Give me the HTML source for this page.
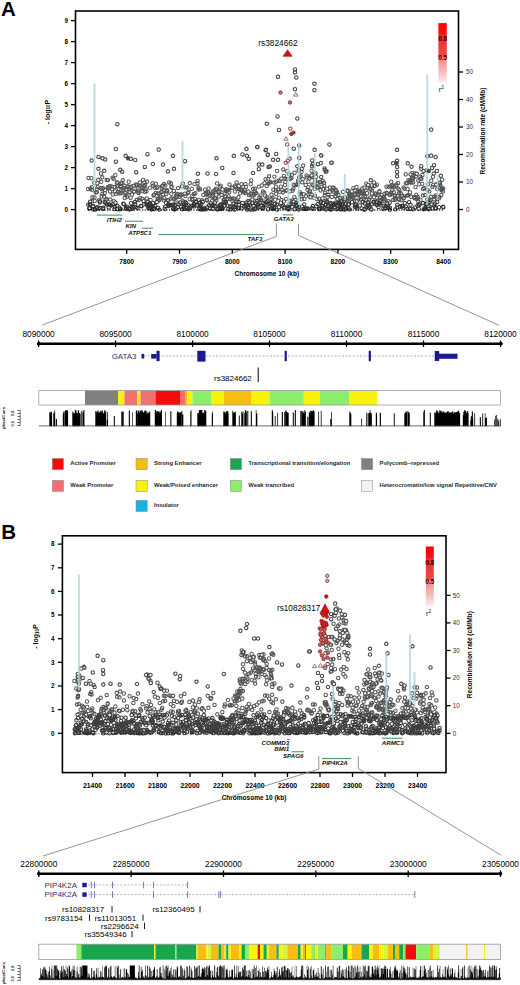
<!DOCTYPE html>
<html><head><meta charset="utf-8"><style>
html,body{margin:0;padding:0;background:#fff;width:520px;height:985px;overflow:hidden}
svg{display:block;font-family:"Liberation Sans", sans-serif}
</style></head><body>
<svg width="520" height="985" viewBox="0 0 520 985">
<text x="1" y="15.9" font-size="20.5" font-weight="bold" text-anchor="start" fill="#000">A</text>
<path d="M86.8 177.9a1.7 1.7 0 1 0 3.4 0a1.7 1.7 0 1 0 -3.4 0M86.5 189.0a1.7 1.7 0 1 0 3.4 0a1.7 1.7 0 1 0 -3.4 0M88.7 188.7a1.7 1.7 0 1 0 3.4 0a1.7 1.7 0 1 0 -3.4 0M90.0 187.2a1.7 1.7 0 1 0 3.4 0a1.7 1.7 0 1 0 -3.4 0M89.7 178.2a1.7 1.7 0 1 0 3.4 0a1.7 1.7 0 1 0 -3.4 0M90.3 189.8a1.7 1.7 0 1 0 3.4 0a1.7 1.7 0 1 0 -3.4 0M90.8 197.3a1.7 1.7 0 1 0 3.4 0a1.7 1.7 0 1 0 -3.4 0M90.3 201.2a1.7 1.7 0 1 0 3.4 0a1.7 1.7 0 1 0 -3.4 0M93.0 201.0a1.7 1.7 0 1 0 3.4 0a1.7 1.7 0 1 0 -3.4 0M92.8 197.5a1.7 1.7 0 1 0 3.4 0a1.7 1.7 0 1 0 -3.4 0M92.6 182.7a1.7 1.7 0 1 0 3.4 0a1.7 1.7 0 1 0 -3.4 0M94.0 192.6a1.7 1.7 0 1 0 3.4 0a1.7 1.7 0 1 0 -3.4 0M95.1 189.0a1.7 1.7 0 1 0 3.4 0a1.7 1.7 0 1 0 -3.4 0M95.1 192.1a1.7 1.7 0 1 0 3.4 0a1.7 1.7 0 1 0 -3.4 0M96.0 187.0a1.7 1.7 0 1 0 3.4 0a1.7 1.7 0 1 0 -3.4 0M95.7 183.2a1.7 1.7 0 1 0 3.4 0a1.7 1.7 0 1 0 -3.4 0M96.6 179.8a1.7 1.7 0 1 0 3.4 0a1.7 1.7 0 1 0 -3.4 0M97.4 200.1a1.7 1.7 0 1 0 3.4 0a1.7 1.7 0 1 0 -3.4 0M99.2 173.5a1.7 1.7 0 1 0 3.4 0a1.7 1.7 0 1 0 -3.4 0M99.2 188.3a1.7 1.7 0 1 0 3.4 0a1.7 1.7 0 1 0 -3.4 0M100.2 189.2a1.7 1.7 0 1 0 3.4 0a1.7 1.7 0 1 0 -3.4 0M99.9 196.2a1.7 1.7 0 1 0 3.4 0a1.7 1.7 0 1 0 -3.4 0M99.5 181.8a1.7 1.7 0 1 0 3.4 0a1.7 1.7 0 1 0 -3.4 0M100.6 194.0a1.7 1.7 0 1 0 3.4 0a1.7 1.7 0 1 0 -3.4 0M100.6 177.3a1.7 1.7 0 1 0 3.4 0a1.7 1.7 0 1 0 -3.4 0M101.2 188.3a1.7 1.7 0 1 0 3.4 0a1.7 1.7 0 1 0 -3.4 0M103.0 193.1a1.7 1.7 0 1 0 3.4 0a1.7 1.7 0 1 0 -3.4 0M102.4 197.0a1.7 1.7 0 1 0 3.4 0a1.7 1.7 0 1 0 -3.4 0M103.5 190.1a1.7 1.7 0 1 0 3.4 0a1.7 1.7 0 1 0 -3.4 0M103.8 199.8a1.7 1.7 0 1 0 3.4 0a1.7 1.7 0 1 0 -3.4 0M105.0 179.9a1.7 1.7 0 1 0 3.4 0a1.7 1.7 0 1 0 -3.4 0M105.0 199.3a1.7 1.7 0 1 0 3.4 0a1.7 1.7 0 1 0 -3.4 0M105.8 188.0a1.7 1.7 0 1 0 3.4 0a1.7 1.7 0 1 0 -3.4 0M106.2 180.1a1.7 1.7 0 1 0 3.4 0a1.7 1.7 0 1 0 -3.4 0M106.4 187.1a1.7 1.7 0 1 0 3.4 0a1.7 1.7 0 1 0 -3.4 0M108.3 191.4a1.7 1.7 0 1 0 3.4 0a1.7 1.7 0 1 0 -3.4 0M107.6 187.7a1.7 1.7 0 1 0 3.4 0a1.7 1.7 0 1 0 -3.4 0M108.6 199.4a1.7 1.7 0 1 0 3.4 0a1.7 1.7 0 1 0 -3.4 0M108.4 185.9a1.7 1.7 0 1 0 3.4 0a1.7 1.7 0 1 0 -3.4 0M109.9 186.4a1.7 1.7 0 1 0 3.4 0a1.7 1.7 0 1 0 -3.4 0M110.2 189.1a1.7 1.7 0 1 0 3.4 0a1.7 1.7 0 1 0 -3.4 0M111.0 194.5a1.7 1.7 0 1 0 3.4 0a1.7 1.7 0 1 0 -3.4 0M110.8 177.6a1.7 1.7 0 1 0 3.4 0a1.7 1.7 0 1 0 -3.4 0M112.2 201.2a1.7 1.7 0 1 0 3.4 0a1.7 1.7 0 1 0 -3.4 0M111.9 178.8a1.7 1.7 0 1 0 3.4 0a1.7 1.7 0 1 0 -3.4 0M113.3 187.0a1.7 1.7 0 1 0 3.4 0a1.7 1.7 0 1 0 -3.4 0M113.3 191.4a1.7 1.7 0 1 0 3.4 0a1.7 1.7 0 1 0 -3.4 0M113.6 175.1a1.7 1.7 0 1 0 3.4 0a1.7 1.7 0 1 0 -3.4 0M114.5 193.8a1.7 1.7 0 1 0 3.4 0a1.7 1.7 0 1 0 -3.4 0M115.2 182.2a1.7 1.7 0 1 0 3.4 0a1.7 1.7 0 1 0 -3.4 0M115.2 186.2a1.7 1.7 0 1 0 3.4 0a1.7 1.7 0 1 0 -3.4 0M115.8 183.2a1.7 1.7 0 1 0 3.4 0a1.7 1.7 0 1 0 -3.4 0M117.1 188.6a1.7 1.7 0 1 0 3.4 0a1.7 1.7 0 1 0 -3.4 0M116.5 192.5a1.7 1.7 0 1 0 3.4 0a1.7 1.7 0 1 0 -3.4 0M116.5 191.9a1.7 1.7 0 1 0 3.4 0a1.7 1.7 0 1 0 -3.4 0M117.9 193.5a1.7 1.7 0 1 0 3.4 0a1.7 1.7 0 1 0 -3.4 0M118.9 187.1a1.7 1.7 0 1 0 3.4 0a1.7 1.7 0 1 0 -3.4 0M119.1 185.8a1.7 1.7 0 1 0 3.4 0a1.7 1.7 0 1 0 -3.4 0M119.7 193.0a1.7 1.7 0 1 0 3.4 0a1.7 1.7 0 1 0 -3.4 0M119.3 186.4a1.7 1.7 0 1 0 3.4 0a1.7 1.7 0 1 0 -3.4 0M119.3 183.1a1.7 1.7 0 1 0 3.4 0a1.7 1.7 0 1 0 -3.4 0M121.1 180.3a1.7 1.7 0 1 0 3.4 0a1.7 1.7 0 1 0 -3.4 0M120.5 182.9a1.7 1.7 0 1 0 3.4 0a1.7 1.7 0 1 0 -3.4 0M121.1 191.3a1.7 1.7 0 1 0 3.4 0a1.7 1.7 0 1 0 -3.4 0M122.0 190.0a1.7 1.7 0 1 0 3.4 0a1.7 1.7 0 1 0 -3.4 0M122.7 185.8a1.7 1.7 0 1 0 3.4 0a1.7 1.7 0 1 0 -3.4 0M122.3 187.9a1.7 1.7 0 1 0 3.4 0a1.7 1.7 0 1 0 -3.4 0M123.0 198.0a1.7 1.7 0 1 0 3.4 0a1.7 1.7 0 1 0 -3.4 0M123.6 193.1a1.7 1.7 0 1 0 3.4 0a1.7 1.7 0 1 0 -3.4 0M123.9 195.2a1.7 1.7 0 1 0 3.4 0a1.7 1.7 0 1 0 -3.4 0M124.4 189.6a1.7 1.7 0 1 0 3.4 0a1.7 1.7 0 1 0 -3.4 0M125.2 196.7a1.7 1.7 0 1 0 3.4 0a1.7 1.7 0 1 0 -3.4 0M126.1 186.2a1.7 1.7 0 1 0 3.4 0a1.7 1.7 0 1 0 -3.4 0M126.2 187.3a1.7 1.7 0 1 0 3.4 0a1.7 1.7 0 1 0 -3.4 0M127.0 181.7a1.7 1.7 0 1 0 3.4 0a1.7 1.7 0 1 0 -3.4 0M127.2 188.8a1.7 1.7 0 1 0 3.4 0a1.7 1.7 0 1 0 -3.4 0M127.9 191.8a1.7 1.7 0 1 0 3.4 0a1.7 1.7 0 1 0 -3.4 0M127.8 192.5a1.7 1.7 0 1 0 3.4 0a1.7 1.7 0 1 0 -3.4 0M129.3 187.8a1.7 1.7 0 1 0 3.4 0a1.7 1.7 0 1 0 -3.4 0M129.0 197.7a1.7 1.7 0 1 0 3.4 0a1.7 1.7 0 1 0 -3.4 0M129.4 186.7a1.7 1.7 0 1 0 3.4 0a1.7 1.7 0 1 0 -3.4 0M130.3 194.7a1.7 1.7 0 1 0 3.4 0a1.7 1.7 0 1 0 -3.4 0M131.5 185.9a1.7 1.7 0 1 0 3.4 0a1.7 1.7 0 1 0 -3.4 0M132.2 191.5a1.7 1.7 0 1 0 3.4 0a1.7 1.7 0 1 0 -3.4 0M132.9 188.7a1.7 1.7 0 1 0 3.4 0a1.7 1.7 0 1 0 -3.4 0M132.6 191.4a1.7 1.7 0 1 0 3.4 0a1.7 1.7 0 1 0 -3.4 0M134.3 184.4a1.7 1.7 0 1 0 3.4 0a1.7 1.7 0 1 0 -3.4 0M135.2 199.9a1.7 1.7 0 1 0 3.4 0a1.7 1.7 0 1 0 -3.4 0M134.6 185.5a1.7 1.7 0 1 0 3.4 0a1.7 1.7 0 1 0 -3.4 0M135.2 199.6a1.7 1.7 0 1 0 3.4 0a1.7 1.7 0 1 0 -3.4 0M136.2 192.2a1.7 1.7 0 1 0 3.4 0a1.7 1.7 0 1 0 -3.4 0M135.3 185.4a1.7 1.7 0 1 0 3.4 0a1.7 1.7 0 1 0 -3.4 0M137.2 200.0a1.7 1.7 0 1 0 3.4 0a1.7 1.7 0 1 0 -3.4 0M136.9 193.1a1.7 1.7 0 1 0 3.4 0a1.7 1.7 0 1 0 -3.4 0M136.5 190.6a1.7 1.7 0 1 0 3.4 0a1.7 1.7 0 1 0 -3.4 0M138.1 182.5a1.7 1.7 0 1 0 3.4 0a1.7 1.7 0 1 0 -3.4 0M137.5 185.6a1.7 1.7 0 1 0 3.4 0a1.7 1.7 0 1 0 -3.4 0M139.0 185.4a1.7 1.7 0 1 0 3.4 0a1.7 1.7 0 1 0 -3.4 0M138.5 198.1a1.7 1.7 0 1 0 3.4 0a1.7 1.7 0 1 0 -3.4 0M139.9 187.0a1.7 1.7 0 1 0 3.4 0a1.7 1.7 0 1 0 -3.4 0M140.7 198.8a1.7 1.7 0 1 0 3.4 0a1.7 1.7 0 1 0 -3.4 0M140.3 188.6a1.7 1.7 0 1 0 3.4 0a1.7 1.7 0 1 0 -3.4 0M140.8 191.0a1.7 1.7 0 1 0 3.4 0a1.7 1.7 0 1 0 -3.4 0M141.4 179.9a1.7 1.7 0 1 0 3.4 0a1.7 1.7 0 1 0 -3.4 0M142.5 186.8a1.7 1.7 0 1 0 3.4 0a1.7 1.7 0 1 0 -3.4 0M142.8 182.6a1.7 1.7 0 1 0 3.4 0a1.7 1.7 0 1 0 -3.4 0M143.9 188.7a1.7 1.7 0 1 0 3.4 0a1.7 1.7 0 1 0 -3.4 0M143.4 185.1a1.7 1.7 0 1 0 3.4 0a1.7 1.7 0 1 0 -3.4 0M143.3 191.8a1.7 1.7 0 1 0 3.4 0a1.7 1.7 0 1 0 -3.4 0M144.7 191.3a1.7 1.7 0 1 0 3.4 0a1.7 1.7 0 1 0 -3.4 0M145.1 198.5a1.7 1.7 0 1 0 3.4 0a1.7 1.7 0 1 0 -3.4 0M145.3 181.6a1.7 1.7 0 1 0 3.4 0a1.7 1.7 0 1 0 -3.4 0M148.9 199.9a1.7 1.7 0 1 0 3.4 0a1.7 1.7 0 1 0 -3.4 0M148.4 187.8a1.7 1.7 0 1 0 3.4 0a1.7 1.7 0 1 0 -3.4 0M150.8 183.3a1.7 1.7 0 1 0 3.4 0a1.7 1.7 0 1 0 -3.4 0M151.2 185.7a1.7 1.7 0 1 0 3.4 0a1.7 1.7 0 1 0 -3.4 0M151.9 195.4a1.7 1.7 0 1 0 3.4 0a1.7 1.7 0 1 0 -3.4 0M152.5 194.5a1.7 1.7 0 1 0 3.4 0a1.7 1.7 0 1 0 -3.4 0M153.0 187.6a1.7 1.7 0 1 0 3.4 0a1.7 1.7 0 1 0 -3.4 0M154.0 193.0a1.7 1.7 0 1 0 3.4 0a1.7 1.7 0 1 0 -3.4 0M154.2 183.7a1.7 1.7 0 1 0 3.4 0a1.7 1.7 0 1 0 -3.4 0M155.1 195.7a1.7 1.7 0 1 0 3.4 0a1.7 1.7 0 1 0 -3.4 0M155.1 187.9a1.7 1.7 0 1 0 3.4 0a1.7 1.7 0 1 0 -3.4 0M155.8 200.8a1.7 1.7 0 1 0 3.4 0a1.7 1.7 0 1 0 -3.4 0M156.0 199.3a1.7 1.7 0 1 0 3.4 0a1.7 1.7 0 1 0 -3.4 0M156.0 186.7a1.7 1.7 0 1 0 3.4 0a1.7 1.7 0 1 0 -3.4 0M157.2 200.5a1.7 1.7 0 1 0 3.4 0a1.7 1.7 0 1 0 -3.4 0M156.4 193.4a1.7 1.7 0 1 0 3.4 0a1.7 1.7 0 1 0 -3.4 0M157.9 193.3a1.7 1.7 0 1 0 3.4 0a1.7 1.7 0 1 0 -3.4 0M158.9 196.5a1.7 1.7 0 1 0 3.4 0a1.7 1.7 0 1 0 -3.4 0M158.8 196.2a1.7 1.7 0 1 0 3.4 0a1.7 1.7 0 1 0 -3.4 0M158.4 198.4a1.7 1.7 0 1 0 3.4 0a1.7 1.7 0 1 0 -3.4 0M160.2 189.1a1.7 1.7 0 1 0 3.4 0a1.7 1.7 0 1 0 -3.4 0M159.5 192.2a1.7 1.7 0 1 0 3.4 0a1.7 1.7 0 1 0 -3.4 0M161.2 185.6a1.7 1.7 0 1 0 3.4 0a1.7 1.7 0 1 0 -3.4 0M161.1 194.5a1.7 1.7 0 1 0 3.4 0a1.7 1.7 0 1 0 -3.4 0M160.4 186.1a1.7 1.7 0 1 0 3.4 0a1.7 1.7 0 1 0 -3.4 0M162.3 184.0a1.7 1.7 0 1 0 3.4 0a1.7 1.7 0 1 0 -3.4 0M161.9 189.9a1.7 1.7 0 1 0 3.4 0a1.7 1.7 0 1 0 -3.4 0M162.2 200.5a1.7 1.7 0 1 0 3.4 0a1.7 1.7 0 1 0 -3.4 0M162.4 190.4a1.7 1.7 0 1 0 3.4 0a1.7 1.7 0 1 0 -3.4 0M162.6 198.2a1.7 1.7 0 1 0 3.4 0a1.7 1.7 0 1 0 -3.4 0M163.6 185.4a1.7 1.7 0 1 0 3.4 0a1.7 1.7 0 1 0 -3.4 0M164.7 193.9a1.7 1.7 0 1 0 3.4 0a1.7 1.7 0 1 0 -3.4 0M165.0 190.1a1.7 1.7 0 1 0 3.4 0a1.7 1.7 0 1 0 -3.4 0M165.5 190.5a1.7 1.7 0 1 0 3.4 0a1.7 1.7 0 1 0 -3.4 0M165.5 191.5a1.7 1.7 0 1 0 3.4 0a1.7 1.7 0 1 0 -3.4 0M165.9 200.0a1.7 1.7 0 1 0 3.4 0a1.7 1.7 0 1 0 -3.4 0M166.7 200.7a1.7 1.7 0 1 0 3.4 0a1.7 1.7 0 1 0 -3.4 0M167.5 182.4a1.7 1.7 0 1 0 3.4 0a1.7 1.7 0 1 0 -3.4 0M169.3 198.5a1.7 1.7 0 1 0 3.4 0a1.7 1.7 0 1 0 -3.4 0M169.1 183.3a1.7 1.7 0 1 0 3.4 0a1.7 1.7 0 1 0 -3.4 0M170.0 186.7a1.7 1.7 0 1 0 3.4 0a1.7 1.7 0 1 0 -3.4 0M169.7 187.4a1.7 1.7 0 1 0 3.4 0a1.7 1.7 0 1 0 -3.4 0M169.6 193.8a1.7 1.7 0 1 0 3.4 0a1.7 1.7 0 1 0 -3.4 0M171.1 198.4a1.7 1.7 0 1 0 3.4 0a1.7 1.7 0 1 0 -3.4 0M172.2 190.9a1.7 1.7 0 1 0 3.4 0a1.7 1.7 0 1 0 -3.4 0M172.5 199.3a1.7 1.7 0 1 0 3.4 0a1.7 1.7 0 1 0 -3.4 0M173.9 200.6a1.7 1.7 0 1 0 3.4 0a1.7 1.7 0 1 0 -3.4 0M174.7 196.5a1.7 1.7 0 1 0 3.4 0a1.7 1.7 0 1 0 -3.4 0M175.2 197.0a1.7 1.7 0 1 0 3.4 0a1.7 1.7 0 1 0 -3.4 0M174.6 195.3a1.7 1.7 0 1 0 3.4 0a1.7 1.7 0 1 0 -3.4 0M175.5 193.9a1.7 1.7 0 1 0 3.4 0a1.7 1.7 0 1 0 -3.4 0M176.4 188.1a1.7 1.7 0 1 0 3.4 0a1.7 1.7 0 1 0 -3.4 0M178.0 196.8a1.7 1.7 0 1 0 3.4 0a1.7 1.7 0 1 0 -3.4 0M178.4 194.4a1.7 1.7 0 1 0 3.4 0a1.7 1.7 0 1 0 -3.4 0M179.2 195.5a1.7 1.7 0 1 0 3.4 0a1.7 1.7 0 1 0 -3.4 0M179.7 194.4a1.7 1.7 0 1 0 3.4 0a1.7 1.7 0 1 0 -3.4 0M180.3 186.3a1.7 1.7 0 1 0 3.4 0a1.7 1.7 0 1 0 -3.4 0M180.9 200.8a1.7 1.7 0 1 0 3.4 0a1.7 1.7 0 1 0 -3.4 0M181.1 183.6a1.7 1.7 0 1 0 3.4 0a1.7 1.7 0 1 0 -3.4 0M183.0 193.8a1.7 1.7 0 1 0 3.4 0a1.7 1.7 0 1 0 -3.4 0M183.7 196.1a1.7 1.7 0 1 0 3.4 0a1.7 1.7 0 1 0 -3.4 0M183.9 187.4a1.7 1.7 0 1 0 3.4 0a1.7 1.7 0 1 0 -3.4 0M185.4 187.5a1.7 1.7 0 1 0 3.4 0a1.7 1.7 0 1 0 -3.4 0M186.3 193.0a1.7 1.7 0 1 0 3.4 0a1.7 1.7 0 1 0 -3.4 0M186.8 191.9a1.7 1.7 0 1 0 3.4 0a1.7 1.7 0 1 0 -3.4 0M188.1 183.1a1.7 1.7 0 1 0 3.4 0a1.7 1.7 0 1 0 -3.4 0M188.0 199.2a1.7 1.7 0 1 0 3.4 0a1.7 1.7 0 1 0 -3.4 0M190.3 198.9a1.7 1.7 0 1 0 3.4 0a1.7 1.7 0 1 0 -3.4 0M190.1 188.7a1.7 1.7 0 1 0 3.4 0a1.7 1.7 0 1 0 -3.4 0M190.5 195.7a1.7 1.7 0 1 0 3.4 0a1.7 1.7 0 1 0 -3.4 0M190.7 200.0a1.7 1.7 0 1 0 3.4 0a1.7 1.7 0 1 0 -3.4 0M192.2 194.0a1.7 1.7 0 1 0 3.4 0a1.7 1.7 0 1 0 -3.4 0M192.8 184.0a1.7 1.7 0 1 0 3.4 0a1.7 1.7 0 1 0 -3.4 0M193.3 199.0a1.7 1.7 0 1 0 3.4 0a1.7 1.7 0 1 0 -3.4 0M193.6 193.2a1.7 1.7 0 1 0 3.4 0a1.7 1.7 0 1 0 -3.4 0M195.8 183.4a1.7 1.7 0 1 0 3.4 0a1.7 1.7 0 1 0 -3.4 0M195.9 181.0a1.7 1.7 0 1 0 3.4 0a1.7 1.7 0 1 0 -3.4 0M196.8 187.6a1.7 1.7 0 1 0 3.4 0a1.7 1.7 0 1 0 -3.4 0M197.1 200.0a1.7 1.7 0 1 0 3.4 0a1.7 1.7 0 1 0 -3.4 0M197.0 189.5a1.7 1.7 0 1 0 3.4 0a1.7 1.7 0 1 0 -3.4 0M198.4 189.3a1.7 1.7 0 1 0 3.4 0a1.7 1.7 0 1 0 -3.4 0M200.3 200.3a1.7 1.7 0 1 0 3.4 0a1.7 1.7 0 1 0 -3.4 0M201.7 194.9a1.7 1.7 0 1 0 3.4 0a1.7 1.7 0 1 0 -3.4 0M204.2 194.0a1.7 1.7 0 1 0 3.4 0a1.7 1.7 0 1 0 -3.4 0M204.1 192.7a1.7 1.7 0 1 0 3.4 0a1.7 1.7 0 1 0 -3.4 0M203.4 189.7a1.7 1.7 0 1 0 3.4 0a1.7 1.7 0 1 0 -3.4 0M204.7 193.2a1.7 1.7 0 1 0 3.4 0a1.7 1.7 0 1 0 -3.4 0M204.4 194.5a1.7 1.7 0 1 0 3.4 0a1.7 1.7 0 1 0 -3.4 0M205.0 199.6a1.7 1.7 0 1 0 3.4 0a1.7 1.7 0 1 0 -3.4 0M206.1 192.0a1.7 1.7 0 1 0 3.4 0a1.7 1.7 0 1 0 -3.4 0M205.3 200.5a1.7 1.7 0 1 0 3.4 0a1.7 1.7 0 1 0 -3.4 0M206.9 188.5a1.7 1.7 0 1 0 3.4 0a1.7 1.7 0 1 0 -3.4 0M206.5 192.8a1.7 1.7 0 1 0 3.4 0a1.7 1.7 0 1 0 -3.4 0M207.9 196.2a1.7 1.7 0 1 0 3.4 0a1.7 1.7 0 1 0 -3.4 0M208.3 194.6a1.7 1.7 0 1 0 3.4 0a1.7 1.7 0 1 0 -3.4 0M210.1 196.5a1.7 1.7 0 1 0 3.4 0a1.7 1.7 0 1 0 -3.4 0M210.2 201.1a1.7 1.7 0 1 0 3.4 0a1.7 1.7 0 1 0 -3.4 0M210.6 192.7a1.7 1.7 0 1 0 3.4 0a1.7 1.7 0 1 0 -3.4 0M211.1 195.6a1.7 1.7 0 1 0 3.4 0a1.7 1.7 0 1 0 -3.4 0M211.4 191.4a1.7 1.7 0 1 0 3.4 0a1.7 1.7 0 1 0 -3.4 0M212.6 190.6a1.7 1.7 0 1 0 3.4 0a1.7 1.7 0 1 0 -3.4 0M212.9 198.1a1.7 1.7 0 1 0 3.4 0a1.7 1.7 0 1 0 -3.4 0M214.0 198.3a1.7 1.7 0 1 0 3.4 0a1.7 1.7 0 1 0 -3.4 0M214.0 189.1a1.7 1.7 0 1 0 3.4 0a1.7 1.7 0 1 0 -3.4 0M214.4 189.8a1.7 1.7 0 1 0 3.4 0a1.7 1.7 0 1 0 -3.4 0M214.7 200.5a1.7 1.7 0 1 0 3.4 0a1.7 1.7 0 1 0 -3.4 0M214.6 195.0a1.7 1.7 0 1 0 3.4 0a1.7 1.7 0 1 0 -3.4 0M215.4 183.5a1.7 1.7 0 1 0 3.4 0a1.7 1.7 0 1 0 -3.4 0M217.2 196.5a1.7 1.7 0 1 0 3.4 0a1.7 1.7 0 1 0 -3.4 0M216.7 191.4a1.7 1.7 0 1 0 3.4 0a1.7 1.7 0 1 0 -3.4 0M217.6 192.1a1.7 1.7 0 1 0 3.4 0a1.7 1.7 0 1 0 -3.4 0M218.1 187.2a1.7 1.7 0 1 0 3.4 0a1.7 1.7 0 1 0 -3.4 0M219.0 185.8a1.7 1.7 0 1 0 3.4 0a1.7 1.7 0 1 0 -3.4 0M219.8 194.9a1.7 1.7 0 1 0 3.4 0a1.7 1.7 0 1 0 -3.4 0M220.8 189.5a1.7 1.7 0 1 0 3.4 0a1.7 1.7 0 1 0 -3.4 0M222.1 200.7a1.7 1.7 0 1 0 3.4 0a1.7 1.7 0 1 0 -3.4 0M222.0 199.9a1.7 1.7 0 1 0 3.4 0a1.7 1.7 0 1 0 -3.4 0M223.1 193.4a1.7 1.7 0 1 0 3.4 0a1.7 1.7 0 1 0 -3.4 0M223.1 196.3a1.7 1.7 0 1 0 3.4 0a1.7 1.7 0 1 0 -3.4 0M224.0 196.6a1.7 1.7 0 1 0 3.4 0a1.7 1.7 0 1 0 -3.4 0M224.2 191.2a1.7 1.7 0 1 0 3.4 0a1.7 1.7 0 1 0 -3.4 0M224.4 189.3a1.7 1.7 0 1 0 3.4 0a1.7 1.7 0 1 0 -3.4 0M225.0 191.4a1.7 1.7 0 1 0 3.4 0a1.7 1.7 0 1 0 -3.4 0M226.0 198.8a1.7 1.7 0 1 0 3.4 0a1.7 1.7 0 1 0 -3.4 0M225.4 190.1a1.7 1.7 0 1 0 3.4 0a1.7 1.7 0 1 0 -3.4 0M227.0 196.4a1.7 1.7 0 1 0 3.4 0a1.7 1.7 0 1 0 -3.4 0M226.4 189.9a1.7 1.7 0 1 0 3.4 0a1.7 1.7 0 1 0 -3.4 0M227.6 192.0a1.7 1.7 0 1 0 3.4 0a1.7 1.7 0 1 0 -3.4 0M227.8 184.5a1.7 1.7 0 1 0 3.4 0a1.7 1.7 0 1 0 -3.4 0M228.0 198.8a1.7 1.7 0 1 0 3.4 0a1.7 1.7 0 1 0 -3.4 0M230.2 187.9a1.7 1.7 0 1 0 3.4 0a1.7 1.7 0 1 0 -3.4 0M230.6 198.6a1.7 1.7 0 1 0 3.4 0a1.7 1.7 0 1 0 -3.4 0M230.8 200.9a1.7 1.7 0 1 0 3.4 0a1.7 1.7 0 1 0 -3.4 0M230.7 187.6a1.7 1.7 0 1 0 3.4 0a1.7 1.7 0 1 0 -3.4 0M232.1 198.5a1.7 1.7 0 1 0 3.4 0a1.7 1.7 0 1 0 -3.4 0M232.7 198.7a1.7 1.7 0 1 0 3.4 0a1.7 1.7 0 1 0 -3.4 0M233.3 191.6a1.7 1.7 0 1 0 3.4 0a1.7 1.7 0 1 0 -3.4 0M234.1 187.0a1.7 1.7 0 1 0 3.4 0a1.7 1.7 0 1 0 -3.4 0M233.4 185.7a1.7 1.7 0 1 0 3.4 0a1.7 1.7 0 1 0 -3.4 0M235.0 182.4a1.7 1.7 0 1 0 3.4 0a1.7 1.7 0 1 0 -3.4 0M235.7 188.8a1.7 1.7 0 1 0 3.4 0a1.7 1.7 0 1 0 -3.4 0M236.7 197.3a1.7 1.7 0 1 0 3.4 0a1.7 1.7 0 1 0 -3.4 0M237.1 185.9a1.7 1.7 0 1 0 3.4 0a1.7 1.7 0 1 0 -3.4 0M237.5 189.3a1.7 1.7 0 1 0 3.4 0a1.7 1.7 0 1 0 -3.4 0M238.4 193.2a1.7 1.7 0 1 0 3.4 0a1.7 1.7 0 1 0 -3.4 0M239.0 190.4a1.7 1.7 0 1 0 3.4 0a1.7 1.7 0 1 0 -3.4 0M239.5 189.2a1.7 1.7 0 1 0 3.4 0a1.7 1.7 0 1 0 -3.4 0M239.7 184.3a1.7 1.7 0 1 0 3.4 0a1.7 1.7 0 1 0 -3.4 0M241.0 187.0a1.7 1.7 0 1 0 3.4 0a1.7 1.7 0 1 0 -3.4 0M240.6 190.1a1.7 1.7 0 1 0 3.4 0a1.7 1.7 0 1 0 -3.4 0M241.5 191.8a1.7 1.7 0 1 0 3.4 0a1.7 1.7 0 1 0 -3.4 0M242.2 192.1a1.7 1.7 0 1 0 3.4 0a1.7 1.7 0 1 0 -3.4 0M242.8 190.1a1.7 1.7 0 1 0 3.4 0a1.7 1.7 0 1 0 -3.4 0M242.7 190.0a1.7 1.7 0 1 0 3.4 0a1.7 1.7 0 1 0 -3.4 0M243.3 193.1a1.7 1.7 0 1 0 3.4 0a1.7 1.7 0 1 0 -3.4 0M243.7 184.2a1.7 1.7 0 1 0 3.4 0a1.7 1.7 0 1 0 -3.4 0M244.3 186.9a1.7 1.7 0 1 0 3.4 0a1.7 1.7 0 1 0 -3.4 0M246.3 201.0a1.7 1.7 0 1 0 3.4 0a1.7 1.7 0 1 0 -3.4 0M247.3 195.1a1.7 1.7 0 1 0 3.4 0a1.7 1.7 0 1 0 -3.4 0M246.6 191.6a1.7 1.7 0 1 0 3.4 0a1.7 1.7 0 1 0 -3.4 0M247.9 200.9a1.7 1.7 0 1 0 3.4 0a1.7 1.7 0 1 0 -3.4 0M248.9 194.4a1.7 1.7 0 1 0 3.4 0a1.7 1.7 0 1 0 -3.4 0M249.0 184.3a1.7 1.7 0 1 0 3.4 0a1.7 1.7 0 1 0 -3.4 0M249.5 180.4a1.7 1.7 0 1 0 3.4 0a1.7 1.7 0 1 0 -3.4 0M249.5 193.5a1.7 1.7 0 1 0 3.4 0a1.7 1.7 0 1 0 -3.4 0M250.9 196.2a1.7 1.7 0 1 0 3.4 0a1.7 1.7 0 1 0 -3.4 0M250.5 199.4a1.7 1.7 0 1 0 3.4 0a1.7 1.7 0 1 0 -3.4 0M251.4 188.9a1.7 1.7 0 1 0 3.4 0a1.7 1.7 0 1 0 -3.4 0M252.3 194.9a1.7 1.7 0 1 0 3.4 0a1.7 1.7 0 1 0 -3.4 0M253.2 191.5a1.7 1.7 0 1 0 3.4 0a1.7 1.7 0 1 0 -3.4 0M253.1 188.7a1.7 1.7 0 1 0 3.4 0a1.7 1.7 0 1 0 -3.4 0M253.7 193.4a1.7 1.7 0 1 0 3.4 0a1.7 1.7 0 1 0 -3.4 0M253.8 200.8a1.7 1.7 0 1 0 3.4 0a1.7 1.7 0 1 0 -3.4 0M254.6 193.1a1.7 1.7 0 1 0 3.4 0a1.7 1.7 0 1 0 -3.4 0M257.0 200.2a1.7 1.7 0 1 0 3.4 0a1.7 1.7 0 1 0 -3.4 0M257.2 186.6a1.7 1.7 0 1 0 3.4 0a1.7 1.7 0 1 0 -3.4 0M257.7 197.5a1.7 1.7 0 1 0 3.4 0a1.7 1.7 0 1 0 -3.4 0M259.1 200.9a1.7 1.7 0 1 0 3.4 0a1.7 1.7 0 1 0 -3.4 0M258.7 195.4a1.7 1.7 0 1 0 3.4 0a1.7 1.7 0 1 0 -3.4 0M259.3 199.4a1.7 1.7 0 1 0 3.4 0a1.7 1.7 0 1 0 -3.4 0M260.1 185.4a1.7 1.7 0 1 0 3.4 0a1.7 1.7 0 1 0 -3.4 0M259.8 200.0a1.7 1.7 0 1 0 3.4 0a1.7 1.7 0 1 0 -3.4 0M261.3 191.5a1.7 1.7 0 1 0 3.4 0a1.7 1.7 0 1 0 -3.4 0M262.5 192.6a1.7 1.7 0 1 0 3.4 0a1.7 1.7 0 1 0 -3.4 0M262.7 183.1a1.7 1.7 0 1 0 3.4 0a1.7 1.7 0 1 0 -3.4 0M263.9 179.1a1.7 1.7 0 1 0 3.4 0a1.7 1.7 0 1 0 -3.4 0M263.5 195.7a1.7 1.7 0 1 0 3.4 0a1.7 1.7 0 1 0 -3.4 0M264.9 199.2a1.7 1.7 0 1 0 3.4 0a1.7 1.7 0 1 0 -3.4 0M265.0 185.9a1.7 1.7 0 1 0 3.4 0a1.7 1.7 0 1 0 -3.4 0M265.5 197.2a1.7 1.7 0 1 0 3.4 0a1.7 1.7 0 1 0 -3.4 0M266.5 179.3a1.7 1.7 0 1 0 3.4 0a1.7 1.7 0 1 0 -3.4 0M266.7 183.7a1.7 1.7 0 1 0 3.4 0a1.7 1.7 0 1 0 -3.4 0M267.4 176.3a1.7 1.7 0 1 0 3.4 0a1.7 1.7 0 1 0 -3.4 0M267.7 182.8a1.7 1.7 0 1 0 3.4 0a1.7 1.7 0 1 0 -3.4 0M268.7 182.3a1.7 1.7 0 1 0 3.4 0a1.7 1.7 0 1 0 -3.4 0M269.7 198.9a1.7 1.7 0 1 0 3.4 0a1.7 1.7 0 1 0 -3.4 0M269.8 194.6a1.7 1.7 0 1 0 3.4 0a1.7 1.7 0 1 0 -3.4 0M270.9 197.6a1.7 1.7 0 1 0 3.4 0a1.7 1.7 0 1 0 -3.4 0M271.7 189.7a1.7 1.7 0 1 0 3.4 0a1.7 1.7 0 1 0 -3.4 0M272.7 176.6a1.7 1.7 0 1 0 3.4 0a1.7 1.7 0 1 0 -3.4 0M272.5 182.5a1.7 1.7 0 1 0 3.4 0a1.7 1.7 0 1 0 -3.4 0M273.5 199.7a1.7 1.7 0 1 0 3.4 0a1.7 1.7 0 1 0 -3.4 0M274.2 181.8a1.7 1.7 0 1 0 3.4 0a1.7 1.7 0 1 0 -3.4 0M274.1 190.2a1.7 1.7 0 1 0 3.4 0a1.7 1.7 0 1 0 -3.4 0M274.3 186.7a1.7 1.7 0 1 0 3.4 0a1.7 1.7 0 1 0 -3.4 0M274.4 193.8a1.7 1.7 0 1 0 3.4 0a1.7 1.7 0 1 0 -3.4 0M275.4 171.0a1.7 1.7 0 1 0 3.4 0a1.7 1.7 0 1 0 -3.4 0M276.3 189.7a1.7 1.7 0 1 0 3.4 0a1.7 1.7 0 1 0 -3.4 0M276.9 180.7a1.7 1.7 0 1 0 3.4 0a1.7 1.7 0 1 0 -3.4 0M278.0 191.8a1.7 1.7 0 1 0 3.4 0a1.7 1.7 0 1 0 -3.4 0M277.3 197.7a1.7 1.7 0 1 0 3.4 0a1.7 1.7 0 1 0 -3.4 0M278.4 181.1a1.7 1.7 0 1 0 3.4 0a1.7 1.7 0 1 0 -3.4 0M279.2 186.6a1.7 1.7 0 1 0 3.4 0a1.7 1.7 0 1 0 -3.4 0M279.7 200.1a1.7 1.7 0 1 0 3.4 0a1.7 1.7 0 1 0 -3.4 0M279.7 178.6a1.7 1.7 0 1 0 3.4 0a1.7 1.7 0 1 0 -3.4 0M281.0 192.5a1.7 1.7 0 1 0 3.4 0a1.7 1.7 0 1 0 -3.4 0M280.7 190.1a1.7 1.7 0 1 0 3.4 0a1.7 1.7 0 1 0 -3.4 0M281.2 192.2a1.7 1.7 0 1 0 3.4 0a1.7 1.7 0 1 0 -3.4 0M282.3 201.2a1.7 1.7 0 1 0 3.4 0a1.7 1.7 0 1 0 -3.4 0M282.3 176.0a1.7 1.7 0 1 0 3.4 0a1.7 1.7 0 1 0 -3.4 0M283.1 178.5a1.7 1.7 0 1 0 3.4 0a1.7 1.7 0 1 0 -3.4 0M284.2 198.9a1.7 1.7 0 1 0 3.4 0a1.7 1.7 0 1 0 -3.4 0M283.6 181.9a1.7 1.7 0 1 0 3.4 0a1.7 1.7 0 1 0 -3.4 0M283.4 185.0a1.7 1.7 0 1 0 3.4 0a1.7 1.7 0 1 0 -3.4 0M284.8 190.3a1.7 1.7 0 1 0 3.4 0a1.7 1.7 0 1 0 -3.4 0M284.5 190.7a1.7 1.7 0 1 0 3.4 0a1.7 1.7 0 1 0 -3.4 0M285.0 179.1a1.7 1.7 0 1 0 3.4 0a1.7 1.7 0 1 0 -3.4 0M285.5 171.2a1.7 1.7 0 1 0 3.4 0a1.7 1.7 0 1 0 -3.4 0M285.4 190.1a1.7 1.7 0 1 0 3.4 0a1.7 1.7 0 1 0 -3.4 0M288.0 191.3a1.7 1.7 0 1 0 3.4 0a1.7 1.7 0 1 0 -3.4 0M287.4 174.4a1.7 1.7 0 1 0 3.4 0a1.7 1.7 0 1 0 -3.4 0M288.5 200.7a1.7 1.7 0 1 0 3.4 0a1.7 1.7 0 1 0 -3.4 0M288.3 178.9a1.7 1.7 0 1 0 3.4 0a1.7 1.7 0 1 0 -3.4 0M289.4 177.9a1.7 1.7 0 1 0 3.4 0a1.7 1.7 0 1 0 -3.4 0M290.0 174.9a1.7 1.7 0 1 0 3.4 0a1.7 1.7 0 1 0 -3.4 0M289.8 177.9a1.7 1.7 0 1 0 3.4 0a1.7 1.7 0 1 0 -3.4 0M291.0 190.6a1.7 1.7 0 1 0 3.4 0a1.7 1.7 0 1 0 -3.4 0M290.5 200.6a1.7 1.7 0 1 0 3.4 0a1.7 1.7 0 1 0 -3.4 0M291.6 188.8a1.7 1.7 0 1 0 3.4 0a1.7 1.7 0 1 0 -3.4 0M292.1 184.8a1.7 1.7 0 1 0 3.4 0a1.7 1.7 0 1 0 -3.4 0M292.7 197.1a1.7 1.7 0 1 0 3.4 0a1.7 1.7 0 1 0 -3.4 0M292.9 172.7a1.7 1.7 0 1 0 3.4 0a1.7 1.7 0 1 0 -3.4 0M293.7 199.8a1.7 1.7 0 1 0 3.4 0a1.7 1.7 0 1 0 -3.4 0M294.0 185.0a1.7 1.7 0 1 0 3.4 0a1.7 1.7 0 1 0 -3.4 0M296.1 184.7a1.7 1.7 0 1 0 3.4 0a1.7 1.7 0 1 0 -3.4 0M295.4 184.5a1.7 1.7 0 1 0 3.4 0a1.7 1.7 0 1 0 -3.4 0M296.3 180.8a1.7 1.7 0 1 0 3.4 0a1.7 1.7 0 1 0 -3.4 0M296.7 182.3a1.7 1.7 0 1 0 3.4 0a1.7 1.7 0 1 0 -3.4 0M298.2 194.2a1.7 1.7 0 1 0 3.4 0a1.7 1.7 0 1 0 -3.4 0M297.6 177.2a1.7 1.7 0 1 0 3.4 0a1.7 1.7 0 1 0 -3.4 0M298.1 192.1a1.7 1.7 0 1 0 3.4 0a1.7 1.7 0 1 0 -3.4 0M299.2 196.1a1.7 1.7 0 1 0 3.4 0a1.7 1.7 0 1 0 -3.4 0M299.2 193.8a1.7 1.7 0 1 0 3.4 0a1.7 1.7 0 1 0 -3.4 0M299.0 176.3a1.7 1.7 0 1 0 3.4 0a1.7 1.7 0 1 0 -3.4 0M299.8 171.7a1.7 1.7 0 1 0 3.4 0a1.7 1.7 0 1 0 -3.4 0M300.1 199.3a1.7 1.7 0 1 0 3.4 0a1.7 1.7 0 1 0 -3.4 0M300.1 169.0a1.7 1.7 0 1 0 3.4 0a1.7 1.7 0 1 0 -3.4 0M300.6 182.2a1.7 1.7 0 1 0 3.4 0a1.7 1.7 0 1 0 -3.4 0M301.0 179.2a1.7 1.7 0 1 0 3.4 0a1.7 1.7 0 1 0 -3.4 0M301.5 165.5a1.7 1.7 0 1 0 3.4 0a1.7 1.7 0 1 0 -3.4 0M302.0 194.2a1.7 1.7 0 1 0 3.4 0a1.7 1.7 0 1 0 -3.4 0M302.5 198.9a1.7 1.7 0 1 0 3.4 0a1.7 1.7 0 1 0 -3.4 0M304.0 184.9a1.7 1.7 0 1 0 3.4 0a1.7 1.7 0 1 0 -3.4 0M304.2 196.1a1.7 1.7 0 1 0 3.4 0a1.7 1.7 0 1 0 -3.4 0M304.9 175.4a1.7 1.7 0 1 0 3.4 0a1.7 1.7 0 1 0 -3.4 0M305.0 177.4a1.7 1.7 0 1 0 3.4 0a1.7 1.7 0 1 0 -3.4 0M305.8 189.7a1.7 1.7 0 1 0 3.4 0a1.7 1.7 0 1 0 -3.4 0M306.7 181.8a1.7 1.7 0 1 0 3.4 0a1.7 1.7 0 1 0 -3.4 0M306.9 194.0a1.7 1.7 0 1 0 3.4 0a1.7 1.7 0 1 0 -3.4 0M306.5 187.2a1.7 1.7 0 1 0 3.4 0a1.7 1.7 0 1 0 -3.4 0M307.7 178.3a1.7 1.7 0 1 0 3.4 0a1.7 1.7 0 1 0 -3.4 0M308.2 192.5a1.7 1.7 0 1 0 3.4 0a1.7 1.7 0 1 0 -3.4 0M308.2 190.7a1.7 1.7 0 1 0 3.4 0a1.7 1.7 0 1 0 -3.4 0M308.9 197.1a1.7 1.7 0 1 0 3.4 0a1.7 1.7 0 1 0 -3.4 0M309.1 176.5a1.7 1.7 0 1 0 3.4 0a1.7 1.7 0 1 0 -3.4 0M308.6 197.4a1.7 1.7 0 1 0 3.4 0a1.7 1.7 0 1 0 -3.4 0M310.0 194.5a1.7 1.7 0 1 0 3.4 0a1.7 1.7 0 1 0 -3.4 0M309.9 170.7a1.7 1.7 0 1 0 3.4 0a1.7 1.7 0 1 0 -3.4 0M310.7 184.6a1.7 1.7 0 1 0 3.4 0a1.7 1.7 0 1 0 -3.4 0M310.5 177.1a1.7 1.7 0 1 0 3.4 0a1.7 1.7 0 1 0 -3.4 0M311.7 185.5a1.7 1.7 0 1 0 3.4 0a1.7 1.7 0 1 0 -3.4 0M312.2 197.8a1.7 1.7 0 1 0 3.4 0a1.7 1.7 0 1 0 -3.4 0M312.7 174.2a1.7 1.7 0 1 0 3.4 0a1.7 1.7 0 1 0 -3.4 0M313.3 195.6a1.7 1.7 0 1 0 3.4 0a1.7 1.7 0 1 0 -3.4 0M312.9 189.0a1.7 1.7 0 1 0 3.4 0a1.7 1.7 0 1 0 -3.4 0M313.7 186.6a1.7 1.7 0 1 0 3.4 0a1.7 1.7 0 1 0 -3.4 0M313.4 180.5a1.7 1.7 0 1 0 3.4 0a1.7 1.7 0 1 0 -3.4 0M313.9 173.2a1.7 1.7 0 1 0 3.4 0a1.7 1.7 0 1 0 -3.4 0M315.3 199.2a1.7 1.7 0 1 0 3.4 0a1.7 1.7 0 1 0 -3.4 0M314.4 176.9a1.7 1.7 0 1 0 3.4 0a1.7 1.7 0 1 0 -3.4 0M316.2 183.2a1.7 1.7 0 1 0 3.4 0a1.7 1.7 0 1 0 -3.4 0M315.5 187.5a1.7 1.7 0 1 0 3.4 0a1.7 1.7 0 1 0 -3.4 0M316.5 187.5a1.7 1.7 0 1 0 3.4 0a1.7 1.7 0 1 0 -3.4 0M317.7 181.9a1.7 1.7 0 1 0 3.4 0a1.7 1.7 0 1 0 -3.4 0M317.4 198.8a1.7 1.7 0 1 0 3.4 0a1.7 1.7 0 1 0 -3.4 0M318.9 190.3a1.7 1.7 0 1 0 3.4 0a1.7 1.7 0 1 0 -3.4 0M318.8 182.0a1.7 1.7 0 1 0 3.4 0a1.7 1.7 0 1 0 -3.4 0M320.0 186.7a1.7 1.7 0 1 0 3.4 0a1.7 1.7 0 1 0 -3.4 0M321.1 180.9a1.7 1.7 0 1 0 3.4 0a1.7 1.7 0 1 0 -3.4 0M320.9 198.5a1.7 1.7 0 1 0 3.4 0a1.7 1.7 0 1 0 -3.4 0M321.4 188.9a1.7 1.7 0 1 0 3.4 0a1.7 1.7 0 1 0 -3.4 0M323.0 200.8a1.7 1.7 0 1 0 3.4 0a1.7 1.7 0 1 0 -3.4 0M322.4 182.8a1.7 1.7 0 1 0 3.4 0a1.7 1.7 0 1 0 -3.4 0M323.2 195.0a1.7 1.7 0 1 0 3.4 0a1.7 1.7 0 1 0 -3.4 0M322.5 185.7a1.7 1.7 0 1 0 3.4 0a1.7 1.7 0 1 0 -3.4 0M323.3 192.9a1.7 1.7 0 1 0 3.4 0a1.7 1.7 0 1 0 -3.4 0M325.2 200.9a1.7 1.7 0 1 0 3.4 0a1.7 1.7 0 1 0 -3.4 0M325.9 196.9a1.7 1.7 0 1 0 3.4 0a1.7 1.7 0 1 0 -3.4 0M325.4 188.7a1.7 1.7 0 1 0 3.4 0a1.7 1.7 0 1 0 -3.4 0M326.5 194.8a1.7 1.7 0 1 0 3.4 0a1.7 1.7 0 1 0 -3.4 0M328.0 192.1a1.7 1.7 0 1 0 3.4 0a1.7 1.7 0 1 0 -3.4 0M328.2 187.5a1.7 1.7 0 1 0 3.4 0a1.7 1.7 0 1 0 -3.4 0M330.1 196.9a1.7 1.7 0 1 0 3.4 0a1.7 1.7 0 1 0 -3.4 0M330.4 190.0a1.7 1.7 0 1 0 3.4 0a1.7 1.7 0 1 0 -3.4 0M330.9 187.8a1.7 1.7 0 1 0 3.4 0a1.7 1.7 0 1 0 -3.4 0M331.6 191.4a1.7 1.7 0 1 0 3.4 0a1.7 1.7 0 1 0 -3.4 0M331.8 187.7a1.7 1.7 0 1 0 3.4 0a1.7 1.7 0 1 0 -3.4 0M334.0 196.6a1.7 1.7 0 1 0 3.4 0a1.7 1.7 0 1 0 -3.4 0M333.5 196.2a1.7 1.7 0 1 0 3.4 0a1.7 1.7 0 1 0 -3.4 0M334.0 189.8a1.7 1.7 0 1 0 3.4 0a1.7 1.7 0 1 0 -3.4 0M334.6 194.0a1.7 1.7 0 1 0 3.4 0a1.7 1.7 0 1 0 -3.4 0M334.4 190.7a1.7 1.7 0 1 0 3.4 0a1.7 1.7 0 1 0 -3.4 0M335.4 192.2a1.7 1.7 0 1 0 3.4 0a1.7 1.7 0 1 0 -3.4 0M335.5 198.7a1.7 1.7 0 1 0 3.4 0a1.7 1.7 0 1 0 -3.4 0M336.7 194.8a1.7 1.7 0 1 0 3.4 0a1.7 1.7 0 1 0 -3.4 0M339.1 198.2a1.7 1.7 0 1 0 3.4 0a1.7 1.7 0 1 0 -3.4 0M341.0 198.4a1.7 1.7 0 1 0 3.4 0a1.7 1.7 0 1 0 -3.4 0M340.5 200.1a1.7 1.7 0 1 0 3.4 0a1.7 1.7 0 1 0 -3.4 0M341.3 191.8a1.7 1.7 0 1 0 3.4 0a1.7 1.7 0 1 0 -3.4 0M343.2 200.6a1.7 1.7 0 1 0 3.4 0a1.7 1.7 0 1 0 -3.4 0M343.2 197.1a1.7 1.7 0 1 0 3.4 0a1.7 1.7 0 1 0 -3.4 0M344.6 199.8a1.7 1.7 0 1 0 3.4 0a1.7 1.7 0 1 0 -3.4 0M345.0 200.9a1.7 1.7 0 1 0 3.4 0a1.7 1.7 0 1 0 -3.4 0M345.4 191.1a1.7 1.7 0 1 0 3.4 0a1.7 1.7 0 1 0 -3.4 0M346.1 190.5a1.7 1.7 0 1 0 3.4 0a1.7 1.7 0 1 0 -3.4 0M345.3 199.5a1.7 1.7 0 1 0 3.4 0a1.7 1.7 0 1 0 -3.4 0M347.5 194.6a1.7 1.7 0 1 0 3.4 0a1.7 1.7 0 1 0 -3.4 0M347.8 196.4a1.7 1.7 0 1 0 3.4 0a1.7 1.7 0 1 0 -3.4 0M348.9 194.6a1.7 1.7 0 1 0 3.4 0a1.7 1.7 0 1 0 -3.4 0M348.6 194.1a1.7 1.7 0 1 0 3.4 0a1.7 1.7 0 1 0 -3.4 0M348.8 195.8a1.7 1.7 0 1 0 3.4 0a1.7 1.7 0 1 0 -3.4 0M349.5 200.2a1.7 1.7 0 1 0 3.4 0a1.7 1.7 0 1 0 -3.4 0M350.2 191.3a1.7 1.7 0 1 0 3.4 0a1.7 1.7 0 1 0 -3.4 0M349.6 195.7a1.7 1.7 0 1 0 3.4 0a1.7 1.7 0 1 0 -3.4 0M350.6 199.0a1.7 1.7 0 1 0 3.4 0a1.7 1.7 0 1 0 -3.4 0M350.9 197.0a1.7 1.7 0 1 0 3.4 0a1.7 1.7 0 1 0 -3.4 0M351.7 198.1a1.7 1.7 0 1 0 3.4 0a1.7 1.7 0 1 0 -3.4 0M351.7 188.2a1.7 1.7 0 1 0 3.4 0a1.7 1.7 0 1 0 -3.4 0M352.2 201.1a1.7 1.7 0 1 0 3.4 0a1.7 1.7 0 1 0 -3.4 0M353.0 190.3a1.7 1.7 0 1 0 3.4 0a1.7 1.7 0 1 0 -3.4 0M352.9 194.0a1.7 1.7 0 1 0 3.4 0a1.7 1.7 0 1 0 -3.4 0M353.7 195.0a1.7 1.7 0 1 0 3.4 0a1.7 1.7 0 1 0 -3.4 0M354.8 186.9a1.7 1.7 0 1 0 3.4 0a1.7 1.7 0 1 0 -3.4 0M355.9 194.4a1.7 1.7 0 1 0 3.4 0a1.7 1.7 0 1 0 -3.4 0M355.6 200.5a1.7 1.7 0 1 0 3.4 0a1.7 1.7 0 1 0 -3.4 0M356.7 195.3a1.7 1.7 0 1 0 3.4 0a1.7 1.7 0 1 0 -3.4 0M356.6 191.1a1.7 1.7 0 1 0 3.4 0a1.7 1.7 0 1 0 -3.4 0M356.4 192.2a1.7 1.7 0 1 0 3.4 0a1.7 1.7 0 1 0 -3.4 0M357.6 190.6a1.7 1.7 0 1 0 3.4 0a1.7 1.7 0 1 0 -3.4 0M358.7 196.1a1.7 1.7 0 1 0 3.4 0a1.7 1.7 0 1 0 -3.4 0M359.0 192.2a1.7 1.7 0 1 0 3.4 0a1.7 1.7 0 1 0 -3.4 0M358.9 199.6a1.7 1.7 0 1 0 3.4 0a1.7 1.7 0 1 0 -3.4 0M359.6 193.1a1.7 1.7 0 1 0 3.4 0a1.7 1.7 0 1 0 -3.4 0M359.8 200.0a1.7 1.7 0 1 0 3.4 0a1.7 1.7 0 1 0 -3.4 0M360.6 193.5a1.7 1.7 0 1 0 3.4 0a1.7 1.7 0 1 0 -3.4 0M360.6 188.5a1.7 1.7 0 1 0 3.4 0a1.7 1.7 0 1 0 -3.4 0M362.1 193.3a1.7 1.7 0 1 0 3.4 0a1.7 1.7 0 1 0 -3.4 0M362.2 198.7a1.7 1.7 0 1 0 3.4 0a1.7 1.7 0 1 0 -3.4 0M361.6 191.5a1.7 1.7 0 1 0 3.4 0a1.7 1.7 0 1 0 -3.4 0M363.8 190.2a1.7 1.7 0 1 0 3.4 0a1.7 1.7 0 1 0 -3.4 0M363.6 196.0a1.7 1.7 0 1 0 3.4 0a1.7 1.7 0 1 0 -3.4 0M363.5 197.1a1.7 1.7 0 1 0 3.4 0a1.7 1.7 0 1 0 -3.4 0M364.6 200.2a1.7 1.7 0 1 0 3.4 0a1.7 1.7 0 1 0 -3.4 0M364.6 183.6a1.7 1.7 0 1 0 3.4 0a1.7 1.7 0 1 0 -3.4 0M365.4 193.2a1.7 1.7 0 1 0 3.4 0a1.7 1.7 0 1 0 -3.4 0M367.5 199.4a1.7 1.7 0 1 0 3.4 0a1.7 1.7 0 1 0 -3.4 0M368.0 188.6a1.7 1.7 0 1 0 3.4 0a1.7 1.7 0 1 0 -3.4 0M368.8 189.4a1.7 1.7 0 1 0 3.4 0a1.7 1.7 0 1 0 -3.4 0M368.5 197.5a1.7 1.7 0 1 0 3.4 0a1.7 1.7 0 1 0 -3.4 0M370.2 193.4a1.7 1.7 0 1 0 3.4 0a1.7 1.7 0 1 0 -3.4 0M370.1 185.5a1.7 1.7 0 1 0 3.4 0a1.7 1.7 0 1 0 -3.4 0M370.4 190.4a1.7 1.7 0 1 0 3.4 0a1.7 1.7 0 1 0 -3.4 0M372.3 197.2a1.7 1.7 0 1 0 3.4 0a1.7 1.7 0 1 0 -3.4 0M372.2 182.4a1.7 1.7 0 1 0 3.4 0a1.7 1.7 0 1 0 -3.4 0M372.5 186.2a1.7 1.7 0 1 0 3.4 0a1.7 1.7 0 1 0 -3.4 0M373.4 185.7a1.7 1.7 0 1 0 3.4 0a1.7 1.7 0 1 0 -3.4 0M374.0 194.7a1.7 1.7 0 1 0 3.4 0a1.7 1.7 0 1 0 -3.4 0M373.9 193.5a1.7 1.7 0 1 0 3.4 0a1.7 1.7 0 1 0 -3.4 0M375.1 184.7a1.7 1.7 0 1 0 3.4 0a1.7 1.7 0 1 0 -3.4 0M375.5 200.6a1.7 1.7 0 1 0 3.4 0a1.7 1.7 0 1 0 -3.4 0M375.8 195.1a1.7 1.7 0 1 0 3.4 0a1.7 1.7 0 1 0 -3.4 0M376.4 200.5a1.7 1.7 0 1 0 3.4 0a1.7 1.7 0 1 0 -3.4 0M377.7 191.9a1.7 1.7 0 1 0 3.4 0a1.7 1.7 0 1 0 -3.4 0M377.7 191.3a1.7 1.7 0 1 0 3.4 0a1.7 1.7 0 1 0 -3.4 0M378.7 197.8a1.7 1.7 0 1 0 3.4 0a1.7 1.7 0 1 0 -3.4 0M380.1 195.1a1.7 1.7 0 1 0 3.4 0a1.7 1.7 0 1 0 -3.4 0M379.7 199.7a1.7 1.7 0 1 0 3.4 0a1.7 1.7 0 1 0 -3.4 0M380.7 199.7a1.7 1.7 0 1 0 3.4 0a1.7 1.7 0 1 0 -3.4 0M381.2 197.1a1.7 1.7 0 1 0 3.4 0a1.7 1.7 0 1 0 -3.4 0M382.1 198.9a1.7 1.7 0 1 0 3.4 0a1.7 1.7 0 1 0 -3.4 0M382.4 201.1a1.7 1.7 0 1 0 3.4 0a1.7 1.7 0 1 0 -3.4 0M382.3 196.7a1.7 1.7 0 1 0 3.4 0a1.7 1.7 0 1 0 -3.4 0M382.9 193.6a1.7 1.7 0 1 0 3.4 0a1.7 1.7 0 1 0 -3.4 0M383.3 199.4a1.7 1.7 0 1 0 3.4 0a1.7 1.7 0 1 0 -3.4 0M384.8 186.8a1.7 1.7 0 1 0 3.4 0a1.7 1.7 0 1 0 -3.4 0M384.7 192.8a1.7 1.7 0 1 0 3.4 0a1.7 1.7 0 1 0 -3.4 0M385.4 193.4a1.7 1.7 0 1 0 3.4 0a1.7 1.7 0 1 0 -3.4 0M386.9 201.1a1.7 1.7 0 1 0 3.4 0a1.7 1.7 0 1 0 -3.4 0M386.8 186.8a1.7 1.7 0 1 0 3.4 0a1.7 1.7 0 1 0 -3.4 0M388.7 186.2a1.7 1.7 0 1 0 3.4 0a1.7 1.7 0 1 0 -3.4 0M388.3 195.0a1.7 1.7 0 1 0 3.4 0a1.7 1.7 0 1 0 -3.4 0M388.3 194.3a1.7 1.7 0 1 0 3.4 0a1.7 1.7 0 1 0 -3.4 0M389.5 192.6a1.7 1.7 0 1 0 3.4 0a1.7 1.7 0 1 0 -3.4 0M389.6 193.3a1.7 1.7 0 1 0 3.4 0a1.7 1.7 0 1 0 -3.4 0M389.5 181.8a1.7 1.7 0 1 0 3.4 0a1.7 1.7 0 1 0 -3.4 0M390.5 185.2a1.7 1.7 0 1 0 3.4 0a1.7 1.7 0 1 0 -3.4 0M390.5 190.1a1.7 1.7 0 1 0 3.4 0a1.7 1.7 0 1 0 -3.4 0M391.8 185.8a1.7 1.7 0 1 0 3.4 0a1.7 1.7 0 1 0 -3.4 0M391.5 199.9a1.7 1.7 0 1 0 3.4 0a1.7 1.7 0 1 0 -3.4 0M392.0 192.2a1.7 1.7 0 1 0 3.4 0a1.7 1.7 0 1 0 -3.4 0M393.0 196.4a1.7 1.7 0 1 0 3.4 0a1.7 1.7 0 1 0 -3.4 0M393.2 199.7a1.7 1.7 0 1 0 3.4 0a1.7 1.7 0 1 0 -3.4 0M392.4 187.2a1.7 1.7 0 1 0 3.4 0a1.7 1.7 0 1 0 -3.4 0M393.4 195.6a1.7 1.7 0 1 0 3.4 0a1.7 1.7 0 1 0 -3.4 0M393.8 198.2a1.7 1.7 0 1 0 3.4 0a1.7 1.7 0 1 0 -3.4 0M394.6 186.1a1.7 1.7 0 1 0 3.4 0a1.7 1.7 0 1 0 -3.4 0M394.8 184.5a1.7 1.7 0 1 0 3.4 0a1.7 1.7 0 1 0 -3.4 0M396.1 195.5a1.7 1.7 0 1 0 3.4 0a1.7 1.7 0 1 0 -3.4 0M396.7 198.8a1.7 1.7 0 1 0 3.4 0a1.7 1.7 0 1 0 -3.4 0M396.7 188.9a1.7 1.7 0 1 0 3.4 0a1.7 1.7 0 1 0 -3.4 0M396.4 182.9a1.7 1.7 0 1 0 3.4 0a1.7 1.7 0 1 0 -3.4 0M397.6 190.2a1.7 1.7 0 1 0 3.4 0a1.7 1.7 0 1 0 -3.4 0M397.6 199.9a1.7 1.7 0 1 0 3.4 0a1.7 1.7 0 1 0 -3.4 0M397.3 193.3a1.7 1.7 0 1 0 3.4 0a1.7 1.7 0 1 0 -3.4 0M399.1 193.3a1.7 1.7 0 1 0 3.4 0a1.7 1.7 0 1 0 -3.4 0M400.1 196.2a1.7 1.7 0 1 0 3.4 0a1.7 1.7 0 1 0 -3.4 0M399.7 200.2a1.7 1.7 0 1 0 3.4 0a1.7 1.7 0 1 0 -3.4 0M400.4 196.0a1.7 1.7 0 1 0 3.4 0a1.7 1.7 0 1 0 -3.4 0M400.8 195.8a1.7 1.7 0 1 0 3.4 0a1.7 1.7 0 1 0 -3.4 0M401.9 198.4a1.7 1.7 0 1 0 3.4 0a1.7 1.7 0 1 0 -3.4 0M401.9 187.4a1.7 1.7 0 1 0 3.4 0a1.7 1.7 0 1 0 -3.4 0M402.8 188.7a1.7 1.7 0 1 0 3.4 0a1.7 1.7 0 1 0 -3.4 0M402.3 197.6a1.7 1.7 0 1 0 3.4 0a1.7 1.7 0 1 0 -3.4 0M404.2 183.1a1.7 1.7 0 1 0 3.4 0a1.7 1.7 0 1 0 -3.4 0M404.0 174.3a1.7 1.7 0 1 0 3.4 0a1.7 1.7 0 1 0 -3.4 0M405.2 195.6a1.7 1.7 0 1 0 3.4 0a1.7 1.7 0 1 0 -3.4 0M405.3 183.5a1.7 1.7 0 1 0 3.4 0a1.7 1.7 0 1 0 -3.4 0M406.3 195.1a1.7 1.7 0 1 0 3.4 0a1.7 1.7 0 1 0 -3.4 0M405.9 189.0a1.7 1.7 0 1 0 3.4 0a1.7 1.7 0 1 0 -3.4 0M406.7 180.1a1.7 1.7 0 1 0 3.4 0a1.7 1.7 0 1 0 -3.4 0M406.9 195.1a1.7 1.7 0 1 0 3.4 0a1.7 1.7 0 1 0 -3.4 0M408.3 192.5a1.7 1.7 0 1 0 3.4 0a1.7 1.7 0 1 0 -3.4 0M407.9 181.3a1.7 1.7 0 1 0 3.4 0a1.7 1.7 0 1 0 -3.4 0M409.0 181.0a1.7 1.7 0 1 0 3.4 0a1.7 1.7 0 1 0 -3.4 0M408.4 182.2a1.7 1.7 0 1 0 3.4 0a1.7 1.7 0 1 0 -3.4 0M409.3 196.8a1.7 1.7 0 1 0 3.4 0a1.7 1.7 0 1 0 -3.4 0M409.7 182.6a1.7 1.7 0 1 0 3.4 0a1.7 1.7 0 1 0 -3.4 0M410.2 178.0a1.7 1.7 0 1 0 3.4 0a1.7 1.7 0 1 0 -3.4 0M411.0 179.0a1.7 1.7 0 1 0 3.4 0a1.7 1.7 0 1 0 -3.4 0M410.5 173.0a1.7 1.7 0 1 0 3.4 0a1.7 1.7 0 1 0 -3.4 0M411.0 175.1a1.7 1.7 0 1 0 3.4 0a1.7 1.7 0 1 0 -3.4 0M411.4 182.5a1.7 1.7 0 1 0 3.4 0a1.7 1.7 0 1 0 -3.4 0M411.7 177.7a1.7 1.7 0 1 0 3.4 0a1.7 1.7 0 1 0 -3.4 0M412.8 198.1a1.7 1.7 0 1 0 3.4 0a1.7 1.7 0 1 0 -3.4 0M413.0 196.9a1.7 1.7 0 1 0 3.4 0a1.7 1.7 0 1 0 -3.4 0M414.1 176.3a1.7 1.7 0 1 0 3.4 0a1.7 1.7 0 1 0 -3.4 0M413.8 187.1a1.7 1.7 0 1 0 3.4 0a1.7 1.7 0 1 0 -3.4 0M413.3 173.6a1.7 1.7 0 1 0 3.4 0a1.7 1.7 0 1 0 -3.4 0M414.7 198.9a1.7 1.7 0 1 0 3.4 0a1.7 1.7 0 1 0 -3.4 0M414.6 194.6a1.7 1.7 0 1 0 3.4 0a1.7 1.7 0 1 0 -3.4 0M415.8 198.7a1.7 1.7 0 1 0 3.4 0a1.7 1.7 0 1 0 -3.4 0M416.0 196.9a1.7 1.7 0 1 0 3.4 0a1.7 1.7 0 1 0 -3.4 0M416.7 180.4a1.7 1.7 0 1 0 3.4 0a1.7 1.7 0 1 0 -3.4 0M416.4 200.9a1.7 1.7 0 1 0 3.4 0a1.7 1.7 0 1 0 -3.4 0M417.6 184.2a1.7 1.7 0 1 0 3.4 0a1.7 1.7 0 1 0 -3.4 0M418.7 178.9a1.7 1.7 0 1 0 3.4 0a1.7 1.7 0 1 0 -3.4 0M418.7 176.6a1.7 1.7 0 1 0 3.4 0a1.7 1.7 0 1 0 -3.4 0M418.7 199.9a1.7 1.7 0 1 0 3.4 0a1.7 1.7 0 1 0 -3.4 0M419.3 168.7a1.7 1.7 0 1 0 3.4 0a1.7 1.7 0 1 0 -3.4 0M419.7 178.7a1.7 1.7 0 1 0 3.4 0a1.7 1.7 0 1 0 -3.4 0M420.7 175.0a1.7 1.7 0 1 0 3.4 0a1.7 1.7 0 1 0 -3.4 0M421.2 195.5a1.7 1.7 0 1 0 3.4 0a1.7 1.7 0 1 0 -3.4 0M420.5 183.7a1.7 1.7 0 1 0 3.4 0a1.7 1.7 0 1 0 -3.4 0M421.4 188.9a1.7 1.7 0 1 0 3.4 0a1.7 1.7 0 1 0 -3.4 0M422.6 187.9a1.7 1.7 0 1 0 3.4 0a1.7 1.7 0 1 0 -3.4 0M423.2 195.0a1.7 1.7 0 1 0 3.4 0a1.7 1.7 0 1 0 -3.4 0M424.7 170.2a1.7 1.7 0 1 0 3.4 0a1.7 1.7 0 1 0 -3.4 0M425.8 190.1a1.7 1.7 0 1 0 3.4 0a1.7 1.7 0 1 0 -3.4 0M426.2 184.2a1.7 1.7 0 1 0 3.4 0a1.7 1.7 0 1 0 -3.4 0M425.6 199.3a1.7 1.7 0 1 0 3.4 0a1.7 1.7 0 1 0 -3.4 0M427.7 191.4a1.7 1.7 0 1 0 3.4 0a1.7 1.7 0 1 0 -3.4 0M427.8 200.8a1.7 1.7 0 1 0 3.4 0a1.7 1.7 0 1 0 -3.4 0M429.2 200.0a1.7 1.7 0 1 0 3.4 0a1.7 1.7 0 1 0 -3.4 0M429.3 196.8a1.7 1.7 0 1 0 3.4 0a1.7 1.7 0 1 0 -3.4 0M429.0 199.8a1.7 1.7 0 1 0 3.4 0a1.7 1.7 0 1 0 -3.4 0M429.6 180.7a1.7 1.7 0 1 0 3.4 0a1.7 1.7 0 1 0 -3.4 0M431.2 185.3a1.7 1.7 0 1 0 3.4 0a1.7 1.7 0 1 0 -3.4 0M430.7 187.1a1.7 1.7 0 1 0 3.4 0a1.7 1.7 0 1 0 -3.4 0M432.1 199.2a1.7 1.7 0 1 0 3.4 0a1.7 1.7 0 1 0 -3.4 0M431.3 176.8a1.7 1.7 0 1 0 3.4 0a1.7 1.7 0 1 0 -3.4 0M432.7 196.8a1.7 1.7 0 1 0 3.4 0a1.7 1.7 0 1 0 -3.4 0M434.1 195.4a1.7 1.7 0 1 0 3.4 0a1.7 1.7 0 1 0 -3.4 0M434.4 184.9a1.7 1.7 0 1 0 3.4 0a1.7 1.7 0 1 0 -3.4 0M434.5 184.2a1.7 1.7 0 1 0 3.4 0a1.7 1.7 0 1 0 -3.4 0M435.1 197.5a1.7 1.7 0 1 0 3.4 0a1.7 1.7 0 1 0 -3.4 0M435.4 189.0a1.7 1.7 0 1 0 3.4 0a1.7 1.7 0 1 0 -3.4 0M435.3 196.6a1.7 1.7 0 1 0 3.4 0a1.7 1.7 0 1 0 -3.4 0M437.0 187.4a1.7 1.7 0 1 0 3.4 0a1.7 1.7 0 1 0 -3.4 0M437.1 198.4a1.7 1.7 0 1 0 3.4 0a1.7 1.7 0 1 0 -3.4 0M437.8 183.5a1.7 1.7 0 1 0 3.4 0a1.7 1.7 0 1 0 -3.4 0M437.9 197.0a1.7 1.7 0 1 0 3.4 0a1.7 1.7 0 1 0 -3.4 0M438.7 185.1a1.7 1.7 0 1 0 3.4 0a1.7 1.7 0 1 0 -3.4 0M438.5 187.7a1.7 1.7 0 1 0 3.4 0a1.7 1.7 0 1 0 -3.4 0M438.4 182.6a1.7 1.7 0 1 0 3.4 0a1.7 1.7 0 1 0 -3.4 0M439.6 194.9a1.7 1.7 0 1 0 3.4 0a1.7 1.7 0 1 0 -3.4 0M440.3 188.4a1.7 1.7 0 1 0 3.4 0a1.7 1.7 0 1 0 -3.4 0M439.8 190.2a1.7 1.7 0 1 0 3.4 0a1.7 1.7 0 1 0 -3.4 0M441.2 191.5a1.7 1.7 0 1 0 3.4 0a1.7 1.7 0 1 0 -3.4 0M440.5 179.7a1.7 1.7 0 1 0 3.4 0a1.7 1.7 0 1 0 -3.4 0M440.4 189.4a1.7 1.7 0 1 0 3.4 0a1.7 1.7 0 1 0 -3.4 0M441.5 188.4a1.7 1.7 0 1 0 3.4 0a1.7 1.7 0 1 0 -3.4 0" fill="#fff" stroke="#555" stroke-width="1.05"/>
<path d="M86.6 204.6a1.7 1.7 0 1 0 3.4 0a1.7 1.7 0 1 0 -3.4 0M88.3 204.3a1.7 1.7 0 1 0 3.4 0a1.7 1.7 0 1 0 -3.4 0M87.5 208.4a1.7 1.7 0 1 0 3.4 0a1.7 1.7 0 1 0 -3.4 0M88.1 207.9a1.7 1.7 0 1 0 3.4 0a1.7 1.7 0 1 0 -3.4 0M88.7 204.7a1.7 1.7 0 1 0 3.4 0a1.7 1.7 0 1 0 -3.4 0M88.4 201.6a1.7 1.7 0 1 0 3.4 0a1.7 1.7 0 1 0 -3.4 0M91.9 209.5a1.7 1.7 0 1 0 3.4 0a1.7 1.7 0 1 0 -3.4 0M91.3 206.6a1.7 1.7 0 1 0 3.4 0a1.7 1.7 0 1 0 -3.4 0M91.4 205.9a1.7 1.7 0 1 0 3.4 0a1.7 1.7 0 1 0 -3.4 0M93.4 209.6a1.7 1.7 0 1 0 3.4 0a1.7 1.7 0 1 0 -3.4 0M95.0 208.1a1.7 1.7 0 1 0 3.4 0a1.7 1.7 0 1 0 -3.4 0M95.5 207.2a1.7 1.7 0 1 0 3.4 0a1.7 1.7 0 1 0 -3.4 0M96.8 208.5a1.7 1.7 0 1 0 3.4 0a1.7 1.7 0 1 0 -3.4 0M98.1 202.5a1.7 1.7 0 1 0 3.4 0a1.7 1.7 0 1 0 -3.4 0M98.2 208.0a1.7 1.7 0 1 0 3.4 0a1.7 1.7 0 1 0 -3.4 0M98.4 201.2a1.7 1.7 0 1 0 3.4 0a1.7 1.7 0 1 0 -3.4 0M101.5 208.9a1.7 1.7 0 1 0 3.4 0a1.7 1.7 0 1 0 -3.4 0M101.4 208.7a1.7 1.7 0 1 0 3.4 0a1.7 1.7 0 1 0 -3.4 0M101.6 207.6a1.7 1.7 0 1 0 3.4 0a1.7 1.7 0 1 0 -3.4 0M103.0 202.2a1.7 1.7 0 1 0 3.4 0a1.7 1.7 0 1 0 -3.4 0M104.0 203.0a1.7 1.7 0 1 0 3.4 0a1.7 1.7 0 1 0 -3.4 0M105.0 204.2a1.7 1.7 0 1 0 3.4 0a1.7 1.7 0 1 0 -3.4 0M106.9 204.5a1.7 1.7 0 1 0 3.4 0a1.7 1.7 0 1 0 -3.4 0M107.0 207.4a1.7 1.7 0 1 0 3.4 0a1.7 1.7 0 1 0 -3.4 0M107.9 204.4a1.7 1.7 0 1 0 3.4 0a1.7 1.7 0 1 0 -3.4 0M108.5 204.6a1.7 1.7 0 1 0 3.4 0a1.7 1.7 0 1 0 -3.4 0M109.5 205.5a1.7 1.7 0 1 0 3.4 0a1.7 1.7 0 1 0 -3.4 0M110.9 204.4a1.7 1.7 0 1 0 3.4 0a1.7 1.7 0 1 0 -3.4 0M112.9 209.0a1.7 1.7 0 1 0 3.4 0a1.7 1.7 0 1 0 -3.4 0M113.4 207.0a1.7 1.7 0 1 0 3.4 0a1.7 1.7 0 1 0 -3.4 0M113.8 202.6a1.7 1.7 0 1 0 3.4 0a1.7 1.7 0 1 0 -3.4 0M115.6 209.2a1.7 1.7 0 1 0 3.4 0a1.7 1.7 0 1 0 -3.4 0M115.5 205.8a1.7 1.7 0 1 0 3.4 0a1.7 1.7 0 1 0 -3.4 0M118.2 209.3a1.7 1.7 0 1 0 3.4 0a1.7 1.7 0 1 0 -3.4 0M117.9 207.7a1.7 1.7 0 1 0 3.4 0a1.7 1.7 0 1 0 -3.4 0M119.0 209.0a1.7 1.7 0 1 0 3.4 0a1.7 1.7 0 1 0 -3.4 0M122.3 204.2a1.7 1.7 0 1 0 3.4 0a1.7 1.7 0 1 0 -3.4 0M121.7 203.8a1.7 1.7 0 1 0 3.4 0a1.7 1.7 0 1 0 -3.4 0M124.2 207.6a1.7 1.7 0 1 0 3.4 0a1.7 1.7 0 1 0 -3.4 0M124.4 208.8a1.7 1.7 0 1 0 3.4 0a1.7 1.7 0 1 0 -3.4 0M125.4 206.7a1.7 1.7 0 1 0 3.4 0a1.7 1.7 0 1 0 -3.4 0M127.6 209.5a1.7 1.7 0 1 0 3.4 0a1.7 1.7 0 1 0 -3.4 0M128.4 208.5a1.7 1.7 0 1 0 3.4 0a1.7 1.7 0 1 0 -3.4 0M129.8 207.2a1.7 1.7 0 1 0 3.4 0a1.7 1.7 0 1 0 -3.4 0M129.4 203.3a1.7 1.7 0 1 0 3.4 0a1.7 1.7 0 1 0 -3.4 0M131.1 207.1a1.7 1.7 0 1 0 3.4 0a1.7 1.7 0 1 0 -3.4 0M130.6 208.7a1.7 1.7 0 1 0 3.4 0a1.7 1.7 0 1 0 -3.4 0M131.5 207.2a1.7 1.7 0 1 0 3.4 0a1.7 1.7 0 1 0 -3.4 0M133.2 202.1a1.7 1.7 0 1 0 3.4 0a1.7 1.7 0 1 0 -3.4 0M133.6 204.0a1.7 1.7 0 1 0 3.4 0a1.7 1.7 0 1 0 -3.4 0M134.2 207.1a1.7 1.7 0 1 0 3.4 0a1.7 1.7 0 1 0 -3.4 0M135.7 208.1a1.7 1.7 0 1 0 3.4 0a1.7 1.7 0 1 0 -3.4 0M139.2 205.9a1.7 1.7 0 1 0 3.4 0a1.7 1.7 0 1 0 -3.4 0M139.8 206.3a1.7 1.7 0 1 0 3.4 0a1.7 1.7 0 1 0 -3.4 0M141.9 201.2a1.7 1.7 0 1 0 3.4 0a1.7 1.7 0 1 0 -3.4 0M142.5 204.3a1.7 1.7 0 1 0 3.4 0a1.7 1.7 0 1 0 -3.4 0M144.9 204.4a1.7 1.7 0 1 0 3.4 0a1.7 1.7 0 1 0 -3.4 0M146.1 201.9a1.7 1.7 0 1 0 3.4 0a1.7 1.7 0 1 0 -3.4 0M145.6 205.3a1.7 1.7 0 1 0 3.4 0a1.7 1.7 0 1 0 -3.4 0M146.8 208.3a1.7 1.7 0 1 0 3.4 0a1.7 1.7 0 1 0 -3.4 0M146.3 206.7a1.7 1.7 0 1 0 3.4 0a1.7 1.7 0 1 0 -3.4 0M147.0 204.9a1.7 1.7 0 1 0 3.4 0a1.7 1.7 0 1 0 -3.4 0M147.9 203.4a1.7 1.7 0 1 0 3.4 0a1.7 1.7 0 1 0 -3.4 0M147.6 208.4a1.7 1.7 0 1 0 3.4 0a1.7 1.7 0 1 0 -3.4 0M148.1 208.1a1.7 1.7 0 1 0 3.4 0a1.7 1.7 0 1 0 -3.4 0M148.8 204.3a1.7 1.7 0 1 0 3.4 0a1.7 1.7 0 1 0 -3.4 0M149.8 209.4a1.7 1.7 0 1 0 3.4 0a1.7 1.7 0 1 0 -3.4 0M149.8 208.0a1.7 1.7 0 1 0 3.4 0a1.7 1.7 0 1 0 -3.4 0M149.8 207.0a1.7 1.7 0 1 0 3.4 0a1.7 1.7 0 1 0 -3.4 0M151.3 202.9a1.7 1.7 0 1 0 3.4 0a1.7 1.7 0 1 0 -3.4 0M152.1 207.5a1.7 1.7 0 1 0 3.4 0a1.7 1.7 0 1 0 -3.4 0M152.3 209.1a1.7 1.7 0 1 0 3.4 0a1.7 1.7 0 1 0 -3.4 0M153.5 206.0a1.7 1.7 0 1 0 3.4 0a1.7 1.7 0 1 0 -3.4 0M155.1 202.1a1.7 1.7 0 1 0 3.4 0a1.7 1.7 0 1 0 -3.4 0M156.4 207.9a1.7 1.7 0 1 0 3.4 0a1.7 1.7 0 1 0 -3.4 0M157.6 209.6a1.7 1.7 0 1 0 3.4 0a1.7 1.7 0 1 0 -3.4 0M163.0 208.7a1.7 1.7 0 1 0 3.4 0a1.7 1.7 0 1 0 -3.4 0M163.6 206.6a1.7 1.7 0 1 0 3.4 0a1.7 1.7 0 1 0 -3.4 0M164.4 203.0a1.7 1.7 0 1 0 3.4 0a1.7 1.7 0 1 0 -3.4 0M166.6 204.4a1.7 1.7 0 1 0 3.4 0a1.7 1.7 0 1 0 -3.4 0M167.0 206.1a1.7 1.7 0 1 0 3.4 0a1.7 1.7 0 1 0 -3.4 0M167.7 205.2a1.7 1.7 0 1 0 3.4 0a1.7 1.7 0 1 0 -3.4 0M169.1 205.0a1.7 1.7 0 1 0 3.4 0a1.7 1.7 0 1 0 -3.4 0M171.0 204.8a1.7 1.7 0 1 0 3.4 0a1.7 1.7 0 1 0 -3.4 0M171.4 208.8a1.7 1.7 0 1 0 3.4 0a1.7 1.7 0 1 0 -3.4 0M171.4 204.5a1.7 1.7 0 1 0 3.4 0a1.7 1.7 0 1 0 -3.4 0M172.6 209.5a1.7 1.7 0 1 0 3.4 0a1.7 1.7 0 1 0 -3.4 0M173.0 205.0a1.7 1.7 0 1 0 3.4 0a1.7 1.7 0 1 0 -3.4 0M173.8 208.9a1.7 1.7 0 1 0 3.4 0a1.7 1.7 0 1 0 -3.4 0M176.3 206.9a1.7 1.7 0 1 0 3.4 0a1.7 1.7 0 1 0 -3.4 0M176.8 204.3a1.7 1.7 0 1 0 3.4 0a1.7 1.7 0 1 0 -3.4 0M178.3 202.5a1.7 1.7 0 1 0 3.4 0a1.7 1.7 0 1 0 -3.4 0M179.1 207.0a1.7 1.7 0 1 0 3.4 0a1.7 1.7 0 1 0 -3.4 0M180.4 209.1a1.7 1.7 0 1 0 3.4 0a1.7 1.7 0 1 0 -3.4 0M182.2 204.4a1.7 1.7 0 1 0 3.4 0a1.7 1.7 0 1 0 -3.4 0M181.7 202.6a1.7 1.7 0 1 0 3.4 0a1.7 1.7 0 1 0 -3.4 0M182.7 208.8a1.7 1.7 0 1 0 3.4 0a1.7 1.7 0 1 0 -3.4 0M182.6 206.7a1.7 1.7 0 1 0 3.4 0a1.7 1.7 0 1 0 -3.4 0M183.8 202.3a1.7 1.7 0 1 0 3.4 0a1.7 1.7 0 1 0 -3.4 0M184.4 208.0a1.7 1.7 0 1 0 3.4 0a1.7 1.7 0 1 0 -3.4 0M184.8 208.3a1.7 1.7 0 1 0 3.4 0a1.7 1.7 0 1 0 -3.4 0M184.5 203.4a1.7 1.7 0 1 0 3.4 0a1.7 1.7 0 1 0 -3.4 0M185.9 204.6a1.7 1.7 0 1 0 3.4 0a1.7 1.7 0 1 0 -3.4 0M186.9 209.3a1.7 1.7 0 1 0 3.4 0a1.7 1.7 0 1 0 -3.4 0M188.9 206.2a1.7 1.7 0 1 0 3.4 0a1.7 1.7 0 1 0 -3.4 0M188.5 208.0a1.7 1.7 0 1 0 3.4 0a1.7 1.7 0 1 0 -3.4 0M190.8 205.9a1.7 1.7 0 1 0 3.4 0a1.7 1.7 0 1 0 -3.4 0M192.1 203.9a1.7 1.7 0 1 0 3.4 0a1.7 1.7 0 1 0 -3.4 0M192.9 204.8a1.7 1.7 0 1 0 3.4 0a1.7 1.7 0 1 0 -3.4 0M192.4 206.4a1.7 1.7 0 1 0 3.4 0a1.7 1.7 0 1 0 -3.4 0M194.1 201.4a1.7 1.7 0 1 0 3.4 0a1.7 1.7 0 1 0 -3.4 0M194.9 205.2a1.7 1.7 0 1 0 3.4 0a1.7 1.7 0 1 0 -3.4 0M194.5 202.1a1.7 1.7 0 1 0 3.4 0a1.7 1.7 0 1 0 -3.4 0M197.7 207.8a1.7 1.7 0 1 0 3.4 0a1.7 1.7 0 1 0 -3.4 0M197.7 209.1a1.7 1.7 0 1 0 3.4 0a1.7 1.7 0 1 0 -3.4 0M197.4 202.9a1.7 1.7 0 1 0 3.4 0a1.7 1.7 0 1 0 -3.4 0M199.0 206.5a1.7 1.7 0 1 0 3.4 0a1.7 1.7 0 1 0 -3.4 0M198.3 202.6a1.7 1.7 0 1 0 3.4 0a1.7 1.7 0 1 0 -3.4 0M199.6 209.5a1.7 1.7 0 1 0 3.4 0a1.7 1.7 0 1 0 -3.4 0M199.7 204.0a1.7 1.7 0 1 0 3.4 0a1.7 1.7 0 1 0 -3.4 0M201.0 201.8a1.7 1.7 0 1 0 3.4 0a1.7 1.7 0 1 0 -3.4 0M201.0 202.0a1.7 1.7 0 1 0 3.4 0a1.7 1.7 0 1 0 -3.4 0M200.5 208.6a1.7 1.7 0 1 0 3.4 0a1.7 1.7 0 1 0 -3.4 0M201.9 209.3a1.7 1.7 0 1 0 3.4 0a1.7 1.7 0 1 0 -3.4 0M201.7 208.4a1.7 1.7 0 1 0 3.4 0a1.7 1.7 0 1 0 -3.4 0M203.0 208.4a1.7 1.7 0 1 0 3.4 0a1.7 1.7 0 1 0 -3.4 0M203.3 209.4a1.7 1.7 0 1 0 3.4 0a1.7 1.7 0 1 0 -3.4 0M205.5 207.2a1.7 1.7 0 1 0 3.4 0a1.7 1.7 0 1 0 -3.4 0M207.3 205.3a1.7 1.7 0 1 0 3.4 0a1.7 1.7 0 1 0 -3.4 0M207.9 208.4a1.7 1.7 0 1 0 3.4 0a1.7 1.7 0 1 0 -3.4 0M208.4 207.9a1.7 1.7 0 1 0 3.4 0a1.7 1.7 0 1 0 -3.4 0M208.9 203.3a1.7 1.7 0 1 0 3.4 0a1.7 1.7 0 1 0 -3.4 0M209.9 205.7a1.7 1.7 0 1 0 3.4 0a1.7 1.7 0 1 0 -3.4 0M211.1 208.9a1.7 1.7 0 1 0 3.4 0a1.7 1.7 0 1 0 -3.4 0M211.6 205.7a1.7 1.7 0 1 0 3.4 0a1.7 1.7 0 1 0 -3.4 0M211.9 205.2a1.7 1.7 0 1 0 3.4 0a1.7 1.7 0 1 0 -3.4 0M213.1 202.8a1.7 1.7 0 1 0 3.4 0a1.7 1.7 0 1 0 -3.4 0M213.6 206.0a1.7 1.7 0 1 0 3.4 0a1.7 1.7 0 1 0 -3.4 0M215.8 208.3a1.7 1.7 0 1 0 3.4 0a1.7 1.7 0 1 0 -3.4 0M215.7 209.5a1.7 1.7 0 1 0 3.4 0a1.7 1.7 0 1 0 -3.4 0M217.2 206.1a1.7 1.7 0 1 0 3.4 0a1.7 1.7 0 1 0 -3.4 0M218.2 205.1a1.7 1.7 0 1 0 3.4 0a1.7 1.7 0 1 0 -3.4 0M218.4 208.8a1.7 1.7 0 1 0 3.4 0a1.7 1.7 0 1 0 -3.4 0M219.1 204.3a1.7 1.7 0 1 0 3.4 0a1.7 1.7 0 1 0 -3.4 0M219.8 209.1a1.7 1.7 0 1 0 3.4 0a1.7 1.7 0 1 0 -3.4 0M219.7 207.4a1.7 1.7 0 1 0 3.4 0a1.7 1.7 0 1 0 -3.4 0M221.0 208.2a1.7 1.7 0 1 0 3.4 0a1.7 1.7 0 1 0 -3.4 0M220.3 207.8a1.7 1.7 0 1 0 3.4 0a1.7 1.7 0 1 0 -3.4 0M222.2 202.0a1.7 1.7 0 1 0 3.4 0a1.7 1.7 0 1 0 -3.4 0M223.1 205.6a1.7 1.7 0 1 0 3.4 0a1.7 1.7 0 1 0 -3.4 0M223.3 202.9a1.7 1.7 0 1 0 3.4 0a1.7 1.7 0 1 0 -3.4 0M224.3 202.1a1.7 1.7 0 1 0 3.4 0a1.7 1.7 0 1 0 -3.4 0M225.4 205.6a1.7 1.7 0 1 0 3.4 0a1.7 1.7 0 1 0 -3.4 0M226.7 209.2a1.7 1.7 0 1 0 3.4 0a1.7 1.7 0 1 0 -3.4 0M228.4 206.6a1.7 1.7 0 1 0 3.4 0a1.7 1.7 0 1 0 -3.4 0M228.9 209.4a1.7 1.7 0 1 0 3.4 0a1.7 1.7 0 1 0 -3.4 0M229.9 206.9a1.7 1.7 0 1 0 3.4 0a1.7 1.7 0 1 0 -3.4 0M229.9 206.7a1.7 1.7 0 1 0 3.4 0a1.7 1.7 0 1 0 -3.4 0M231.9 203.6a1.7 1.7 0 1 0 3.4 0a1.7 1.7 0 1 0 -3.4 0M231.8 207.2a1.7 1.7 0 1 0 3.4 0a1.7 1.7 0 1 0 -3.4 0M233.0 209.6a1.7 1.7 0 1 0 3.4 0a1.7 1.7 0 1 0 -3.4 0M234.0 204.8a1.7 1.7 0 1 0 3.4 0a1.7 1.7 0 1 0 -3.4 0M234.8 201.7a1.7 1.7 0 1 0 3.4 0a1.7 1.7 0 1 0 -3.4 0M234.6 206.9a1.7 1.7 0 1 0 3.4 0a1.7 1.7 0 1 0 -3.4 0M236.2 208.3a1.7 1.7 0 1 0 3.4 0a1.7 1.7 0 1 0 -3.4 0M236.8 201.8a1.7 1.7 0 1 0 3.4 0a1.7 1.7 0 1 0 -3.4 0M237.6 207.8a1.7 1.7 0 1 0 3.4 0a1.7 1.7 0 1 0 -3.4 0M237.3 205.1a1.7 1.7 0 1 0 3.4 0a1.7 1.7 0 1 0 -3.4 0M240.1 208.3a1.7 1.7 0 1 0 3.4 0a1.7 1.7 0 1 0 -3.4 0M240.8 202.9a1.7 1.7 0 1 0 3.4 0a1.7 1.7 0 1 0 -3.4 0M242.3 206.8a1.7 1.7 0 1 0 3.4 0a1.7 1.7 0 1 0 -3.4 0M244.2 206.7a1.7 1.7 0 1 0 3.4 0a1.7 1.7 0 1 0 -3.4 0M244.5 202.7a1.7 1.7 0 1 0 3.4 0a1.7 1.7 0 1 0 -3.4 0M244.6 204.6a1.7 1.7 0 1 0 3.4 0a1.7 1.7 0 1 0 -3.4 0M245.6 209.6a1.7 1.7 0 1 0 3.4 0a1.7 1.7 0 1 0 -3.4 0M246.1 207.9a1.7 1.7 0 1 0 3.4 0a1.7 1.7 0 1 0 -3.4 0M246.7 206.7a1.7 1.7 0 1 0 3.4 0a1.7 1.7 0 1 0 -3.4 0M248.1 204.9a1.7 1.7 0 1 0 3.4 0a1.7 1.7 0 1 0 -3.4 0M247.8 202.8a1.7 1.7 0 1 0 3.4 0a1.7 1.7 0 1 0 -3.4 0M249.1 209.6a1.7 1.7 0 1 0 3.4 0a1.7 1.7 0 1 0 -3.4 0M250.4 203.2a1.7 1.7 0 1 0 3.4 0a1.7 1.7 0 1 0 -3.4 0M251.7 205.6a1.7 1.7 0 1 0 3.4 0a1.7 1.7 0 1 0 -3.4 0M251.6 209.5a1.7 1.7 0 1 0 3.4 0a1.7 1.7 0 1 0 -3.4 0M253.5 209.0a1.7 1.7 0 1 0 3.4 0a1.7 1.7 0 1 0 -3.4 0M254.5 202.9a1.7 1.7 0 1 0 3.4 0a1.7 1.7 0 1 0 -3.4 0M255.9 207.7a1.7 1.7 0 1 0 3.4 0a1.7 1.7 0 1 0 -3.4 0M255.5 201.3a1.7 1.7 0 1 0 3.4 0a1.7 1.7 0 1 0 -3.4 0M255.9 205.4a1.7 1.7 0 1 0 3.4 0a1.7 1.7 0 1 0 -3.4 0M256.5 204.4a1.7 1.7 0 1 0 3.4 0a1.7 1.7 0 1 0 -3.4 0M257.9 203.1a1.7 1.7 0 1 0 3.4 0a1.7 1.7 0 1 0 -3.4 0M257.5 207.0a1.7 1.7 0 1 0 3.4 0a1.7 1.7 0 1 0 -3.4 0M260.9 208.6a1.7 1.7 0 1 0 3.4 0a1.7 1.7 0 1 0 -3.4 0M261.0 207.9a1.7 1.7 0 1 0 3.4 0a1.7 1.7 0 1 0 -3.4 0M261.0 203.1a1.7 1.7 0 1 0 3.4 0a1.7 1.7 0 1 0 -3.4 0M261.8 207.3a1.7 1.7 0 1 0 3.4 0a1.7 1.7 0 1 0 -3.4 0M261.7 207.4a1.7 1.7 0 1 0 3.4 0a1.7 1.7 0 1 0 -3.4 0M262.8 203.6a1.7 1.7 0 1 0 3.4 0a1.7 1.7 0 1 0 -3.4 0M263.8 204.9a1.7 1.7 0 1 0 3.4 0a1.7 1.7 0 1 0 -3.4 0M264.5 202.2a1.7 1.7 0 1 0 3.4 0a1.7 1.7 0 1 0 -3.4 0M266.2 209.2a1.7 1.7 0 1 0 3.4 0a1.7 1.7 0 1 0 -3.4 0M265.8 201.3a1.7 1.7 0 1 0 3.4 0a1.7 1.7 0 1 0 -3.4 0M266.9 203.6a1.7 1.7 0 1 0 3.4 0a1.7 1.7 0 1 0 -3.4 0M268.1 206.8a1.7 1.7 0 1 0 3.4 0a1.7 1.7 0 1 0 -3.4 0M268.3 202.8a1.7 1.7 0 1 0 3.4 0a1.7 1.7 0 1 0 -3.4 0M269.2 208.2a1.7 1.7 0 1 0 3.4 0a1.7 1.7 0 1 0 -3.4 0M269.7 202.9a1.7 1.7 0 1 0 3.4 0a1.7 1.7 0 1 0 -3.4 0M270.4 206.4a1.7 1.7 0 1 0 3.4 0a1.7 1.7 0 1 0 -3.4 0M271.1 209.0a1.7 1.7 0 1 0 3.4 0a1.7 1.7 0 1 0 -3.4 0M272.1 207.8a1.7 1.7 0 1 0 3.4 0a1.7 1.7 0 1 0 -3.4 0M272.2 207.1a1.7 1.7 0 1 0 3.4 0a1.7 1.7 0 1 0 -3.4 0M273.3 203.9a1.7 1.7 0 1 0 3.4 0a1.7 1.7 0 1 0 -3.4 0M275.0 204.5a1.7 1.7 0 1 0 3.4 0a1.7 1.7 0 1 0 -3.4 0M275.4 209.6a1.7 1.7 0 1 0 3.4 0a1.7 1.7 0 1 0 -3.4 0M277.2 207.2a1.7 1.7 0 1 0 3.4 0a1.7 1.7 0 1 0 -3.4 0M279.1 202.8a1.7 1.7 0 1 0 3.4 0a1.7 1.7 0 1 0 -3.4 0M280.1 206.1a1.7 1.7 0 1 0 3.4 0a1.7 1.7 0 1 0 -3.4 0M282.3 207.8a1.7 1.7 0 1 0 3.4 0a1.7 1.7 0 1 0 -3.4 0M281.5 205.4a1.7 1.7 0 1 0 3.4 0a1.7 1.7 0 1 0 -3.4 0M282.9 207.3a1.7 1.7 0 1 0 3.4 0a1.7 1.7 0 1 0 -3.4 0M286.0 208.0a1.7 1.7 0 1 0 3.4 0a1.7 1.7 0 1 0 -3.4 0M286.5 206.1a1.7 1.7 0 1 0 3.4 0a1.7 1.7 0 1 0 -3.4 0M286.7 209.4a1.7 1.7 0 1 0 3.4 0a1.7 1.7 0 1 0 -3.4 0M286.8 208.3a1.7 1.7 0 1 0 3.4 0a1.7 1.7 0 1 0 -3.4 0M287.7 204.1a1.7 1.7 0 1 0 3.4 0a1.7 1.7 0 1 0 -3.4 0M288.8 204.6a1.7 1.7 0 1 0 3.4 0a1.7 1.7 0 1 0 -3.4 0M290.5 206.8a1.7 1.7 0 1 0 3.4 0a1.7 1.7 0 1 0 -3.4 0M292.1 201.6a1.7 1.7 0 1 0 3.4 0a1.7 1.7 0 1 0 -3.4 0M292.7 209.3a1.7 1.7 0 1 0 3.4 0a1.7 1.7 0 1 0 -3.4 0M293.9 203.4a1.7 1.7 0 1 0 3.4 0a1.7 1.7 0 1 0 -3.4 0M294.5 203.2a1.7 1.7 0 1 0 3.4 0a1.7 1.7 0 1 0 -3.4 0M294.4 205.1a1.7 1.7 0 1 0 3.4 0a1.7 1.7 0 1 0 -3.4 0M295.2 205.7a1.7 1.7 0 1 0 3.4 0a1.7 1.7 0 1 0 -3.4 0M296.9 209.4a1.7 1.7 0 1 0 3.4 0a1.7 1.7 0 1 0 -3.4 0M297.2 207.4a1.7 1.7 0 1 0 3.4 0a1.7 1.7 0 1 0 -3.4 0M300.4 206.5a1.7 1.7 0 1 0 3.4 0a1.7 1.7 0 1 0 -3.4 0M301.8 208.9a1.7 1.7 0 1 0 3.4 0a1.7 1.7 0 1 0 -3.4 0M302.5 204.4a1.7 1.7 0 1 0 3.4 0a1.7 1.7 0 1 0 -3.4 0M302.9 208.4a1.7 1.7 0 1 0 3.4 0a1.7 1.7 0 1 0 -3.4 0M304.2 208.9a1.7 1.7 0 1 0 3.4 0a1.7 1.7 0 1 0 -3.4 0M304.3 208.5a1.7 1.7 0 1 0 3.4 0a1.7 1.7 0 1 0 -3.4 0M306.0 208.5a1.7 1.7 0 1 0 3.4 0a1.7 1.7 0 1 0 -3.4 0M305.5 208.6a1.7 1.7 0 1 0 3.4 0a1.7 1.7 0 1 0 -3.4 0M310.1 208.2a1.7 1.7 0 1 0 3.4 0a1.7 1.7 0 1 0 -3.4 0M311.1 206.1a1.7 1.7 0 1 0 3.4 0a1.7 1.7 0 1 0 -3.4 0M311.6 208.8a1.7 1.7 0 1 0 3.4 0a1.7 1.7 0 1 0 -3.4 0M314.6 206.2a1.7 1.7 0 1 0 3.4 0a1.7 1.7 0 1 0 -3.4 0M316.0 204.1a1.7 1.7 0 1 0 3.4 0a1.7 1.7 0 1 0 -3.4 0M317.3 209.1a1.7 1.7 0 1 0 3.4 0a1.7 1.7 0 1 0 -3.4 0M317.1 208.4a1.7 1.7 0 1 0 3.4 0a1.7 1.7 0 1 0 -3.4 0M318.1 209.1a1.7 1.7 0 1 0 3.4 0a1.7 1.7 0 1 0 -3.4 0M319.1 202.6a1.7 1.7 0 1 0 3.4 0a1.7 1.7 0 1 0 -3.4 0M319.2 201.5a1.7 1.7 0 1 0 3.4 0a1.7 1.7 0 1 0 -3.4 0M320.1 206.3a1.7 1.7 0 1 0 3.4 0a1.7 1.7 0 1 0 -3.4 0M319.9 208.2a1.7 1.7 0 1 0 3.4 0a1.7 1.7 0 1 0 -3.4 0M320.8 206.0a1.7 1.7 0 1 0 3.4 0a1.7 1.7 0 1 0 -3.4 0M322.2 208.2a1.7 1.7 0 1 0 3.4 0a1.7 1.7 0 1 0 -3.4 0M321.4 203.3a1.7 1.7 0 1 0 3.4 0a1.7 1.7 0 1 0 -3.4 0M323.9 205.3a1.7 1.7 0 1 0 3.4 0a1.7 1.7 0 1 0 -3.4 0M324.2 204.3a1.7 1.7 0 1 0 3.4 0a1.7 1.7 0 1 0 -3.4 0M324.7 201.7a1.7 1.7 0 1 0 3.4 0a1.7 1.7 0 1 0 -3.4 0M324.3 209.5a1.7 1.7 0 1 0 3.4 0a1.7 1.7 0 1 0 -3.4 0M325.7 202.6a1.7 1.7 0 1 0 3.4 0a1.7 1.7 0 1 0 -3.4 0M327.3 208.2a1.7 1.7 0 1 0 3.4 0a1.7 1.7 0 1 0 -3.4 0M326.4 205.6a1.7 1.7 0 1 0 3.4 0a1.7 1.7 0 1 0 -3.4 0M327.8 203.4a1.7 1.7 0 1 0 3.4 0a1.7 1.7 0 1 0 -3.4 0M328.5 208.9a1.7 1.7 0 1 0 3.4 0a1.7 1.7 0 1 0 -3.4 0M329.1 202.9a1.7 1.7 0 1 0 3.4 0a1.7 1.7 0 1 0 -3.4 0M328.5 209.5a1.7 1.7 0 1 0 3.4 0a1.7 1.7 0 1 0 -3.4 0M330.0 209.2a1.7 1.7 0 1 0 3.4 0a1.7 1.7 0 1 0 -3.4 0M330.2 207.1a1.7 1.7 0 1 0 3.4 0a1.7 1.7 0 1 0 -3.4 0M331.0 204.9a1.7 1.7 0 1 0 3.4 0a1.7 1.7 0 1 0 -3.4 0M331.6 205.1a1.7 1.7 0 1 0 3.4 0a1.7 1.7 0 1 0 -3.4 0M332.5 203.9a1.7 1.7 0 1 0 3.4 0a1.7 1.7 0 1 0 -3.4 0M333.1 204.7a1.7 1.7 0 1 0 3.4 0a1.7 1.7 0 1 0 -3.4 0M332.7 207.0a1.7 1.7 0 1 0 3.4 0a1.7 1.7 0 1 0 -3.4 0M333.5 202.8a1.7 1.7 0 1 0 3.4 0a1.7 1.7 0 1 0 -3.4 0M335.0 209.2a1.7 1.7 0 1 0 3.4 0a1.7 1.7 0 1 0 -3.4 0M335.8 205.3a1.7 1.7 0 1 0 3.4 0a1.7 1.7 0 1 0 -3.4 0M336.6 206.1a1.7 1.7 0 1 0 3.4 0a1.7 1.7 0 1 0 -3.4 0M336.4 208.6a1.7 1.7 0 1 0 3.4 0a1.7 1.7 0 1 0 -3.4 0M338.0 203.3a1.7 1.7 0 1 0 3.4 0a1.7 1.7 0 1 0 -3.4 0M337.3 202.4a1.7 1.7 0 1 0 3.4 0a1.7 1.7 0 1 0 -3.4 0M338.1 204.3a1.7 1.7 0 1 0 3.4 0a1.7 1.7 0 1 0 -3.4 0M338.5 209.2a1.7 1.7 0 1 0 3.4 0a1.7 1.7 0 1 0 -3.4 0M338.4 206.5a1.7 1.7 0 1 0 3.4 0a1.7 1.7 0 1 0 -3.4 0M339.6 209.4a1.7 1.7 0 1 0 3.4 0a1.7 1.7 0 1 0 -3.4 0M339.5 201.6a1.7 1.7 0 1 0 3.4 0a1.7 1.7 0 1 0 -3.4 0M339.8 203.9a1.7 1.7 0 1 0 3.4 0a1.7 1.7 0 1 0 -3.4 0M340.4 207.7a1.7 1.7 0 1 0 3.4 0a1.7 1.7 0 1 0 -3.4 0M342.0 206.3a1.7 1.7 0 1 0 3.4 0a1.7 1.7 0 1 0 -3.4 0M341.5 204.4a1.7 1.7 0 1 0 3.4 0a1.7 1.7 0 1 0 -3.4 0M343.1 209.6a1.7 1.7 0 1 0 3.4 0a1.7 1.7 0 1 0 -3.4 0M343.4 206.6a1.7 1.7 0 1 0 3.4 0a1.7 1.7 0 1 0 -3.4 0M343.5 204.0a1.7 1.7 0 1 0 3.4 0a1.7 1.7 0 1 0 -3.4 0M344.2 208.7a1.7 1.7 0 1 0 3.4 0a1.7 1.7 0 1 0 -3.4 0M344.3 208.8a1.7 1.7 0 1 0 3.4 0a1.7 1.7 0 1 0 -3.4 0M346.9 208.3a1.7 1.7 0 1 0 3.4 0a1.7 1.7 0 1 0 -3.4 0M346.6 204.8a1.7 1.7 0 1 0 3.4 0a1.7 1.7 0 1 0 -3.4 0M347.2 204.3a1.7 1.7 0 1 0 3.4 0a1.7 1.7 0 1 0 -3.4 0M348.1 209.4a1.7 1.7 0 1 0 3.4 0a1.7 1.7 0 1 0 -3.4 0M350.3 202.3a1.7 1.7 0 1 0 3.4 0a1.7 1.7 0 1 0 -3.4 0M353.2 206.9a1.7 1.7 0 1 0 3.4 0a1.7 1.7 0 1 0 -3.4 0M353.5 204.9a1.7 1.7 0 1 0 3.4 0a1.7 1.7 0 1 0 -3.4 0M354.1 204.7a1.7 1.7 0 1 0 3.4 0a1.7 1.7 0 1 0 -3.4 0M355.0 201.4a1.7 1.7 0 1 0 3.4 0a1.7 1.7 0 1 0 -3.4 0M354.6 206.7a1.7 1.7 0 1 0 3.4 0a1.7 1.7 0 1 0 -3.4 0M355.3 208.5a1.7 1.7 0 1 0 3.4 0a1.7 1.7 0 1 0 -3.4 0M358.1 205.4a1.7 1.7 0 1 0 3.4 0a1.7 1.7 0 1 0 -3.4 0M360.0 208.4a1.7 1.7 0 1 0 3.4 0a1.7 1.7 0 1 0 -3.4 0M361.0 202.1a1.7 1.7 0 1 0 3.4 0a1.7 1.7 0 1 0 -3.4 0M363.0 203.3a1.7 1.7 0 1 0 3.4 0a1.7 1.7 0 1 0 -3.4 0M362.9 209.0a1.7 1.7 0 1 0 3.4 0a1.7 1.7 0 1 0 -3.4 0M362.6 209.6a1.7 1.7 0 1 0 3.4 0a1.7 1.7 0 1 0 -3.4 0M364.8 206.7a1.7 1.7 0 1 0 3.4 0a1.7 1.7 0 1 0 -3.4 0M366.0 205.5a1.7 1.7 0 1 0 3.4 0a1.7 1.7 0 1 0 -3.4 0M366.0 202.3a1.7 1.7 0 1 0 3.4 0a1.7 1.7 0 1 0 -3.4 0M367.0 207.6a1.7 1.7 0 1 0 3.4 0a1.7 1.7 0 1 0 -3.4 0M366.8 202.7a1.7 1.7 0 1 0 3.4 0a1.7 1.7 0 1 0 -3.4 0M367.3 207.4a1.7 1.7 0 1 0 3.4 0a1.7 1.7 0 1 0 -3.4 0M368.6 206.7a1.7 1.7 0 1 0 3.4 0a1.7 1.7 0 1 0 -3.4 0M369.8 209.5a1.7 1.7 0 1 0 3.4 0a1.7 1.7 0 1 0 -3.4 0M370.5 204.1a1.7 1.7 0 1 0 3.4 0a1.7 1.7 0 1 0 -3.4 0M371.9 201.8a1.7 1.7 0 1 0 3.4 0a1.7 1.7 0 1 0 -3.4 0M372.6 201.8a1.7 1.7 0 1 0 3.4 0a1.7 1.7 0 1 0 -3.4 0M372.4 202.5a1.7 1.7 0 1 0 3.4 0a1.7 1.7 0 1 0 -3.4 0M374.6 202.0a1.7 1.7 0 1 0 3.4 0a1.7 1.7 0 1 0 -3.4 0M374.9 205.0a1.7 1.7 0 1 0 3.4 0a1.7 1.7 0 1 0 -3.4 0M375.6 204.8a1.7 1.7 0 1 0 3.4 0a1.7 1.7 0 1 0 -3.4 0M377.0 204.1a1.7 1.7 0 1 0 3.4 0a1.7 1.7 0 1 0 -3.4 0M376.8 207.0a1.7 1.7 0 1 0 3.4 0a1.7 1.7 0 1 0 -3.4 0M378.1 203.1a1.7 1.7 0 1 0 3.4 0a1.7 1.7 0 1 0 -3.4 0M378.7 204.4a1.7 1.7 0 1 0 3.4 0a1.7 1.7 0 1 0 -3.4 0M378.6 201.4a1.7 1.7 0 1 0 3.4 0a1.7 1.7 0 1 0 -3.4 0M382.0 205.8a1.7 1.7 0 1 0 3.4 0a1.7 1.7 0 1 0 -3.4 0M381.6 208.7a1.7 1.7 0 1 0 3.4 0a1.7 1.7 0 1 0 -3.4 0M383.4 208.2a1.7 1.7 0 1 0 3.4 0a1.7 1.7 0 1 0 -3.4 0M383.9 206.1a1.7 1.7 0 1 0 3.4 0a1.7 1.7 0 1 0 -3.4 0M386.0 206.5a1.7 1.7 0 1 0 3.4 0a1.7 1.7 0 1 0 -3.4 0M385.6 203.5a1.7 1.7 0 1 0 3.4 0a1.7 1.7 0 1 0 -3.4 0M386.5 207.9a1.7 1.7 0 1 0 3.4 0a1.7 1.7 0 1 0 -3.4 0M388.1 209.6a1.7 1.7 0 1 0 3.4 0a1.7 1.7 0 1 0 -3.4 0M388.1 207.7a1.7 1.7 0 1 0 3.4 0a1.7 1.7 0 1 0 -3.4 0M388.0 202.7a1.7 1.7 0 1 0 3.4 0a1.7 1.7 0 1 0 -3.4 0M393.7 209.3a1.7 1.7 0 1 0 3.4 0a1.7 1.7 0 1 0 -3.4 0M395.6 204.7a1.7 1.7 0 1 0 3.4 0a1.7 1.7 0 1 0 -3.4 0M395.5 207.6a1.7 1.7 0 1 0 3.4 0a1.7 1.7 0 1 0 -3.4 0M398.3 206.8a1.7 1.7 0 1 0 3.4 0a1.7 1.7 0 1 0 -3.4 0M398.4 206.3a1.7 1.7 0 1 0 3.4 0a1.7 1.7 0 1 0 -3.4 0M400.2 205.9a1.7 1.7 0 1 0 3.4 0a1.7 1.7 0 1 0 -3.4 0M401.1 206.0a1.7 1.7 0 1 0 3.4 0a1.7 1.7 0 1 0 -3.4 0M401.7 207.6a1.7 1.7 0 1 0 3.4 0a1.7 1.7 0 1 0 -3.4 0M403.1 203.1a1.7 1.7 0 1 0 3.4 0a1.7 1.7 0 1 0 -3.4 0M404.2 206.6a1.7 1.7 0 1 0 3.4 0a1.7 1.7 0 1 0 -3.4 0M405.8 208.7a1.7 1.7 0 1 0 3.4 0a1.7 1.7 0 1 0 -3.4 0M407.3 202.2a1.7 1.7 0 1 0 3.4 0a1.7 1.7 0 1 0 -3.4 0M408.3 208.9a1.7 1.7 0 1 0 3.4 0a1.7 1.7 0 1 0 -3.4 0M408.8 204.8a1.7 1.7 0 1 0 3.4 0a1.7 1.7 0 1 0 -3.4 0M411.3 209.2a1.7 1.7 0 1 0 3.4 0a1.7 1.7 0 1 0 -3.4 0M413.1 207.4a1.7 1.7 0 1 0 3.4 0a1.7 1.7 0 1 0 -3.4 0M416.0 205.2a1.7 1.7 0 1 0 3.4 0a1.7 1.7 0 1 0 -3.4 0M417.0 208.8a1.7 1.7 0 1 0 3.4 0a1.7 1.7 0 1 0 -3.4 0M417.8 204.8a1.7 1.7 0 1 0 3.4 0a1.7 1.7 0 1 0 -3.4 0M417.4 204.8a1.7 1.7 0 1 0 3.4 0a1.7 1.7 0 1 0 -3.4 0M421.4 203.1a1.7 1.7 0 1 0 3.4 0a1.7 1.7 0 1 0 -3.4 0M422.0 209.3a1.7 1.7 0 1 0 3.4 0a1.7 1.7 0 1 0 -3.4 0M422.8 208.5a1.7 1.7 0 1 0 3.4 0a1.7 1.7 0 1 0 -3.4 0M423.6 207.6a1.7 1.7 0 1 0 3.4 0a1.7 1.7 0 1 0 -3.4 0M424.1 203.7a1.7 1.7 0 1 0 3.4 0a1.7 1.7 0 1 0 -3.4 0M423.7 207.6a1.7 1.7 0 1 0 3.4 0a1.7 1.7 0 1 0 -3.4 0M425.2 203.8a1.7 1.7 0 1 0 3.4 0a1.7 1.7 0 1 0 -3.4 0M426.8 209.2a1.7 1.7 0 1 0 3.4 0a1.7 1.7 0 1 0 -3.4 0M426.9 203.2a1.7 1.7 0 1 0 3.4 0a1.7 1.7 0 1 0 -3.4 0M426.9 202.1a1.7 1.7 0 1 0 3.4 0a1.7 1.7 0 1 0 -3.4 0M427.6 208.4a1.7 1.7 0 1 0 3.4 0a1.7 1.7 0 1 0 -3.4 0M429.7 204.4a1.7 1.7 0 1 0 3.4 0a1.7 1.7 0 1 0 -3.4 0M431.0 208.3a1.7 1.7 0 1 0 3.4 0a1.7 1.7 0 1 0 -3.4 0M433.2 203.6a1.7 1.7 0 1 0 3.4 0a1.7 1.7 0 1 0 -3.4 0M432.8 205.5a1.7 1.7 0 1 0 3.4 0a1.7 1.7 0 1 0 -3.4 0M433.4 208.0a1.7 1.7 0 1 0 3.4 0a1.7 1.7 0 1 0 -3.4 0M434.1 208.2a1.7 1.7 0 1 0 3.4 0a1.7 1.7 0 1 0 -3.4 0M435.4 202.0a1.7 1.7 0 1 0 3.4 0a1.7 1.7 0 1 0 -3.4 0M437.3 207.2a1.7 1.7 0 1 0 3.4 0a1.7 1.7 0 1 0 -3.4 0M441.6 207.3a1.7 1.7 0 1 0 3.4 0a1.7 1.7 0 1 0 -3.4 0M441.4 206.7a1.7 1.7 0 1 0 3.4 0a1.7 1.7 0 1 0 -3.4 0" fill="#fff" stroke="#353535" stroke-width="1.05"/>
<path d="M265.1 123.7a1.7 1.7 0 1 0 3.4 0a1.7 1.7 0 1 0 -3.4 0M293.3 69.5a1.7 1.7 0 1 0 3.4 0a1.7 1.7 0 1 0 -3.4 0M293.3 72.3a1.7 1.7 0 1 0 3.4 0a1.7 1.7 0 1 0 -3.4 0M276.3 76.8a1.7 1.7 0 1 0 3.4 0a1.7 1.7 0 1 0 -3.4 0M294.6 77.5a1.7 1.7 0 1 0 3.4 0a1.7 1.7 0 1 0 -3.4 0M312.7 83.7a1.7 1.7 0 1 0 3.4 0a1.7 1.7 0 1 0 -3.4 0M312.7 90.2a1.7 1.7 0 1 0 3.4 0a1.7 1.7 0 1 0 -3.4 0M293.3 89.2a1.7 1.7 0 1 0 3.4 0a1.7 1.7 0 1 0 -3.4 0M275.8 116.5a1.7 1.7 0 1 0 3.4 0a1.7 1.7 0 1 0 -3.4 0M295.6 118.5a1.7 1.7 0 1 0 3.4 0a1.7 1.7 0 1 0 -3.4 0M277.3 130.0a1.7 1.7 0 1 0 3.4 0a1.7 1.7 0 1 0 -3.4 0M297.5 145.4a1.7 1.7 0 1 0 3.4 0a1.7 1.7 0 1 0 -3.4 0M327.7 144.4a1.7 1.7 0 1 0 3.4 0a1.7 1.7 0 1 0 -3.4 0M292.1 148.7a1.7 1.7 0 1 0 3.4 0a1.7 1.7 0 1 0 -3.4 0M312.9 149.8a1.7 1.7 0 1 0 3.4 0a1.7 1.7 0 1 0 -3.4 0M264.3 149.8a1.7 1.7 0 1 0 3.4 0a1.7 1.7 0 1 0 -3.4 0M266.2 154.6a1.7 1.7 0 1 0 3.4 0a1.7 1.7 0 1 0 -3.4 0M274.5 154.0a1.7 1.7 0 1 0 3.4 0a1.7 1.7 0 1 0 -3.4 0M319.6 155.6a1.7 1.7 0 1 0 3.4 0a1.7 1.7 0 1 0 -3.4 0M297.5 157.9a1.7 1.7 0 1 0 3.4 0a1.7 1.7 0 1 0 -3.4 0M287.9 158.8a1.7 1.7 0 1 0 3.4 0a1.7 1.7 0 1 0 -3.4 0M271.4 159.8a1.7 1.7 0 1 0 3.4 0a1.7 1.7 0 1 0 -3.4 0M276.3 159.8a1.7 1.7 0 1 0 3.4 0a1.7 1.7 0 1 0 -3.4 0M310.4 160.4a1.7 1.7 0 1 0 3.4 0a1.7 1.7 0 1 0 -3.4 0M329.6 162.7a1.7 1.7 0 1 0 3.4 0a1.7 1.7 0 1 0 -3.4 0M311.0 164.2a1.7 1.7 0 1 0 3.4 0a1.7 1.7 0 1 0 -3.4 0M319.1 163.1a1.7 1.7 0 1 0 3.4 0a1.7 1.7 0 1 0 -3.4 0M316.2 164.2a1.7 1.7 0 1 0 3.4 0a1.7 1.7 0 1 0 -3.4 0M310.4 166.2a1.7 1.7 0 1 0 3.4 0a1.7 1.7 0 1 0 -3.4 0M268.1 166.5a1.7 1.7 0 1 0 3.4 0a1.7 1.7 0 1 0 -3.4 0M295.6 166.2a1.7 1.7 0 1 0 3.4 0a1.7 1.7 0 1 0 -3.4 0M322.9 168.5a1.7 1.7 0 1 0 3.4 0a1.7 1.7 0 1 0 -3.4 0M281.6 169.4a1.7 1.7 0 1 0 3.4 0a1.7 1.7 0 1 0 -3.4 0M297.0 170.4a1.7 1.7 0 1 0 3.4 0a1.7 1.7 0 1 0 -3.4 0M324.8 171.3a1.7 1.7 0 1 0 3.4 0a1.7 1.7 0 1 0 -3.4 0M115.6 124.2a1.7 1.7 0 1 0 3.4 0a1.7 1.7 0 1 0 -3.4 0M114.1 149.0a1.7 1.7 0 1 0 3.4 0a1.7 1.7 0 1 0 -3.4 0M157.0 149.6a1.7 1.7 0 1 0 3.4 0a1.7 1.7 0 1 0 -3.4 0M145.8 154.2a1.7 1.7 0 1 0 3.4 0a1.7 1.7 0 1 0 -3.4 0M171.3 155.8a1.7 1.7 0 1 0 3.4 0a1.7 1.7 0 1 0 -3.4 0M123.9 155.8a1.7 1.7 0 1 0 3.4 0a1.7 1.7 0 1 0 -3.4 0M96.8 157.0a1.7 1.7 0 1 0 3.4 0a1.7 1.7 0 1 0 -3.4 0M100.8 158.3a1.7 1.7 0 1 0 3.4 0a1.7 1.7 0 1 0 -3.4 0M103.5 159.6a1.7 1.7 0 1 0 3.4 0a1.7 1.7 0 1 0 -3.4 0M90.0 160.6a1.7 1.7 0 1 0 3.4 0a1.7 1.7 0 1 0 -3.4 0M129.1 158.8a1.7 1.7 0 1 0 3.4 0a1.7 1.7 0 1 0 -3.4 0M133.5 160.0a1.7 1.7 0 1 0 3.4 0a1.7 1.7 0 1 0 -3.4 0M114.1 161.7a1.7 1.7 0 1 0 3.4 0a1.7 1.7 0 1 0 -3.4 0M151.2 164.0a1.7 1.7 0 1 0 3.4 0a1.7 1.7 0 1 0 -3.4 0M161.3 164.6a1.7 1.7 0 1 0 3.4 0a1.7 1.7 0 1 0 -3.4 0M143.1 166.9a1.7 1.7 0 1 0 3.4 0a1.7 1.7 0 1 0 -3.4 0M96.8 168.8a1.7 1.7 0 1 0 3.4 0a1.7 1.7 0 1 0 -3.4 0M102.5 170.8a1.7 1.7 0 1 0 3.4 0a1.7 1.7 0 1 0 -3.4 0M118.5 169.8a1.7 1.7 0 1 0 3.4 0a1.7 1.7 0 1 0 -3.4 0M120.4 171.7a1.7 1.7 0 1 0 3.4 0a1.7 1.7 0 1 0 -3.4 0M134.5 172.3a1.7 1.7 0 1 0 3.4 0a1.7 1.7 0 1 0 -3.4 0M166.2 171.3a1.7 1.7 0 1 0 3.4 0a1.7 1.7 0 1 0 -3.4 0M172.3 168.8a1.7 1.7 0 1 0 3.4 0a1.7 1.7 0 1 0 -3.4 0M183.3 161.2a1.7 1.7 0 1 0 3.4 0a1.7 1.7 0 1 0 -3.4 0M214.8 158.3a1.7 1.7 0 1 0 3.4 0a1.7 1.7 0 1 0 -3.4 0M232.1 155.8a1.7 1.7 0 1 0 3.4 0a1.7 1.7 0 1 0 -3.4 0M220.6 167.9a1.7 1.7 0 1 0 3.4 0a1.7 1.7 0 1 0 -3.4 0M244.6 149.0a1.7 1.7 0 1 0 3.4 0a1.7 1.7 0 1 0 -3.4 0M255.4 147.1a1.7 1.7 0 1 0 3.4 0a1.7 1.7 0 1 0 -3.4 0M263.9 150.2a1.7 1.7 0 1 0 3.4 0a1.7 1.7 0 1 0 -3.4 0M240.8 154.4a1.7 1.7 0 1 0 3.4 0a1.7 1.7 0 1 0 -3.4 0M245.2 155.8a1.7 1.7 0 1 0 3.4 0a1.7 1.7 0 1 0 -3.4 0M247.1 158.8a1.7 1.7 0 1 0 3.4 0a1.7 1.7 0 1 0 -3.4 0M266.0 155.0a1.7 1.7 0 1 0 3.4 0a1.7 1.7 0 1 0 -3.4 0M257.1 164.6a1.7 1.7 0 1 0 3.4 0a1.7 1.7 0 1 0 -3.4 0M260.6 164.6a1.7 1.7 0 1 0 3.4 0a1.7 1.7 0 1 0 -3.4 0M266.8 167.0a1.7 1.7 0 1 0 3.4 0a1.7 1.7 0 1 0 -3.4 0M257.1 169.2a1.7 1.7 0 1 0 3.4 0a1.7 1.7 0 1 0 -3.4 0M255.8 147.0a1.7 1.7 0 1 0 3.4 0a1.7 1.7 0 1 0 -3.4 0M244.8 149.0a1.7 1.7 0 1 0 3.4 0a1.7 1.7 0 1 0 -3.4 0M429.5 129.6a1.7 1.7 0 1 0 3.4 0a1.7 1.7 0 1 0 -3.4 0M395.4 149.8a1.7 1.7 0 1 0 3.4 0a1.7 1.7 0 1 0 -3.4 0M425.6 156.2a1.7 1.7 0 1 0 3.4 0a1.7 1.7 0 1 0 -3.4 0M429.5 155.6a1.7 1.7 0 1 0 3.4 0a1.7 1.7 0 1 0 -3.4 0M433.9 157.1a1.7 1.7 0 1 0 3.4 0a1.7 1.7 0 1 0 -3.4 0M395.4 160.8a1.7 1.7 0 1 0 3.4 0a1.7 1.7 0 1 0 -3.4 0M391.4 163.3a1.7 1.7 0 1 0 3.4 0a1.7 1.7 0 1 0 -3.4 0M406.0 163.3a1.7 1.7 0 1 0 3.4 0a1.7 1.7 0 1 0 -3.4 0M395.4 167.1a1.7 1.7 0 1 0 3.4 0a1.7 1.7 0 1 0 -3.4 0M409.8 166.7a1.7 1.7 0 1 0 3.4 0a1.7 1.7 0 1 0 -3.4 0M419.5 166.2a1.7 1.7 0 1 0 3.4 0a1.7 1.7 0 1 0 -3.4 0M432.3 165.2a1.7 1.7 0 1 0 3.4 0a1.7 1.7 0 1 0 -3.4 0M430.4 168.1a1.7 1.7 0 1 0 3.4 0a1.7 1.7 0 1 0 -3.4 0M421.8 171.0a1.7 1.7 0 1 0 3.4 0a1.7 1.7 0 1 0 -3.4 0M435.2 171.0a1.7 1.7 0 1 0 3.4 0a1.7 1.7 0 1 0 -3.4 0M395.4 171.9a1.7 1.7 0 1 0 3.4 0a1.7 1.7 0 1 0 -3.4 0M432.0 173.5a1.7 1.7 0 1 0 3.4 0a1.7 1.7 0 1 0 -3.4 0M408.9 174.4a1.7 1.7 0 1 0 3.4 0a1.7 1.7 0 1 0 -3.4 0M415.0 173.8a1.7 1.7 0 1 0 3.4 0a1.7 1.7 0 1 0 -3.4 0M395.4 176.3a1.7 1.7 0 1 0 3.4 0a1.7 1.7 0 1 0 -3.4 0M439.1 175.8a1.7 1.7 0 1 0 3.4 0a1.7 1.7 0 1 0 -3.4 0M319.3 155.3a1.7 1.7 0 1 0 3.4 0a1.7 1.7 0 1 0 -3.4 0M330.0 162.7a1.7 1.7 0 1 0 3.4 0a1.7 1.7 0 1 0 -3.4 0M323.1 170.0a1.7 1.7 0 1 0 3.4 0a1.7 1.7 0 1 0 -3.4 0M324.1 171.8a1.7 1.7 0 1 0 3.4 0a1.7 1.7 0 1 0 -3.4 0M309.9 175.4a1.7 1.7 0 1 0 3.4 0a1.7 1.7 0 1 0 -3.4 0M319.5 177.0a1.7 1.7 0 1 0 3.4 0a1.7 1.7 0 1 0 -3.4 0M369.2 180.3a1.7 1.7 0 1 0 3.4 0a1.7 1.7 0 1 0 -3.4 0M362.8 187.7a1.7 1.7 0 1 0 3.4 0a1.7 1.7 0 1 0 -3.4 0M366.4 185.0a1.7 1.7 0 1 0 3.4 0a1.7 1.7 0 1 0 -3.4 0M196.2 173.7a1.7 1.7 0 1 0 3.4 0a1.7 1.7 0 1 0 -3.4 0M205.8 173.5a1.7 1.7 0 1 0 3.4 0a1.7 1.7 0 1 0 -3.4 0M214.3 174.0a1.7 1.7 0 1 0 3.4 0a1.7 1.7 0 1 0 -3.4 0M231.8 173.0a1.7 1.7 0 1 0 3.4 0a1.7 1.7 0 1 0 -3.4 0M251.3 173.0a1.7 1.7 0 1 0 3.4 0a1.7 1.7 0 1 0 -3.4 0" fill="#fff" stroke="#484848" stroke-width="1.1"/>
<line x1="94.5" y1="83.3" x2="94.5" y2="187" stroke="#b0d4de" stroke-width="1.9" stroke-opacity="0.85"/>
<line x1="182.5" y1="141" x2="182.5" y2="190" stroke="#b0d4de" stroke-width="1.9" stroke-opacity="0.85"/>
<line x1="288.4" y1="147" x2="288.4" y2="205" stroke="#b0d4de" stroke-width="1.9" stroke-opacity="0.85"/>
<line x1="298.8" y1="143" x2="298.8" y2="205" stroke="#b0d4de" stroke-width="1.9" stroke-opacity="0.85"/>
<line x1="314.8" y1="153" x2="314.8" y2="200" stroke="#b0d4de" stroke-width="1.9" stroke-opacity="0.85"/>
<line x1="344.8" y1="174" x2="344.8" y2="200" stroke="#b0d4de" stroke-width="1.9" stroke-opacity="0.85"/>
<line x1="427.2" y1="75" x2="427.2" y2="205" stroke="#b0d4de" stroke-width="1.9" stroke-opacity="0.85"/>
<line x1="437.5" y1="174.6" x2="437.5" y2="200" stroke="#b0d4de" stroke-width="1.9" stroke-opacity="0.85"/>
<path d="M126.2 158.3a1.7 1.7 0 1 0 3.4 0a1.7 1.7 0 1 0 -3.4 0M394.8 163.3a1.7 1.7 0 1 0 3.4 0a1.7 1.7 0 1 0 -3.4 0M427.0 171.0a1.7 1.7 0 1 0 3.4 0a1.7 1.7 0 1 0 -3.4 0" fill="#333" stroke="#555" stroke-width="1.05"/>
<circle cx="280.5" cy="92.5" r="1.7" fill="#c07878" stroke="#5a2a2a" stroke-width="0.8"/>
<circle cx="290" cy="102.5" r="1.7" fill="#c07070" stroke="#5a2a2a" stroke-width="0.8"/>
<circle cx="291.3" cy="134" r="1.7" fill="#c83838" stroke="#5a2a2a" stroke-width="0.8"/>
<circle cx="293.5" cy="132.6" r="1.7" fill="#c83838" stroke="#5a2a2a" stroke-width="0.8"/>
<path d="M288.6 128.6a1.7 1.7 0 1 0 3.4 0a1.7 1.7 0 1 0 -3.4 0M285.4 144.4a1.7 1.7 0 1 0 3.4 0a1.7 1.7 0 1 0 -3.4 0M286.0 160.8a1.7 1.7 0 1 0 3.4 0a1.7 1.7 0 1 0 -3.4 0M284.1 162.7a1.7 1.7 0 1 0 3.4 0a1.7 1.7 0 1 0 -3.4 0" fill="#fff" stroke="#9a4a4a" stroke-width="1.05"/>
<path d="M283 56.3L287.6 49.7L292.2 56.3Z" fill="#d01818" stroke="#901010" stroke-width="0.6"/>
<path d="M293.55 96.1L295.75 92.5L297.95 96.1Z" fill="none" stroke="#8a5a5a" stroke-width="0.9"/>
<path d="M283.8 140.2L286 136.6L288.2 140.2Z" fill="none" stroke="#8a5a5a" stroke-width="0.9"/>
<line x1="88" y1="210.0" x2="444" y2="210.0" stroke="#000" stroke-width="1.4" stroke-dasharray="1.2 1.5" stroke-opacity="0.8"/>
<text x="258.3" y="46.4" font-size="8.3" font-weight="normal" text-anchor="start" fill="#000">rs3824662</text>
<rect x="75.5" y="11" width="383" height="238.4" fill="none" stroke="#000" stroke-width="1.6"/>
<line x1="71" y1="209.6" x2="75.5" y2="209.6" stroke="#000" stroke-width="1.3"/>
<text x="67.9" y="211.8" font-size="6.3" font-weight="bold" text-anchor="end" fill="#000">0</text>
<line x1="71" y1="188.6" x2="75.5" y2="188.6" stroke="#000" stroke-width="1.3"/>
<text x="67.9" y="190.8" font-size="6.3" font-weight="bold" text-anchor="end" fill="#000">1</text>
<line x1="71" y1="167.6" x2="75.5" y2="167.6" stroke="#000" stroke-width="1.3"/>
<text x="67.9" y="169.8" font-size="6.3" font-weight="bold" text-anchor="end" fill="#000">2</text>
<line x1="71" y1="146.6" x2="75.5" y2="146.6" stroke="#000" stroke-width="1.3"/>
<text x="67.9" y="148.8" font-size="6.3" font-weight="bold" text-anchor="end" fill="#000">3</text>
<line x1="71" y1="125.6" x2="75.5" y2="125.6" stroke="#000" stroke-width="1.3"/>
<text x="67.9" y="127.8" font-size="6.3" font-weight="bold" text-anchor="end" fill="#000">4</text>
<line x1="71" y1="104.6" x2="75.5" y2="104.6" stroke="#000" stroke-width="1.3"/>
<text x="67.9" y="106.8" font-size="6.3" font-weight="bold" text-anchor="end" fill="#000">5</text>
<line x1="71" y1="83.6" x2="75.5" y2="83.6" stroke="#000" stroke-width="1.3"/>
<text x="67.9" y="85.8" font-size="6.3" font-weight="bold" text-anchor="end" fill="#000">6</text>
<line x1="71" y1="62.6" x2="75.5" y2="62.6" stroke="#000" stroke-width="1.3"/>
<text x="67.9" y="64.8" font-size="6.3" font-weight="bold" text-anchor="end" fill="#000">7</text>
<line x1="71" y1="41.6" x2="75.5" y2="41.6" stroke="#000" stroke-width="1.3"/>
<text x="67.9" y="43.8" font-size="6.3" font-weight="bold" text-anchor="end" fill="#000">8</text>
<line x1="71" y1="20.6" x2="75.5" y2="20.6" stroke="#000" stroke-width="1.3"/>
<text x="67.9" y="22.8" font-size="6.3" font-weight="bold" text-anchor="end" fill="#000">9</text>
<line x1="458.5" y1="209.5" x2="463" y2="209.5" stroke="#000" stroke-width="1.3"/>
<text x="466" y="211.7" font-size="6.3" font-weight="normal" text-anchor="start" fill="#333">0</text>
<line x1="458.5" y1="182" x2="463" y2="182" stroke="#000" stroke-width="1.3"/>
<text x="466" y="184.2" font-size="6.3" font-weight="normal" text-anchor="start" fill="#333">10</text>
<line x1="458.5" y1="154.5" x2="463" y2="154.5" stroke="#000" stroke-width="1.3"/>
<text x="466" y="156.7" font-size="6.3" font-weight="normal" text-anchor="start" fill="#333">20</text>
<line x1="458.5" y1="127" x2="463" y2="127" stroke="#000" stroke-width="1.3"/>
<text x="466" y="129.2" font-size="6.3" font-weight="normal" text-anchor="start" fill="#333">30</text>
<line x1="458.5" y1="99.5" x2="463" y2="99.5" stroke="#000" stroke-width="1.3"/>
<text x="466" y="101.7" font-size="6.3" font-weight="normal" text-anchor="start" fill="#333">40</text>
<line x1="458.5" y1="72" x2="463" y2="72" stroke="#000" stroke-width="1.3"/>
<text x="466" y="74.2" font-size="6.3" font-weight="normal" text-anchor="start" fill="#333">50</text>
<line x1="126.7" y1="249.4" x2="126.7" y2="253.7" stroke="#000" stroke-width="1.3"/>
<text x="126.7" y="263.8" font-size="6.6" font-weight="bold" text-anchor="middle" fill="#000">7800</text>
<line x1="179.5" y1="249.4" x2="179.5" y2="253.7" stroke="#000" stroke-width="1.3"/>
<text x="179.5" y="263.8" font-size="6.6" font-weight="bold" text-anchor="middle" fill="#000">7900</text>
<line x1="232.3" y1="249.4" x2="232.3" y2="253.7" stroke="#000" stroke-width="1.3"/>
<text x="232.3" y="263.8" font-size="6.6" font-weight="bold" text-anchor="middle" fill="#000">8000</text>
<line x1="285.1" y1="249.4" x2="285.1" y2="253.7" stroke="#000" stroke-width="1.3"/>
<text x="285.1" y="263.8" font-size="6.6" font-weight="bold" text-anchor="middle" fill="#000">8100</text>
<line x1="337.9" y1="249.4" x2="337.9" y2="253.7" stroke="#000" stroke-width="1.3"/>
<text x="337.9" y="263.8" font-size="6.6" font-weight="bold" text-anchor="middle" fill="#000">8200</text>
<line x1="390.7" y1="249.4" x2="390.7" y2="253.7" stroke="#000" stroke-width="1.3"/>
<text x="390.7" y="263.8" font-size="6.6" font-weight="bold" text-anchor="middle" fill="#000">8300</text>
<line x1="443.5" y1="249.4" x2="443.5" y2="253.7" stroke="#000" stroke-width="1.3"/>
<text x="443.5" y="263.8" font-size="6.6" font-weight="bold" text-anchor="middle" fill="#000">8400</text>
<text x="47.2" y="112" font-size="7" font-weight="bold" text-anchor="middle" transform="rotate(-90 47.2 112)" dominant-baseline="central">- log<tspan font-size="4.5" dy="1.2">10</tspan><tspan dy="-1.2">P</tspan></text>
<text x="482" y="131" font-size="6.5" font-weight="bold" text-anchor="middle" transform="rotate(-90 482 131)" dominant-baseline="central">Recombination rate (cM/Mb)</text>
<text x="266.8" y="276.4" font-size="6.5" font-weight="bold" text-anchor="middle" fill="#000">Chromosome 10 (kb)</text>
<defs><linearGradient id="cb438" x1="0" y1="0" x2="0" y2="1"><stop offset="0" stop-color="#ff0000"/><stop offset="0.18" stop-color="#f41010"/><stop offset="0.2" stop-color="#ee2a2a"/><stop offset="0.55" stop-color="#f04848"/><stop offset="0.6" stop-color="#f58a8a"/><stop offset="0.85" stop-color="#f8c4c4"/><stop offset="1" stop-color="#fdecec"/></linearGradient></defs>
<rect x="438.4" y="23.1" width="8.4" height="59.4" fill="url(#cb438)"/>
<text x="442.6" y="41.2" font-size="6.3" font-weight="bold" text-anchor="middle" fill="#3a0000">0.8</text>
<text x="442.6" y="60.2" font-size="6.3" font-weight="bold" text-anchor="middle" fill="#3a0000">0.5</text>
<text x="441.4" y="92.2" font-size="7.5" text-anchor="middle" fill="#222">r<tspan font-size="4.8" dy="-3.2">2</tspan></text>
<line x1="96.9" y1="215.1" x2="122.3" y2="215.1" stroke="#3a8a5e" stroke-width="1.0"/>
<text x="122" y="221.5" font-size="6.2" font-weight="bold" text-anchor="end" fill="#111" font-style="italic">ITIH2</text>
<line x1="125" y1="221.2" x2="143" y2="221.2" stroke="#3a8a5e" stroke-width="1.0"/>
<text x="125.4" y="227.7" font-size="6.2" font-weight="bold" text-anchor="start" fill="#111" font-style="italic">KIN</text>
<line x1="142.3" y1="228.2" x2="153" y2="228.2" stroke="#3a8a5e" stroke-width="1.0"/>
<text x="151.5" y="234.6" font-size="6.2" font-weight="bold" text-anchor="end" fill="#111" font-style="italic">ATP5C1</text>
<line x1="158.5" y1="234.6" x2="264" y2="234.6" stroke="#3a8a5e" stroke-width="1.0"/>
<text x="262.5" y="240.5" font-size="6.2" font-weight="bold" text-anchor="end" fill="#111" font-style="italic">TAF3</text>
<line x1="283" y1="214.9" x2="293.5" y2="214.9" stroke="#3a8a5e" stroke-width="1.0"/>
<text x="293.6" y="221.2" font-size="6.2" font-weight="bold" text-anchor="end" fill="#111" font-style="italic">GATA3</text>
<path d="M276.4 223.5V236.4L42.3 325" fill="none" stroke="#888" stroke-width="0.9"/>
<path d="M298.5 223.5V235.4L498.8 325.2" fill="none" stroke="#888" stroke-width="0.9"/>
<line x1="38.6" y1="343.7" x2="501" y2="343.7" stroke="#000" stroke-width="2.6" stroke-linecap="round"/>
<line x1="38.6" y1="340.5" x2="38.6" y2="346.9" stroke="#000" stroke-width="1.3"/>
<text x="38.6" y="337.1" font-size="8.3" font-weight="normal" text-anchor="middle" fill="#000">8090000</text>
<line x1="115.6" y1="340.5" x2="115.6" y2="346.9" stroke="#000" stroke-width="1.3"/>
<text x="115.6" y="337.1" font-size="8.3" font-weight="normal" text-anchor="middle" fill="#000">8095000</text>
<line x1="192.6" y1="340.5" x2="192.6" y2="346.9" stroke="#000" stroke-width="1.3"/>
<text x="192.6" y="337.1" font-size="8.3" font-weight="normal" text-anchor="middle" fill="#000">8100000</text>
<line x1="269.5" y1="340.5" x2="269.5" y2="346.9" stroke="#000" stroke-width="1.3"/>
<text x="269.5" y="337.1" font-size="8.3" font-weight="normal" text-anchor="middle" fill="#000">8105000</text>
<line x1="346.5" y1="340.5" x2="346.5" y2="346.9" stroke="#000" stroke-width="1.3"/>
<text x="346.5" y="337.1" font-size="8.3" font-weight="normal" text-anchor="middle" fill="#000">8110000</text>
<line x1="423.5" y1="340.5" x2="423.5" y2="346.9" stroke="#000" stroke-width="1.3"/>
<text x="423.5" y="337.1" font-size="8.3" font-weight="normal" text-anchor="middle" fill="#000">8115000</text>
<line x1="500.5" y1="340.5" x2="500.5" y2="346.9" stroke="#000" stroke-width="1.3"/>
<text x="500.5" y="337.1" font-size="8.3" font-weight="normal" text-anchor="middle" fill="#000">8120000</text>
<circle cx="38.6" cy="343.7" r="1.8" fill="#000"/>
<circle cx="501" cy="343.7" r="1.8" fill="#000"/>
<text x="111.7" y="359.2" font-size="7.9" font-weight="normal" text-anchor="start" fill="#33336e">GATA3</text>
<line x1="144" y1="356" x2="435" y2="356" stroke="#8a8ab8" stroke-width="0.7" stroke-dasharray="2 1.6"/>
<rect x="141.5" y="353.9" width="2.7" height="4.6" fill="#1a1a8a"/>
<rect x="151.2" y="354" width="5.4" height="4.6" fill="#1a1a8a"/>
<rect x="156.5" y="350.8" width="3.1" height="10.4" fill="#1a1a8a"/>
<rect x="197.3" y="350.8" width="8.2" height="10.8" fill="#1a1a8a"/>
<rect x="284.6" y="350.8" width="2.2" height="10.4" fill="#1a1a8a"/>
<rect x="368.7" y="350.8" width="2.2" height="10.4" fill="#1a1a8a"/>
<rect x="434.7" y="351" width="4.5" height="10" fill="#1a1a8a"/>
<rect x="439" y="353.7" width="18.5" height="5.1" fill="#1a1a8a"/>
<text x="214" y="380.5" font-size="8" font-weight="normal" text-anchor="start" fill="#000">rs3824662</text>
<line x1="258.2" y1="367.5" x2="258.2" y2="382" stroke="#000" stroke-width="1"/>
<rect x="38.8" y="390.6" width="46.2" height="14.4" fill="#ffffff"/>
<rect x="85" y="390.6" width="33" height="14.4" fill="#808080"/>
<rect x="118" y="390.6" width="6.5" height="14.4" fill="#f8f20c"/>
<rect x="124.5" y="390.6" width="12.5" height="14.4" fill="#f27070"/>
<rect x="137" y="390.6" width="3.5" height="14.4" fill="#f8f20c"/>
<rect x="140.5" y="390.6" width="15" height="14.4" fill="#f27070"/>
<rect x="155.5" y="390.6" width="24.5" height="14.4" fill="#f20d0d"/>
<rect x="180" y="390.6" width="5" height="14.4" fill="#f27070"/>
<rect x="185" y="390.6" width="2.2" height="14.4" fill="#f9bc10"/>
<rect x="187.2" y="390.6" width="5.3" height="14.4" fill="#f8f20c"/>
<rect x="192.5" y="390.6" width="18.5" height="14.4" fill="#8cee6a"/>
<rect x="211" y="390.6" width="12.8" height="14.4" fill="#f8f20c"/>
<rect x="223.8" y="390.6" width="27.2" height="14.4" fill="#f9bc10"/>
<rect x="251" y="390.6" width="18.5" height="14.4" fill="#f8f20c"/>
<rect x="269.5" y="390.6" width="34.3" height="14.4" fill="#8cee6a"/>
<rect x="303.8" y="390.6" width="16.2" height="14.4" fill="#f8f20c"/>
<rect x="320" y="390.6" width="29.5" height="14.4" fill="#8cee6a"/>
<rect x="349.5" y="390.6" width="28" height="14.4" fill="#f8f20c"/>
<rect x="377.5" y="390.6" width="122.9" height="14.4" fill="#ffffff"/>
<rect x="38.8" y="390.6" width="461.6" height="14.4" fill="none" stroke="#999" stroke-width="0.8"/>
<path d="M49.3 426.2v-14.3h0.64v14.3zM49.8 426.2v-13.1h0.62v13.1zM50.3 426.2v-13.9h1.11v13.9zM50.8 426.2v-14.7h0.90v14.7zM51.3 426.2v-14.0h0.77v14.0zM53.3 426.2v-13.4h0.74v13.4zM53.8 426.2v-12.4h1.06v12.4zM54.3 426.2v-15.6h0.83v15.6zM55.8 426.2v-7.2h1.15v7.2zM62.8 426.2v-12.4h1.08v12.4zM63.3 426.2v-14.4h0.87v14.4zM63.8 426.2v-15.1h0.68v15.1zM64.8 426.2v-13.9h0.73v13.9zM65.3 426.2v-16.1h1.08v16.1zM65.8 426.2v-15.7h0.73v15.7zM66.3 426.2v-15.6h0.99v15.6zM66.8 426.2v-16.2h0.73v16.2zM67.3 426.2v-15.3h0.80v15.3zM72.3 426.2v-14.5h1.12v14.5zM72.8 426.2v-12.8h1.15v12.8zM73.8 426.2v-12.9h1.04v12.9zM74.8 426.2v-16.0h1.13v16.0zM75.3 426.2v-13.9h0.66v13.9zM75.8 426.2v-16.0h0.74v16.0zM76.3 426.2v-13.2h1.09v13.2zM76.8 426.2v-13.3h0.71v13.3zM77.3 426.2v-12.4h0.74v12.4zM77.8 426.2v-15.6h0.97v15.6zM78.3 426.2v-15.9h0.72v15.9zM78.8 426.2v-13.2h0.87v13.2zM79.3 426.2v-12.9h0.82v12.9zM79.8 426.2v-12.7h0.82v12.7zM81.3 426.2v-14.9h0.95v14.9zM81.8 426.2v-12.3h0.61v12.3zM82.8 426.2v-16.0h0.61v16.0zM83.3 426.2v-14.1h1.04v14.1zM83.8 426.2v-16.2h0.65v16.2zM95.3 426.2v-15.1h0.83v15.1zM95.8 426.2v-14.5h0.86v14.5zM96.3 426.2v-12.5h1.05v12.5zM96.8 426.2v-14.6h0.89v14.6zM97.3 426.2v-15.0h0.90v15.0zM97.8 426.2v-15.9h0.75v15.9zM98.3 426.2v-13.4h1.01v13.4zM98.8 426.2v-12.8h1.14v12.8zM99.3 426.2v-13.9h1.14v13.9zM99.8 426.2v-14.8h0.72v14.8zM100.3 426.2v-15.4h1.15v15.4zM100.8 426.2v-13.7h0.95v13.7zM101.3 426.2v-12.7h0.90v12.7zM101.8 426.2v-15.6h1.03v15.6zM102.8 426.2v-12.8h0.87v12.8zM103.3 426.2v-13.0h0.85v13.0zM103.8 426.2v-14.2h0.79v14.2zM104.3 426.2v-16.1h0.87v16.1zM104.8 426.2v-12.3h1.12v12.3zM105.3 426.2v-15.0h0.94v15.0zM106.8 426.2v-6.4h0.87v6.4zM107.3 426.2v-14.3h0.74v14.3zM113.8 426.2v-10.2h1.03v10.2zM121.3 426.2v-14.7h1.15v14.7zM121.8 426.2v-14.5h1.13v14.5zM123.3 426.2v-14.8h0.72v14.8zM128.8 426.2v-15.8h1.11v15.8zM132.3 426.2v-14.0h0.64v14.0zM135.8 426.2v-15.1h1.10v15.1zM136.3 426.2v-16.0h0.90v16.0zM137.3 426.2v-13.0h0.92v13.0zM137.8 426.2v-15.1h0.98v15.1zM138.3 426.2v-15.6h0.94v15.6zM138.8 426.2v-13.7h1.11v13.7zM139.8 426.2v-15.6h1.18v15.6zM140.3 426.2v-14.5h0.72v14.5zM140.8 426.2v-14.2h0.96v14.2zM141.3 426.2v-16.1h0.91v16.1zM141.8 426.2v-15.4h0.94v15.4zM142.3 426.2v-14.9h0.64v14.9zM142.8 426.2v-13.8h1.17v13.8zM143.8 426.2v-14.1h0.68v14.1zM144.3 426.2v-15.5h1.14v15.5zM144.8 426.2v-13.4h0.71v13.4zM145.3 426.2v-15.9h0.68v15.9zM145.8 426.2v-12.2h0.72v12.2zM146.3 426.2v-14.9h0.79v14.9zM146.8 426.2v-14.7h0.66v14.7zM147.3 426.2v-12.6h0.91v12.6zM147.8 426.2v-13.0h0.92v13.0zM148.3 426.2v-13.7h0.85v13.7zM148.8 426.2v-12.8h0.72v12.8zM149.3 426.2v-14.7h0.92v14.7zM154.8 426.2v-16.2h1.13v16.2zM155.3 426.2v-13.1h1.04v13.1zM155.8 426.2v-12.5h1.10v12.5zM156.3 426.2v-15.3h0.68v15.3zM156.8 426.2v-14.9h0.61v14.9zM157.3 426.2v-14.9h1.15v14.9zM158.3 426.2v-14.2h1.05v14.2zM158.8 426.2v-14.9h0.71v14.9zM159.3 426.2v-12.6h0.62v12.6zM159.8 426.2v-14.2h0.94v14.2zM160.3 426.2v-12.9h0.72v12.9zM160.8 426.2v-16.2h1.16v16.2zM165.3 426.2v-14.6h0.61v14.6zM170.3 426.2v-15.0h1.08v15.0zM176.8 426.2v-13.8h1.14v13.8zM177.3 426.2v-15.0h1.06v15.0zM177.8 426.2v-13.8h1.03v13.8zM178.3 426.2v-13.5h0.88v13.5zM178.8 426.2v-13.6h0.98v13.6zM179.3 426.2v-13.1h1.17v13.1zM179.8 426.2v-13.5h1.00v13.5zM180.3 426.2v-14.3h0.83v14.3zM181.3 426.2v-15.0h1.06v15.0zM182.3 426.2v-11.8h1.04v11.8zM190.3 426.2v-14.6h1.06v14.6zM190.8 426.2v-15.9h0.70v15.9zM197.3 426.2v-13.3h1.03v13.3zM197.8 426.2v-12.2h0.75v12.2zM198.3 426.2v-12.8h1.05v12.8zM198.8 426.2v-15.8h1.05v15.8zM199.3 426.2v-16.2h1.17v16.2zM199.8 426.2v-15.8h0.86v15.8zM200.3 426.2v-16.1h0.75v16.1zM200.8 426.2v-15.9h1.03v15.9zM201.3 426.2v-16.1h1.09v16.1zM201.8 426.2v-12.6h0.97v12.6zM202.3 426.2v-13.0h0.63v13.0zM202.8 426.2v-12.7h0.87v12.7zM203.3 426.2v-14.0h0.76v14.0zM203.8 426.2v-13.8h1.07v13.8zM204.3 426.2v-16.2h1.17v16.2zM204.8 426.2v-13.1h0.67v13.1zM205.3 426.2v-15.3h0.97v15.3zM211.8 426.2v-12.4h0.76v12.4zM212.3 426.2v-14.7h0.66v14.7zM223.3 426.2v-14.8h1.19v14.8zM223.8 426.2v-14.4h1.05v14.4zM224.8 426.2v-13.6h0.66v13.6zM225.3 426.2v-12.5h0.65v12.5zM225.8 426.2v-14.1h1.01v14.1zM226.3 426.2v-15.3h0.65v15.3zM226.8 426.2v-14.8h0.65v14.8zM227.3 426.2v-15.1h1.02v15.1zM227.8 426.2v-12.7h0.81v12.7zM232.3 426.2v-15.4h0.78v15.4zM232.8 426.2v-13.8h1.16v13.8zM233.8 426.2v-13.6h0.82v13.6zM234.3 426.2v-13.8h0.83v13.8zM234.8 426.2v-14.4h1.08v14.4zM238.8 426.2v-10.7h0.93v10.7zM241.3 426.2v-14.4h1.07v14.4zM241.8 426.2v-12.5h1.04v12.5zM242.8 426.2v-14.7h0.69v14.7zM244.3 426.2v-13.0h1.06v13.0zM244.8 426.2v-15.2h0.84v15.2zM245.3 426.2v-16.1h1.00v16.1zM245.8 426.2v-14.3h1.03v14.3zM247.3 426.2v-15.5h1.00v15.5zM250.8 426.2v-15.0h1.08v15.0zM255.8 426.2v-16.1h0.64v16.1zM256.3 426.2v-12.6h0.99v12.6zM271.8 426.2v-16.0h1.08v16.0zM272.3 426.2v-14.3h0.91v14.3zM274.8 426.2v-10.2h0.82v10.2zM277.3 426.2v-13.5h0.76v13.5zM281.8 426.2v-14.2h1.11v14.2zM284.3 426.2v-14.1h0.88v14.1zM285.3 426.2v-15.6h0.78v15.6zM285.8 426.2v-13.8h1.15v13.8zM286.3 426.2v-15.5h0.73v15.5zM286.8 426.2v-14.3h0.69v14.3zM287.3 426.2v-13.4h0.79v13.4zM287.8 426.2v-13.4h0.88v13.4zM292.8 426.2v-13.7h1.03v13.7zM294.8 426.2v-16.1h1.08v16.1zM300.3 426.2v-15.1h0.80v15.1zM301.3 426.2v-15.1h0.80v15.1zM301.8 426.2v-12.5h0.68v12.5zM302.3 426.2v-14.9h1.02v14.9zM302.8 426.2v-13.8h1.10v13.8zM303.3 426.2v-12.5h0.74v12.5zM303.8 426.2v-12.7h0.84v12.7zM304.3 426.2v-15.9h0.86v15.9zM304.8 426.2v-14.8h1.06v14.8zM307.3 426.2v-9.4h1.02v9.4zM308.8 426.2v-14.6h0.61v14.6zM309.3 426.2v-13.5h0.99v13.5zM309.8 426.2v-13.7h0.91v13.7zM310.3 426.2v-15.5h0.97v15.5zM310.8 426.2v-15.3h1.14v15.3zM311.3 426.2v-13.6h0.90v13.6zM311.8 426.2v-15.0h1.19v15.0zM312.3 426.2v-15.0h1.10v15.0zM312.8 426.2v-16.0h0.98v16.0zM313.3 426.2v-12.5h0.75v12.5zM313.8 426.2v-15.0h0.80v15.0zM318.3 426.2v-14.4h0.76v14.4zM320.8 426.2v-15.5h0.77v15.5zM330.3 426.2v-7.1h0.88v7.1zM331.3 426.2v-14.5h0.70v14.5zM349.3 426.2v-14.6h0.64v14.6zM349.8 426.2v-14.0h0.90v14.0zM350.3 426.2v-12.4h1.02v12.4zM361.3 426.2v-7.6h0.78v7.6zM366.3 426.2v-13.4h0.90v13.4zM367.8 426.2v-13.0h0.78v13.0zM368.8 426.2v-12.9h1.10v12.9zM369.3 426.2v-14.1h0.70v14.1zM369.8 426.2v-16.2h0.72v16.2zM370.3 426.2v-12.9h1.13v12.9zM370.8 426.2v-12.6h1.04v12.6zM375.8 426.2v-13.4h1.03v13.4zM376.3 426.2v-12.9h0.74v12.9zM379.8 426.2v-13.4h1.16v13.4zM393.8 426.2v-12.9h0.93v12.9zM404.3 426.2v-13.0h0.95v13.0zM404.8 426.2v-12.3h0.96v12.3zM405.3 426.2v-14.5h1.12v14.5zM405.8 426.2v-12.8h0.61v12.8zM406.3 426.2v-13.9h0.87v13.9zM406.8 426.2v-15.4h0.64v15.4zM407.8 426.2v-14.4h1.07v14.4zM408.3 426.2v-12.7h0.79v12.7zM408.8 426.2v-13.4h0.97v13.4zM423.3 426.2v-13.9h0.65v13.9zM423.8 426.2v-16.2h1.06v16.2zM429.8 426.2v-13.8h0.99v13.8zM434.3 426.2v-13.7h1.07v13.7zM434.8 426.2v-13.6h0.71v13.6zM435.3 426.2v-12.8h0.72v12.8zM435.8 426.2v-14.0h0.79v14.0zM436.3 426.2v-16.2h1.01v16.2zM436.8 426.2v-13.0h0.83v13.0zM437.3 426.2v-14.9h0.82v14.9zM437.8 426.2v-12.2h0.71v12.2zM438.3 426.2v-13.7h1.15v13.7zM438.8 426.2v-13.2h0.82v13.2zM439.3 426.2v-15.9h0.82v15.9zM439.8 426.2v-15.1h1.14v15.1zM440.3 426.2v-13.5h0.83v13.5zM440.8 426.2v-15.7h0.80v15.7zM441.3 426.2v-14.3h0.63v14.3zM441.8 426.2v-13.1h0.62v13.1zM442.3 426.2v-14.6h0.62v14.6zM442.8 426.2v-13.9h0.93v13.9zM443.3 426.2v-15.0h0.76v15.0zM443.8 426.2v-14.8h0.69v14.8zM444.3 426.2v-13.3h1.03v13.3zM444.8 426.2v-13.7h1.12v13.7zM445.3 426.2v-13.3h0.81v13.3zM445.8 426.2v-12.3h0.61v12.3zM446.3 426.2v-14.4h1.09v14.4zM447.3 426.2v-14.9h1.15v14.9zM447.8 426.2v-14.9h1.00v14.9zM448.8 426.2v-13.1h0.98v13.1zM449.3 426.2v-13.9h0.84v13.9zM449.8 426.2v-13.7h0.80v13.7zM450.3 426.2v-13.3h0.70v13.3zM450.8 426.2v-14.1h0.70v14.1zM451.3 426.2v-13.1h0.66v13.1zM451.8 426.2v-13.9h0.69v13.9zM452.3 426.2v-15.0h0.93v15.0zM452.8 426.2v-12.2h0.83v12.2zM453.3 426.2v-12.4h0.84v12.4zM453.8 426.2v-14.2h0.95v14.2zM454.3 426.2v-13.5h0.75v13.5zM454.8 426.2v-13.6h1.14v13.6zM455.3 426.2v-13.2h1.00v13.2zM455.8 426.2v-14.1h0.97v14.1zM456.8 426.2v-14.5h1.17v14.5zM457.3 426.2v-14.7h0.97v14.7zM457.8 426.2v-13.8h0.77v13.8zM458.3 426.2v-15.7h0.83v15.7zM458.8 426.2v-12.3h0.68v12.3zM459.3 426.2v-13.4h0.82v13.4zM462.8 426.2v-11.0h0.84v11.0zM463.3 426.2v-14.1h0.99v14.1zM463.8 426.2v-14.7h0.94v14.7zM464.3 426.2v-16.1h0.80v16.1zM464.8 426.2v-15.7h0.79v15.7zM465.3 426.2v-15.0h1.01v15.0zM466.3 426.2v-12.8h0.97v12.8zM466.8 426.2v-14.4h0.82v14.4zM467.3 426.2v-15.2h0.92v15.2zM467.8 426.2v-13.2h0.79v13.2zM470.3 426.2v-6.0h1.02v6.0zM470.8 426.2v-10.0h1.06v10.0zM471.8 426.2v-14.7h1.12v14.7zM472.3 426.2v-7.7h0.90v7.7zM474.3 426.2v-13.0h0.80v13.0zM479.8 426.2v-9.1h1.00v9.1zM480.3 426.2v-7.0h0.61v7.0zM482.3 426.2v-12.7h0.85v12.7zM484.8 426.2v-12.9h0.67v12.9zM485.3 426.2v-8.1h1.04v8.1zM486.3 426.2v-8.6h0.62v8.6zM494.3 426.2v-6.8h0.66v6.8zM495.3 426.2v-10.4h0.67v10.4zM496.3 426.2v-11.3h0.69v11.3zM497.3 426.2v-7.4h0.89v7.4zM498.3 426.2v-5.4h0.64v5.4zM499.8 426.2v-6.9h0.89v6.9z" fill="#000"/>
<line x1="38.8" y1="425.9" x2="500.4" y2="425.9" stroke="#444" stroke-width="0.8"/>
<text x="3" y="418" font-size="4.3" font-weight="bold" text-anchor="middle" dominant-baseline="central" fill="#222" transform="rotate(-90 3 418)">phastCons</text>
<text x="13" y="413.2" font-size="4" font-weight="bold" text-anchor="middle" dominant-baseline="central" fill="#333" transform="rotate(-90 13 413.2)">0.8</text>
<text x="13" y="423.7" font-size="4" font-weight="bold" text-anchor="middle" dominant-baseline="central" fill="#333" transform="rotate(-90 13 423.7)">0.0</text>
<line x1="17.3" y1="410.5" x2="20.2" y2="410.5" stroke="#333" stroke-width="0.7"/>
<line x1="17.3" y1="413.5" x2="20.2" y2="413.5" stroke="#333" stroke-width="0.7"/>
<line x1="17.3" y1="416.5" x2="20.2" y2="416.5" stroke="#333" stroke-width="0.7"/>
<line x1="17.3" y1="419.5" x2="20.2" y2="419.5" stroke="#333" stroke-width="0.7"/>
<line x1="17.3" y1="422.5" x2="20.2" y2="422.5" stroke="#333" stroke-width="0.7"/>
<line x1="17.3" y1="425.5" x2="20.2" y2="425.5" stroke="#333" stroke-width="0.7"/>
<line x1="20.2" y1="410.5" x2="20.2" y2="425.5" stroke="#333" stroke-width="0.7"/>
<rect x="52.3" y="458.5" width="11.2" height="11.2" fill="#f20d0d" stroke="#888" stroke-width="0.5"/>
<text x="70.3" y="465.1" font-size="5.9" font-weight="bold" text-anchor="start" fill="#2a2a2a">Active Promoter</text>
<rect x="52.3" y="480.3" width="11.2" height="11.2" fill="#f27070" stroke="#888" stroke-width="0.5"/>
<text x="70.3" y="486.9" font-size="5.9" font-weight="bold" text-anchor="start" fill="#2a2a2a">Weak Promoter</text>
<rect x="136" y="458.5" width="11.2" height="11.2" fill="#f9bc10" stroke="#888" stroke-width="0.5"/>
<text x="154" y="465.1" font-size="5.9" font-weight="bold" text-anchor="start" fill="#2a2a2a">Strong Enhancer</text>
<rect x="136" y="480.3" width="11.2" height="11.2" fill="#f8f20c" stroke="#888" stroke-width="0.5"/>
<text x="154" y="486.9" font-size="5.9" font-weight="bold" text-anchor="start" fill="#2a2a2a">Weak/Poised enhancer</text>
<rect x="136" y="500.3" width="11.2" height="11.2" fill="#1ab2e6" stroke="#888" stroke-width="0.5"/>
<text x="154" y="506.9" font-size="5.9" font-weight="bold" text-anchor="start" fill="#2a2a2a">Insulator</text>
<rect x="230.3" y="458.5" width="11.2" height="11.2" fill="#1aa64e" stroke="#888" stroke-width="0.5"/>
<text x="248.3" y="465.1" font-size="5.9" font-weight="bold" text-anchor="start" fill="#2a2a2a">Transcriptional transition/elongation</text>
<rect x="230.3" y="480.3" width="11.2" height="11.2" fill="#8cee6a" stroke="#888" stroke-width="0.5"/>
<text x="248.3" y="486.9" font-size="5.9" font-weight="bold" text-anchor="start" fill="#2a2a2a">Weak trancribed</text>
<rect x="361.5" y="458.5" width="11.2" height="11.2" fill="#808080" stroke="#888" stroke-width="0.5"/>
<text x="379.5" y="465.1" font-size="5.9" font-weight="bold" text-anchor="start" fill="#2a2a2a">Polycomb–repressed</text>
<rect x="361.5" y="480.3" width="11.2" height="11.2" fill="#f2f2f2" stroke="#888" stroke-width="0.5"/>
<text x="379.5" y="486.9" font-size="5.9" font-weight="bold" text-anchor="start" fill="#2a2a2a">Heterocromatin/low signal Repetitive/CNV</text>
<text x="1.2" y="539.1" font-size="20.5" font-weight="bold" text-anchor="start" fill="#000">B</text>
<path d="M72.7 681.0a1.7 1.7 0 1 0 3.4 0a1.7 1.7 0 1 0 -3.4 0M74.6 688.5a1.7 1.7 0 1 0 3.4 0a1.7 1.7 0 1 0 -3.4 0M75.3 704.5a1.7 1.7 0 1 0 3.4 0a1.7 1.7 0 1 0 -3.4 0M77.1 689.9a1.7 1.7 0 1 0 3.4 0a1.7 1.7 0 1 0 -3.4 0M77.4 689.2a1.7 1.7 0 1 0 3.4 0a1.7 1.7 0 1 0 -3.4 0M79.5 668.6a1.7 1.7 0 1 0 3.4 0a1.7 1.7 0 1 0 -3.4 0M80.6 705.7a1.7 1.7 0 1 0 3.4 0a1.7 1.7 0 1 0 -3.4 0M81.6 707.1a1.7 1.7 0 1 0 3.4 0a1.7 1.7 0 1 0 -3.4 0M82.7 667.8a1.7 1.7 0 1 0 3.4 0a1.7 1.7 0 1 0 -3.4 0M82.4 666.8a1.7 1.7 0 1 0 3.4 0a1.7 1.7 0 1 0 -3.4 0M85.2 701.5a1.7 1.7 0 1 0 3.4 0a1.7 1.7 0 1 0 -3.4 0M86.5 710.9a1.7 1.7 0 1 0 3.4 0a1.7 1.7 0 1 0 -3.4 0M87.8 680.9a1.7 1.7 0 1 0 3.4 0a1.7 1.7 0 1 0 -3.4 0M88.5 693.9a1.7 1.7 0 1 0 3.4 0a1.7 1.7 0 1 0 -3.4 0M89.8 694.5a1.7 1.7 0 1 0 3.4 0a1.7 1.7 0 1 0 -3.4 0M89.5 692.1a1.7 1.7 0 1 0 3.4 0a1.7 1.7 0 1 0 -3.4 0M90.5 708.5a1.7 1.7 0 1 0 3.4 0a1.7 1.7 0 1 0 -3.4 0M91.9 684.9a1.7 1.7 0 1 0 3.4 0a1.7 1.7 0 1 0 -3.4 0M92.7 713.8a1.7 1.7 0 1 0 3.4 0a1.7 1.7 0 1 0 -3.4 0M92.9 686.9a1.7 1.7 0 1 0 3.4 0a1.7 1.7 0 1 0 -3.4 0M96.3 700.3a1.7 1.7 0 1 0 3.4 0a1.7 1.7 0 1 0 -3.4 0M99.0 697.7a1.7 1.7 0 1 0 3.4 0a1.7 1.7 0 1 0 -3.4 0M98.5 714.2a1.7 1.7 0 1 0 3.4 0a1.7 1.7 0 1 0 -3.4 0M101.7 707.1a1.7 1.7 0 1 0 3.4 0a1.7 1.7 0 1 0 -3.4 0M102.4 710.1a1.7 1.7 0 1 0 3.4 0a1.7 1.7 0 1 0 -3.4 0M103.6 707.9a1.7 1.7 0 1 0 3.4 0a1.7 1.7 0 1 0 -3.4 0M104.6 708.3a1.7 1.7 0 1 0 3.4 0a1.7 1.7 0 1 0 -3.4 0M105.0 694.9a1.7 1.7 0 1 0 3.4 0a1.7 1.7 0 1 0 -3.4 0M105.9 704.1a1.7 1.7 0 1 0 3.4 0a1.7 1.7 0 1 0 -3.4 0M106.0 703.4a1.7 1.7 0 1 0 3.4 0a1.7 1.7 0 1 0 -3.4 0M107.2 713.3a1.7 1.7 0 1 0 3.4 0a1.7 1.7 0 1 0 -3.4 0M108.7 711.3a1.7 1.7 0 1 0 3.4 0a1.7 1.7 0 1 0 -3.4 0M109.7 709.5a1.7 1.7 0 1 0 3.4 0a1.7 1.7 0 1 0 -3.4 0M110.5 709.6a1.7 1.7 0 1 0 3.4 0a1.7 1.7 0 1 0 -3.4 0M113.7 706.4a1.7 1.7 0 1 0 3.4 0a1.7 1.7 0 1 0 -3.4 0M115.0 692.8a1.7 1.7 0 1 0 3.4 0a1.7 1.7 0 1 0 -3.4 0M115.5 696.8a1.7 1.7 0 1 0 3.4 0a1.7 1.7 0 1 0 -3.4 0M117.2 710.6a1.7 1.7 0 1 0 3.4 0a1.7 1.7 0 1 0 -3.4 0M117.8 697.3a1.7 1.7 0 1 0 3.4 0a1.7 1.7 0 1 0 -3.4 0M118.0 711.1a1.7 1.7 0 1 0 3.4 0a1.7 1.7 0 1 0 -3.4 0M118.5 691.6a1.7 1.7 0 1 0 3.4 0a1.7 1.7 0 1 0 -3.4 0M121.2 709.7a1.7 1.7 0 1 0 3.4 0a1.7 1.7 0 1 0 -3.4 0M122.1 693.5a1.7 1.7 0 1 0 3.4 0a1.7 1.7 0 1 0 -3.4 0M122.2 700.4a1.7 1.7 0 1 0 3.4 0a1.7 1.7 0 1 0 -3.4 0M125.7 710.2a1.7 1.7 0 1 0 3.4 0a1.7 1.7 0 1 0 -3.4 0M125.3 706.4a1.7 1.7 0 1 0 3.4 0a1.7 1.7 0 1 0 -3.4 0M127.9 696.2a1.7 1.7 0 1 0 3.4 0a1.7 1.7 0 1 0 -3.4 0M131.7 703.0a1.7 1.7 0 1 0 3.4 0a1.7 1.7 0 1 0 -3.4 0M132.0 698.0a1.7 1.7 0 1 0 3.4 0a1.7 1.7 0 1 0 -3.4 0M133.4 711.3a1.7 1.7 0 1 0 3.4 0a1.7 1.7 0 1 0 -3.4 0M134.6 699.1a1.7 1.7 0 1 0 3.4 0a1.7 1.7 0 1 0 -3.4 0M136.2 693.6a1.7 1.7 0 1 0 3.4 0a1.7 1.7 0 1 0 -3.4 0M138.6 709.1a1.7 1.7 0 1 0 3.4 0a1.7 1.7 0 1 0 -3.4 0M139.4 710.5a1.7 1.7 0 1 0 3.4 0a1.7 1.7 0 1 0 -3.4 0M140.8 704.3a1.7 1.7 0 1 0 3.4 0a1.7 1.7 0 1 0 -3.4 0M145.0 706.2a1.7 1.7 0 1 0 3.4 0a1.7 1.7 0 1 0 -3.4 0M144.5 708.4a1.7 1.7 0 1 0 3.4 0a1.7 1.7 0 1 0 -3.4 0M145.9 712.4a1.7 1.7 0 1 0 3.4 0a1.7 1.7 0 1 0 -3.4 0M145.7 674.4a1.7 1.7 0 1 0 3.4 0a1.7 1.7 0 1 0 -3.4 0M146.7 678.4a1.7 1.7 0 1 0 3.4 0a1.7 1.7 0 1 0 -3.4 0M147.2 679.1a1.7 1.7 0 1 0 3.4 0a1.7 1.7 0 1 0 -3.4 0M148.0 709.1a1.7 1.7 0 1 0 3.4 0a1.7 1.7 0 1 0 -3.4 0M147.6 701.4a1.7 1.7 0 1 0 3.4 0a1.7 1.7 0 1 0 -3.4 0M148.7 680.7a1.7 1.7 0 1 0 3.4 0a1.7 1.7 0 1 0 -3.4 0M149.3 704.9a1.7 1.7 0 1 0 3.4 0a1.7 1.7 0 1 0 -3.4 0M152.1 691.9a1.7 1.7 0 1 0 3.4 0a1.7 1.7 0 1 0 -3.4 0M152.6 709.2a1.7 1.7 0 1 0 3.4 0a1.7 1.7 0 1 0 -3.4 0M153.2 696.6a1.7 1.7 0 1 0 3.4 0a1.7 1.7 0 1 0 -3.4 0M154.0 712.3a1.7 1.7 0 1 0 3.4 0a1.7 1.7 0 1 0 -3.4 0M155.8 682.7a1.7 1.7 0 1 0 3.4 0a1.7 1.7 0 1 0 -3.4 0M156.2 697.8a1.7 1.7 0 1 0 3.4 0a1.7 1.7 0 1 0 -3.4 0M156.5 712.3a1.7 1.7 0 1 0 3.4 0a1.7 1.7 0 1 0 -3.4 0M158.1 702.9a1.7 1.7 0 1 0 3.4 0a1.7 1.7 0 1 0 -3.4 0M158.0 686.6a1.7 1.7 0 1 0 3.4 0a1.7 1.7 0 1 0 -3.4 0M159.9 709.7a1.7 1.7 0 1 0 3.4 0a1.7 1.7 0 1 0 -3.4 0M160.5 707.9a1.7 1.7 0 1 0 3.4 0a1.7 1.7 0 1 0 -3.4 0M161.5 701.3a1.7 1.7 0 1 0 3.4 0a1.7 1.7 0 1 0 -3.4 0M162.1 695.8a1.7 1.7 0 1 0 3.4 0a1.7 1.7 0 1 0 -3.4 0M162.5 690.6a1.7 1.7 0 1 0 3.4 0a1.7 1.7 0 1 0 -3.4 0M162.4 690.7a1.7 1.7 0 1 0 3.4 0a1.7 1.7 0 1 0 -3.4 0M163.7 696.0a1.7 1.7 0 1 0 3.4 0a1.7 1.7 0 1 0 -3.4 0M163.5 700.8a1.7 1.7 0 1 0 3.4 0a1.7 1.7 0 1 0 -3.4 0M165.3 690.7a1.7 1.7 0 1 0 3.4 0a1.7 1.7 0 1 0 -3.4 0M165.8 713.5a1.7 1.7 0 1 0 3.4 0a1.7 1.7 0 1 0 -3.4 0M167.8 695.4a1.7 1.7 0 1 0 3.4 0a1.7 1.7 0 1 0 -3.4 0M169.1 704.2a1.7 1.7 0 1 0 3.4 0a1.7 1.7 0 1 0 -3.4 0M169.1 696.2a1.7 1.7 0 1 0 3.4 0a1.7 1.7 0 1 0 -3.4 0M171.6 706.2a1.7 1.7 0 1 0 3.4 0a1.7 1.7 0 1 0 -3.4 0M172.4 700.8a1.7 1.7 0 1 0 3.4 0a1.7 1.7 0 1 0 -3.4 0M175.3 701.8a1.7 1.7 0 1 0 3.4 0a1.7 1.7 0 1 0 -3.4 0M176.4 711.2a1.7 1.7 0 1 0 3.4 0a1.7 1.7 0 1 0 -3.4 0M179.2 696.2a1.7 1.7 0 1 0 3.4 0a1.7 1.7 0 1 0 -3.4 0M179.6 702.8a1.7 1.7 0 1 0 3.4 0a1.7 1.7 0 1 0 -3.4 0M180.3 701.7a1.7 1.7 0 1 0 3.4 0a1.7 1.7 0 1 0 -3.4 0M182.7 693.8a1.7 1.7 0 1 0 3.4 0a1.7 1.7 0 1 0 -3.4 0M183.7 710.8a1.7 1.7 0 1 0 3.4 0a1.7 1.7 0 1 0 -3.4 0M185.0 714.2a1.7 1.7 0 1 0 3.4 0a1.7 1.7 0 1 0 -3.4 0M186.5 713.5a1.7 1.7 0 1 0 3.4 0a1.7 1.7 0 1 0 -3.4 0M187.7 701.8a1.7 1.7 0 1 0 3.4 0a1.7 1.7 0 1 0 -3.4 0M191.4 700.6a1.7 1.7 0 1 0 3.4 0a1.7 1.7 0 1 0 -3.4 0M193.1 712.7a1.7 1.7 0 1 0 3.4 0a1.7 1.7 0 1 0 -3.4 0M193.2 704.5a1.7 1.7 0 1 0 3.4 0a1.7 1.7 0 1 0 -3.4 0M193.6 714.3a1.7 1.7 0 1 0 3.4 0a1.7 1.7 0 1 0 -3.4 0M195.0 708.4a1.7 1.7 0 1 0 3.4 0a1.7 1.7 0 1 0 -3.4 0M196.2 713.6a1.7 1.7 0 1 0 3.4 0a1.7 1.7 0 1 0 -3.4 0M197.2 702.0a1.7 1.7 0 1 0 3.4 0a1.7 1.7 0 1 0 -3.4 0M197.9 699.3a1.7 1.7 0 1 0 3.4 0a1.7 1.7 0 1 0 -3.4 0M199.9 708.9a1.7 1.7 0 1 0 3.4 0a1.7 1.7 0 1 0 -3.4 0M200.7 708.2a1.7 1.7 0 1 0 3.4 0a1.7 1.7 0 1 0 -3.4 0M202.3 710.8a1.7 1.7 0 1 0 3.4 0a1.7 1.7 0 1 0 -3.4 0M206.0 695.8a1.7 1.7 0 1 0 3.4 0a1.7 1.7 0 1 0 -3.4 0M206.7 707.8a1.7 1.7 0 1 0 3.4 0a1.7 1.7 0 1 0 -3.4 0M208.9 698.7a1.7 1.7 0 1 0 3.4 0a1.7 1.7 0 1 0 -3.4 0M209.5 698.0a1.7 1.7 0 1 0 3.4 0a1.7 1.7 0 1 0 -3.4 0M211.6 693.1a1.7 1.7 0 1 0 3.4 0a1.7 1.7 0 1 0 -3.4 0M212.8 704.9a1.7 1.7 0 1 0 3.4 0a1.7 1.7 0 1 0 -3.4 0M220.6 712.0a1.7 1.7 0 1 0 3.4 0a1.7 1.7 0 1 0 -3.4 0M222.8 706.6a1.7 1.7 0 1 0 3.4 0a1.7 1.7 0 1 0 -3.4 0M223.3 704.5a1.7 1.7 0 1 0 3.4 0a1.7 1.7 0 1 0 -3.4 0M226.2 700.0a1.7 1.7 0 1 0 3.4 0a1.7 1.7 0 1 0 -3.4 0M227.9 705.4a1.7 1.7 0 1 0 3.4 0a1.7 1.7 0 1 0 -3.4 0M228.8 704.9a1.7 1.7 0 1 0 3.4 0a1.7 1.7 0 1 0 -3.4 0M230.1 705.3a1.7 1.7 0 1 0 3.4 0a1.7 1.7 0 1 0 -3.4 0M231.8 698.4a1.7 1.7 0 1 0 3.4 0a1.7 1.7 0 1 0 -3.4 0M233.5 695.6a1.7 1.7 0 1 0 3.4 0a1.7 1.7 0 1 0 -3.4 0M234.7 712.3a1.7 1.7 0 1 0 3.4 0a1.7 1.7 0 1 0 -3.4 0M235.7 691.5a1.7 1.7 0 1 0 3.4 0a1.7 1.7 0 1 0 -3.4 0M236.5 713.2a1.7 1.7 0 1 0 3.4 0a1.7 1.7 0 1 0 -3.4 0M240.6 707.9a1.7 1.7 0 1 0 3.4 0a1.7 1.7 0 1 0 -3.4 0M245.0 706.9a1.7 1.7 0 1 0 3.4 0a1.7 1.7 0 1 0 -3.4 0M247.1 703.9a1.7 1.7 0 1 0 3.4 0a1.7 1.7 0 1 0 -3.4 0M250.5 710.1a1.7 1.7 0 1 0 3.4 0a1.7 1.7 0 1 0 -3.4 0M252.5 705.9a1.7 1.7 0 1 0 3.4 0a1.7 1.7 0 1 0 -3.4 0M255.0 704.7a1.7 1.7 0 1 0 3.4 0a1.7 1.7 0 1 0 -3.4 0M256.2 713.2a1.7 1.7 0 1 0 3.4 0a1.7 1.7 0 1 0 -3.4 0M257.4 702.3a1.7 1.7 0 1 0 3.4 0a1.7 1.7 0 1 0 -3.4 0M259.7 709.5a1.7 1.7 0 1 0 3.4 0a1.7 1.7 0 1 0 -3.4 0M260.6 701.2a1.7 1.7 0 1 0 3.4 0a1.7 1.7 0 1 0 -3.4 0M262.0 700.7a1.7 1.7 0 1 0 3.4 0a1.7 1.7 0 1 0 -3.4 0M263.4 695.6a1.7 1.7 0 1 0 3.4 0a1.7 1.7 0 1 0 -3.4 0M265.6 695.7a1.7 1.7 0 1 0 3.4 0a1.7 1.7 0 1 0 -3.4 0M267.5 698.7a1.7 1.7 0 1 0 3.4 0a1.7 1.7 0 1 0 -3.4 0M267.7 712.1a1.7 1.7 0 1 0 3.4 0a1.7 1.7 0 1 0 -3.4 0M269.8 701.8a1.7 1.7 0 1 0 3.4 0a1.7 1.7 0 1 0 -3.4 0M270.4 694.7a1.7 1.7 0 1 0 3.4 0a1.7 1.7 0 1 0 -3.4 0M271.3 703.2a1.7 1.7 0 1 0 3.4 0a1.7 1.7 0 1 0 -3.4 0M274.1 699.3a1.7 1.7 0 1 0 3.4 0a1.7 1.7 0 1 0 -3.4 0M274.7 713.5a1.7 1.7 0 1 0 3.4 0a1.7 1.7 0 1 0 -3.4 0M274.5 713.3a1.7 1.7 0 1 0 3.4 0a1.7 1.7 0 1 0 -3.4 0M280.6 701.6a1.7 1.7 0 1 0 3.4 0a1.7 1.7 0 1 0 -3.4 0M282.4 711.8a1.7 1.7 0 1 0 3.4 0a1.7 1.7 0 1 0 -3.4 0M286.2 713.4a1.7 1.7 0 1 0 3.4 0a1.7 1.7 0 1 0 -3.4 0M286.8 713.9a1.7 1.7 0 1 0 3.4 0a1.7 1.7 0 1 0 -3.4 0M287.3 712.4a1.7 1.7 0 1 0 3.4 0a1.7 1.7 0 1 0 -3.4 0M290.7 707.8a1.7 1.7 0 1 0 3.4 0a1.7 1.7 0 1 0 -3.4 0M293.4 711.7a1.7 1.7 0 1 0 3.4 0a1.7 1.7 0 1 0 -3.4 0M298.4 710.4a1.7 1.7 0 1 0 3.4 0a1.7 1.7 0 1 0 -3.4 0M298.6 702.6a1.7 1.7 0 1 0 3.4 0a1.7 1.7 0 1 0 -3.4 0M305.2 697.3a1.7 1.7 0 1 0 3.4 0a1.7 1.7 0 1 0 -3.4 0M305.5 710.2a1.7 1.7 0 1 0 3.4 0a1.7 1.7 0 1 0 -3.4 0M305.7 689.1a1.7 1.7 0 1 0 3.4 0a1.7 1.7 0 1 0 -3.4 0M307.0 710.3a1.7 1.7 0 1 0 3.4 0a1.7 1.7 0 1 0 -3.4 0M310.1 712.8a1.7 1.7 0 1 0 3.4 0a1.7 1.7 0 1 0 -3.4 0M309.8 713.5a1.7 1.7 0 1 0 3.4 0a1.7 1.7 0 1 0 -3.4 0M311.3 704.5a1.7 1.7 0 1 0 3.4 0a1.7 1.7 0 1 0 -3.4 0M312.2 710.2a1.7 1.7 0 1 0 3.4 0a1.7 1.7 0 1 0 -3.4 0M313.1 704.5a1.7 1.7 0 1 0 3.4 0a1.7 1.7 0 1 0 -3.4 0M317.9 712.6a1.7 1.7 0 1 0 3.4 0a1.7 1.7 0 1 0 -3.4 0M318.8 708.5a1.7 1.7 0 1 0 3.4 0a1.7 1.7 0 1 0 -3.4 0M323.1 702.2a1.7 1.7 0 1 0 3.4 0a1.7 1.7 0 1 0 -3.4 0M323.1 704.0a1.7 1.7 0 1 0 3.4 0a1.7 1.7 0 1 0 -3.4 0M324.0 694.9a1.7 1.7 0 1 0 3.4 0a1.7 1.7 0 1 0 -3.4 0M324.2 702.2a1.7 1.7 0 1 0 3.4 0a1.7 1.7 0 1 0 -3.4 0M324.9 704.6a1.7 1.7 0 1 0 3.4 0a1.7 1.7 0 1 0 -3.4 0M324.3 705.3a1.7 1.7 0 1 0 3.4 0a1.7 1.7 0 1 0 -3.4 0M327.5 709.7a1.7 1.7 0 1 0 3.4 0a1.7 1.7 0 1 0 -3.4 0M330.8 698.6a1.7 1.7 0 1 0 3.4 0a1.7 1.7 0 1 0 -3.4 0M333.2 704.2a1.7 1.7 0 1 0 3.4 0a1.7 1.7 0 1 0 -3.4 0M333.9 702.0a1.7 1.7 0 1 0 3.4 0a1.7 1.7 0 1 0 -3.4 0M334.9 710.8a1.7 1.7 0 1 0 3.4 0a1.7 1.7 0 1 0 -3.4 0M336.2 706.2a1.7 1.7 0 1 0 3.4 0a1.7 1.7 0 1 0 -3.4 0M336.4 708.9a1.7 1.7 0 1 0 3.4 0a1.7 1.7 0 1 0 -3.4 0M338.3 693.7a1.7 1.7 0 1 0 3.4 0a1.7 1.7 0 1 0 -3.4 0M339.0 714.0a1.7 1.7 0 1 0 3.4 0a1.7 1.7 0 1 0 -3.4 0M339.5 691.4a1.7 1.7 0 1 0 3.4 0a1.7 1.7 0 1 0 -3.4 0M340.0 688.7a1.7 1.7 0 1 0 3.4 0a1.7 1.7 0 1 0 -3.4 0M340.7 693.7a1.7 1.7 0 1 0 3.4 0a1.7 1.7 0 1 0 -3.4 0M341.8 690.4a1.7 1.7 0 1 0 3.4 0a1.7 1.7 0 1 0 -3.4 0M343.6 713.9a1.7 1.7 0 1 0 3.4 0a1.7 1.7 0 1 0 -3.4 0M345.0 698.9a1.7 1.7 0 1 0 3.4 0a1.7 1.7 0 1 0 -3.4 0M345.9 702.1a1.7 1.7 0 1 0 3.4 0a1.7 1.7 0 1 0 -3.4 0M345.8 705.5a1.7 1.7 0 1 0 3.4 0a1.7 1.7 0 1 0 -3.4 0M346.7 703.0a1.7 1.7 0 1 0 3.4 0a1.7 1.7 0 1 0 -3.4 0M346.7 695.8a1.7 1.7 0 1 0 3.4 0a1.7 1.7 0 1 0 -3.4 0M347.6 702.5a1.7 1.7 0 1 0 3.4 0a1.7 1.7 0 1 0 -3.4 0M349.0 696.2a1.7 1.7 0 1 0 3.4 0a1.7 1.7 0 1 0 -3.4 0M349.5 704.7a1.7 1.7 0 1 0 3.4 0a1.7 1.7 0 1 0 -3.4 0M351.3 701.7a1.7 1.7 0 1 0 3.4 0a1.7 1.7 0 1 0 -3.4 0M352.9 697.6a1.7 1.7 0 1 0 3.4 0a1.7 1.7 0 1 0 -3.4 0M355.6 687.9a1.7 1.7 0 1 0 3.4 0a1.7 1.7 0 1 0 -3.4 0M357.1 692.5a1.7 1.7 0 1 0 3.4 0a1.7 1.7 0 1 0 -3.4 0M356.5 701.7a1.7 1.7 0 1 0 3.4 0a1.7 1.7 0 1 0 -3.4 0M357.4 697.5a1.7 1.7 0 1 0 3.4 0a1.7 1.7 0 1 0 -3.4 0M359.7 708.3a1.7 1.7 0 1 0 3.4 0a1.7 1.7 0 1 0 -3.4 0M360.9 713.6a1.7 1.7 0 1 0 3.4 0a1.7 1.7 0 1 0 -3.4 0M360.5 706.0a1.7 1.7 0 1 0 3.4 0a1.7 1.7 0 1 0 -3.4 0M363.2 706.7a1.7 1.7 0 1 0 3.4 0a1.7 1.7 0 1 0 -3.4 0M363.7 698.4a1.7 1.7 0 1 0 3.4 0a1.7 1.7 0 1 0 -3.4 0M365.6 682.9a1.7 1.7 0 1 0 3.4 0a1.7 1.7 0 1 0 -3.4 0M366.2 697.2a1.7 1.7 0 1 0 3.4 0a1.7 1.7 0 1 0 -3.4 0M367.1 692.8a1.7 1.7 0 1 0 3.4 0a1.7 1.7 0 1 0 -3.4 0M367.6 688.6a1.7 1.7 0 1 0 3.4 0a1.7 1.7 0 1 0 -3.4 0M368.7 681.8a1.7 1.7 0 1 0 3.4 0a1.7 1.7 0 1 0 -3.4 0M369.1 704.9a1.7 1.7 0 1 0 3.4 0a1.7 1.7 0 1 0 -3.4 0M369.6 703.4a1.7 1.7 0 1 0 3.4 0a1.7 1.7 0 1 0 -3.4 0M370.5 696.2a1.7 1.7 0 1 0 3.4 0a1.7 1.7 0 1 0 -3.4 0M371.8 687.1a1.7 1.7 0 1 0 3.4 0a1.7 1.7 0 1 0 -3.4 0M373.3 697.9a1.7 1.7 0 1 0 3.4 0a1.7 1.7 0 1 0 -3.4 0M372.5 697.7a1.7 1.7 0 1 0 3.4 0a1.7 1.7 0 1 0 -3.4 0M374.5 707.4a1.7 1.7 0 1 0 3.4 0a1.7 1.7 0 1 0 -3.4 0M375.7 706.7a1.7 1.7 0 1 0 3.4 0a1.7 1.7 0 1 0 -3.4 0M377.0 709.8a1.7 1.7 0 1 0 3.4 0a1.7 1.7 0 1 0 -3.4 0M376.7 691.5a1.7 1.7 0 1 0 3.4 0a1.7 1.7 0 1 0 -3.4 0M377.3 708.3a1.7 1.7 0 1 0 3.4 0a1.7 1.7 0 1 0 -3.4 0M378.4 708.9a1.7 1.7 0 1 0 3.4 0a1.7 1.7 0 1 0 -3.4 0M378.6 693.3a1.7 1.7 0 1 0 3.4 0a1.7 1.7 0 1 0 -3.4 0M380.2 708.9a1.7 1.7 0 1 0 3.4 0a1.7 1.7 0 1 0 -3.4 0M379.6 702.5a1.7 1.7 0 1 0 3.4 0a1.7 1.7 0 1 0 -3.4 0M380.9 709.4a1.7 1.7 0 1 0 3.4 0a1.7 1.7 0 1 0 -3.4 0M381.4 701.3a1.7 1.7 0 1 0 3.4 0a1.7 1.7 0 1 0 -3.4 0M381.8 713.7a1.7 1.7 0 1 0 3.4 0a1.7 1.7 0 1 0 -3.4 0M384.0 696.5a1.7 1.7 0 1 0 3.4 0a1.7 1.7 0 1 0 -3.4 0M385.0 708.9a1.7 1.7 0 1 0 3.4 0a1.7 1.7 0 1 0 -3.4 0M385.0 703.4a1.7 1.7 0 1 0 3.4 0a1.7 1.7 0 1 0 -3.4 0M388.0 712.0a1.7 1.7 0 1 0 3.4 0a1.7 1.7 0 1 0 -3.4 0M388.9 707.0a1.7 1.7 0 1 0 3.4 0a1.7 1.7 0 1 0 -3.4 0M390.4 704.5a1.7 1.7 0 1 0 3.4 0a1.7 1.7 0 1 0 -3.4 0M391.7 705.0a1.7 1.7 0 1 0 3.4 0a1.7 1.7 0 1 0 -3.4 0M396.1 700.5a1.7 1.7 0 1 0 3.4 0a1.7 1.7 0 1 0 -3.4 0M396.5 691.2a1.7 1.7 0 1 0 3.4 0a1.7 1.7 0 1 0 -3.4 0M397.9 697.6a1.7 1.7 0 1 0 3.4 0a1.7 1.7 0 1 0 -3.4 0M402.0 687.8a1.7 1.7 0 1 0 3.4 0a1.7 1.7 0 1 0 -3.4 0M402.4 689.5a1.7 1.7 0 1 0 3.4 0a1.7 1.7 0 1 0 -3.4 0M402.6 685.9a1.7 1.7 0 1 0 3.4 0a1.7 1.7 0 1 0 -3.4 0M404.7 704.7a1.7 1.7 0 1 0 3.4 0a1.7 1.7 0 1 0 -3.4 0M406.3 703.6a1.7 1.7 0 1 0 3.4 0a1.7 1.7 0 1 0 -3.4 0M407.0 711.1a1.7 1.7 0 1 0 3.4 0a1.7 1.7 0 1 0 -3.4 0M406.3 701.4a1.7 1.7 0 1 0 3.4 0a1.7 1.7 0 1 0 -3.4 0M407.9 702.3a1.7 1.7 0 1 0 3.4 0a1.7 1.7 0 1 0 -3.4 0M408.6 703.3a1.7 1.7 0 1 0 3.4 0a1.7 1.7 0 1 0 -3.4 0M409.3 712.7a1.7 1.7 0 1 0 3.4 0a1.7 1.7 0 1 0 -3.4 0M410.8 706.1a1.7 1.7 0 1 0 3.4 0a1.7 1.7 0 1 0 -3.4 0M411.8 698.1a1.7 1.7 0 1 0 3.4 0a1.7 1.7 0 1 0 -3.4 0M412.2 713.6a1.7 1.7 0 1 0 3.4 0a1.7 1.7 0 1 0 -3.4 0M412.9 687.3a1.7 1.7 0 1 0 3.4 0a1.7 1.7 0 1 0 -3.4 0M414.5 698.5a1.7 1.7 0 1 0 3.4 0a1.7 1.7 0 1 0 -3.4 0M415.3 687.4a1.7 1.7 0 1 0 3.4 0a1.7 1.7 0 1 0 -3.4 0M415.3 692.8a1.7 1.7 0 1 0 3.4 0a1.7 1.7 0 1 0 -3.4 0M419.2 694.8a1.7 1.7 0 1 0 3.4 0a1.7 1.7 0 1 0 -3.4 0M419.5 696.2a1.7 1.7 0 1 0 3.4 0a1.7 1.7 0 1 0 -3.4 0M421.0 707.5a1.7 1.7 0 1 0 3.4 0a1.7 1.7 0 1 0 -3.4 0M421.9 703.9a1.7 1.7 0 1 0 3.4 0a1.7 1.7 0 1 0 -3.4 0M421.7 694.9a1.7 1.7 0 1 0 3.4 0a1.7 1.7 0 1 0 -3.4 0M422.7 709.8a1.7 1.7 0 1 0 3.4 0a1.7 1.7 0 1 0 -3.4 0M423.9 693.3a1.7 1.7 0 1 0 3.4 0a1.7 1.7 0 1 0 -3.4 0M425.2 687.0a1.7 1.7 0 1 0 3.4 0a1.7 1.7 0 1 0 -3.4 0M427.7 704.0a1.7 1.7 0 1 0 3.4 0a1.7 1.7 0 1 0 -3.4 0M428.3 698.0a1.7 1.7 0 1 0 3.4 0a1.7 1.7 0 1 0 -3.4 0M429.6 705.3a1.7 1.7 0 1 0 3.4 0a1.7 1.7 0 1 0 -3.4 0M430.0 692.4a1.7 1.7 0 1 0 3.4 0a1.7 1.7 0 1 0 -3.4 0M430.8 695.3a1.7 1.7 0 1 0 3.4 0a1.7 1.7 0 1 0 -3.4 0M432.8 712.2a1.7 1.7 0 1 0 3.4 0a1.7 1.7 0 1 0 -3.4 0M433.5 707.4a1.7 1.7 0 1 0 3.4 0a1.7 1.7 0 1 0 -3.4 0M434.6 700.4a1.7 1.7 0 1 0 3.4 0a1.7 1.7 0 1 0 -3.4 0M78.9 709.8a1.7 1.7 0 1 0 3.4 0a1.7 1.7 0 1 0 -3.4 0M81.0 712.6a1.7 1.7 0 1 0 3.4 0a1.7 1.7 0 1 0 -3.4 0M81.9 710.7a1.7 1.7 0 1 0 3.4 0a1.7 1.7 0 1 0 -3.4 0M82.8 713.7a1.7 1.7 0 1 0 3.4 0a1.7 1.7 0 1 0 -3.4 0M83.3 712.4a1.7 1.7 0 1 0 3.4 0a1.7 1.7 0 1 0 -3.4 0M85.5 707.0a1.7 1.7 0 1 0 3.4 0a1.7 1.7 0 1 0 -3.4 0M89.7 710.3a1.7 1.7 0 1 0 3.4 0a1.7 1.7 0 1 0 -3.4 0M90.9 712.8a1.7 1.7 0 1 0 3.4 0a1.7 1.7 0 1 0 -3.4 0M99.5 710.5a1.7 1.7 0 1 0 3.4 0a1.7 1.7 0 1 0 -3.4 0M99.9 708.8a1.7 1.7 0 1 0 3.4 0a1.7 1.7 0 1 0 -3.4 0M101.5 710.0a1.7 1.7 0 1 0 3.4 0a1.7 1.7 0 1 0 -3.4 0M102.5 713.1a1.7 1.7 0 1 0 3.4 0a1.7 1.7 0 1 0 -3.4 0M108.3 714.1a1.7 1.7 0 1 0 3.4 0a1.7 1.7 0 1 0 -3.4 0M112.9 712.6a1.7 1.7 0 1 0 3.4 0a1.7 1.7 0 1 0 -3.4 0M130.9 710.8a1.7 1.7 0 1 0 3.4 0a1.7 1.7 0 1 0 -3.4 0M130.6 712.3a1.7 1.7 0 1 0 3.4 0a1.7 1.7 0 1 0 -3.4 0M132.9 713.8a1.7 1.7 0 1 0 3.4 0a1.7 1.7 0 1 0 -3.4 0M148.7 711.4a1.7 1.7 0 1 0 3.4 0a1.7 1.7 0 1 0 -3.4 0M169.2 711.5a1.7 1.7 0 1 0 3.4 0a1.7 1.7 0 1 0 -3.4 0M171.1 712.1a1.7 1.7 0 1 0 3.4 0a1.7 1.7 0 1 0 -3.4 0M176.2 713.2a1.7 1.7 0 1 0 3.4 0a1.7 1.7 0 1 0 -3.4 0M177.4 711.0a1.7 1.7 0 1 0 3.4 0a1.7 1.7 0 1 0 -3.4 0M184.6 709.8a1.7 1.7 0 1 0 3.4 0a1.7 1.7 0 1 0 -3.4 0M189.0 712.1a1.7 1.7 0 1 0 3.4 0a1.7 1.7 0 1 0 -3.4 0M191.2 707.4a1.7 1.7 0 1 0 3.4 0a1.7 1.7 0 1 0 -3.4 0M193.1 711.2a1.7 1.7 0 1 0 3.4 0a1.7 1.7 0 1 0 -3.4 0M192.4 712.6a1.7 1.7 0 1 0 3.4 0a1.7 1.7 0 1 0 -3.4 0M215.6 714.3a1.7 1.7 0 1 0 3.4 0a1.7 1.7 0 1 0 -3.4 0M234.7 712.7a1.7 1.7 0 1 0 3.4 0a1.7 1.7 0 1 0 -3.4 0M236.9 710.3a1.7 1.7 0 1 0 3.4 0a1.7 1.7 0 1 0 -3.4 0M240.0 713.9a1.7 1.7 0 1 0 3.4 0a1.7 1.7 0 1 0 -3.4 0M243.6 713.9a1.7 1.7 0 1 0 3.4 0a1.7 1.7 0 1 0 -3.4 0M243.9 712.2a1.7 1.7 0 1 0 3.4 0a1.7 1.7 0 1 0 -3.4 0M244.7 710.0a1.7 1.7 0 1 0 3.4 0a1.7 1.7 0 1 0 -3.4 0M246.2 709.0a1.7 1.7 0 1 0 3.4 0a1.7 1.7 0 1 0 -3.4 0M249.0 707.3a1.7 1.7 0 1 0 3.4 0a1.7 1.7 0 1 0 -3.4 0M273.4 712.1a1.7 1.7 0 1 0 3.4 0a1.7 1.7 0 1 0 -3.4 0M274.8 709.4a1.7 1.7 0 1 0 3.4 0a1.7 1.7 0 1 0 -3.4 0M276.2 713.5a1.7 1.7 0 1 0 3.4 0a1.7 1.7 0 1 0 -3.4 0M282.3 713.0a1.7 1.7 0 1 0 3.4 0a1.7 1.7 0 1 0 -3.4 0M282.4 712.3a1.7 1.7 0 1 0 3.4 0a1.7 1.7 0 1 0 -3.4 0M283.6 712.3a1.7 1.7 0 1 0 3.4 0a1.7 1.7 0 1 0 -3.4 0M284.5 708.1a1.7 1.7 0 1 0 3.4 0a1.7 1.7 0 1 0 -3.4 0M285.8 710.2a1.7 1.7 0 1 0 3.4 0a1.7 1.7 0 1 0 -3.4 0M286.5 708.7a1.7 1.7 0 1 0 3.4 0a1.7 1.7 0 1 0 -3.4 0M300.2 713.3a1.7 1.7 0 1 0 3.4 0a1.7 1.7 0 1 0 -3.4 0M305.6 709.7a1.7 1.7 0 1 0 3.4 0a1.7 1.7 0 1 0 -3.4 0M308.6 711.5a1.7 1.7 0 1 0 3.4 0a1.7 1.7 0 1 0 -3.4 0M326.0 707.0a1.7 1.7 0 1 0 3.4 0a1.7 1.7 0 1 0 -3.4 0M326.5 709.7a1.7 1.7 0 1 0 3.4 0a1.7 1.7 0 1 0 -3.4 0M327.0 710.3a1.7 1.7 0 1 0 3.4 0a1.7 1.7 0 1 0 -3.4 0M332.3 714.1a1.7 1.7 0 1 0 3.4 0a1.7 1.7 0 1 0 -3.4 0M332.6 709.0a1.7 1.7 0 1 0 3.4 0a1.7 1.7 0 1 0 -3.4 0M334.5 711.8a1.7 1.7 0 1 0 3.4 0a1.7 1.7 0 1 0 -3.4 0M334.4 707.0a1.7 1.7 0 1 0 3.4 0a1.7 1.7 0 1 0 -3.4 0M336.1 708.1a1.7 1.7 0 1 0 3.4 0a1.7 1.7 0 1 0 -3.4 0M336.7 714.0a1.7 1.7 0 1 0 3.4 0a1.7 1.7 0 1 0 -3.4 0M337.7 702.9a1.7 1.7 0 1 0 3.4 0a1.7 1.7 0 1 0 -3.4 0M340.4 704.9a1.7 1.7 0 1 0 3.4 0a1.7 1.7 0 1 0 -3.4 0M350.5 710.7a1.7 1.7 0 1 0 3.4 0a1.7 1.7 0 1 0 -3.4 0M351.0 707.6a1.7 1.7 0 1 0 3.4 0a1.7 1.7 0 1 0 -3.4 0M352.1 711.6a1.7 1.7 0 1 0 3.4 0a1.7 1.7 0 1 0 -3.4 0M354.9 705.2a1.7 1.7 0 1 0 3.4 0a1.7 1.7 0 1 0 -3.4 0M354.3 706.0a1.7 1.7 0 1 0 3.4 0a1.7 1.7 0 1 0 -3.4 0M355.9 713.8a1.7 1.7 0 1 0 3.4 0a1.7 1.7 0 1 0 -3.4 0M357.4 710.5a1.7 1.7 0 1 0 3.4 0a1.7 1.7 0 1 0 -3.4 0M365.2 710.6a1.7 1.7 0 1 0 3.4 0a1.7 1.7 0 1 0 -3.4 0M365.7 707.0a1.7 1.7 0 1 0 3.4 0a1.7 1.7 0 1 0 -3.4 0M368.2 713.9a1.7 1.7 0 1 0 3.4 0a1.7 1.7 0 1 0 -3.4 0M370.6 712.5a1.7 1.7 0 1 0 3.4 0a1.7 1.7 0 1 0 -3.4 0M382.6 712.0a1.7 1.7 0 1 0 3.4 0a1.7 1.7 0 1 0 -3.4 0M386.2 714.1a1.7 1.7 0 1 0 3.4 0a1.7 1.7 0 1 0 -3.4 0M391.2 713.0a1.7 1.7 0 1 0 3.4 0a1.7 1.7 0 1 0 -3.4 0M399.2 713.5a1.7 1.7 0 1 0 3.4 0a1.7 1.7 0 1 0 -3.4 0M400.7 708.3a1.7 1.7 0 1 0 3.4 0a1.7 1.7 0 1 0 -3.4 0M401.6 714.3a1.7 1.7 0 1 0 3.4 0a1.7 1.7 0 1 0 -3.4 0M403.3 707.6a1.7 1.7 0 1 0 3.4 0a1.7 1.7 0 1 0 -3.4 0M404.7 704.8a1.7 1.7 0 1 0 3.4 0a1.7 1.7 0 1 0 -3.4 0M406.7 704.9a1.7 1.7 0 1 0 3.4 0a1.7 1.7 0 1 0 -3.4 0M409.3 708.4a1.7 1.7 0 1 0 3.4 0a1.7 1.7 0 1 0 -3.4 0M413.3 710.2a1.7 1.7 0 1 0 3.4 0a1.7 1.7 0 1 0 -3.4 0M414.0 709.8a1.7 1.7 0 1 0 3.4 0a1.7 1.7 0 1 0 -3.4 0M415.3 712.4a1.7 1.7 0 1 0 3.4 0a1.7 1.7 0 1 0 -3.4 0M419.1 713.0a1.7 1.7 0 1 0 3.4 0a1.7 1.7 0 1 0 -3.4 0M423.2 711.9a1.7 1.7 0 1 0 3.4 0a1.7 1.7 0 1 0 -3.4 0M424.3 709.5a1.7 1.7 0 1 0 3.4 0a1.7 1.7 0 1 0 -3.4 0M426.7 710.1a1.7 1.7 0 1 0 3.4 0a1.7 1.7 0 1 0 -3.4 0M427.6 709.0a1.7 1.7 0 1 0 3.4 0a1.7 1.7 0 1 0 -3.4 0M428.3 712.7a1.7 1.7 0 1 0 3.4 0a1.7 1.7 0 1 0 -3.4 0M429.6 712.5a1.7 1.7 0 1 0 3.4 0a1.7 1.7 0 1 0 -3.4 0M435.0 713.8a1.7 1.7 0 1 0 3.4 0a1.7 1.7 0 1 0 -3.4 0M244.7 676.8a1.7 1.7 0 1 0 3.4 0a1.7 1.7 0 1 0 -3.4 0M240.9 653.5a1.7 1.7 0 1 0 3.4 0a1.7 1.7 0 1 0 -3.4 0M249.1 672.6a1.7 1.7 0 1 0 3.4 0a1.7 1.7 0 1 0 -3.4 0M243.8 681.1a1.7 1.7 0 1 0 3.4 0a1.7 1.7 0 1 0 -3.4 0M256.1 671.7a1.7 1.7 0 1 0 3.4 0a1.7 1.7 0 1 0 -3.4 0M248.1 657.9a1.7 1.7 0 1 0 3.4 0a1.7 1.7 0 1 0 -3.4 0M272.7 683.4a1.7 1.7 0 1 0 3.4 0a1.7 1.7 0 1 0 -3.4 0M253.2 662.3a1.7 1.7 0 1 0 3.4 0a1.7 1.7 0 1 0 -3.4 0M247.6 673.6a1.7 1.7 0 1 0 3.4 0a1.7 1.7 0 1 0 -3.4 0M252.8 670.2a1.7 1.7 0 1 0 3.4 0a1.7 1.7 0 1 0 -3.4 0M239.7 654.9a1.7 1.7 0 1 0 3.4 0a1.7 1.7 0 1 0 -3.4 0M270.5 686.9a1.7 1.7 0 1 0 3.4 0a1.7 1.7 0 1 0 -3.4 0M258.1 672.2a1.7 1.7 0 1 0 3.4 0a1.7 1.7 0 1 0 -3.4 0M258.1 657.5a1.7 1.7 0 1 0 3.4 0a1.7 1.7 0 1 0 -3.4 0M240.1 650.5a1.7 1.7 0 1 0 3.4 0a1.7 1.7 0 1 0 -3.4 0M270.7 653.6a1.7 1.7 0 1 0 3.4 0a1.7 1.7 0 1 0 -3.4 0M264.9 663.7a1.7 1.7 0 1 0 3.4 0a1.7 1.7 0 1 0 -3.4 0M255.5 667.2a1.7 1.7 0 1 0 3.4 0a1.7 1.7 0 1 0 -3.4 0M271.6 654.8a1.7 1.7 0 1 0 3.4 0a1.7 1.7 0 1 0 -3.4 0M269.3 678.6a1.7 1.7 0 1 0 3.4 0a1.7 1.7 0 1 0 -3.4 0M270.6 684.1a1.7 1.7 0 1 0 3.4 0a1.7 1.7 0 1 0 -3.4 0M259.0 668.8a1.7 1.7 0 1 0 3.4 0a1.7 1.7 0 1 0 -3.4 0M252.9 680.7a1.7 1.7 0 1 0 3.4 0a1.7 1.7 0 1 0 -3.4 0M253.4 664.2a1.7 1.7 0 1 0 3.4 0a1.7 1.7 0 1 0 -3.4 0M240.9 678.8a1.7 1.7 0 1 0 3.4 0a1.7 1.7 0 1 0 -3.4 0M264.5 684.3a1.7 1.7 0 1 0 3.4 0a1.7 1.7 0 1 0 -3.4 0M258.2 667.6a1.7 1.7 0 1 0 3.4 0a1.7 1.7 0 1 0 -3.4 0M245.1 656.3a1.7 1.7 0 1 0 3.4 0a1.7 1.7 0 1 0 -3.4 0M245.7 678.2a1.7 1.7 0 1 0 3.4 0a1.7 1.7 0 1 0 -3.4 0M245.7 681.8a1.7 1.7 0 1 0 3.4 0a1.7 1.7 0 1 0 -3.4 0M269.1 671.1a1.7 1.7 0 1 0 3.4 0a1.7 1.7 0 1 0 -3.4 0M251.2 668.4a1.7 1.7 0 1 0 3.4 0a1.7 1.7 0 1 0 -3.4 0M263.5 661.3a1.7 1.7 0 1 0 3.4 0a1.7 1.7 0 1 0 -3.4 0M270.1 678.0a1.7 1.7 0 1 0 3.4 0a1.7 1.7 0 1 0 -3.4 0M250.0 680.0a1.7 1.7 0 1 0 3.4 0a1.7 1.7 0 1 0 -3.4 0M249.3 662.1a1.7 1.7 0 1 0 3.4 0a1.7 1.7 0 1 0 -3.4 0M253.4 683.5a1.7 1.7 0 1 0 3.4 0a1.7 1.7 0 1 0 -3.4 0M277.3 688.5a1.7 1.7 0 1 0 3.4 0a1.7 1.7 0 1 0 -3.4 0M269.9 654.1a1.7 1.7 0 1 0 3.4 0a1.7 1.7 0 1 0 -3.4 0M260.0 673.9a1.7 1.7 0 1 0 3.4 0a1.7 1.7 0 1 0 -3.4 0M263.1 675.0a1.7 1.7 0 1 0 3.4 0a1.7 1.7 0 1 0 -3.4 0M245.2 661.2a1.7 1.7 0 1 0 3.4 0a1.7 1.7 0 1 0 -3.4 0M241.3 664.2a1.7 1.7 0 1 0 3.4 0a1.7 1.7 0 1 0 -3.4 0M261.3 669.1a1.7 1.7 0 1 0 3.4 0a1.7 1.7 0 1 0 -3.4 0M256.8 668.3a1.7 1.7 0 1 0 3.4 0a1.7 1.7 0 1 0 -3.4 0M248.0 657.7a1.7 1.7 0 1 0 3.4 0a1.7 1.7 0 1 0 -3.4 0M264.7 676.9a1.7 1.7 0 1 0 3.4 0a1.7 1.7 0 1 0 -3.4 0M243.4 656.5a1.7 1.7 0 1 0 3.4 0a1.7 1.7 0 1 0 -3.4 0M251.4 660.4a1.7 1.7 0 1 0 3.4 0a1.7 1.7 0 1 0 -3.4 0M270.6 669.8a1.7 1.7 0 1 0 3.4 0a1.7 1.7 0 1 0 -3.4 0M269.1 673.7a1.7 1.7 0 1 0 3.4 0a1.7 1.7 0 1 0 -3.4 0M243.3 672.6a1.7 1.7 0 1 0 3.4 0a1.7 1.7 0 1 0 -3.4 0M265.3 680.2a1.7 1.7 0 1 0 3.4 0a1.7 1.7 0 1 0 -3.4 0M257.5 655.1a1.7 1.7 0 1 0 3.4 0a1.7 1.7 0 1 0 -3.4 0M262.2 658.9a1.7 1.7 0 1 0 3.4 0a1.7 1.7 0 1 0 -3.4 0M261.7 660.3a1.7 1.7 0 1 0 3.4 0a1.7 1.7 0 1 0 -3.4 0M249.9 654.0a1.7 1.7 0 1 0 3.4 0a1.7 1.7 0 1 0 -3.4 0M241.4 668.9a1.7 1.7 0 1 0 3.4 0a1.7 1.7 0 1 0 -3.4 0M269.1 671.1a1.7 1.7 0 1 0 3.4 0a1.7 1.7 0 1 0 -3.4 0M267.3 658.4a1.7 1.7 0 1 0 3.4 0a1.7 1.7 0 1 0 -3.4 0M254.3 676.6a1.7 1.7 0 1 0 3.4 0a1.7 1.7 0 1 0 -3.4 0M254.1 673.9a1.7 1.7 0 1 0 3.4 0a1.7 1.7 0 1 0 -3.4 0M252.1 657.0a1.7 1.7 0 1 0 3.4 0a1.7 1.7 0 1 0 -3.4 0M254.6 667.9a1.7 1.7 0 1 0 3.4 0a1.7 1.7 0 1 0 -3.4 0M259.4 657.9a1.7 1.7 0 1 0 3.4 0a1.7 1.7 0 1 0 -3.4 0M262.2 669.7a1.7 1.7 0 1 0 3.4 0a1.7 1.7 0 1 0 -3.4 0M251.4 657.2a1.7 1.7 0 1 0 3.4 0a1.7 1.7 0 1 0 -3.4 0M264.9 667.8a1.7 1.7 0 1 0 3.4 0a1.7 1.7 0 1 0 -3.4 0M267.4 670.2a1.7 1.7 0 1 0 3.4 0a1.7 1.7 0 1 0 -3.4 0M269.5 675.5a1.7 1.7 0 1 0 3.4 0a1.7 1.7 0 1 0 -3.4 0M257.2 671.0a1.7 1.7 0 1 0 3.4 0a1.7 1.7 0 1 0 -3.4 0M260.1 671.2a1.7 1.7 0 1 0 3.4 0a1.7 1.7 0 1 0 -3.4 0M256.7 677.2a1.7 1.7 0 1 0 3.4 0a1.7 1.7 0 1 0 -3.4 0M261.8 654.6a1.7 1.7 0 1 0 3.4 0a1.7 1.7 0 1 0 -3.4 0M238.7 682.8a1.7 1.7 0 1 0 3.4 0a1.7 1.7 0 1 0 -3.4 0M238.2 679.3a1.7 1.7 0 1 0 3.4 0a1.7 1.7 0 1 0 -3.4 0M236.5 696.4a1.7 1.7 0 1 0 3.4 0a1.7 1.7 0 1 0 -3.4 0M239.5 684.3a1.7 1.7 0 1 0 3.4 0a1.7 1.7 0 1 0 -3.4 0M234.6 705.8a1.7 1.7 0 1 0 3.4 0a1.7 1.7 0 1 0 -3.4 0M241.2 691.1a1.7 1.7 0 1 0 3.4 0a1.7 1.7 0 1 0 -3.4 0M238.1 681.5a1.7 1.7 0 1 0 3.4 0a1.7 1.7 0 1 0 -3.4 0M234.9 701.0a1.7 1.7 0 1 0 3.4 0a1.7 1.7 0 1 0 -3.4 0M240.5 680.6a1.7 1.7 0 1 0 3.4 0a1.7 1.7 0 1 0 -3.4 0M237.6 690.8a1.7 1.7 0 1 0 3.4 0a1.7 1.7 0 1 0 -3.4 0M237.1 694.9a1.7 1.7 0 1 0 3.4 0a1.7 1.7 0 1 0 -3.4 0M238.5 693.4a1.7 1.7 0 1 0 3.4 0a1.7 1.7 0 1 0 -3.4 0M237.3 692.8a1.7 1.7 0 1 0 3.4 0a1.7 1.7 0 1 0 -3.4 0M240.6 698.6a1.7 1.7 0 1 0 3.4 0a1.7 1.7 0 1 0 -3.4 0M233.0 701.2a1.7 1.7 0 1 0 3.4 0a1.7 1.7 0 1 0 -3.4 0M237.4 700.1a1.7 1.7 0 1 0 3.4 0a1.7 1.7 0 1 0 -3.4 0M233.3 700.9a1.7 1.7 0 1 0 3.4 0a1.7 1.7 0 1 0 -3.4 0M234.0 696.8a1.7 1.7 0 1 0 3.4 0a1.7 1.7 0 1 0 -3.4 0M235.2 698.8a1.7 1.7 0 1 0 3.4 0a1.7 1.7 0 1 0 -3.4 0M235.1 698.8a1.7 1.7 0 1 0 3.4 0a1.7 1.7 0 1 0 -3.4 0M239.6 691.2a1.7 1.7 0 1 0 3.4 0a1.7 1.7 0 1 0 -3.4 0M243.6 684.0a1.7 1.7 0 1 0 3.4 0a1.7 1.7 0 1 0 -3.4 0M238.7 688.9a1.7 1.7 0 1 0 3.4 0a1.7 1.7 0 1 0 -3.4 0M241.1 680.7a1.7 1.7 0 1 0 3.4 0a1.7 1.7 0 1 0 -3.4 0M235.8 695.8a1.7 1.7 0 1 0 3.4 0a1.7 1.7 0 1 0 -3.4 0M76.1 676.7a1.7 1.7 0 1 0 3.4 0a1.7 1.7 0 1 0 -3.4 0M76.6 690.1a1.7 1.7 0 1 0 3.4 0a1.7 1.7 0 1 0 -3.4 0M76.2 681.8a1.7 1.7 0 1 0 3.4 0a1.7 1.7 0 1 0 -3.4 0M77.9 679.5a1.7 1.7 0 1 0 3.4 0a1.7 1.7 0 1 0 -3.4 0M76.4 696.6a1.7 1.7 0 1 0 3.4 0a1.7 1.7 0 1 0 -3.4 0M77.1 683.5a1.7 1.7 0 1 0 3.4 0a1.7 1.7 0 1 0 -3.4 0M77.1 714.2a1.7 1.7 0 1 0 3.4 0a1.7 1.7 0 1 0 -3.4 0M76.4 695.7a1.7 1.7 0 1 0 3.4 0a1.7 1.7 0 1 0 -3.4 0M77.0 704.0a1.7 1.7 0 1 0 3.4 0a1.7 1.7 0 1 0 -3.4 0M77.6 675.2a1.7 1.7 0 1 0 3.4 0a1.7 1.7 0 1 0 -3.4 0M75.9 697.5a1.7 1.7 0 1 0 3.4 0a1.7 1.7 0 1 0 -3.4 0M331.2 659.2a1.7 1.7 0 1 0 3.4 0a1.7 1.7 0 1 0 -3.4 0M327.1 637.1a1.7 1.7 0 1 0 3.4 0a1.7 1.7 0 1 0 -3.4 0M336.4 688.6a1.7 1.7 0 1 0 3.4 0a1.7 1.7 0 1 0 -3.4 0M343.7 676.6a1.7 1.7 0 1 0 3.4 0a1.7 1.7 0 1 0 -3.4 0M335.3 608.4a1.7 1.7 0 1 0 3.4 0a1.7 1.7 0 1 0 -3.4 0M334.5 628.5a1.7 1.7 0 1 0 3.4 0a1.7 1.7 0 1 0 -3.4 0M329.8 671.3a1.7 1.7 0 1 0 3.4 0a1.7 1.7 0 1 0 -3.4 0M342.1 666.9a1.7 1.7 0 1 0 3.4 0a1.7 1.7 0 1 0 -3.4 0M333.3 669.2a1.7 1.7 0 1 0 3.4 0a1.7 1.7 0 1 0 -3.4 0M329.2 659.5a1.7 1.7 0 1 0 3.4 0a1.7 1.7 0 1 0 -3.4 0M336.1 640.4a1.7 1.7 0 1 0 3.4 0a1.7 1.7 0 1 0 -3.4 0M346.0 637.3a1.7 1.7 0 1 0 3.4 0a1.7 1.7 0 1 0 -3.4 0M346.8 637.6a1.7 1.7 0 1 0 3.4 0a1.7 1.7 0 1 0 -3.4 0M326.0 664.1a1.7 1.7 0 1 0 3.4 0a1.7 1.7 0 1 0 -3.4 0M344.4 630.0a1.7 1.7 0 1 0 3.4 0a1.7 1.7 0 1 0 -3.4 0M343.6 642.7a1.7 1.7 0 1 0 3.4 0a1.7 1.7 0 1 0 -3.4 0M336.2 626.1a1.7 1.7 0 1 0 3.4 0a1.7 1.7 0 1 0 -3.4 0M324.9 648.4a1.7 1.7 0 1 0 3.4 0a1.7 1.7 0 1 0 -3.4 0M337.7 624.4a1.7 1.7 0 1 0 3.4 0a1.7 1.7 0 1 0 -3.4 0M346.5 653.2a1.7 1.7 0 1 0 3.4 0a1.7 1.7 0 1 0 -3.4 0M345.0 639.4a1.7 1.7 0 1 0 3.4 0a1.7 1.7 0 1 0 -3.4 0M344.9 655.4a1.7 1.7 0 1 0 3.4 0a1.7 1.7 0 1 0 -3.4 0M342.1 622.8a1.7 1.7 0 1 0 3.4 0a1.7 1.7 0 1 0 -3.4 0M340.1 614.1a1.7 1.7 0 1 0 3.4 0a1.7 1.7 0 1 0 -3.4 0M332.0 615.0a1.7 1.7 0 1 0 3.4 0a1.7 1.7 0 1 0 -3.4 0M329.4 644.8a1.7 1.7 0 1 0 3.4 0a1.7 1.7 0 1 0 -3.4 0M341.9 619.9a1.7 1.7 0 1 0 3.4 0a1.7 1.7 0 1 0 -3.4 0M340.5 618.0a1.7 1.7 0 1 0 3.4 0a1.7 1.7 0 1 0 -3.4 0M330.5 664.6a1.7 1.7 0 1 0 3.4 0a1.7 1.7 0 1 0 -3.4 0M335.7 641.0a1.7 1.7 0 1 0 3.4 0a1.7 1.7 0 1 0 -3.4 0M329.0 671.8a1.7 1.7 0 1 0 3.4 0a1.7 1.7 0 1 0 -3.4 0M346.1 659.3a1.7 1.7 0 1 0 3.4 0a1.7 1.7 0 1 0 -3.4 0M338.3 635.3a1.7 1.7 0 1 0 3.4 0a1.7 1.7 0 1 0 -3.4 0M330.6 636.9a1.7 1.7 0 1 0 3.4 0a1.7 1.7 0 1 0 -3.4 0M336.6 689.3a1.7 1.7 0 1 0 3.4 0a1.7 1.7 0 1 0 -3.4 0M337.1 618.5a1.7 1.7 0 1 0 3.4 0a1.7 1.7 0 1 0 -3.4 0M342.6 652.2a1.7 1.7 0 1 0 3.4 0a1.7 1.7 0 1 0 -3.4 0M323.7 653.2a1.7 1.7 0 1 0 3.4 0a1.7 1.7 0 1 0 -3.4 0M329.6 637.0a1.7 1.7 0 1 0 3.4 0a1.7 1.7 0 1 0 -3.4 0M329.4 667.9a1.7 1.7 0 1 0 3.4 0a1.7 1.7 0 1 0 -3.4 0M330.0 650.0a1.7 1.7 0 1 0 3.4 0a1.7 1.7 0 1 0 -3.4 0M336.8 648.7a1.7 1.7 0 1 0 3.4 0a1.7 1.7 0 1 0 -3.4 0M345.6 633.1a1.7 1.7 0 1 0 3.4 0a1.7 1.7 0 1 0 -3.4 0M346.0 645.1a1.7 1.7 0 1 0 3.4 0a1.7 1.7 0 1 0 -3.4 0M341.6 674.1a1.7 1.7 0 1 0 3.4 0a1.7 1.7 0 1 0 -3.4 0M347.7 645.8a1.7 1.7 0 1 0 3.4 0a1.7 1.7 0 1 0 -3.4 0M334.8 643.0a1.7 1.7 0 1 0 3.4 0a1.7 1.7 0 1 0 -3.4 0M333.8 609.6a1.7 1.7 0 1 0 3.4 0a1.7 1.7 0 1 0 -3.4 0M330.8 682.2a1.7 1.7 0 1 0 3.4 0a1.7 1.7 0 1 0 -3.4 0M343.9 623.4a1.7 1.7 0 1 0 3.4 0a1.7 1.7 0 1 0 -3.4 0M338.4 691.0a1.7 1.7 0 1 0 3.4 0a1.7 1.7 0 1 0 -3.4 0M346.6 635.7a1.7 1.7 0 1 0 3.4 0a1.7 1.7 0 1 0 -3.4 0M323.6 667.8a1.7 1.7 0 1 0 3.4 0a1.7 1.7 0 1 0 -3.4 0M339.5 669.6a1.7 1.7 0 1 0 3.4 0a1.7 1.7 0 1 0 -3.4 0M336.5 678.0a1.7 1.7 0 1 0 3.4 0a1.7 1.7 0 1 0 -3.4 0M338.3 610.6a1.7 1.7 0 1 0 3.4 0a1.7 1.7 0 1 0 -3.4 0M342.7 641.0a1.7 1.7 0 1 0 3.4 0a1.7 1.7 0 1 0 -3.4 0M339.1 689.0a1.7 1.7 0 1 0 3.4 0a1.7 1.7 0 1 0 -3.4 0M342.1 629.7a1.7 1.7 0 1 0 3.4 0a1.7 1.7 0 1 0 -3.4 0M331.8 623.7a1.7 1.7 0 1 0 3.4 0a1.7 1.7 0 1 0 -3.4 0M340.4 644.7a1.7 1.7 0 1 0 3.4 0a1.7 1.7 0 1 0 -3.4 0M324.1 645.3a1.7 1.7 0 1 0 3.4 0a1.7 1.7 0 1 0 -3.4 0M344.8 669.1a1.7 1.7 0 1 0 3.4 0a1.7 1.7 0 1 0 -3.4 0M334.2 629.0a1.7 1.7 0 1 0 3.4 0a1.7 1.7 0 1 0 -3.4 0M323.5 635.8a1.7 1.7 0 1 0 3.4 0a1.7 1.7 0 1 0 -3.4 0M328.6 644.4a1.7 1.7 0 1 0 3.4 0a1.7 1.7 0 1 0 -3.4 0M331.3 683.3a1.7 1.7 0 1 0 3.4 0a1.7 1.7 0 1 0 -3.4 0M337.7 658.0a1.7 1.7 0 1 0 3.4 0a1.7 1.7 0 1 0 -3.4 0M331.6 659.1a1.7 1.7 0 1 0 3.4 0a1.7 1.7 0 1 0 -3.4 0M337.4 655.1a1.7 1.7 0 1 0 3.4 0a1.7 1.7 0 1 0 -3.4 0M389.1 699.6a1.7 1.7 0 1 0 3.4 0a1.7 1.7 0 1 0 -3.4 0M370.5 691.1a1.7 1.7 0 1 0 3.4 0a1.7 1.7 0 1 0 -3.4 0M374.7 706.2a1.7 1.7 0 1 0 3.4 0a1.7 1.7 0 1 0 -3.4 0M373.5 692.2a1.7 1.7 0 1 0 3.4 0a1.7 1.7 0 1 0 -3.4 0M362.6 684.4a1.7 1.7 0 1 0 3.4 0a1.7 1.7 0 1 0 -3.4 0M387.9 701.9a1.7 1.7 0 1 0 3.4 0a1.7 1.7 0 1 0 -3.4 0M377.9 672.4a1.7 1.7 0 1 0 3.4 0a1.7 1.7 0 1 0 -3.4 0M382.7 700.0a1.7 1.7 0 1 0 3.4 0a1.7 1.7 0 1 0 -3.4 0M365.3 696.9a1.7 1.7 0 1 0 3.4 0a1.7 1.7 0 1 0 -3.4 0M376.7 696.6a1.7 1.7 0 1 0 3.4 0a1.7 1.7 0 1 0 -3.4 0M384.9 706.9a1.7 1.7 0 1 0 3.4 0a1.7 1.7 0 1 0 -3.4 0M371.2 683.4a1.7 1.7 0 1 0 3.4 0a1.7 1.7 0 1 0 -3.4 0M387.6 706.0a1.7 1.7 0 1 0 3.4 0a1.7 1.7 0 1 0 -3.4 0M377.0 673.0a1.7 1.7 0 1 0 3.4 0a1.7 1.7 0 1 0 -3.4 0M365.6 674.3a1.7 1.7 0 1 0 3.4 0a1.7 1.7 0 1 0 -3.4 0M375.0 683.2a1.7 1.7 0 1 0 3.4 0a1.7 1.7 0 1 0 -3.4 0M385.4 687.6a1.7 1.7 0 1 0 3.4 0a1.7 1.7 0 1 0 -3.4 0M362.8 680.1a1.7 1.7 0 1 0 3.4 0a1.7 1.7 0 1 0 -3.4 0M369.4 712.6a1.7 1.7 0 1 0 3.4 0a1.7 1.7 0 1 0 -3.4 0M384.5 690.5a1.7 1.7 0 1 0 3.4 0a1.7 1.7 0 1 0 -3.4 0M361.7 689.9a1.7 1.7 0 1 0 3.4 0a1.7 1.7 0 1 0 -3.4 0M383.8 703.2a1.7 1.7 0 1 0 3.4 0a1.7 1.7 0 1 0 -3.4 0M380.1 673.5a1.7 1.7 0 1 0 3.4 0a1.7 1.7 0 1 0 -3.4 0M368.8 687.0a1.7 1.7 0 1 0 3.4 0a1.7 1.7 0 1 0 -3.4 0M370.3 703.0a1.7 1.7 0 1 0 3.4 0a1.7 1.7 0 1 0 -3.4 0M377.2 665.8a1.7 1.7 0 1 0 3.4 0a1.7 1.7 0 1 0 -3.4 0M361.9 701.8a1.7 1.7 0 1 0 3.4 0a1.7 1.7 0 1 0 -3.4 0M374.2 675.9a1.7 1.7 0 1 0 3.4 0a1.7 1.7 0 1 0 -3.4 0M386.8 674.9a1.7 1.7 0 1 0 3.4 0a1.7 1.7 0 1 0 -3.4 0M364.8 674.3a1.7 1.7 0 1 0 3.4 0a1.7 1.7 0 1 0 -3.4 0M372.0 686.4a1.7 1.7 0 1 0 3.4 0a1.7 1.7 0 1 0 -3.4 0M367.8 677.0a1.7 1.7 0 1 0 3.4 0a1.7 1.7 0 1 0 -3.4 0M375.9 679.4a1.7 1.7 0 1 0 3.4 0a1.7 1.7 0 1 0 -3.4 0M382.5 691.4a1.7 1.7 0 1 0 3.4 0a1.7 1.7 0 1 0 -3.4 0M380.2 706.0a1.7 1.7 0 1 0 3.4 0a1.7 1.7 0 1 0 -3.4 0M383.9 694.4a1.7 1.7 0 1 0 3.4 0a1.7 1.7 0 1 0 -3.4 0M363.9 711.9a1.7 1.7 0 1 0 3.4 0a1.7 1.7 0 1 0 -3.4 0M370.3 684.9a1.7 1.7 0 1 0 3.4 0a1.7 1.7 0 1 0 -3.4 0M376.7 703.3a1.7 1.7 0 1 0 3.4 0a1.7 1.7 0 1 0 -3.4 0M374.5 701.0a1.7 1.7 0 1 0 3.4 0a1.7 1.7 0 1 0 -3.4 0M381.9 692.4a1.7 1.7 0 1 0 3.4 0a1.7 1.7 0 1 0 -3.4 0M363.5 693.3a1.7 1.7 0 1 0 3.4 0a1.7 1.7 0 1 0 -3.4 0M379.2 680.1a1.7 1.7 0 1 0 3.4 0a1.7 1.7 0 1 0 -3.4 0M368.3 674.3a1.7 1.7 0 1 0 3.4 0a1.7 1.7 0 1 0 -3.4 0M381.2 710.1a1.7 1.7 0 1 0 3.4 0a1.7 1.7 0 1 0 -3.4 0M381.0 688.1a1.7 1.7 0 1 0 3.4 0a1.7 1.7 0 1 0 -3.4 0M365.0 682.4a1.7 1.7 0 1 0 3.4 0a1.7 1.7 0 1 0 -3.4 0M378.7 703.3a1.7 1.7 0 1 0 3.4 0a1.7 1.7 0 1 0 -3.4 0M370.8 683.1a1.7 1.7 0 1 0 3.4 0a1.7 1.7 0 1 0 -3.4 0M379.6 680.6a1.7 1.7 0 1 0 3.4 0a1.7 1.7 0 1 0 -3.4 0M367.0 688.4a1.7 1.7 0 1 0 3.4 0a1.7 1.7 0 1 0 -3.4 0M364.2 709.6a1.7 1.7 0 1 0 3.4 0a1.7 1.7 0 1 0 -3.4 0M377.2 706.2a1.7 1.7 0 1 0 3.4 0a1.7 1.7 0 1 0 -3.4 0M381.9 709.8a1.7 1.7 0 1 0 3.4 0a1.7 1.7 0 1 0 -3.4 0M368.8 677.1a1.7 1.7 0 1 0 3.4 0a1.7 1.7 0 1 0 -3.4 0M378.1 677.8a1.7 1.7 0 1 0 3.4 0a1.7 1.7 0 1 0 -3.4 0M379.9 687.8a1.7 1.7 0 1 0 3.4 0a1.7 1.7 0 1 0 -3.4 0M363.0 697.2a1.7 1.7 0 1 0 3.4 0a1.7 1.7 0 1 0 -3.4 0M366.5 669.5a1.7 1.7 0 1 0 3.4 0a1.7 1.7 0 1 0 -3.4 0M369.5 694.6a1.7 1.7 0 1 0 3.4 0a1.7 1.7 0 1 0 -3.4 0M364.4 683.5a1.7 1.7 0 1 0 3.4 0a1.7 1.7 0 1 0 -3.4 0M377.5 708.4a1.7 1.7 0 1 0 3.4 0a1.7 1.7 0 1 0 -3.4 0M373.0 667.9a1.7 1.7 0 1 0 3.4 0a1.7 1.7 0 1 0 -3.4 0M374.1 683.7a1.7 1.7 0 1 0 3.4 0a1.7 1.7 0 1 0 -3.4 0M373.2 673.6a1.7 1.7 0 1 0 3.4 0a1.7 1.7 0 1 0 -3.4 0M418.3 703.4a1.7 1.7 0 1 0 3.4 0a1.7 1.7 0 1 0 -3.4 0M420.8 710.9a1.7 1.7 0 1 0 3.4 0a1.7 1.7 0 1 0 -3.4 0M415.0 696.1a1.7 1.7 0 1 0 3.4 0a1.7 1.7 0 1 0 -3.4 0M404.0 711.6a1.7 1.7 0 1 0 3.4 0a1.7 1.7 0 1 0 -3.4 0M419.1 695.6a1.7 1.7 0 1 0 3.4 0a1.7 1.7 0 1 0 -3.4 0M403.3 697.6a1.7 1.7 0 1 0 3.4 0a1.7 1.7 0 1 0 -3.4 0M410.4 693.3a1.7 1.7 0 1 0 3.4 0a1.7 1.7 0 1 0 -3.4 0M402.6 701.6a1.7 1.7 0 1 0 3.4 0a1.7 1.7 0 1 0 -3.4 0M393.7 710.7a1.7 1.7 0 1 0 3.4 0a1.7 1.7 0 1 0 -3.4 0M421.9 699.8a1.7 1.7 0 1 0 3.4 0a1.7 1.7 0 1 0 -3.4 0M401.7 712.8a1.7 1.7 0 1 0 3.4 0a1.7 1.7 0 1 0 -3.4 0M406.9 711.1a1.7 1.7 0 1 0 3.4 0a1.7 1.7 0 1 0 -3.4 0M404.9 704.0a1.7 1.7 0 1 0 3.4 0a1.7 1.7 0 1 0 -3.4 0M419.0 701.6a1.7 1.7 0 1 0 3.4 0a1.7 1.7 0 1 0 -3.4 0M389.3 712.5a1.7 1.7 0 1 0 3.4 0a1.7 1.7 0 1 0 -3.4 0M426.7 708.6a1.7 1.7 0 1 0 3.4 0a1.7 1.7 0 1 0 -3.4 0" fill="#fff" stroke="#555" stroke-width="1.05"/>
<path d="M73.0 729.2a1.7 1.7 0 1 0 3.4 0a1.7 1.7 0 1 0 -3.4 0M73.8 733.1a1.7 1.7 0 1 0 3.4 0a1.7 1.7 0 1 0 -3.4 0M73.8 729.4a1.7 1.7 0 1 0 3.4 0a1.7 1.7 0 1 0 -3.4 0M74.8 731.2a1.7 1.7 0 1 0 3.4 0a1.7 1.7 0 1 0 -3.4 0M75.6 727.9a1.7 1.7 0 1 0 3.4 0a1.7 1.7 0 1 0 -3.4 0M77.2 732.9a1.7 1.7 0 1 0 3.4 0a1.7 1.7 0 1 0 -3.4 0M77.5 727.4a1.7 1.7 0 1 0 3.4 0a1.7 1.7 0 1 0 -3.4 0M79.3 729.3a1.7 1.7 0 1 0 3.4 0a1.7 1.7 0 1 0 -3.4 0M79.0 725.1a1.7 1.7 0 1 0 3.4 0a1.7 1.7 0 1 0 -3.4 0M80.2 724.2a1.7 1.7 0 1 0 3.4 0a1.7 1.7 0 1 0 -3.4 0M80.8 718.7a1.7 1.7 0 1 0 3.4 0a1.7 1.7 0 1 0 -3.4 0M82.3 721.1a1.7 1.7 0 1 0 3.4 0a1.7 1.7 0 1 0 -3.4 0M84.2 729.5a1.7 1.7 0 1 0 3.4 0a1.7 1.7 0 1 0 -3.4 0M84.5 730.9a1.7 1.7 0 1 0 3.4 0a1.7 1.7 0 1 0 -3.4 0M85.4 730.8a1.7 1.7 0 1 0 3.4 0a1.7 1.7 0 1 0 -3.4 0M85.6 733.2a1.7 1.7 0 1 0 3.4 0a1.7 1.7 0 1 0 -3.4 0M86.4 733.1a1.7 1.7 0 1 0 3.4 0a1.7 1.7 0 1 0 -3.4 0M88.0 732.7a1.7 1.7 0 1 0 3.4 0a1.7 1.7 0 1 0 -3.4 0M88.3 716.4a1.7 1.7 0 1 0 3.4 0a1.7 1.7 0 1 0 -3.4 0M90.8 732.5a1.7 1.7 0 1 0 3.4 0a1.7 1.7 0 1 0 -3.4 0M91.7 733.2a1.7 1.7 0 1 0 3.4 0a1.7 1.7 0 1 0 -3.4 0M93.5 723.1a1.7 1.7 0 1 0 3.4 0a1.7 1.7 0 1 0 -3.4 0M93.9 729.8a1.7 1.7 0 1 0 3.4 0a1.7 1.7 0 1 0 -3.4 0M94.9 722.5a1.7 1.7 0 1 0 3.4 0a1.7 1.7 0 1 0 -3.4 0M95.3 727.8a1.7 1.7 0 1 0 3.4 0a1.7 1.7 0 1 0 -3.4 0M95.8 726.9a1.7 1.7 0 1 0 3.4 0a1.7 1.7 0 1 0 -3.4 0M96.7 723.2a1.7 1.7 0 1 0 3.4 0a1.7 1.7 0 1 0 -3.4 0M96.4 718.6a1.7 1.7 0 1 0 3.4 0a1.7 1.7 0 1 0 -3.4 0M98.1 716.8a1.7 1.7 0 1 0 3.4 0a1.7 1.7 0 1 0 -3.4 0M98.3 725.7a1.7 1.7 0 1 0 3.4 0a1.7 1.7 0 1 0 -3.4 0M100.2 730.4a1.7 1.7 0 1 0 3.4 0a1.7 1.7 0 1 0 -3.4 0M100.0 722.6a1.7 1.7 0 1 0 3.4 0a1.7 1.7 0 1 0 -3.4 0M101.3 730.0a1.7 1.7 0 1 0 3.4 0a1.7 1.7 0 1 0 -3.4 0M101.3 731.4a1.7 1.7 0 1 0 3.4 0a1.7 1.7 0 1 0 -3.4 0M101.6 733.2a1.7 1.7 0 1 0 3.4 0a1.7 1.7 0 1 0 -3.4 0M102.7 715.6a1.7 1.7 0 1 0 3.4 0a1.7 1.7 0 1 0 -3.4 0M103.6 715.6a1.7 1.7 0 1 0 3.4 0a1.7 1.7 0 1 0 -3.4 0M107.9 715.0a1.7 1.7 0 1 0 3.4 0a1.7 1.7 0 1 0 -3.4 0M107.5 727.9a1.7 1.7 0 1 0 3.4 0a1.7 1.7 0 1 0 -3.4 0M109.3 724.7a1.7 1.7 0 1 0 3.4 0a1.7 1.7 0 1 0 -3.4 0M109.5 719.2a1.7 1.7 0 1 0 3.4 0a1.7 1.7 0 1 0 -3.4 0M111.2 729.2a1.7 1.7 0 1 0 3.4 0a1.7 1.7 0 1 0 -3.4 0M111.9 728.8a1.7 1.7 0 1 0 3.4 0a1.7 1.7 0 1 0 -3.4 0M111.3 720.1a1.7 1.7 0 1 0 3.4 0a1.7 1.7 0 1 0 -3.4 0M113.1 717.5a1.7 1.7 0 1 0 3.4 0a1.7 1.7 0 1 0 -3.4 0M113.5 716.5a1.7 1.7 0 1 0 3.4 0a1.7 1.7 0 1 0 -3.4 0M114.6 732.7a1.7 1.7 0 1 0 3.4 0a1.7 1.7 0 1 0 -3.4 0M115.8 716.1a1.7 1.7 0 1 0 3.4 0a1.7 1.7 0 1 0 -3.4 0M116.4 730.9a1.7 1.7 0 1 0 3.4 0a1.7 1.7 0 1 0 -3.4 0M118.7 725.6a1.7 1.7 0 1 0 3.4 0a1.7 1.7 0 1 0 -3.4 0M119.4 732.8a1.7 1.7 0 1 0 3.4 0a1.7 1.7 0 1 0 -3.4 0M119.9 717.7a1.7 1.7 0 1 0 3.4 0a1.7 1.7 0 1 0 -3.4 0M121.1 731.4a1.7 1.7 0 1 0 3.4 0a1.7 1.7 0 1 0 -3.4 0M123.2 732.6a1.7 1.7 0 1 0 3.4 0a1.7 1.7 0 1 0 -3.4 0M122.5 730.0a1.7 1.7 0 1 0 3.4 0a1.7 1.7 0 1 0 -3.4 0M124.2 731.8a1.7 1.7 0 1 0 3.4 0a1.7 1.7 0 1 0 -3.4 0M123.8 723.2a1.7 1.7 0 1 0 3.4 0a1.7 1.7 0 1 0 -3.4 0M125.0 721.8a1.7 1.7 0 1 0 3.4 0a1.7 1.7 0 1 0 -3.4 0M124.7 725.8a1.7 1.7 0 1 0 3.4 0a1.7 1.7 0 1 0 -3.4 0M127.1 727.9a1.7 1.7 0 1 0 3.4 0a1.7 1.7 0 1 0 -3.4 0M126.8 730.8a1.7 1.7 0 1 0 3.4 0a1.7 1.7 0 1 0 -3.4 0M127.6 730.2a1.7 1.7 0 1 0 3.4 0a1.7 1.7 0 1 0 -3.4 0M129.0 731.3a1.7 1.7 0 1 0 3.4 0a1.7 1.7 0 1 0 -3.4 0M128.6 731.7a1.7 1.7 0 1 0 3.4 0a1.7 1.7 0 1 0 -3.4 0M130.0 720.2a1.7 1.7 0 1 0 3.4 0a1.7 1.7 0 1 0 -3.4 0M129.9 715.1a1.7 1.7 0 1 0 3.4 0a1.7 1.7 0 1 0 -3.4 0M131.3 731.9a1.7 1.7 0 1 0 3.4 0a1.7 1.7 0 1 0 -3.4 0M131.1 732.5a1.7 1.7 0 1 0 3.4 0a1.7 1.7 0 1 0 -3.4 0M132.9 733.1a1.7 1.7 0 1 0 3.4 0a1.7 1.7 0 1 0 -3.4 0M132.4 723.1a1.7 1.7 0 1 0 3.4 0a1.7 1.7 0 1 0 -3.4 0M133.8 726.0a1.7 1.7 0 1 0 3.4 0a1.7 1.7 0 1 0 -3.4 0M134.8 725.8a1.7 1.7 0 1 0 3.4 0a1.7 1.7 0 1 0 -3.4 0M136.1 730.6a1.7 1.7 0 1 0 3.4 0a1.7 1.7 0 1 0 -3.4 0M137.0 733.2a1.7 1.7 0 1 0 3.4 0a1.7 1.7 0 1 0 -3.4 0M137.0 730.1a1.7 1.7 0 1 0 3.4 0a1.7 1.7 0 1 0 -3.4 0M137.4 715.8a1.7 1.7 0 1 0 3.4 0a1.7 1.7 0 1 0 -3.4 0M137.5 714.7a1.7 1.7 0 1 0 3.4 0a1.7 1.7 0 1 0 -3.4 0M138.9 722.0a1.7 1.7 0 1 0 3.4 0a1.7 1.7 0 1 0 -3.4 0M139.6 731.0a1.7 1.7 0 1 0 3.4 0a1.7 1.7 0 1 0 -3.4 0M140.7 718.3a1.7 1.7 0 1 0 3.4 0a1.7 1.7 0 1 0 -3.4 0M142.0 730.3a1.7 1.7 0 1 0 3.4 0a1.7 1.7 0 1 0 -3.4 0M142.1 733.0a1.7 1.7 0 1 0 3.4 0a1.7 1.7 0 1 0 -3.4 0M143.0 717.6a1.7 1.7 0 1 0 3.4 0a1.7 1.7 0 1 0 -3.4 0M142.6 723.2a1.7 1.7 0 1 0 3.4 0a1.7 1.7 0 1 0 -3.4 0M144.0 722.7a1.7 1.7 0 1 0 3.4 0a1.7 1.7 0 1 0 -3.4 0M150.2 719.8a1.7 1.7 0 1 0 3.4 0a1.7 1.7 0 1 0 -3.4 0M150.1 721.4a1.7 1.7 0 1 0 3.4 0a1.7 1.7 0 1 0 -3.4 0M151.2 721.5a1.7 1.7 0 1 0 3.4 0a1.7 1.7 0 1 0 -3.4 0M150.5 722.9a1.7 1.7 0 1 0 3.4 0a1.7 1.7 0 1 0 -3.4 0M152.0 728.6a1.7 1.7 0 1 0 3.4 0a1.7 1.7 0 1 0 -3.4 0M154.4 725.1a1.7 1.7 0 1 0 3.4 0a1.7 1.7 0 1 0 -3.4 0M156.6 720.3a1.7 1.7 0 1 0 3.4 0a1.7 1.7 0 1 0 -3.4 0M158.5 725.5a1.7 1.7 0 1 0 3.4 0a1.7 1.7 0 1 0 -3.4 0M159.1 716.7a1.7 1.7 0 1 0 3.4 0a1.7 1.7 0 1 0 -3.4 0M159.4 733.1a1.7 1.7 0 1 0 3.4 0a1.7 1.7 0 1 0 -3.4 0M161.0 721.6a1.7 1.7 0 1 0 3.4 0a1.7 1.7 0 1 0 -3.4 0M165.1 715.3a1.7 1.7 0 1 0 3.4 0a1.7 1.7 0 1 0 -3.4 0M165.5 730.9a1.7 1.7 0 1 0 3.4 0a1.7 1.7 0 1 0 -3.4 0M166.4 733.2a1.7 1.7 0 1 0 3.4 0a1.7 1.7 0 1 0 -3.4 0M167.3 724.7a1.7 1.7 0 1 0 3.4 0a1.7 1.7 0 1 0 -3.4 0M167.9 727.2a1.7 1.7 0 1 0 3.4 0a1.7 1.7 0 1 0 -3.4 0M169.5 733.2a1.7 1.7 0 1 0 3.4 0a1.7 1.7 0 1 0 -3.4 0M169.6 724.7a1.7 1.7 0 1 0 3.4 0a1.7 1.7 0 1 0 -3.4 0M170.8 729.6a1.7 1.7 0 1 0 3.4 0a1.7 1.7 0 1 0 -3.4 0M170.9 732.5a1.7 1.7 0 1 0 3.4 0a1.7 1.7 0 1 0 -3.4 0M173.2 731.9a1.7 1.7 0 1 0 3.4 0a1.7 1.7 0 1 0 -3.4 0M174.0 731.1a1.7 1.7 0 1 0 3.4 0a1.7 1.7 0 1 0 -3.4 0M173.4 727.6a1.7 1.7 0 1 0 3.4 0a1.7 1.7 0 1 0 -3.4 0M175.2 731.8a1.7 1.7 0 1 0 3.4 0a1.7 1.7 0 1 0 -3.4 0M174.6 720.2a1.7 1.7 0 1 0 3.4 0a1.7 1.7 0 1 0 -3.4 0M175.5 727.8a1.7 1.7 0 1 0 3.4 0a1.7 1.7 0 1 0 -3.4 0M176.4 718.0a1.7 1.7 0 1 0 3.4 0a1.7 1.7 0 1 0 -3.4 0M177.9 715.0a1.7 1.7 0 1 0 3.4 0a1.7 1.7 0 1 0 -3.4 0M177.5 731.7a1.7 1.7 0 1 0 3.4 0a1.7 1.7 0 1 0 -3.4 0M179.0 722.0a1.7 1.7 0 1 0 3.4 0a1.7 1.7 0 1 0 -3.4 0M180.1 730.6a1.7 1.7 0 1 0 3.4 0a1.7 1.7 0 1 0 -3.4 0M180.5 727.3a1.7 1.7 0 1 0 3.4 0a1.7 1.7 0 1 0 -3.4 0M182.1 726.3a1.7 1.7 0 1 0 3.4 0a1.7 1.7 0 1 0 -3.4 0M181.4 726.3a1.7 1.7 0 1 0 3.4 0a1.7 1.7 0 1 0 -3.4 0M183.6 714.8a1.7 1.7 0 1 0 3.4 0a1.7 1.7 0 1 0 -3.4 0M184.5 727.4a1.7 1.7 0 1 0 3.4 0a1.7 1.7 0 1 0 -3.4 0M185.9 728.5a1.7 1.7 0 1 0 3.4 0a1.7 1.7 0 1 0 -3.4 0M185.3 732.1a1.7 1.7 0 1 0 3.4 0a1.7 1.7 0 1 0 -3.4 0M186.7 715.9a1.7 1.7 0 1 0 3.4 0a1.7 1.7 0 1 0 -3.4 0M188.0 722.6a1.7 1.7 0 1 0 3.4 0a1.7 1.7 0 1 0 -3.4 0M188.7 727.6a1.7 1.7 0 1 0 3.4 0a1.7 1.7 0 1 0 -3.4 0M188.4 725.6a1.7 1.7 0 1 0 3.4 0a1.7 1.7 0 1 0 -3.4 0M190.0 731.4a1.7 1.7 0 1 0 3.4 0a1.7 1.7 0 1 0 -3.4 0M190.1 732.6a1.7 1.7 0 1 0 3.4 0a1.7 1.7 0 1 0 -3.4 0M190.3 721.2a1.7 1.7 0 1 0 3.4 0a1.7 1.7 0 1 0 -3.4 0M190.5 724.0a1.7 1.7 0 1 0 3.4 0a1.7 1.7 0 1 0 -3.4 0M191.4 726.5a1.7 1.7 0 1 0 3.4 0a1.7 1.7 0 1 0 -3.4 0M193.8 722.7a1.7 1.7 0 1 0 3.4 0a1.7 1.7 0 1 0 -3.4 0M195.0 733.2a1.7 1.7 0 1 0 3.4 0a1.7 1.7 0 1 0 -3.4 0M196.1 723.2a1.7 1.7 0 1 0 3.4 0a1.7 1.7 0 1 0 -3.4 0M196.7 725.8a1.7 1.7 0 1 0 3.4 0a1.7 1.7 0 1 0 -3.4 0M198.1 732.7a1.7 1.7 0 1 0 3.4 0a1.7 1.7 0 1 0 -3.4 0M198.5 728.6a1.7 1.7 0 1 0 3.4 0a1.7 1.7 0 1 0 -3.4 0M198.6 726.0a1.7 1.7 0 1 0 3.4 0a1.7 1.7 0 1 0 -3.4 0M200.0 730.9a1.7 1.7 0 1 0 3.4 0a1.7 1.7 0 1 0 -3.4 0M201.1 731.3a1.7 1.7 0 1 0 3.4 0a1.7 1.7 0 1 0 -3.4 0M202.2 715.0a1.7 1.7 0 1 0 3.4 0a1.7 1.7 0 1 0 -3.4 0M202.3 732.3a1.7 1.7 0 1 0 3.4 0a1.7 1.7 0 1 0 -3.4 0M203.2 722.9a1.7 1.7 0 1 0 3.4 0a1.7 1.7 0 1 0 -3.4 0M203.5 720.6a1.7 1.7 0 1 0 3.4 0a1.7 1.7 0 1 0 -3.4 0M204.8 730.3a1.7 1.7 0 1 0 3.4 0a1.7 1.7 0 1 0 -3.4 0M205.2 727.7a1.7 1.7 0 1 0 3.4 0a1.7 1.7 0 1 0 -3.4 0M206.5 728.9a1.7 1.7 0 1 0 3.4 0a1.7 1.7 0 1 0 -3.4 0M207.7 728.0a1.7 1.7 0 1 0 3.4 0a1.7 1.7 0 1 0 -3.4 0M208.0 730.9a1.7 1.7 0 1 0 3.4 0a1.7 1.7 0 1 0 -3.4 0M208.6 723.6a1.7 1.7 0 1 0 3.4 0a1.7 1.7 0 1 0 -3.4 0M209.6 731.4a1.7 1.7 0 1 0 3.4 0a1.7 1.7 0 1 0 -3.4 0M210.7 718.1a1.7 1.7 0 1 0 3.4 0a1.7 1.7 0 1 0 -3.4 0M210.9 726.5a1.7 1.7 0 1 0 3.4 0a1.7 1.7 0 1 0 -3.4 0M211.6 733.0a1.7 1.7 0 1 0 3.4 0a1.7 1.7 0 1 0 -3.4 0M213.1 728.9a1.7 1.7 0 1 0 3.4 0a1.7 1.7 0 1 0 -3.4 0M213.3 729.1a1.7 1.7 0 1 0 3.4 0a1.7 1.7 0 1 0 -3.4 0M213.4 722.5a1.7 1.7 0 1 0 3.4 0a1.7 1.7 0 1 0 -3.4 0M214.3 732.1a1.7 1.7 0 1 0 3.4 0a1.7 1.7 0 1 0 -3.4 0M215.6 725.4a1.7 1.7 0 1 0 3.4 0a1.7 1.7 0 1 0 -3.4 0M216.1 726.6a1.7 1.7 0 1 0 3.4 0a1.7 1.7 0 1 0 -3.4 0M216.4 731.6a1.7 1.7 0 1 0 3.4 0a1.7 1.7 0 1 0 -3.4 0M216.4 723.2a1.7 1.7 0 1 0 3.4 0a1.7 1.7 0 1 0 -3.4 0M217.9 725.1a1.7 1.7 0 1 0 3.4 0a1.7 1.7 0 1 0 -3.4 0M217.4 724.7a1.7 1.7 0 1 0 3.4 0a1.7 1.7 0 1 0 -3.4 0M218.5 729.3a1.7 1.7 0 1 0 3.4 0a1.7 1.7 0 1 0 -3.4 0M218.7 718.1a1.7 1.7 0 1 0 3.4 0a1.7 1.7 0 1 0 -3.4 0M219.7 731.6a1.7 1.7 0 1 0 3.4 0a1.7 1.7 0 1 0 -3.4 0M219.9 724.8a1.7 1.7 0 1 0 3.4 0a1.7 1.7 0 1 0 -3.4 0M220.5 718.9a1.7 1.7 0 1 0 3.4 0a1.7 1.7 0 1 0 -3.4 0M221.9 729.3a1.7 1.7 0 1 0 3.4 0a1.7 1.7 0 1 0 -3.4 0M223.1 733.0a1.7 1.7 0 1 0 3.4 0a1.7 1.7 0 1 0 -3.4 0M223.4 732.3a1.7 1.7 0 1 0 3.4 0a1.7 1.7 0 1 0 -3.4 0M225.2 733.1a1.7 1.7 0 1 0 3.4 0a1.7 1.7 0 1 0 -3.4 0M225.3 721.9a1.7 1.7 0 1 0 3.4 0a1.7 1.7 0 1 0 -3.4 0M225.6 726.4a1.7 1.7 0 1 0 3.4 0a1.7 1.7 0 1 0 -3.4 0M226.4 733.2a1.7 1.7 0 1 0 3.4 0a1.7 1.7 0 1 0 -3.4 0M227.0 730.1a1.7 1.7 0 1 0 3.4 0a1.7 1.7 0 1 0 -3.4 0M227.9 719.8a1.7 1.7 0 1 0 3.4 0a1.7 1.7 0 1 0 -3.4 0M229.1 717.5a1.7 1.7 0 1 0 3.4 0a1.7 1.7 0 1 0 -3.4 0M230.2 716.0a1.7 1.7 0 1 0 3.4 0a1.7 1.7 0 1 0 -3.4 0M230.7 715.0a1.7 1.7 0 1 0 3.4 0a1.7 1.7 0 1 0 -3.4 0M230.7 720.0a1.7 1.7 0 1 0 3.4 0a1.7 1.7 0 1 0 -3.4 0M232.2 733.3a1.7 1.7 0 1 0 3.4 0a1.7 1.7 0 1 0 -3.4 0M233.2 732.6a1.7 1.7 0 1 0 3.4 0a1.7 1.7 0 1 0 -3.4 0M232.3 718.6a1.7 1.7 0 1 0 3.4 0a1.7 1.7 0 1 0 -3.4 0M233.4 727.1a1.7 1.7 0 1 0 3.4 0a1.7 1.7 0 1 0 -3.4 0M234.8 718.7a1.7 1.7 0 1 0 3.4 0a1.7 1.7 0 1 0 -3.4 0M236.0 732.0a1.7 1.7 0 1 0 3.4 0a1.7 1.7 0 1 0 -3.4 0M237.1 724.4a1.7 1.7 0 1 0 3.4 0a1.7 1.7 0 1 0 -3.4 0M237.3 716.4a1.7 1.7 0 1 0 3.4 0a1.7 1.7 0 1 0 -3.4 0M237.6 730.2a1.7 1.7 0 1 0 3.4 0a1.7 1.7 0 1 0 -3.4 0M238.6 732.8a1.7 1.7 0 1 0 3.4 0a1.7 1.7 0 1 0 -3.4 0M239.7 724.8a1.7 1.7 0 1 0 3.4 0a1.7 1.7 0 1 0 -3.4 0M239.8 715.7a1.7 1.7 0 1 0 3.4 0a1.7 1.7 0 1 0 -3.4 0M241.3 733.1a1.7 1.7 0 1 0 3.4 0a1.7 1.7 0 1 0 -3.4 0M241.4 716.9a1.7 1.7 0 1 0 3.4 0a1.7 1.7 0 1 0 -3.4 0M242.0 730.1a1.7 1.7 0 1 0 3.4 0a1.7 1.7 0 1 0 -3.4 0M242.8 731.3a1.7 1.7 0 1 0 3.4 0a1.7 1.7 0 1 0 -3.4 0M242.8 720.4a1.7 1.7 0 1 0 3.4 0a1.7 1.7 0 1 0 -3.4 0M243.8 719.3a1.7 1.7 0 1 0 3.4 0a1.7 1.7 0 1 0 -3.4 0M244.6 727.6a1.7 1.7 0 1 0 3.4 0a1.7 1.7 0 1 0 -3.4 0M245.8 729.4a1.7 1.7 0 1 0 3.4 0a1.7 1.7 0 1 0 -3.4 0M245.7 719.8a1.7 1.7 0 1 0 3.4 0a1.7 1.7 0 1 0 -3.4 0M246.5 723.5a1.7 1.7 0 1 0 3.4 0a1.7 1.7 0 1 0 -3.4 0M247.8 730.8a1.7 1.7 0 1 0 3.4 0a1.7 1.7 0 1 0 -3.4 0M247.9 726.3a1.7 1.7 0 1 0 3.4 0a1.7 1.7 0 1 0 -3.4 0M248.9 729.8a1.7 1.7 0 1 0 3.4 0a1.7 1.7 0 1 0 -3.4 0M248.5 719.9a1.7 1.7 0 1 0 3.4 0a1.7 1.7 0 1 0 -3.4 0M250.0 732.7a1.7 1.7 0 1 0 3.4 0a1.7 1.7 0 1 0 -3.4 0M249.9 719.9a1.7 1.7 0 1 0 3.4 0a1.7 1.7 0 1 0 -3.4 0M250.4 733.3a1.7 1.7 0 1 0 3.4 0a1.7 1.7 0 1 0 -3.4 0M251.7 726.9a1.7 1.7 0 1 0 3.4 0a1.7 1.7 0 1 0 -3.4 0M251.8 731.6a1.7 1.7 0 1 0 3.4 0a1.7 1.7 0 1 0 -3.4 0M253.0 732.6a1.7 1.7 0 1 0 3.4 0a1.7 1.7 0 1 0 -3.4 0M253.3 720.6a1.7 1.7 0 1 0 3.4 0a1.7 1.7 0 1 0 -3.4 0M253.8 727.9a1.7 1.7 0 1 0 3.4 0a1.7 1.7 0 1 0 -3.4 0M254.9 729.3a1.7 1.7 0 1 0 3.4 0a1.7 1.7 0 1 0 -3.4 0M255.8 733.3a1.7 1.7 0 1 0 3.4 0a1.7 1.7 0 1 0 -3.4 0M256.9 729.0a1.7 1.7 0 1 0 3.4 0a1.7 1.7 0 1 0 -3.4 0M257.3 725.6a1.7 1.7 0 1 0 3.4 0a1.7 1.7 0 1 0 -3.4 0M258.1 717.8a1.7 1.7 0 1 0 3.4 0a1.7 1.7 0 1 0 -3.4 0M259.1 730.9a1.7 1.7 0 1 0 3.4 0a1.7 1.7 0 1 0 -3.4 0M258.8 733.1a1.7 1.7 0 1 0 3.4 0a1.7 1.7 0 1 0 -3.4 0M260.5 730.2a1.7 1.7 0 1 0 3.4 0a1.7 1.7 0 1 0 -3.4 0M261.5 727.7a1.7 1.7 0 1 0 3.4 0a1.7 1.7 0 1 0 -3.4 0M262.5 714.5a1.7 1.7 0 1 0 3.4 0a1.7 1.7 0 1 0 -3.4 0M263.0 732.6a1.7 1.7 0 1 0 3.4 0a1.7 1.7 0 1 0 -3.4 0M264.6 730.9a1.7 1.7 0 1 0 3.4 0a1.7 1.7 0 1 0 -3.4 0M264.3 717.9a1.7 1.7 0 1 0 3.4 0a1.7 1.7 0 1 0 -3.4 0M266.3 733.3a1.7 1.7 0 1 0 3.4 0a1.7 1.7 0 1 0 -3.4 0M266.8 720.4a1.7 1.7 0 1 0 3.4 0a1.7 1.7 0 1 0 -3.4 0M266.8 724.7a1.7 1.7 0 1 0 3.4 0a1.7 1.7 0 1 0 -3.4 0M268.5 726.6a1.7 1.7 0 1 0 3.4 0a1.7 1.7 0 1 0 -3.4 0M268.8 727.6a1.7 1.7 0 1 0 3.4 0a1.7 1.7 0 1 0 -3.4 0M270.2 730.7a1.7 1.7 0 1 0 3.4 0a1.7 1.7 0 1 0 -3.4 0M270.9 731.9a1.7 1.7 0 1 0 3.4 0a1.7 1.7 0 1 0 -3.4 0M272.0 715.8a1.7 1.7 0 1 0 3.4 0a1.7 1.7 0 1 0 -3.4 0M272.7 733.3a1.7 1.7 0 1 0 3.4 0a1.7 1.7 0 1 0 -3.4 0M273.2 731.7a1.7 1.7 0 1 0 3.4 0a1.7 1.7 0 1 0 -3.4 0M273.6 719.6a1.7 1.7 0 1 0 3.4 0a1.7 1.7 0 1 0 -3.4 0M275.7 730.2a1.7 1.7 0 1 0 3.4 0a1.7 1.7 0 1 0 -3.4 0M275.6 717.9a1.7 1.7 0 1 0 3.4 0a1.7 1.7 0 1 0 -3.4 0M277.2 733.2a1.7 1.7 0 1 0 3.4 0a1.7 1.7 0 1 0 -3.4 0M276.4 731.5a1.7 1.7 0 1 0 3.4 0a1.7 1.7 0 1 0 -3.4 0M278.0 730.0a1.7 1.7 0 1 0 3.4 0a1.7 1.7 0 1 0 -3.4 0M278.6 730.5a1.7 1.7 0 1 0 3.4 0a1.7 1.7 0 1 0 -3.4 0M278.7 729.3a1.7 1.7 0 1 0 3.4 0a1.7 1.7 0 1 0 -3.4 0M280.0 724.8a1.7 1.7 0 1 0 3.4 0a1.7 1.7 0 1 0 -3.4 0M279.8 719.2a1.7 1.7 0 1 0 3.4 0a1.7 1.7 0 1 0 -3.4 0M281.2 727.3a1.7 1.7 0 1 0 3.4 0a1.7 1.7 0 1 0 -3.4 0M281.6 719.3a1.7 1.7 0 1 0 3.4 0a1.7 1.7 0 1 0 -3.4 0M282.0 715.5a1.7 1.7 0 1 0 3.4 0a1.7 1.7 0 1 0 -3.4 0M283.1 727.0a1.7 1.7 0 1 0 3.4 0a1.7 1.7 0 1 0 -3.4 0M284.1 731.5a1.7 1.7 0 1 0 3.4 0a1.7 1.7 0 1 0 -3.4 0M283.4 733.3a1.7 1.7 0 1 0 3.4 0a1.7 1.7 0 1 0 -3.4 0M284.9 722.6a1.7 1.7 0 1 0 3.4 0a1.7 1.7 0 1 0 -3.4 0M285.0 722.1a1.7 1.7 0 1 0 3.4 0a1.7 1.7 0 1 0 -3.4 0M285.5 730.5a1.7 1.7 0 1 0 3.4 0a1.7 1.7 0 1 0 -3.4 0M286.6 732.9a1.7 1.7 0 1 0 3.4 0a1.7 1.7 0 1 0 -3.4 0M287.9 733.0a1.7 1.7 0 1 0 3.4 0a1.7 1.7 0 1 0 -3.4 0M288.7 715.4a1.7 1.7 0 1 0 3.4 0a1.7 1.7 0 1 0 -3.4 0M289.0 720.9a1.7 1.7 0 1 0 3.4 0a1.7 1.7 0 1 0 -3.4 0M290.0 714.4a1.7 1.7 0 1 0 3.4 0a1.7 1.7 0 1 0 -3.4 0M290.2 728.4a1.7 1.7 0 1 0 3.4 0a1.7 1.7 0 1 0 -3.4 0M291.1 717.8a1.7 1.7 0 1 0 3.4 0a1.7 1.7 0 1 0 -3.4 0M292.2 731.8a1.7 1.7 0 1 0 3.4 0a1.7 1.7 0 1 0 -3.4 0M292.2 729.2a1.7 1.7 0 1 0 3.4 0a1.7 1.7 0 1 0 -3.4 0M292.8 732.4a1.7 1.7 0 1 0 3.4 0a1.7 1.7 0 1 0 -3.4 0M293.5 718.7a1.7 1.7 0 1 0 3.4 0a1.7 1.7 0 1 0 -3.4 0M295.0 728.8a1.7 1.7 0 1 0 3.4 0a1.7 1.7 0 1 0 -3.4 0M295.6 718.3a1.7 1.7 0 1 0 3.4 0a1.7 1.7 0 1 0 -3.4 0M296.0 730.9a1.7 1.7 0 1 0 3.4 0a1.7 1.7 0 1 0 -3.4 0M296.9 732.0a1.7 1.7 0 1 0 3.4 0a1.7 1.7 0 1 0 -3.4 0M297.6 728.6a1.7 1.7 0 1 0 3.4 0a1.7 1.7 0 1 0 -3.4 0M299.5 718.9a1.7 1.7 0 1 0 3.4 0a1.7 1.7 0 1 0 -3.4 0M299.7 730.0a1.7 1.7 0 1 0 3.4 0a1.7 1.7 0 1 0 -3.4 0M300.4 727.8a1.7 1.7 0 1 0 3.4 0a1.7 1.7 0 1 0 -3.4 0M301.8 724.9a1.7 1.7 0 1 0 3.4 0a1.7 1.7 0 1 0 -3.4 0M302.0 714.9a1.7 1.7 0 1 0 3.4 0a1.7 1.7 0 1 0 -3.4 0M302.5 717.4a1.7 1.7 0 1 0 3.4 0a1.7 1.7 0 1 0 -3.4 0M303.2 723.8a1.7 1.7 0 1 0 3.4 0a1.7 1.7 0 1 0 -3.4 0M303.9 732.6a1.7 1.7 0 1 0 3.4 0a1.7 1.7 0 1 0 -3.4 0M303.6 729.6a1.7 1.7 0 1 0 3.4 0a1.7 1.7 0 1 0 -3.4 0M304.5 732.8a1.7 1.7 0 1 0 3.4 0a1.7 1.7 0 1 0 -3.4 0M307.0 726.7a1.7 1.7 0 1 0 3.4 0a1.7 1.7 0 1 0 -3.4 0M308.2 732.2a1.7 1.7 0 1 0 3.4 0a1.7 1.7 0 1 0 -3.4 0M307.8 727.4a1.7 1.7 0 1 0 3.4 0a1.7 1.7 0 1 0 -3.4 0M308.7 725.7a1.7 1.7 0 1 0 3.4 0a1.7 1.7 0 1 0 -3.4 0M309.3 730.4a1.7 1.7 0 1 0 3.4 0a1.7 1.7 0 1 0 -3.4 0M310.9 729.4a1.7 1.7 0 1 0 3.4 0a1.7 1.7 0 1 0 -3.4 0M311.5 720.2a1.7 1.7 0 1 0 3.4 0a1.7 1.7 0 1 0 -3.4 0M313.1 726.4a1.7 1.7 0 1 0 3.4 0a1.7 1.7 0 1 0 -3.4 0M313.7 719.0a1.7 1.7 0 1 0 3.4 0a1.7 1.7 0 1 0 -3.4 0M314.3 730.6a1.7 1.7 0 1 0 3.4 0a1.7 1.7 0 1 0 -3.4 0M314.5 724.8a1.7 1.7 0 1 0 3.4 0a1.7 1.7 0 1 0 -3.4 0M316.0 714.9a1.7 1.7 0 1 0 3.4 0a1.7 1.7 0 1 0 -3.4 0M316.1 729.1a1.7 1.7 0 1 0 3.4 0a1.7 1.7 0 1 0 -3.4 0M317.3 727.3a1.7 1.7 0 1 0 3.4 0a1.7 1.7 0 1 0 -3.4 0M316.5 718.4a1.7 1.7 0 1 0 3.4 0a1.7 1.7 0 1 0 -3.4 0M317.5 731.0a1.7 1.7 0 1 0 3.4 0a1.7 1.7 0 1 0 -3.4 0M318.6 727.5a1.7 1.7 0 1 0 3.4 0a1.7 1.7 0 1 0 -3.4 0M319.6 731.1a1.7 1.7 0 1 0 3.4 0a1.7 1.7 0 1 0 -3.4 0M319.5 732.2a1.7 1.7 0 1 0 3.4 0a1.7 1.7 0 1 0 -3.4 0M321.3 716.3a1.7 1.7 0 1 0 3.4 0a1.7 1.7 0 1 0 -3.4 0M321.6 715.4a1.7 1.7 0 1 0 3.4 0a1.7 1.7 0 1 0 -3.4 0M325.7 723.1a1.7 1.7 0 1 0 3.4 0a1.7 1.7 0 1 0 -3.4 0M326.7 723.1a1.7 1.7 0 1 0 3.4 0a1.7 1.7 0 1 0 -3.4 0M326.6 728.4a1.7 1.7 0 1 0 3.4 0a1.7 1.7 0 1 0 -3.4 0M327.7 732.3a1.7 1.7 0 1 0 3.4 0a1.7 1.7 0 1 0 -3.4 0M329.1 733.3a1.7 1.7 0 1 0 3.4 0a1.7 1.7 0 1 0 -3.4 0M328.8 719.8a1.7 1.7 0 1 0 3.4 0a1.7 1.7 0 1 0 -3.4 0M330.0 731.3a1.7 1.7 0 1 0 3.4 0a1.7 1.7 0 1 0 -3.4 0M329.8 721.5a1.7 1.7 0 1 0 3.4 0a1.7 1.7 0 1 0 -3.4 0M330.5 719.7a1.7 1.7 0 1 0 3.4 0a1.7 1.7 0 1 0 -3.4 0M331.6 725.7a1.7 1.7 0 1 0 3.4 0a1.7 1.7 0 1 0 -3.4 0M332.3 723.2a1.7 1.7 0 1 0 3.4 0a1.7 1.7 0 1 0 -3.4 0M332.8 730.6a1.7 1.7 0 1 0 3.4 0a1.7 1.7 0 1 0 -3.4 0M333.9 733.2a1.7 1.7 0 1 0 3.4 0a1.7 1.7 0 1 0 -3.4 0M334.4 718.6a1.7 1.7 0 1 0 3.4 0a1.7 1.7 0 1 0 -3.4 0M335.7 720.7a1.7 1.7 0 1 0 3.4 0a1.7 1.7 0 1 0 -3.4 0M337.0 730.0a1.7 1.7 0 1 0 3.4 0a1.7 1.7 0 1 0 -3.4 0M337.6 726.8a1.7 1.7 0 1 0 3.4 0a1.7 1.7 0 1 0 -3.4 0M338.5 728.8a1.7 1.7 0 1 0 3.4 0a1.7 1.7 0 1 0 -3.4 0M341.2 730.8a1.7 1.7 0 1 0 3.4 0a1.7 1.7 0 1 0 -3.4 0M341.4 727.3a1.7 1.7 0 1 0 3.4 0a1.7 1.7 0 1 0 -3.4 0M342.8 733.1a1.7 1.7 0 1 0 3.4 0a1.7 1.7 0 1 0 -3.4 0M343.1 726.5a1.7 1.7 0 1 0 3.4 0a1.7 1.7 0 1 0 -3.4 0M343.7 719.6a1.7 1.7 0 1 0 3.4 0a1.7 1.7 0 1 0 -3.4 0M345.0 731.1a1.7 1.7 0 1 0 3.4 0a1.7 1.7 0 1 0 -3.4 0M348.3 731.2a1.7 1.7 0 1 0 3.4 0a1.7 1.7 0 1 0 -3.4 0M349.2 725.7a1.7 1.7 0 1 0 3.4 0a1.7 1.7 0 1 0 -3.4 0M350.0 730.2a1.7 1.7 0 1 0 3.4 0a1.7 1.7 0 1 0 -3.4 0M350.8 717.0a1.7 1.7 0 1 0 3.4 0a1.7 1.7 0 1 0 -3.4 0M351.1 721.9a1.7 1.7 0 1 0 3.4 0a1.7 1.7 0 1 0 -3.4 0M351.8 729.8a1.7 1.7 0 1 0 3.4 0a1.7 1.7 0 1 0 -3.4 0M352.7 731.2a1.7 1.7 0 1 0 3.4 0a1.7 1.7 0 1 0 -3.4 0M353.7 725.0a1.7 1.7 0 1 0 3.4 0a1.7 1.7 0 1 0 -3.4 0M354.0 724.3a1.7 1.7 0 1 0 3.4 0a1.7 1.7 0 1 0 -3.4 0M354.4 719.3a1.7 1.7 0 1 0 3.4 0a1.7 1.7 0 1 0 -3.4 0M354.9 733.3a1.7 1.7 0 1 0 3.4 0a1.7 1.7 0 1 0 -3.4 0M356.2 727.1a1.7 1.7 0 1 0 3.4 0a1.7 1.7 0 1 0 -3.4 0M356.8 723.5a1.7 1.7 0 1 0 3.4 0a1.7 1.7 0 1 0 -3.4 0M357.4 725.4a1.7 1.7 0 1 0 3.4 0a1.7 1.7 0 1 0 -3.4 0M358.7 715.5a1.7 1.7 0 1 0 3.4 0a1.7 1.7 0 1 0 -3.4 0M359.0 714.8a1.7 1.7 0 1 0 3.4 0a1.7 1.7 0 1 0 -3.4 0M359.5 727.7a1.7 1.7 0 1 0 3.4 0a1.7 1.7 0 1 0 -3.4 0M361.6 720.4a1.7 1.7 0 1 0 3.4 0a1.7 1.7 0 1 0 -3.4 0M362.0 716.0a1.7 1.7 0 1 0 3.4 0a1.7 1.7 0 1 0 -3.4 0M362.4 720.4a1.7 1.7 0 1 0 3.4 0a1.7 1.7 0 1 0 -3.4 0M364.2 726.3a1.7 1.7 0 1 0 3.4 0a1.7 1.7 0 1 0 -3.4 0M365.0 732.7a1.7 1.7 0 1 0 3.4 0a1.7 1.7 0 1 0 -3.4 0M364.8 728.8a1.7 1.7 0 1 0 3.4 0a1.7 1.7 0 1 0 -3.4 0M367.1 720.5a1.7 1.7 0 1 0 3.4 0a1.7 1.7 0 1 0 -3.4 0M367.7 721.1a1.7 1.7 0 1 0 3.4 0a1.7 1.7 0 1 0 -3.4 0M368.0 733.3a1.7 1.7 0 1 0 3.4 0a1.7 1.7 0 1 0 -3.4 0M369.9 715.6a1.7 1.7 0 1 0 3.4 0a1.7 1.7 0 1 0 -3.4 0M371.2 733.3a1.7 1.7 0 1 0 3.4 0a1.7 1.7 0 1 0 -3.4 0M371.6 719.1a1.7 1.7 0 1 0 3.4 0a1.7 1.7 0 1 0 -3.4 0M373.6 717.8a1.7 1.7 0 1 0 3.4 0a1.7 1.7 0 1 0 -3.4 0M374.1 729.5a1.7 1.7 0 1 0 3.4 0a1.7 1.7 0 1 0 -3.4 0M374.6 715.4a1.7 1.7 0 1 0 3.4 0a1.7 1.7 0 1 0 -3.4 0M376.3 732.5a1.7 1.7 0 1 0 3.4 0a1.7 1.7 0 1 0 -3.4 0M377.8 733.2a1.7 1.7 0 1 0 3.4 0a1.7 1.7 0 1 0 -3.4 0M381.2 728.2a1.7 1.7 0 1 0 3.4 0a1.7 1.7 0 1 0 -3.4 0M382.4 719.4a1.7 1.7 0 1 0 3.4 0a1.7 1.7 0 1 0 -3.4 0M383.2 722.4a1.7 1.7 0 1 0 3.4 0a1.7 1.7 0 1 0 -3.4 0M384.3 727.5a1.7 1.7 0 1 0 3.4 0a1.7 1.7 0 1 0 -3.4 0M384.3 717.3a1.7 1.7 0 1 0 3.4 0a1.7 1.7 0 1 0 -3.4 0M386.0 729.9a1.7 1.7 0 1 0 3.4 0a1.7 1.7 0 1 0 -3.4 0M385.7 729.4a1.7 1.7 0 1 0 3.4 0a1.7 1.7 0 1 0 -3.4 0M387.0 729.9a1.7 1.7 0 1 0 3.4 0a1.7 1.7 0 1 0 -3.4 0M386.4 730.3a1.7 1.7 0 1 0 3.4 0a1.7 1.7 0 1 0 -3.4 0M388.2 717.7a1.7 1.7 0 1 0 3.4 0a1.7 1.7 0 1 0 -3.4 0M388.9 718.4a1.7 1.7 0 1 0 3.4 0a1.7 1.7 0 1 0 -3.4 0M390.1 723.7a1.7 1.7 0 1 0 3.4 0a1.7 1.7 0 1 0 -3.4 0M390.0 728.9a1.7 1.7 0 1 0 3.4 0a1.7 1.7 0 1 0 -3.4 0M391.2 719.3a1.7 1.7 0 1 0 3.4 0a1.7 1.7 0 1 0 -3.4 0M391.8 717.9a1.7 1.7 0 1 0 3.4 0a1.7 1.7 0 1 0 -3.4 0M392.7 732.7a1.7 1.7 0 1 0 3.4 0a1.7 1.7 0 1 0 -3.4 0M393.0 732.6a1.7 1.7 0 1 0 3.4 0a1.7 1.7 0 1 0 -3.4 0M392.9 720.4a1.7 1.7 0 1 0 3.4 0a1.7 1.7 0 1 0 -3.4 0M393.6 729.1a1.7 1.7 0 1 0 3.4 0a1.7 1.7 0 1 0 -3.4 0M393.6 720.8a1.7 1.7 0 1 0 3.4 0a1.7 1.7 0 1 0 -3.4 0M394.5 731.7a1.7 1.7 0 1 0 3.4 0a1.7 1.7 0 1 0 -3.4 0M395.1 729.3a1.7 1.7 0 1 0 3.4 0a1.7 1.7 0 1 0 -3.4 0M396.0 719.2a1.7 1.7 0 1 0 3.4 0a1.7 1.7 0 1 0 -3.4 0M397.0 716.1a1.7 1.7 0 1 0 3.4 0a1.7 1.7 0 1 0 -3.4 0M397.8 729.4a1.7 1.7 0 1 0 3.4 0a1.7 1.7 0 1 0 -3.4 0M399.1 723.1a1.7 1.7 0 1 0 3.4 0a1.7 1.7 0 1 0 -3.4 0M398.9 720.2a1.7 1.7 0 1 0 3.4 0a1.7 1.7 0 1 0 -3.4 0M399.5 717.8a1.7 1.7 0 1 0 3.4 0a1.7 1.7 0 1 0 -3.4 0M399.9 730.1a1.7 1.7 0 1 0 3.4 0a1.7 1.7 0 1 0 -3.4 0M400.6 732.5a1.7 1.7 0 1 0 3.4 0a1.7 1.7 0 1 0 -3.4 0M400.4 733.3a1.7 1.7 0 1 0 3.4 0a1.7 1.7 0 1 0 -3.4 0M401.3 732.4a1.7 1.7 0 1 0 3.4 0a1.7 1.7 0 1 0 -3.4 0M403.7 718.0a1.7 1.7 0 1 0 3.4 0a1.7 1.7 0 1 0 -3.4 0M404.0 730.5a1.7 1.7 0 1 0 3.4 0a1.7 1.7 0 1 0 -3.4 0M404.9 717.9a1.7 1.7 0 1 0 3.4 0a1.7 1.7 0 1 0 -3.4 0M406.1 728.4a1.7 1.7 0 1 0 3.4 0a1.7 1.7 0 1 0 -3.4 0M408.1 733.0a1.7 1.7 0 1 0 3.4 0a1.7 1.7 0 1 0 -3.4 0M408.7 726.0a1.7 1.7 0 1 0 3.4 0a1.7 1.7 0 1 0 -3.4 0M409.9 715.1a1.7 1.7 0 1 0 3.4 0a1.7 1.7 0 1 0 -3.4 0M410.9 731.2a1.7 1.7 0 1 0 3.4 0a1.7 1.7 0 1 0 -3.4 0M413.2 733.2a1.7 1.7 0 1 0 3.4 0a1.7 1.7 0 1 0 -3.4 0M413.9 731.6a1.7 1.7 0 1 0 3.4 0a1.7 1.7 0 1 0 -3.4 0M413.9 728.0a1.7 1.7 0 1 0 3.4 0a1.7 1.7 0 1 0 -3.4 0M416.1 728.1a1.7 1.7 0 1 0 3.4 0a1.7 1.7 0 1 0 -3.4 0M416.5 730.4a1.7 1.7 0 1 0 3.4 0a1.7 1.7 0 1 0 -3.4 0M417.3 721.1a1.7 1.7 0 1 0 3.4 0a1.7 1.7 0 1 0 -3.4 0M418.1 726.3a1.7 1.7 0 1 0 3.4 0a1.7 1.7 0 1 0 -3.4 0M417.6 719.4a1.7 1.7 0 1 0 3.4 0a1.7 1.7 0 1 0 -3.4 0M418.6 726.1a1.7 1.7 0 1 0 3.4 0a1.7 1.7 0 1 0 -3.4 0M419.6 722.5a1.7 1.7 0 1 0 3.4 0a1.7 1.7 0 1 0 -3.4 0M421.0 727.0a1.7 1.7 0 1 0 3.4 0a1.7 1.7 0 1 0 -3.4 0M423.9 716.7a1.7 1.7 0 1 0 3.4 0a1.7 1.7 0 1 0 -3.4 0M424.5 719.3a1.7 1.7 0 1 0 3.4 0a1.7 1.7 0 1 0 -3.4 0M425.7 725.8a1.7 1.7 0 1 0 3.4 0a1.7 1.7 0 1 0 -3.4 0M425.5 732.6a1.7 1.7 0 1 0 3.4 0a1.7 1.7 0 1 0 -3.4 0M427.0 722.8a1.7 1.7 0 1 0 3.4 0a1.7 1.7 0 1 0 -3.4 0M427.2 730.8a1.7 1.7 0 1 0 3.4 0a1.7 1.7 0 1 0 -3.4 0M428.0 721.2a1.7 1.7 0 1 0 3.4 0a1.7 1.7 0 1 0 -3.4 0M429.0 724.8a1.7 1.7 0 1 0 3.4 0a1.7 1.7 0 1 0 -3.4 0M430.4 719.9a1.7 1.7 0 1 0 3.4 0a1.7 1.7 0 1 0 -3.4 0M432.0 733.2a1.7 1.7 0 1 0 3.4 0a1.7 1.7 0 1 0 -3.4 0M431.9 723.6a1.7 1.7 0 1 0 3.4 0a1.7 1.7 0 1 0 -3.4 0M432.6 728.6a1.7 1.7 0 1 0 3.4 0a1.7 1.7 0 1 0 -3.4 0M433.7 718.1a1.7 1.7 0 1 0 3.4 0a1.7 1.7 0 1 0 -3.4 0M435.2 721.2a1.7 1.7 0 1 0 3.4 0a1.7 1.7 0 1 0 -3.4 0M435.5 731.4a1.7 1.7 0 1 0 3.4 0a1.7 1.7 0 1 0 -3.4 0M436.7 732.9a1.7 1.7 0 1 0 3.4 0a1.7 1.7 0 1 0 -3.4 0M437.9 727.9a1.7 1.7 0 1 0 3.4 0a1.7 1.7 0 1 0 -3.4 0M73.2 733.3a1.7 1.7 0 1 0 3.4 0a1.7 1.7 0 1 0 -3.4 0M74.0 725.5a1.7 1.7 0 1 0 3.4 0a1.7 1.7 0 1 0 -3.4 0M73.9 728.6a1.7 1.7 0 1 0 3.4 0a1.7 1.7 0 1 0 -3.4 0M74.7 720.3a1.7 1.7 0 1 0 3.4 0a1.7 1.7 0 1 0 -3.4 0M74.6 724.9a1.7 1.7 0 1 0 3.4 0a1.7 1.7 0 1 0 -3.4 0M75.6 729.4a1.7 1.7 0 1 0 3.4 0a1.7 1.7 0 1 0 -3.4 0M75.8 714.6a1.7 1.7 0 1 0 3.4 0a1.7 1.7 0 1 0 -3.4 0M76.8 731.1a1.7 1.7 0 1 0 3.4 0a1.7 1.7 0 1 0 -3.4 0M76.6 729.0a1.7 1.7 0 1 0 3.4 0a1.7 1.7 0 1 0 -3.4 0M77.8 731.6a1.7 1.7 0 1 0 3.4 0a1.7 1.7 0 1 0 -3.4 0M79.0 722.7a1.7 1.7 0 1 0 3.4 0a1.7 1.7 0 1 0 -3.4 0M79.4 732.6a1.7 1.7 0 1 0 3.4 0a1.7 1.7 0 1 0 -3.4 0M80.0 724.2a1.7 1.7 0 1 0 3.4 0a1.7 1.7 0 1 0 -3.4 0M80.4 718.6a1.7 1.7 0 1 0 3.4 0a1.7 1.7 0 1 0 -3.4 0M82.2 716.6a1.7 1.7 0 1 0 3.4 0a1.7 1.7 0 1 0 -3.4 0M83.2 732.7a1.7 1.7 0 1 0 3.4 0a1.7 1.7 0 1 0 -3.4 0M84.1 732.3a1.7 1.7 0 1 0 3.4 0a1.7 1.7 0 1 0 -3.4 0M84.3 714.7a1.7 1.7 0 1 0 3.4 0a1.7 1.7 0 1 0 -3.4 0M84.4 722.1a1.7 1.7 0 1 0 3.4 0a1.7 1.7 0 1 0 -3.4 0M86.0 725.5a1.7 1.7 0 1 0 3.4 0a1.7 1.7 0 1 0 -3.4 0M87.0 716.5a1.7 1.7 0 1 0 3.4 0a1.7 1.7 0 1 0 -3.4 0M86.4 724.1a1.7 1.7 0 1 0 3.4 0a1.7 1.7 0 1 0 -3.4 0M87.4 732.8a1.7 1.7 0 1 0 3.4 0a1.7 1.7 0 1 0 -3.4 0M88.1 730.6a1.7 1.7 0 1 0 3.4 0a1.7 1.7 0 1 0 -3.4 0M88.8 716.2a1.7 1.7 0 1 0 3.4 0a1.7 1.7 0 1 0 -3.4 0M89.0 718.2a1.7 1.7 0 1 0 3.4 0a1.7 1.7 0 1 0 -3.4 0M89.5 725.3a1.7 1.7 0 1 0 3.4 0a1.7 1.7 0 1 0 -3.4 0M90.4 729.5a1.7 1.7 0 1 0 3.4 0a1.7 1.7 0 1 0 -3.4 0M91.9 723.7a1.7 1.7 0 1 0 3.4 0a1.7 1.7 0 1 0 -3.4 0M91.5 732.5a1.7 1.7 0 1 0 3.4 0a1.7 1.7 0 1 0 -3.4 0M93.2 721.4a1.7 1.7 0 1 0 3.4 0a1.7 1.7 0 1 0 -3.4 0M92.6 722.6a1.7 1.7 0 1 0 3.4 0a1.7 1.7 0 1 0 -3.4 0M93.7 727.1a1.7 1.7 0 1 0 3.4 0a1.7 1.7 0 1 0 -3.4 0M94.3 718.4a1.7 1.7 0 1 0 3.4 0a1.7 1.7 0 1 0 -3.4 0M94.5 723.7a1.7 1.7 0 1 0 3.4 0a1.7 1.7 0 1 0 -3.4 0M95.1 720.4a1.7 1.7 0 1 0 3.4 0a1.7 1.7 0 1 0 -3.4 0M95.7 717.2a1.7 1.7 0 1 0 3.4 0a1.7 1.7 0 1 0 -3.4 0M95.7 723.1a1.7 1.7 0 1 0 3.4 0a1.7 1.7 0 1 0 -3.4 0M97.1 716.7a1.7 1.7 0 1 0 3.4 0a1.7 1.7 0 1 0 -3.4 0M96.4 723.3a1.7 1.7 0 1 0 3.4 0a1.7 1.7 0 1 0 -3.4 0M97.6 715.3a1.7 1.7 0 1 0 3.4 0a1.7 1.7 0 1 0 -3.4 0M97.3 714.9a1.7 1.7 0 1 0 3.4 0a1.7 1.7 0 1 0 -3.4 0M99.1 719.1a1.7 1.7 0 1 0 3.4 0a1.7 1.7 0 1 0 -3.4 0M98.8 722.9a1.7 1.7 0 1 0 3.4 0a1.7 1.7 0 1 0 -3.4 0M100.3 724.5a1.7 1.7 0 1 0 3.4 0a1.7 1.7 0 1 0 -3.4 0M100.7 722.3a1.7 1.7 0 1 0 3.4 0a1.7 1.7 0 1 0 -3.4 0M102.0 723.6a1.7 1.7 0 1 0 3.4 0a1.7 1.7 0 1 0 -3.4 0M103.2 727.4a1.7 1.7 0 1 0 3.4 0a1.7 1.7 0 1 0 -3.4 0M103.9 720.8a1.7 1.7 0 1 0 3.4 0a1.7 1.7 0 1 0 -3.4 0M103.7 721.3a1.7 1.7 0 1 0 3.4 0a1.7 1.7 0 1 0 -3.4 0M104.6 727.8a1.7 1.7 0 1 0 3.4 0a1.7 1.7 0 1 0 -3.4 0M105.0 732.4a1.7 1.7 0 1 0 3.4 0a1.7 1.7 0 1 0 -3.4 0M105.4 718.3a1.7 1.7 0 1 0 3.4 0a1.7 1.7 0 1 0 -3.4 0M105.5 729.6a1.7 1.7 0 1 0 3.4 0a1.7 1.7 0 1 0 -3.4 0M106.3 724.0a1.7 1.7 0 1 0 3.4 0a1.7 1.7 0 1 0 -3.4 0M107.2 729.7a1.7 1.7 0 1 0 3.4 0a1.7 1.7 0 1 0 -3.4 0M107.9 733.2a1.7 1.7 0 1 0 3.4 0a1.7 1.7 0 1 0 -3.4 0M107.6 718.5a1.7 1.7 0 1 0 3.4 0a1.7 1.7 0 1 0 -3.4 0M109.0 720.2a1.7 1.7 0 1 0 3.4 0a1.7 1.7 0 1 0 -3.4 0M109.3 729.2a1.7 1.7 0 1 0 3.4 0a1.7 1.7 0 1 0 -3.4 0M109.8 720.7a1.7 1.7 0 1 0 3.4 0a1.7 1.7 0 1 0 -3.4 0M111.1 732.5a1.7 1.7 0 1 0 3.4 0a1.7 1.7 0 1 0 -3.4 0M111.6 732.9a1.7 1.7 0 1 0 3.4 0a1.7 1.7 0 1 0 -3.4 0M111.8 716.4a1.7 1.7 0 1 0 3.4 0a1.7 1.7 0 1 0 -3.4 0M113.2 725.8a1.7 1.7 0 1 0 3.4 0a1.7 1.7 0 1 0 -3.4 0M113.9 731.0a1.7 1.7 0 1 0 3.4 0a1.7 1.7 0 1 0 -3.4 0M113.8 719.7a1.7 1.7 0 1 0 3.4 0a1.7 1.7 0 1 0 -3.4 0M114.5 731.8a1.7 1.7 0 1 0 3.4 0a1.7 1.7 0 1 0 -3.4 0M115.2 726.1a1.7 1.7 0 1 0 3.4 0a1.7 1.7 0 1 0 -3.4 0M115.4 724.1a1.7 1.7 0 1 0 3.4 0a1.7 1.7 0 1 0 -3.4 0M115.8 725.9a1.7 1.7 0 1 0 3.4 0a1.7 1.7 0 1 0 -3.4 0M116.3 729.8a1.7 1.7 0 1 0 3.4 0a1.7 1.7 0 1 0 -3.4 0M116.3 724.8a1.7 1.7 0 1 0 3.4 0a1.7 1.7 0 1 0 -3.4 0M118.1 729.9a1.7 1.7 0 1 0 3.4 0a1.7 1.7 0 1 0 -3.4 0M117.8 728.9a1.7 1.7 0 1 0 3.4 0a1.7 1.7 0 1 0 -3.4 0M119.0 723.7a1.7 1.7 0 1 0 3.4 0a1.7 1.7 0 1 0 -3.4 0M119.2 721.0a1.7 1.7 0 1 0 3.4 0a1.7 1.7 0 1 0 -3.4 0M120.1 731.5a1.7 1.7 0 1 0 3.4 0a1.7 1.7 0 1 0 -3.4 0M119.9 725.2a1.7 1.7 0 1 0 3.4 0a1.7 1.7 0 1 0 -3.4 0M120.8 725.7a1.7 1.7 0 1 0 3.4 0a1.7 1.7 0 1 0 -3.4 0M120.4 732.4a1.7 1.7 0 1 0 3.4 0a1.7 1.7 0 1 0 -3.4 0M121.6 723.5a1.7 1.7 0 1 0 3.4 0a1.7 1.7 0 1 0 -3.4 0M121.7 727.8a1.7 1.7 0 1 0 3.4 0a1.7 1.7 0 1 0 -3.4 0M122.5 723.7a1.7 1.7 0 1 0 3.4 0a1.7 1.7 0 1 0 -3.4 0M123.0 726.8a1.7 1.7 0 1 0 3.4 0a1.7 1.7 0 1 0 -3.4 0M123.8 731.8a1.7 1.7 0 1 0 3.4 0a1.7 1.7 0 1 0 -3.4 0M123.9 717.6a1.7 1.7 0 1 0 3.4 0a1.7 1.7 0 1 0 -3.4 0M124.6 721.4a1.7 1.7 0 1 0 3.4 0a1.7 1.7 0 1 0 -3.4 0M125.1 729.3a1.7 1.7 0 1 0 3.4 0a1.7 1.7 0 1 0 -3.4 0M125.5 732.0a1.7 1.7 0 1 0 3.4 0a1.7 1.7 0 1 0 -3.4 0M125.3 723.0a1.7 1.7 0 1 0 3.4 0a1.7 1.7 0 1 0 -3.4 0M127.1 725.1a1.7 1.7 0 1 0 3.4 0a1.7 1.7 0 1 0 -3.4 0M128.0 732.5a1.7 1.7 0 1 0 3.4 0a1.7 1.7 0 1 0 -3.4 0M128.1 731.3a1.7 1.7 0 1 0 3.4 0a1.7 1.7 0 1 0 -3.4 0M128.6 721.9a1.7 1.7 0 1 0 3.4 0a1.7 1.7 0 1 0 -3.4 0M128.9 733.0a1.7 1.7 0 1 0 3.4 0a1.7 1.7 0 1 0 -3.4 0M129.6 723.4a1.7 1.7 0 1 0 3.4 0a1.7 1.7 0 1 0 -3.4 0M129.6 721.4a1.7 1.7 0 1 0 3.4 0a1.7 1.7 0 1 0 -3.4 0M132.2 729.6a1.7 1.7 0 1 0 3.4 0a1.7 1.7 0 1 0 -3.4 0M131.8 720.8a1.7 1.7 0 1 0 3.4 0a1.7 1.7 0 1 0 -3.4 0M133.1 731.5a1.7 1.7 0 1 0 3.4 0a1.7 1.7 0 1 0 -3.4 0M134.2 718.2a1.7 1.7 0 1 0 3.4 0a1.7 1.7 0 1 0 -3.4 0M134.0 715.5a1.7 1.7 0 1 0 3.4 0a1.7 1.7 0 1 0 -3.4 0M135.1 724.3a1.7 1.7 0 1 0 3.4 0a1.7 1.7 0 1 0 -3.4 0M135.3 724.1a1.7 1.7 0 1 0 3.4 0a1.7 1.7 0 1 0 -3.4 0M135.9 730.4a1.7 1.7 0 1 0 3.4 0a1.7 1.7 0 1 0 -3.4 0M135.8 733.1a1.7 1.7 0 1 0 3.4 0a1.7 1.7 0 1 0 -3.4 0M136.4 728.7a1.7 1.7 0 1 0 3.4 0a1.7 1.7 0 1 0 -3.4 0M136.9 732.1a1.7 1.7 0 1 0 3.4 0a1.7 1.7 0 1 0 -3.4 0M138.3 733.3a1.7 1.7 0 1 0 3.4 0a1.7 1.7 0 1 0 -3.4 0M137.5 724.1a1.7 1.7 0 1 0 3.4 0a1.7 1.7 0 1 0 -3.4 0M138.3 725.5a1.7 1.7 0 1 0 3.4 0a1.7 1.7 0 1 0 -3.4 0M139.1 729.9a1.7 1.7 0 1 0 3.4 0a1.7 1.7 0 1 0 -3.4 0M139.3 731.5a1.7 1.7 0 1 0 3.4 0a1.7 1.7 0 1 0 -3.4 0M140.7 720.2a1.7 1.7 0 1 0 3.4 0a1.7 1.7 0 1 0 -3.4 0M140.9 733.3a1.7 1.7 0 1 0 3.4 0a1.7 1.7 0 1 0 -3.4 0M142.1 730.0a1.7 1.7 0 1 0 3.4 0a1.7 1.7 0 1 0 -3.4 0M142.7 722.6a1.7 1.7 0 1 0 3.4 0a1.7 1.7 0 1 0 -3.4 0M143.5 722.7a1.7 1.7 0 1 0 3.4 0a1.7 1.7 0 1 0 -3.4 0M143.7 732.9a1.7 1.7 0 1 0 3.4 0a1.7 1.7 0 1 0 -3.4 0M144.5 725.3a1.7 1.7 0 1 0 3.4 0a1.7 1.7 0 1 0 -3.4 0M145.2 731.3a1.7 1.7 0 1 0 3.4 0a1.7 1.7 0 1 0 -3.4 0M145.4 730.1a1.7 1.7 0 1 0 3.4 0a1.7 1.7 0 1 0 -3.4 0M146.0 731.8a1.7 1.7 0 1 0 3.4 0a1.7 1.7 0 1 0 -3.4 0M146.7 723.0a1.7 1.7 0 1 0 3.4 0a1.7 1.7 0 1 0 -3.4 0M147.0 731.8a1.7 1.7 0 1 0 3.4 0a1.7 1.7 0 1 0 -3.4 0M147.8 722.6a1.7 1.7 0 1 0 3.4 0a1.7 1.7 0 1 0 -3.4 0M148.0 716.2a1.7 1.7 0 1 0 3.4 0a1.7 1.7 0 1 0 -3.4 0M148.4 732.8a1.7 1.7 0 1 0 3.4 0a1.7 1.7 0 1 0 -3.4 0M149.6 732.3a1.7 1.7 0 1 0 3.4 0a1.7 1.7 0 1 0 -3.4 0M149.5 720.3a1.7 1.7 0 1 0 3.4 0a1.7 1.7 0 1 0 -3.4 0M151.2 725.4a1.7 1.7 0 1 0 3.4 0a1.7 1.7 0 1 0 -3.4 0M151.4 731.1a1.7 1.7 0 1 0 3.4 0a1.7 1.7 0 1 0 -3.4 0M151.4 715.6a1.7 1.7 0 1 0 3.4 0a1.7 1.7 0 1 0 -3.4 0M152.8 717.1a1.7 1.7 0 1 0 3.4 0a1.7 1.7 0 1 0 -3.4 0M152.5 730.1a1.7 1.7 0 1 0 3.4 0a1.7 1.7 0 1 0 -3.4 0M153.6 725.5a1.7 1.7 0 1 0 3.4 0a1.7 1.7 0 1 0 -3.4 0M153.6 715.5a1.7 1.7 0 1 0 3.4 0a1.7 1.7 0 1 0 -3.4 0M154.9 714.7a1.7 1.7 0 1 0 3.4 0a1.7 1.7 0 1 0 -3.4 0M154.7 725.9a1.7 1.7 0 1 0 3.4 0a1.7 1.7 0 1 0 -3.4 0M155.9 718.0a1.7 1.7 0 1 0 3.4 0a1.7 1.7 0 1 0 -3.4 0M156.2 716.4a1.7 1.7 0 1 0 3.4 0a1.7 1.7 0 1 0 -3.4 0M157.0 732.1a1.7 1.7 0 1 0 3.4 0a1.7 1.7 0 1 0 -3.4 0M156.5 726.8a1.7 1.7 0 1 0 3.4 0a1.7 1.7 0 1 0 -3.4 0M157.4 731.0a1.7 1.7 0 1 0 3.4 0a1.7 1.7 0 1 0 -3.4 0M158.1 714.7a1.7 1.7 0 1 0 3.4 0a1.7 1.7 0 1 0 -3.4 0M159.1 733.1a1.7 1.7 0 1 0 3.4 0a1.7 1.7 0 1 0 -3.4 0M159.0 726.2a1.7 1.7 0 1 0 3.4 0a1.7 1.7 0 1 0 -3.4 0M160.1 726.6a1.7 1.7 0 1 0 3.4 0a1.7 1.7 0 1 0 -3.4 0M160.8 730.8a1.7 1.7 0 1 0 3.4 0a1.7 1.7 0 1 0 -3.4 0M160.8 715.0a1.7 1.7 0 1 0 3.4 0a1.7 1.7 0 1 0 -3.4 0M161.9 726.7a1.7 1.7 0 1 0 3.4 0a1.7 1.7 0 1 0 -3.4 0M161.5 733.1a1.7 1.7 0 1 0 3.4 0a1.7 1.7 0 1 0 -3.4 0M162.9 717.6a1.7 1.7 0 1 0 3.4 0a1.7 1.7 0 1 0 -3.4 0M162.8 715.0a1.7 1.7 0 1 0 3.4 0a1.7 1.7 0 1 0 -3.4 0M164.1 730.4a1.7 1.7 0 1 0 3.4 0a1.7 1.7 0 1 0 -3.4 0M164.0 729.2a1.7 1.7 0 1 0 3.4 0a1.7 1.7 0 1 0 -3.4 0M165.3 729.2a1.7 1.7 0 1 0 3.4 0a1.7 1.7 0 1 0 -3.4 0M164.3 733.3a1.7 1.7 0 1 0 3.4 0a1.7 1.7 0 1 0 -3.4 0M166.3 722.9a1.7 1.7 0 1 0 3.4 0a1.7 1.7 0 1 0 -3.4 0M166.0 725.3a1.7 1.7 0 1 0 3.4 0a1.7 1.7 0 1 0 -3.4 0M166.8 724.9a1.7 1.7 0 1 0 3.4 0a1.7 1.7 0 1 0 -3.4 0M166.5 729.1a1.7 1.7 0 1 0 3.4 0a1.7 1.7 0 1 0 -3.4 0M167.9 731.2a1.7 1.7 0 1 0 3.4 0a1.7 1.7 0 1 0 -3.4 0M167.5 720.4a1.7 1.7 0 1 0 3.4 0a1.7 1.7 0 1 0 -3.4 0M168.7 730.4a1.7 1.7 0 1 0 3.4 0a1.7 1.7 0 1 0 -3.4 0M169.8 730.8a1.7 1.7 0 1 0 3.4 0a1.7 1.7 0 1 0 -3.4 0M170.2 715.9a1.7 1.7 0 1 0 3.4 0a1.7 1.7 0 1 0 -3.4 0M171.1 722.7a1.7 1.7 0 1 0 3.4 0a1.7 1.7 0 1 0 -3.4 0M171.6 732.5a1.7 1.7 0 1 0 3.4 0a1.7 1.7 0 1 0 -3.4 0M171.5 733.3a1.7 1.7 0 1 0 3.4 0a1.7 1.7 0 1 0 -3.4 0M172.8 731.2a1.7 1.7 0 1 0 3.4 0a1.7 1.7 0 1 0 -3.4 0M172.6 716.9a1.7 1.7 0 1 0 3.4 0a1.7 1.7 0 1 0 -3.4 0M173.8 728.8a1.7 1.7 0 1 0 3.4 0a1.7 1.7 0 1 0 -3.4 0M174.0 728.8a1.7 1.7 0 1 0 3.4 0a1.7 1.7 0 1 0 -3.4 0M174.6 724.5a1.7 1.7 0 1 0 3.4 0a1.7 1.7 0 1 0 -3.4 0M175.3 729.1a1.7 1.7 0 1 0 3.4 0a1.7 1.7 0 1 0 -3.4 0M177.2 733.0a1.7 1.7 0 1 0 3.4 0a1.7 1.7 0 1 0 -3.4 0M176.3 728.4a1.7 1.7 0 1 0 3.4 0a1.7 1.7 0 1 0 -3.4 0M177.6 728.8a1.7 1.7 0 1 0 3.4 0a1.7 1.7 0 1 0 -3.4 0M179.1 725.8a1.7 1.7 0 1 0 3.4 0a1.7 1.7 0 1 0 -3.4 0M178.8 716.0a1.7 1.7 0 1 0 3.4 0a1.7 1.7 0 1 0 -3.4 0M180.2 724.0a1.7 1.7 0 1 0 3.4 0a1.7 1.7 0 1 0 -3.4 0M180.0 714.9a1.7 1.7 0 1 0 3.4 0a1.7 1.7 0 1 0 -3.4 0M181.0 724.4a1.7 1.7 0 1 0 3.4 0a1.7 1.7 0 1 0 -3.4 0M182.2 730.9a1.7 1.7 0 1 0 3.4 0a1.7 1.7 0 1 0 -3.4 0M181.3 721.8a1.7 1.7 0 1 0 3.4 0a1.7 1.7 0 1 0 -3.4 0M183.1 733.1a1.7 1.7 0 1 0 3.4 0a1.7 1.7 0 1 0 -3.4 0M184.2 719.9a1.7 1.7 0 1 0 3.4 0a1.7 1.7 0 1 0 -3.4 0M184.0 717.5a1.7 1.7 0 1 0 3.4 0a1.7 1.7 0 1 0 -3.4 0M184.6 723.7a1.7 1.7 0 1 0 3.4 0a1.7 1.7 0 1 0 -3.4 0M186.2 726.7a1.7 1.7 0 1 0 3.4 0a1.7 1.7 0 1 0 -3.4 0M185.5 725.2a1.7 1.7 0 1 0 3.4 0a1.7 1.7 0 1 0 -3.4 0M186.7 717.5a1.7 1.7 0 1 0 3.4 0a1.7 1.7 0 1 0 -3.4 0M186.9 715.7a1.7 1.7 0 1 0 3.4 0a1.7 1.7 0 1 0 -3.4 0M187.6 715.9a1.7 1.7 0 1 0 3.4 0a1.7 1.7 0 1 0 -3.4 0M187.8 722.1a1.7 1.7 0 1 0 3.4 0a1.7 1.7 0 1 0 -3.4 0M188.7 718.4a1.7 1.7 0 1 0 3.4 0a1.7 1.7 0 1 0 -3.4 0M190.0 724.0a1.7 1.7 0 1 0 3.4 0a1.7 1.7 0 1 0 -3.4 0M190.0 730.0a1.7 1.7 0 1 0 3.4 0a1.7 1.7 0 1 0 -3.4 0M190.8 730.7a1.7 1.7 0 1 0 3.4 0a1.7 1.7 0 1 0 -3.4 0M191.4 717.6a1.7 1.7 0 1 0 3.4 0a1.7 1.7 0 1 0 -3.4 0M191.9 731.5a1.7 1.7 0 1 0 3.4 0a1.7 1.7 0 1 0 -3.4 0M193.7 722.7a1.7 1.7 0 1 0 3.4 0a1.7 1.7 0 1 0 -3.4 0M193.7 724.8a1.7 1.7 0 1 0 3.4 0a1.7 1.7 0 1 0 -3.4 0M194.9 719.3a1.7 1.7 0 1 0 3.4 0a1.7 1.7 0 1 0 -3.4 0M195.3 722.1a1.7 1.7 0 1 0 3.4 0a1.7 1.7 0 1 0 -3.4 0M196.0 730.9a1.7 1.7 0 1 0 3.4 0a1.7 1.7 0 1 0 -3.4 0M197.0 723.0a1.7 1.7 0 1 0 3.4 0a1.7 1.7 0 1 0 -3.4 0M197.1 725.0a1.7 1.7 0 1 0 3.4 0a1.7 1.7 0 1 0 -3.4 0M197.5 718.7a1.7 1.7 0 1 0 3.4 0a1.7 1.7 0 1 0 -3.4 0M197.9 732.6a1.7 1.7 0 1 0 3.4 0a1.7 1.7 0 1 0 -3.4 0M199.3 729.3a1.7 1.7 0 1 0 3.4 0a1.7 1.7 0 1 0 -3.4 0M198.5 717.3a1.7 1.7 0 1 0 3.4 0a1.7 1.7 0 1 0 -3.4 0M200.0 727.6a1.7 1.7 0 1 0 3.4 0a1.7 1.7 0 1 0 -3.4 0M199.4 730.5a1.7 1.7 0 1 0 3.4 0a1.7 1.7 0 1 0 -3.4 0M201.3 720.2a1.7 1.7 0 1 0 3.4 0a1.7 1.7 0 1 0 -3.4 0M200.4 723.3a1.7 1.7 0 1 0 3.4 0a1.7 1.7 0 1 0 -3.4 0M201.3 725.1a1.7 1.7 0 1 0 3.4 0a1.7 1.7 0 1 0 -3.4 0M201.7 724.7a1.7 1.7 0 1 0 3.4 0a1.7 1.7 0 1 0 -3.4 0M202.4 720.9a1.7 1.7 0 1 0 3.4 0a1.7 1.7 0 1 0 -3.4 0M203.9 719.9a1.7 1.7 0 1 0 3.4 0a1.7 1.7 0 1 0 -3.4 0M203.3 718.6a1.7 1.7 0 1 0 3.4 0a1.7 1.7 0 1 0 -3.4 0M205.0 732.8a1.7 1.7 0 1 0 3.4 0a1.7 1.7 0 1 0 -3.4 0M205.3 731.1a1.7 1.7 0 1 0 3.4 0a1.7 1.7 0 1 0 -3.4 0M205.3 719.9a1.7 1.7 0 1 0 3.4 0a1.7 1.7 0 1 0 -3.4 0M205.5 726.6a1.7 1.7 0 1 0 3.4 0a1.7 1.7 0 1 0 -3.4 0M206.9 731.2a1.7 1.7 0 1 0 3.4 0a1.7 1.7 0 1 0 -3.4 0M207.1 718.4a1.7 1.7 0 1 0 3.4 0a1.7 1.7 0 1 0 -3.4 0M207.6 724.2a1.7 1.7 0 1 0 3.4 0a1.7 1.7 0 1 0 -3.4 0M207.3 726.5a1.7 1.7 0 1 0 3.4 0a1.7 1.7 0 1 0 -3.4 0M209.3 729.4a1.7 1.7 0 1 0 3.4 0a1.7 1.7 0 1 0 -3.4 0M208.6 727.5a1.7 1.7 0 1 0 3.4 0a1.7 1.7 0 1 0 -3.4 0M209.9 732.2a1.7 1.7 0 1 0 3.4 0a1.7 1.7 0 1 0 -3.4 0M209.5 720.2a1.7 1.7 0 1 0 3.4 0a1.7 1.7 0 1 0 -3.4 0M211.0 726.1a1.7 1.7 0 1 0 3.4 0a1.7 1.7 0 1 0 -3.4 0M211.3 728.0a1.7 1.7 0 1 0 3.4 0a1.7 1.7 0 1 0 -3.4 0M212.2 726.4a1.7 1.7 0 1 0 3.4 0a1.7 1.7 0 1 0 -3.4 0M211.7 733.1a1.7 1.7 0 1 0 3.4 0a1.7 1.7 0 1 0 -3.4 0M212.6 721.4a1.7 1.7 0 1 0 3.4 0a1.7 1.7 0 1 0 -3.4 0M212.3 723.8a1.7 1.7 0 1 0 3.4 0a1.7 1.7 0 1 0 -3.4 0M213.6 727.1a1.7 1.7 0 1 0 3.4 0a1.7 1.7 0 1 0 -3.4 0M213.8 731.3a1.7 1.7 0 1 0 3.4 0a1.7 1.7 0 1 0 -3.4 0M215.3 730.7a1.7 1.7 0 1 0 3.4 0a1.7 1.7 0 1 0 -3.4 0M215.3 723.7a1.7 1.7 0 1 0 3.4 0a1.7 1.7 0 1 0 -3.4 0M216.6 733.2a1.7 1.7 0 1 0 3.4 0a1.7 1.7 0 1 0 -3.4 0M217.3 723.8a1.7 1.7 0 1 0 3.4 0a1.7 1.7 0 1 0 -3.4 0M217.8 727.1a1.7 1.7 0 1 0 3.4 0a1.7 1.7 0 1 0 -3.4 0M217.9 730.1a1.7 1.7 0 1 0 3.4 0a1.7 1.7 0 1 0 -3.4 0M219.3 716.8a1.7 1.7 0 1 0 3.4 0a1.7 1.7 0 1 0 -3.4 0M220.1 733.1a1.7 1.7 0 1 0 3.4 0a1.7 1.7 0 1 0 -3.4 0M219.6 718.7a1.7 1.7 0 1 0 3.4 0a1.7 1.7 0 1 0 -3.4 0M221.2 730.7a1.7 1.7 0 1 0 3.4 0a1.7 1.7 0 1 0 -3.4 0M221.3 718.1a1.7 1.7 0 1 0 3.4 0a1.7 1.7 0 1 0 -3.4 0M221.5 718.6a1.7 1.7 0 1 0 3.4 0a1.7 1.7 0 1 0 -3.4 0M221.4 727.1a1.7 1.7 0 1 0 3.4 0a1.7 1.7 0 1 0 -3.4 0M223.1 726.3a1.7 1.7 0 1 0 3.4 0a1.7 1.7 0 1 0 -3.4 0M222.6 723.9a1.7 1.7 0 1 0 3.4 0a1.7 1.7 0 1 0 -3.4 0M223.5 725.4a1.7 1.7 0 1 0 3.4 0a1.7 1.7 0 1 0 -3.4 0M223.5 728.6a1.7 1.7 0 1 0 3.4 0a1.7 1.7 0 1 0 -3.4 0M224.5 731.0a1.7 1.7 0 1 0 3.4 0a1.7 1.7 0 1 0 -3.4 0M225.2 719.5a1.7 1.7 0 1 0 3.4 0a1.7 1.7 0 1 0 -3.4 0M225.4 719.9a1.7 1.7 0 1 0 3.4 0a1.7 1.7 0 1 0 -3.4 0M225.9 725.6a1.7 1.7 0 1 0 3.4 0a1.7 1.7 0 1 0 -3.4 0M227.2 721.9a1.7 1.7 0 1 0 3.4 0a1.7 1.7 0 1 0 -3.4 0M227.1 727.2a1.7 1.7 0 1 0 3.4 0a1.7 1.7 0 1 0 -3.4 0M227.3 732.8a1.7 1.7 0 1 0 3.4 0a1.7 1.7 0 1 0 -3.4 0M227.6 721.3a1.7 1.7 0 1 0 3.4 0a1.7 1.7 0 1 0 -3.4 0M228.7 732.8a1.7 1.7 0 1 0 3.4 0a1.7 1.7 0 1 0 -3.4 0M228.9 721.6a1.7 1.7 0 1 0 3.4 0a1.7 1.7 0 1 0 -3.4 0M230.2 725.6a1.7 1.7 0 1 0 3.4 0a1.7 1.7 0 1 0 -3.4 0M229.6 731.3a1.7 1.7 0 1 0 3.4 0a1.7 1.7 0 1 0 -3.4 0M230.6 730.0a1.7 1.7 0 1 0 3.4 0a1.7 1.7 0 1 0 -3.4 0M231.1 724.0a1.7 1.7 0 1 0 3.4 0a1.7 1.7 0 1 0 -3.4 0M232.2 722.4a1.7 1.7 0 1 0 3.4 0a1.7 1.7 0 1 0 -3.4 0M231.4 733.3a1.7 1.7 0 1 0 3.4 0a1.7 1.7 0 1 0 -3.4 0M232.5 727.4a1.7 1.7 0 1 0 3.4 0a1.7 1.7 0 1 0 -3.4 0M232.9 731.4a1.7 1.7 0 1 0 3.4 0a1.7 1.7 0 1 0 -3.4 0M233.4 729.5a1.7 1.7 0 1 0 3.4 0a1.7 1.7 0 1 0 -3.4 0M233.9 716.3a1.7 1.7 0 1 0 3.4 0a1.7 1.7 0 1 0 -3.4 0M234.7 716.1a1.7 1.7 0 1 0 3.4 0a1.7 1.7 0 1 0 -3.4 0M236.1 725.8a1.7 1.7 0 1 0 3.4 0a1.7 1.7 0 1 0 -3.4 0M235.6 730.5a1.7 1.7 0 1 0 3.4 0a1.7 1.7 0 1 0 -3.4 0M236.7 732.4a1.7 1.7 0 1 0 3.4 0a1.7 1.7 0 1 0 -3.4 0M237.9 720.6a1.7 1.7 0 1 0 3.4 0a1.7 1.7 0 1 0 -3.4 0M239.0 726.1a1.7 1.7 0 1 0 3.4 0a1.7 1.7 0 1 0 -3.4 0M239.6 716.7a1.7 1.7 0 1 0 3.4 0a1.7 1.7 0 1 0 -3.4 0M240.6 731.8a1.7 1.7 0 1 0 3.4 0a1.7 1.7 0 1 0 -3.4 0M241.6 722.9a1.7 1.7 0 1 0 3.4 0a1.7 1.7 0 1 0 -3.4 0M242.1 731.1a1.7 1.7 0 1 0 3.4 0a1.7 1.7 0 1 0 -3.4 0M243.0 721.7a1.7 1.7 0 1 0 3.4 0a1.7 1.7 0 1 0 -3.4 0M242.4 722.2a1.7 1.7 0 1 0 3.4 0a1.7 1.7 0 1 0 -3.4 0M245.0 720.1a1.7 1.7 0 1 0 3.4 0a1.7 1.7 0 1 0 -3.4 0M245.6 729.2a1.7 1.7 0 1 0 3.4 0a1.7 1.7 0 1 0 -3.4 0M246.8 723.9a1.7 1.7 0 1 0 3.4 0a1.7 1.7 0 1 0 -3.4 0M246.9 724.8a1.7 1.7 0 1 0 3.4 0a1.7 1.7 0 1 0 -3.4 0M247.9 733.3a1.7 1.7 0 1 0 3.4 0a1.7 1.7 0 1 0 -3.4 0M248.2 730.4a1.7 1.7 0 1 0 3.4 0a1.7 1.7 0 1 0 -3.4 0M249.8 721.7a1.7 1.7 0 1 0 3.4 0a1.7 1.7 0 1 0 -3.4 0M249.9 732.8a1.7 1.7 0 1 0 3.4 0a1.7 1.7 0 1 0 -3.4 0M250.6 723.6a1.7 1.7 0 1 0 3.4 0a1.7 1.7 0 1 0 -3.4 0M251.0 731.6a1.7 1.7 0 1 0 3.4 0a1.7 1.7 0 1 0 -3.4 0M252.0 729.4a1.7 1.7 0 1 0 3.4 0a1.7 1.7 0 1 0 -3.4 0M251.8 715.3a1.7 1.7 0 1 0 3.4 0a1.7 1.7 0 1 0 -3.4 0M252.5 722.7a1.7 1.7 0 1 0 3.4 0a1.7 1.7 0 1 0 -3.4 0M253.0 731.7a1.7 1.7 0 1 0 3.4 0a1.7 1.7 0 1 0 -3.4 0M254.0 723.0a1.7 1.7 0 1 0 3.4 0a1.7 1.7 0 1 0 -3.4 0M253.7 733.3a1.7 1.7 0 1 0 3.4 0a1.7 1.7 0 1 0 -3.4 0M255.1 714.8a1.7 1.7 0 1 0 3.4 0a1.7 1.7 0 1 0 -3.4 0M254.6 717.0a1.7 1.7 0 1 0 3.4 0a1.7 1.7 0 1 0 -3.4 0M256.1 716.6a1.7 1.7 0 1 0 3.4 0a1.7 1.7 0 1 0 -3.4 0M255.9 729.0a1.7 1.7 0 1 0 3.4 0a1.7 1.7 0 1 0 -3.4 0M257.1 732.4a1.7 1.7 0 1 0 3.4 0a1.7 1.7 0 1 0 -3.4 0M257.1 728.0a1.7 1.7 0 1 0 3.4 0a1.7 1.7 0 1 0 -3.4 0M257.5 728.2a1.7 1.7 0 1 0 3.4 0a1.7 1.7 0 1 0 -3.4 0M258.0 729.6a1.7 1.7 0 1 0 3.4 0a1.7 1.7 0 1 0 -3.4 0M259.0 730.2a1.7 1.7 0 1 0 3.4 0a1.7 1.7 0 1 0 -3.4 0M258.4 732.3a1.7 1.7 0 1 0 3.4 0a1.7 1.7 0 1 0 -3.4 0M260.0 720.4a1.7 1.7 0 1 0 3.4 0a1.7 1.7 0 1 0 -3.4 0M259.5 722.6a1.7 1.7 0 1 0 3.4 0a1.7 1.7 0 1 0 -3.4 0M260.4 714.6a1.7 1.7 0 1 0 3.4 0a1.7 1.7 0 1 0 -3.4 0M260.5 719.1a1.7 1.7 0 1 0 3.4 0a1.7 1.7 0 1 0 -3.4 0M262.1 716.7a1.7 1.7 0 1 0 3.4 0a1.7 1.7 0 1 0 -3.4 0M261.9 724.8a1.7 1.7 0 1 0 3.4 0a1.7 1.7 0 1 0 -3.4 0M262.3 725.2a1.7 1.7 0 1 0 3.4 0a1.7 1.7 0 1 0 -3.4 0M262.7 732.2a1.7 1.7 0 1 0 3.4 0a1.7 1.7 0 1 0 -3.4 0M264.0 726.5a1.7 1.7 0 1 0 3.4 0a1.7 1.7 0 1 0 -3.4 0M264.1 731.1a1.7 1.7 0 1 0 3.4 0a1.7 1.7 0 1 0 -3.4 0M265.2 731.0a1.7 1.7 0 1 0 3.4 0a1.7 1.7 0 1 0 -3.4 0M265.9 724.7a1.7 1.7 0 1 0 3.4 0a1.7 1.7 0 1 0 -3.4 0M266.3 723.5a1.7 1.7 0 1 0 3.4 0a1.7 1.7 0 1 0 -3.4 0M267.2 730.1a1.7 1.7 0 1 0 3.4 0a1.7 1.7 0 1 0 -3.4 0M266.6 733.3a1.7 1.7 0 1 0 3.4 0a1.7 1.7 0 1 0 -3.4 0M267.5 726.9a1.7 1.7 0 1 0 3.4 0a1.7 1.7 0 1 0 -3.4 0M268.3 732.9a1.7 1.7 0 1 0 3.4 0a1.7 1.7 0 1 0 -3.4 0M269.2 731.8a1.7 1.7 0 1 0 3.4 0a1.7 1.7 0 1 0 -3.4 0M269.8 720.6a1.7 1.7 0 1 0 3.4 0a1.7 1.7 0 1 0 -3.4 0M269.6 727.8a1.7 1.7 0 1 0 3.4 0a1.7 1.7 0 1 0 -3.4 0M271.1 718.5a1.7 1.7 0 1 0 3.4 0a1.7 1.7 0 1 0 -3.4 0M270.6 728.1a1.7 1.7 0 1 0 3.4 0a1.7 1.7 0 1 0 -3.4 0M271.5 724.5a1.7 1.7 0 1 0 3.4 0a1.7 1.7 0 1 0 -3.4 0M271.3 724.6a1.7 1.7 0 1 0 3.4 0a1.7 1.7 0 1 0 -3.4 0M272.6 730.0a1.7 1.7 0 1 0 3.4 0a1.7 1.7 0 1 0 -3.4 0M272.6 724.7a1.7 1.7 0 1 0 3.4 0a1.7 1.7 0 1 0 -3.4 0M274.1 730.0a1.7 1.7 0 1 0 3.4 0a1.7 1.7 0 1 0 -3.4 0M274.4 732.8a1.7 1.7 0 1 0 3.4 0a1.7 1.7 0 1 0 -3.4 0M275.4 722.5a1.7 1.7 0 1 0 3.4 0a1.7 1.7 0 1 0 -3.4 0M276.7 728.3a1.7 1.7 0 1 0 3.4 0a1.7 1.7 0 1 0 -3.4 0M276.3 717.4a1.7 1.7 0 1 0 3.4 0a1.7 1.7 0 1 0 -3.4 0M278.1 718.9a1.7 1.7 0 1 0 3.4 0a1.7 1.7 0 1 0 -3.4 0M278.0 718.2a1.7 1.7 0 1 0 3.4 0a1.7 1.7 0 1 0 -3.4 0M278.5 722.7a1.7 1.7 0 1 0 3.4 0a1.7 1.7 0 1 0 -3.4 0M278.9 717.2a1.7 1.7 0 1 0 3.4 0a1.7 1.7 0 1 0 -3.4 0M279.6 723.6a1.7 1.7 0 1 0 3.4 0a1.7 1.7 0 1 0 -3.4 0M279.4 726.1a1.7 1.7 0 1 0 3.4 0a1.7 1.7 0 1 0 -3.4 0M281.1 721.3a1.7 1.7 0 1 0 3.4 0a1.7 1.7 0 1 0 -3.4 0M280.4 730.9a1.7 1.7 0 1 0 3.4 0a1.7 1.7 0 1 0 -3.4 0M281.9 728.7a1.7 1.7 0 1 0 3.4 0a1.7 1.7 0 1 0 -3.4 0M283.2 725.7a1.7 1.7 0 1 0 3.4 0a1.7 1.7 0 1 0 -3.4 0M283.5 729.7a1.7 1.7 0 1 0 3.4 0a1.7 1.7 0 1 0 -3.4 0M285.0 730.6a1.7 1.7 0 1 0 3.4 0a1.7 1.7 0 1 0 -3.4 0M286.3 721.7a1.7 1.7 0 1 0 3.4 0a1.7 1.7 0 1 0 -3.4 0M287.0 729.1a1.7 1.7 0 1 0 3.4 0a1.7 1.7 0 1 0 -3.4 0M288.1 731.0a1.7 1.7 0 1 0 3.4 0a1.7 1.7 0 1 0 -3.4 0M287.4 720.9a1.7 1.7 0 1 0 3.4 0a1.7 1.7 0 1 0 -3.4 0M288.8 726.9a1.7 1.7 0 1 0 3.4 0a1.7 1.7 0 1 0 -3.4 0M288.8 720.3a1.7 1.7 0 1 0 3.4 0a1.7 1.7 0 1 0 -3.4 0M290.2 731.6a1.7 1.7 0 1 0 3.4 0a1.7 1.7 0 1 0 -3.4 0M290.0 718.3a1.7 1.7 0 1 0 3.4 0a1.7 1.7 0 1 0 -3.4 0M290.7 731.2a1.7 1.7 0 1 0 3.4 0a1.7 1.7 0 1 0 -3.4 0M290.8 722.0a1.7 1.7 0 1 0 3.4 0a1.7 1.7 0 1 0 -3.4 0M291.4 725.5a1.7 1.7 0 1 0 3.4 0a1.7 1.7 0 1 0 -3.4 0M291.8 727.6a1.7 1.7 0 1 0 3.4 0a1.7 1.7 0 1 0 -3.4 0M292.7 728.7a1.7 1.7 0 1 0 3.4 0a1.7 1.7 0 1 0 -3.4 0M292.3 716.5a1.7 1.7 0 1 0 3.4 0a1.7 1.7 0 1 0 -3.4 0M293.9 714.7a1.7 1.7 0 1 0 3.4 0a1.7 1.7 0 1 0 -3.4 0M293.6 732.8a1.7 1.7 0 1 0 3.4 0a1.7 1.7 0 1 0 -3.4 0M294.6 726.0a1.7 1.7 0 1 0 3.4 0a1.7 1.7 0 1 0 -3.4 0M294.5 728.4a1.7 1.7 0 1 0 3.4 0a1.7 1.7 0 1 0 -3.4 0M295.3 732.9a1.7 1.7 0 1 0 3.4 0a1.7 1.7 0 1 0 -3.4 0M295.9 733.1a1.7 1.7 0 1 0 3.4 0a1.7 1.7 0 1 0 -3.4 0M296.3 729.7a1.7 1.7 0 1 0 3.4 0a1.7 1.7 0 1 0 -3.4 0M296.4 724.2a1.7 1.7 0 1 0 3.4 0a1.7 1.7 0 1 0 -3.4 0M298.1 732.3a1.7 1.7 0 1 0 3.4 0a1.7 1.7 0 1 0 -3.4 0M297.6 719.8a1.7 1.7 0 1 0 3.4 0a1.7 1.7 0 1 0 -3.4 0M298.9 725.9a1.7 1.7 0 1 0 3.4 0a1.7 1.7 0 1 0 -3.4 0M299.6 716.6a1.7 1.7 0 1 0 3.4 0a1.7 1.7 0 1 0 -3.4 0M300.9 731.6a1.7 1.7 0 1 0 3.4 0a1.7 1.7 0 1 0 -3.4 0M300.8 727.1a1.7 1.7 0 1 0 3.4 0a1.7 1.7 0 1 0 -3.4 0M301.6 732.2a1.7 1.7 0 1 0 3.4 0a1.7 1.7 0 1 0 -3.4 0M301.4 727.4a1.7 1.7 0 1 0 3.4 0a1.7 1.7 0 1 0 -3.4 0M302.5 729.5a1.7 1.7 0 1 0 3.4 0a1.7 1.7 0 1 0 -3.4 0M302.6 716.6a1.7 1.7 0 1 0 3.4 0a1.7 1.7 0 1 0 -3.4 0M303.7 732.8a1.7 1.7 0 1 0 3.4 0a1.7 1.7 0 1 0 -3.4 0M303.4 730.9a1.7 1.7 0 1 0 3.4 0a1.7 1.7 0 1 0 -3.4 0M304.4 732.2a1.7 1.7 0 1 0 3.4 0a1.7 1.7 0 1 0 -3.4 0M304.5 731.4a1.7 1.7 0 1 0 3.4 0a1.7 1.7 0 1 0 -3.4 0M307.0 730.0a1.7 1.7 0 1 0 3.4 0a1.7 1.7 0 1 0 -3.4 0M307.0 723.1a1.7 1.7 0 1 0 3.4 0a1.7 1.7 0 1 0 -3.4 0M307.6 726.9a1.7 1.7 0 1 0 3.4 0a1.7 1.7 0 1 0 -3.4 0M307.8 728.3a1.7 1.7 0 1 0 3.4 0a1.7 1.7 0 1 0 -3.4 0M308.5 732.0a1.7 1.7 0 1 0 3.4 0a1.7 1.7 0 1 0 -3.4 0M309.5 727.2a1.7 1.7 0 1 0 3.4 0a1.7 1.7 0 1 0 -3.4 0M309.5 728.7a1.7 1.7 0 1 0 3.4 0a1.7 1.7 0 1 0 -3.4 0M310.9 731.8a1.7 1.7 0 1 0 3.4 0a1.7 1.7 0 1 0 -3.4 0M311.2 729.2a1.7 1.7 0 1 0 3.4 0a1.7 1.7 0 1 0 -3.4 0M312.1 731.7a1.7 1.7 0 1 0 3.4 0a1.7 1.7 0 1 0 -3.4 0M312.3 722.8a1.7 1.7 0 1 0 3.4 0a1.7 1.7 0 1 0 -3.4 0M312.7 727.0a1.7 1.7 0 1 0 3.4 0a1.7 1.7 0 1 0 -3.4 0M314.1 718.6a1.7 1.7 0 1 0 3.4 0a1.7 1.7 0 1 0 -3.4 0M313.5 720.7a1.7 1.7 0 1 0 3.4 0a1.7 1.7 0 1 0 -3.4 0M314.5 728.1a1.7 1.7 0 1 0 3.4 0a1.7 1.7 0 1 0 -3.4 0M314.4 723.1a1.7 1.7 0 1 0 3.4 0a1.7 1.7 0 1 0 -3.4 0M315.7 730.9a1.7 1.7 0 1 0 3.4 0a1.7 1.7 0 1 0 -3.4 0M315.6 732.9a1.7 1.7 0 1 0 3.4 0a1.7 1.7 0 1 0 -3.4 0M317.1 732.6a1.7 1.7 0 1 0 3.4 0a1.7 1.7 0 1 0 -3.4 0M316.8 721.7a1.7 1.7 0 1 0 3.4 0a1.7 1.7 0 1 0 -3.4 0M317.9 729.1a1.7 1.7 0 1 0 3.4 0a1.7 1.7 0 1 0 -3.4 0M318.1 729.4a1.7 1.7 0 1 0 3.4 0a1.7 1.7 0 1 0 -3.4 0M319.3 722.0a1.7 1.7 0 1 0 3.4 0a1.7 1.7 0 1 0 -3.4 0M319.2 727.0a1.7 1.7 0 1 0 3.4 0a1.7 1.7 0 1 0 -3.4 0M319.7 718.2a1.7 1.7 0 1 0 3.4 0a1.7 1.7 0 1 0 -3.4 0M320.1 727.2a1.7 1.7 0 1 0 3.4 0a1.7 1.7 0 1 0 -3.4 0M321.3 728.9a1.7 1.7 0 1 0 3.4 0a1.7 1.7 0 1 0 -3.4 0M320.6 721.5a1.7 1.7 0 1 0 3.4 0a1.7 1.7 0 1 0 -3.4 0M321.7 716.8a1.7 1.7 0 1 0 3.4 0a1.7 1.7 0 1 0 -3.4 0M321.8 717.9a1.7 1.7 0 1 0 3.4 0a1.7 1.7 0 1 0 -3.4 0M322.5 726.7a1.7 1.7 0 1 0 3.4 0a1.7 1.7 0 1 0 -3.4 0M323.1 724.9a1.7 1.7 0 1 0 3.4 0a1.7 1.7 0 1 0 -3.4 0M323.4 730.0a1.7 1.7 0 1 0 3.4 0a1.7 1.7 0 1 0 -3.4 0M324.0 732.1a1.7 1.7 0 1 0 3.4 0a1.7 1.7 0 1 0 -3.4 0M325.2 716.0a1.7 1.7 0 1 0 3.4 0a1.7 1.7 0 1 0 -3.4 0M324.6 723.7a1.7 1.7 0 1 0 3.4 0a1.7 1.7 0 1 0 -3.4 0M325.7 715.8a1.7 1.7 0 1 0 3.4 0a1.7 1.7 0 1 0 -3.4 0M328.1 722.5a1.7 1.7 0 1 0 3.4 0a1.7 1.7 0 1 0 -3.4 0M327.8 733.2a1.7 1.7 0 1 0 3.4 0a1.7 1.7 0 1 0 -3.4 0M328.3 732.2a1.7 1.7 0 1 0 3.4 0a1.7 1.7 0 1 0 -3.4 0M329.6 730.9a1.7 1.7 0 1 0 3.4 0a1.7 1.7 0 1 0 -3.4 0M330.1 717.0a1.7 1.7 0 1 0 3.4 0a1.7 1.7 0 1 0 -3.4 0M330.7 727.1a1.7 1.7 0 1 0 3.4 0a1.7 1.7 0 1 0 -3.4 0M330.6 727.0a1.7 1.7 0 1 0 3.4 0a1.7 1.7 0 1 0 -3.4 0M332.2 728.4a1.7 1.7 0 1 0 3.4 0a1.7 1.7 0 1 0 -3.4 0M332.5 730.5a1.7 1.7 0 1 0 3.4 0a1.7 1.7 0 1 0 -3.4 0M333.5 729.6a1.7 1.7 0 1 0 3.4 0a1.7 1.7 0 1 0 -3.4 0M334.3 733.1a1.7 1.7 0 1 0 3.4 0a1.7 1.7 0 1 0 -3.4 0M335.8 732.7a1.7 1.7 0 1 0 3.4 0a1.7 1.7 0 1 0 -3.4 0M336.7 717.1a1.7 1.7 0 1 0 3.4 0a1.7 1.7 0 1 0 -3.4 0M338.2 731.1a1.7 1.7 0 1 0 3.4 0a1.7 1.7 0 1 0 -3.4 0M338.5 725.6a1.7 1.7 0 1 0 3.4 0a1.7 1.7 0 1 0 -3.4 0M338.8 722.1a1.7 1.7 0 1 0 3.4 0a1.7 1.7 0 1 0 -3.4 0M339.7 727.9a1.7 1.7 0 1 0 3.4 0a1.7 1.7 0 1 0 -3.4 0M340.6 716.3a1.7 1.7 0 1 0 3.4 0a1.7 1.7 0 1 0 -3.4 0M341.4 715.1a1.7 1.7 0 1 0 3.4 0a1.7 1.7 0 1 0 -3.4 0M342.2 721.6a1.7 1.7 0 1 0 3.4 0a1.7 1.7 0 1 0 -3.4 0M342.7 722.9a1.7 1.7 0 1 0 3.4 0a1.7 1.7 0 1 0 -3.4 0M343.1 724.3a1.7 1.7 0 1 0 3.4 0a1.7 1.7 0 1 0 -3.4 0M343.8 721.0a1.7 1.7 0 1 0 3.4 0a1.7 1.7 0 1 0 -3.4 0M343.4 722.9a1.7 1.7 0 1 0 3.4 0a1.7 1.7 0 1 0 -3.4 0M345.2 720.0a1.7 1.7 0 1 0 3.4 0a1.7 1.7 0 1 0 -3.4 0M344.4 728.0a1.7 1.7 0 1 0 3.4 0a1.7 1.7 0 1 0 -3.4 0M345.6 730.8a1.7 1.7 0 1 0 3.4 0a1.7 1.7 0 1 0 -3.4 0M345.6 733.3a1.7 1.7 0 1 0 3.4 0a1.7 1.7 0 1 0 -3.4 0M347.0 716.1a1.7 1.7 0 1 0 3.4 0a1.7 1.7 0 1 0 -3.4 0M346.9 726.2a1.7 1.7 0 1 0 3.4 0a1.7 1.7 0 1 0 -3.4 0M348.1 716.6a1.7 1.7 0 1 0 3.4 0a1.7 1.7 0 1 0 -3.4 0M348.0 732.5a1.7 1.7 0 1 0 3.4 0a1.7 1.7 0 1 0 -3.4 0M349.2 715.9a1.7 1.7 0 1 0 3.4 0a1.7 1.7 0 1 0 -3.4 0M348.9 730.2a1.7 1.7 0 1 0 3.4 0a1.7 1.7 0 1 0 -3.4 0M350.0 728.8a1.7 1.7 0 1 0 3.4 0a1.7 1.7 0 1 0 -3.4 0M349.6 731.3a1.7 1.7 0 1 0 3.4 0a1.7 1.7 0 1 0 -3.4 0M351.4 730.4a1.7 1.7 0 1 0 3.4 0a1.7 1.7 0 1 0 -3.4 0M353.1 717.1a1.7 1.7 0 1 0 3.4 0a1.7 1.7 0 1 0 -3.4 0M353.1 726.7a1.7 1.7 0 1 0 3.4 0a1.7 1.7 0 1 0 -3.4 0M353.5 732.8a1.7 1.7 0 1 0 3.4 0a1.7 1.7 0 1 0 -3.4 0M353.7 721.7a1.7 1.7 0 1 0 3.4 0a1.7 1.7 0 1 0 -3.4 0M355.7 733.2a1.7 1.7 0 1 0 3.4 0a1.7 1.7 0 1 0 -3.4 0M356.8 728.2a1.7 1.7 0 1 0 3.4 0a1.7 1.7 0 1 0 -3.4 0M356.9 717.3a1.7 1.7 0 1 0 3.4 0a1.7 1.7 0 1 0 -3.4 0M357.4 716.7a1.7 1.7 0 1 0 3.4 0a1.7 1.7 0 1 0 -3.4 0M358.7 715.5a1.7 1.7 0 1 0 3.4 0a1.7 1.7 0 1 0 -3.4 0M358.6 728.0a1.7 1.7 0 1 0 3.4 0a1.7 1.7 0 1 0 -3.4 0M359.7 723.4a1.7 1.7 0 1 0 3.4 0a1.7 1.7 0 1 0 -3.4 0M359.9 720.8a1.7 1.7 0 1 0 3.4 0a1.7 1.7 0 1 0 -3.4 0M360.6 715.7a1.7 1.7 0 1 0 3.4 0a1.7 1.7 0 1 0 -3.4 0M360.6 732.0a1.7 1.7 0 1 0 3.4 0a1.7 1.7 0 1 0 -3.4 0M361.6 732.4a1.7 1.7 0 1 0 3.4 0a1.7 1.7 0 1 0 -3.4 0M361.8 721.4a1.7 1.7 0 1 0 3.4 0a1.7 1.7 0 1 0 -3.4 0M362.3 721.2a1.7 1.7 0 1 0 3.4 0a1.7 1.7 0 1 0 -3.4 0M362.4 719.3a1.7 1.7 0 1 0 3.4 0a1.7 1.7 0 1 0 -3.4 0M364.2 731.6a1.7 1.7 0 1 0 3.4 0a1.7 1.7 0 1 0 -3.4 0M364.4 728.9a1.7 1.7 0 1 0 3.4 0a1.7 1.7 0 1 0 -3.4 0M365.9 715.2a1.7 1.7 0 1 0 3.4 0a1.7 1.7 0 1 0 -3.4 0M367.2 715.5a1.7 1.7 0 1 0 3.4 0a1.7 1.7 0 1 0 -3.4 0M368.0 732.2a1.7 1.7 0 1 0 3.4 0a1.7 1.7 0 1 0 -3.4 0M369.1 728.4a1.7 1.7 0 1 0 3.4 0a1.7 1.7 0 1 0 -3.4 0M368.5 719.7a1.7 1.7 0 1 0 3.4 0a1.7 1.7 0 1 0 -3.4 0M369.7 727.0a1.7 1.7 0 1 0 3.4 0a1.7 1.7 0 1 0 -3.4 0M369.8 733.1a1.7 1.7 0 1 0 3.4 0a1.7 1.7 0 1 0 -3.4 0M370.9 726.0a1.7 1.7 0 1 0 3.4 0a1.7 1.7 0 1 0 -3.4 0M371.8 730.9a1.7 1.7 0 1 0 3.4 0a1.7 1.7 0 1 0 -3.4 0M371.6 717.5a1.7 1.7 0 1 0 3.4 0a1.7 1.7 0 1 0 -3.4 0M372.8 733.1a1.7 1.7 0 1 0 3.4 0a1.7 1.7 0 1 0 -3.4 0M373.2 729.4a1.7 1.7 0 1 0 3.4 0a1.7 1.7 0 1 0 -3.4 0M373.4 731.7a1.7 1.7 0 1 0 3.4 0a1.7 1.7 0 1 0 -3.4 0M373.7 727.7a1.7 1.7 0 1 0 3.4 0a1.7 1.7 0 1 0 -3.4 0M375.0 719.9a1.7 1.7 0 1 0 3.4 0a1.7 1.7 0 1 0 -3.4 0M375.3 720.0a1.7 1.7 0 1 0 3.4 0a1.7 1.7 0 1 0 -3.4 0M375.4 730.5a1.7 1.7 0 1 0 3.4 0a1.7 1.7 0 1 0 -3.4 0M375.5 731.5a1.7 1.7 0 1 0 3.4 0a1.7 1.7 0 1 0 -3.4 0M377.2 729.8a1.7 1.7 0 1 0 3.4 0a1.7 1.7 0 1 0 -3.4 0M376.8 731.5a1.7 1.7 0 1 0 3.4 0a1.7 1.7 0 1 0 -3.4 0M377.7 727.3a1.7 1.7 0 1 0 3.4 0a1.7 1.7 0 1 0 -3.4 0M379.3 723.9a1.7 1.7 0 1 0 3.4 0a1.7 1.7 0 1 0 -3.4 0M378.9 733.1a1.7 1.7 0 1 0 3.4 0a1.7 1.7 0 1 0 -3.4 0M379.9 730.9a1.7 1.7 0 1 0 3.4 0a1.7 1.7 0 1 0 -3.4 0M380.0 723.8a1.7 1.7 0 1 0 3.4 0a1.7 1.7 0 1 0 -3.4 0M380.6 715.6a1.7 1.7 0 1 0 3.4 0a1.7 1.7 0 1 0 -3.4 0M380.7 725.5a1.7 1.7 0 1 0 3.4 0a1.7 1.7 0 1 0 -3.4 0M382.0 717.5a1.7 1.7 0 1 0 3.4 0a1.7 1.7 0 1 0 -3.4 0M381.7 723.1a1.7 1.7 0 1 0 3.4 0a1.7 1.7 0 1 0 -3.4 0M383.0 733.2a1.7 1.7 0 1 0 3.4 0a1.7 1.7 0 1 0 -3.4 0M384.0 733.2a1.7 1.7 0 1 0 3.4 0a1.7 1.7 0 1 0 -3.4 0M384.8 732.8a1.7 1.7 0 1 0 3.4 0a1.7 1.7 0 1 0 -3.4 0M385.3 719.8a1.7 1.7 0 1 0 3.4 0a1.7 1.7 0 1 0 -3.4 0M385.8 724.0a1.7 1.7 0 1 0 3.4 0a1.7 1.7 0 1 0 -3.4 0M387.0 727.9a1.7 1.7 0 1 0 3.4 0a1.7 1.7 0 1 0 -3.4 0M387.4 728.9a1.7 1.7 0 1 0 3.4 0a1.7 1.7 0 1 0 -3.4 0M388.9 730.9a1.7 1.7 0 1 0 3.4 0a1.7 1.7 0 1 0 -3.4 0M389.0 731.1a1.7 1.7 0 1 0 3.4 0a1.7 1.7 0 1 0 -3.4 0M389.5 718.1a1.7 1.7 0 1 0 3.4 0a1.7 1.7 0 1 0 -3.4 0M389.7 728.1a1.7 1.7 0 1 0 3.4 0a1.7 1.7 0 1 0 -3.4 0M391.2 729.7a1.7 1.7 0 1 0 3.4 0a1.7 1.7 0 1 0 -3.4 0M391.8 733.1a1.7 1.7 0 1 0 3.4 0a1.7 1.7 0 1 0 -3.4 0M391.5 717.4a1.7 1.7 0 1 0 3.4 0a1.7 1.7 0 1 0 -3.4 0M392.5 732.1a1.7 1.7 0 1 0 3.4 0a1.7 1.7 0 1 0 -3.4 0M392.8 715.9a1.7 1.7 0 1 0 3.4 0a1.7 1.7 0 1 0 -3.4 0M393.5 724.7a1.7 1.7 0 1 0 3.4 0a1.7 1.7 0 1 0 -3.4 0M395.3 732.7a1.7 1.7 0 1 0 3.4 0a1.7 1.7 0 1 0 -3.4 0M394.9 723.9a1.7 1.7 0 1 0 3.4 0a1.7 1.7 0 1 0 -3.4 0M395.6 732.3a1.7 1.7 0 1 0 3.4 0a1.7 1.7 0 1 0 -3.4 0M396.3 724.6a1.7 1.7 0 1 0 3.4 0a1.7 1.7 0 1 0 -3.4 0M396.5 717.7a1.7 1.7 0 1 0 3.4 0a1.7 1.7 0 1 0 -3.4 0M397.4 719.9a1.7 1.7 0 1 0 3.4 0a1.7 1.7 0 1 0 -3.4 0M398.7 717.0a1.7 1.7 0 1 0 3.4 0a1.7 1.7 0 1 0 -3.4 0M399.6 718.0a1.7 1.7 0 1 0 3.4 0a1.7 1.7 0 1 0 -3.4 0M401.0 716.9a1.7 1.7 0 1 0 3.4 0a1.7 1.7 0 1 0 -3.4 0M401.9 717.4a1.7 1.7 0 1 0 3.4 0a1.7 1.7 0 1 0 -3.4 0M403.1 731.0a1.7 1.7 0 1 0 3.4 0a1.7 1.7 0 1 0 -3.4 0M403.6 716.5a1.7 1.7 0 1 0 3.4 0a1.7 1.7 0 1 0 -3.4 0M403.6 728.5a1.7 1.7 0 1 0 3.4 0a1.7 1.7 0 1 0 -3.4 0M404.7 731.1a1.7 1.7 0 1 0 3.4 0a1.7 1.7 0 1 0 -3.4 0M406.2 716.7a1.7 1.7 0 1 0 3.4 0a1.7 1.7 0 1 0 -3.4 0M406.2 732.5a1.7 1.7 0 1 0 3.4 0a1.7 1.7 0 1 0 -3.4 0M407.0 720.7a1.7 1.7 0 1 0 3.4 0a1.7 1.7 0 1 0 -3.4 0M407.6 724.8a1.7 1.7 0 1 0 3.4 0a1.7 1.7 0 1 0 -3.4 0M407.8 715.5a1.7 1.7 0 1 0 3.4 0a1.7 1.7 0 1 0 -3.4 0M409.2 727.5a1.7 1.7 0 1 0 3.4 0a1.7 1.7 0 1 0 -3.4 0M410.2 730.3a1.7 1.7 0 1 0 3.4 0a1.7 1.7 0 1 0 -3.4 0M410.3 733.2a1.7 1.7 0 1 0 3.4 0a1.7 1.7 0 1 0 -3.4 0M411.0 729.0a1.7 1.7 0 1 0 3.4 0a1.7 1.7 0 1 0 -3.4 0M410.5 731.3a1.7 1.7 0 1 0 3.4 0a1.7 1.7 0 1 0 -3.4 0M411.9 731.4a1.7 1.7 0 1 0 3.4 0a1.7 1.7 0 1 0 -3.4 0M412.3 714.6a1.7 1.7 0 1 0 3.4 0a1.7 1.7 0 1 0 -3.4 0M413.2 716.3a1.7 1.7 0 1 0 3.4 0a1.7 1.7 0 1 0 -3.4 0M413.8 718.6a1.7 1.7 0 1 0 3.4 0a1.7 1.7 0 1 0 -3.4 0M414.7 724.1a1.7 1.7 0 1 0 3.4 0a1.7 1.7 0 1 0 -3.4 0M415.5 733.3a1.7 1.7 0 1 0 3.4 0a1.7 1.7 0 1 0 -3.4 0M415.5 732.9a1.7 1.7 0 1 0 3.4 0a1.7 1.7 0 1 0 -3.4 0M416.7 732.8a1.7 1.7 0 1 0 3.4 0a1.7 1.7 0 1 0 -3.4 0M416.3 726.1a1.7 1.7 0 1 0 3.4 0a1.7 1.7 0 1 0 -3.4 0M417.5 728.2a1.7 1.7 0 1 0 3.4 0a1.7 1.7 0 1 0 -3.4 0M418.2 732.9a1.7 1.7 0 1 0 3.4 0a1.7 1.7 0 1 0 -3.4 0M418.5 727.7a1.7 1.7 0 1 0 3.4 0a1.7 1.7 0 1 0 -3.4 0M419.8 721.1a1.7 1.7 0 1 0 3.4 0a1.7 1.7 0 1 0 -3.4 0M420.0 725.6a1.7 1.7 0 1 0 3.4 0a1.7 1.7 0 1 0 -3.4 0M420.6 733.3a1.7 1.7 0 1 0 3.4 0a1.7 1.7 0 1 0 -3.4 0M420.4 723.3a1.7 1.7 0 1 0 3.4 0a1.7 1.7 0 1 0 -3.4 0M421.7 728.4a1.7 1.7 0 1 0 3.4 0a1.7 1.7 0 1 0 -3.4 0M422.3 729.6a1.7 1.7 0 1 0 3.4 0a1.7 1.7 0 1 0 -3.4 0M422.7 724.4a1.7 1.7 0 1 0 3.4 0a1.7 1.7 0 1 0 -3.4 0M423.8 727.3a1.7 1.7 0 1 0 3.4 0a1.7 1.7 0 1 0 -3.4 0M424.3 725.8a1.7 1.7 0 1 0 3.4 0a1.7 1.7 0 1 0 -3.4 0M425.2 718.3a1.7 1.7 0 1 0 3.4 0a1.7 1.7 0 1 0 -3.4 0M426.1 732.6a1.7 1.7 0 1 0 3.4 0a1.7 1.7 0 1 0 -3.4 0M425.8 726.3a1.7 1.7 0 1 0 3.4 0a1.7 1.7 0 1 0 -3.4 0M426.5 723.3a1.7 1.7 0 1 0 3.4 0a1.7 1.7 0 1 0 -3.4 0M427.8 729.8a1.7 1.7 0 1 0 3.4 0a1.7 1.7 0 1 0 -3.4 0M429.2 726.1a1.7 1.7 0 1 0 3.4 0a1.7 1.7 0 1 0 -3.4 0M429.3 714.4a1.7 1.7 0 1 0 3.4 0a1.7 1.7 0 1 0 -3.4 0M431.2 718.4a1.7 1.7 0 1 0 3.4 0a1.7 1.7 0 1 0 -3.4 0M430.8 732.7a1.7 1.7 0 1 0 3.4 0a1.7 1.7 0 1 0 -3.4 0M432.2 725.4a1.7 1.7 0 1 0 3.4 0a1.7 1.7 0 1 0 -3.4 0M432.3 715.4a1.7 1.7 0 1 0 3.4 0a1.7 1.7 0 1 0 -3.4 0M432.3 728.9a1.7 1.7 0 1 0 3.4 0a1.7 1.7 0 1 0 -3.4 0M433.8 718.6a1.7 1.7 0 1 0 3.4 0a1.7 1.7 0 1 0 -3.4 0M433.4 714.9a1.7 1.7 0 1 0 3.4 0a1.7 1.7 0 1 0 -3.4 0M434.8 718.0a1.7 1.7 0 1 0 3.4 0a1.7 1.7 0 1 0 -3.4 0M435.8 715.4a1.7 1.7 0 1 0 3.4 0a1.7 1.7 0 1 0 -3.4 0M435.9 722.6a1.7 1.7 0 1 0 3.4 0a1.7 1.7 0 1 0 -3.4 0M436.7 731.3a1.7 1.7 0 1 0 3.4 0a1.7 1.7 0 1 0 -3.4 0M437.9 730.5a1.7 1.7 0 1 0 3.4 0a1.7 1.7 0 1 0 -3.4 0M76.4 718.1a1.7 1.7 0 1 0 3.4 0a1.7 1.7 0 1 0 -3.4 0M379.6 725.7a1.7 1.7 0 1 0 3.4 0a1.7 1.7 0 1 0 -3.4 0M372.6 716.9a1.7 1.7 0 1 0 3.4 0a1.7 1.7 0 1 0 -3.4 0M378.6 724.9a1.7 1.7 0 1 0 3.4 0a1.7 1.7 0 1 0 -3.4 0M377.5 723.7a1.7 1.7 0 1 0 3.4 0a1.7 1.7 0 1 0 -3.4 0M384.6 719.4a1.7 1.7 0 1 0 3.4 0a1.7 1.7 0 1 0 -3.4 0M379.1 722.3a1.7 1.7 0 1 0 3.4 0a1.7 1.7 0 1 0 -3.4 0M365.0 717.5a1.7 1.7 0 1 0 3.4 0a1.7 1.7 0 1 0 -3.4 0M375.9 716.1a1.7 1.7 0 1 0 3.4 0a1.7 1.7 0 1 0 -3.4 0M379.5 719.3a1.7 1.7 0 1 0 3.4 0a1.7 1.7 0 1 0 -3.4 0M369.0 721.3a1.7 1.7 0 1 0 3.4 0a1.7 1.7 0 1 0 -3.4 0M411.9 727.7a1.7 1.7 0 1 0 3.4 0a1.7 1.7 0 1 0 -3.4 0M425.9 719.6a1.7 1.7 0 1 0 3.4 0a1.7 1.7 0 1 0 -3.4 0M413.7 720.3a1.7 1.7 0 1 0 3.4 0a1.7 1.7 0 1 0 -3.4 0M412.0 725.6a1.7 1.7 0 1 0 3.4 0a1.7 1.7 0 1 0 -3.4 0M419.6 718.3a1.7 1.7 0 1 0 3.4 0a1.7 1.7 0 1 0 -3.4 0M392.7 718.5a1.7 1.7 0 1 0 3.4 0a1.7 1.7 0 1 0 -3.4 0M398.0 725.9a1.7 1.7 0 1 0 3.4 0a1.7 1.7 0 1 0 -3.4 0M410.0 720.2a1.7 1.7 0 1 0 3.4 0a1.7 1.7 0 1 0 -3.4 0M403.2 724.7a1.7 1.7 0 1 0 3.4 0a1.7 1.7 0 1 0 -3.4 0M400.3 717.5a1.7 1.7 0 1 0 3.4 0a1.7 1.7 0 1 0 -3.4 0M398.8 719.6a1.7 1.7 0 1 0 3.4 0a1.7 1.7 0 1 0 -3.4 0M411.7 728.1a1.7 1.7 0 1 0 3.4 0a1.7 1.7 0 1 0 -3.4 0M412.2 726.4a1.7 1.7 0 1 0 3.4 0a1.7 1.7 0 1 0 -3.4 0M425.5 715.7a1.7 1.7 0 1 0 3.4 0a1.7 1.7 0 1 0 -3.4 0" fill="#fff" stroke="#3e3e3e" stroke-width="1.05"/>
<path d="M245.2 624.0a1.7 1.7 0 1 0 3.4 0a1.7 1.7 0 1 0 -3.4 0M244.5 627.9a1.7 1.7 0 1 0 3.4 0a1.7 1.7 0 1 0 -3.4 0M238.7 630.8a1.7 1.7 0 1 0 3.4 0a1.7 1.7 0 1 0 -3.4 0M252.5 638.5a1.7 1.7 0 1 0 3.4 0a1.7 1.7 0 1 0 -3.4 0M256.3 638.5a1.7 1.7 0 1 0 3.4 0a1.7 1.7 0 1 0 -3.4 0M242.0 651.9a1.7 1.7 0 1 0 3.4 0a1.7 1.7 0 1 0 -3.4 0M267.7 647.1a1.7 1.7 0 1 0 3.4 0a1.7 1.7 0 1 0 -3.4 0M241.3 652.0a1.7 1.7 0 1 0 3.4 0a1.7 1.7 0 1 0 -3.4 0M260.0 654.8a1.7 1.7 0 1 0 3.4 0a1.7 1.7 0 1 0 -3.4 0M275.4 662.5a1.7 1.7 0 1 0 3.4 0a1.7 1.7 0 1 0 -3.4 0M280.3 664.4a1.7 1.7 0 1 0 3.4 0a1.7 1.7 0 1 0 -3.4 0M296.6 665.4a1.7 1.7 0 1 0 3.4 0a1.7 1.7 0 1 0 -3.4 0M307.5 651.5a1.7 1.7 0 1 0 3.4 0a1.7 1.7 0 1 0 -3.4 0M278.7 688.5a1.7 1.7 0 1 0 3.4 0a1.7 1.7 0 1 0 -3.4 0M289.8 685.6a1.7 1.7 0 1 0 3.4 0a1.7 1.7 0 1 0 -3.4 0M173.7 673.7a1.7 1.7 0 1 0 3.4 0a1.7 1.7 0 1 0 -3.4 0M178.5 676.0a1.7 1.7 0 1 0 3.4 0a1.7 1.7 0 1 0 -3.4 0M178.1 679.2a1.7 1.7 0 1 0 3.4 0a1.7 1.7 0 1 0 -3.4 0M222.1 674.0a1.7 1.7 0 1 0 3.4 0a1.7 1.7 0 1 0 -3.4 0M194.8 681.7a1.7 1.7 0 1 0 3.4 0a1.7 1.7 0 1 0 -3.4 0M206.0 686.5a1.7 1.7 0 1 0 3.4 0a1.7 1.7 0 1 0 -3.4 0M159.8 688.5a1.7 1.7 0 1 0 3.4 0a1.7 1.7 0 1 0 -3.4 0M171.3 695.8a1.7 1.7 0 1 0 3.4 0a1.7 1.7 0 1 0 -3.4 0M95.9 655.8a1.7 1.7 0 1 0 3.4 0a1.7 1.7 0 1 0 -3.4 0M101.6 660.2a1.7 1.7 0 1 0 3.4 0a1.7 1.7 0 1 0 -3.4 0M101.3 670.2a1.7 1.7 0 1 0 3.4 0a1.7 1.7 0 1 0 -3.4 0M101.6 674.0a1.7 1.7 0 1 0 3.4 0a1.7 1.7 0 1 0 -3.4 0M91.1 672.5a1.7 1.7 0 1 0 3.4 0a1.7 1.7 0 1 0 -3.4 0M76.1 674.0a1.7 1.7 0 1 0 3.4 0a1.7 1.7 0 1 0 -3.4 0M76.1 677.0a1.7 1.7 0 1 0 3.4 0a1.7 1.7 0 1 0 -3.4 0M76.3 679.5a1.7 1.7 0 1 0 3.4 0a1.7 1.7 0 1 0 -3.4 0M81.1 677.9a1.7 1.7 0 1 0 3.4 0a1.7 1.7 0 1 0 -3.4 0M84.3 683.7a1.7 1.7 0 1 0 3.4 0a1.7 1.7 0 1 0 -3.4 0M89.1 683.7a1.7 1.7 0 1 0 3.4 0a1.7 1.7 0 1 0 -3.4 0M101.6 684.6a1.7 1.7 0 1 0 3.4 0a1.7 1.7 0 1 0 -3.4 0M108.8 683.7a1.7 1.7 0 1 0 3.4 0a1.7 1.7 0 1 0 -3.4 0M118.0 684.6a1.7 1.7 0 1 0 3.4 0a1.7 1.7 0 1 0 -3.4 0M135.3 684.0a1.7 1.7 0 1 0 3.4 0a1.7 1.7 0 1 0 -3.4 0M144.3 675.0a1.7 1.7 0 1 0 3.4 0a1.7 1.7 0 1 0 -3.4 0M148.8 675.0a1.7 1.7 0 1 0 3.4 0a1.7 1.7 0 1 0 -3.4 0M149.1 683.0a1.7 1.7 0 1 0 3.4 0a1.7 1.7 0 1 0 -3.4 0M158.8 688.8a1.7 1.7 0 1 0 3.4 0a1.7 1.7 0 1 0 -3.4 0M333.5 603.6a1.7 1.7 0 1 0 3.4 0a1.7 1.7 0 1 0 -3.4 0M334.1 609.4a1.7 1.7 0 1 0 3.4 0a1.7 1.7 0 1 0 -3.4 0M334.1 612.9a1.7 1.7 0 1 0 3.4 0a1.7 1.7 0 1 0 -3.4 0M343.3 614.8a1.7 1.7 0 1 0 3.4 0a1.7 1.7 0 1 0 -3.4 0M344.4 621.0a1.7 1.7 0 1 0 3.4 0a1.7 1.7 0 1 0 -3.4 0M329.4 614.0a1.7 1.7 0 1 0 3.4 0a1.7 1.7 0 1 0 -3.4 0M329.4 619.2a1.7 1.7 0 1 0 3.4 0a1.7 1.7 0 1 0 -3.4 0M332.9 615.8a1.7 1.7 0 1 0 3.4 0a1.7 1.7 0 1 0 -3.4 0M343.3 630.2a1.7 1.7 0 1 0 3.4 0a1.7 1.7 0 1 0 -3.4 0M341.0 633.0a1.7 1.7 0 1 0 3.4 0a1.7 1.7 0 1 0 -3.4 0M338.1 631.3a1.7 1.7 0 1 0 3.4 0a1.7 1.7 0 1 0 -3.4 0M332.9 639.4a1.7 1.7 0 1 0 3.4 0a1.7 1.7 0 1 0 -3.4 0M338.1 638.3a1.7 1.7 0 1 0 3.4 0a1.7 1.7 0 1 0 -3.4 0M340.7 639.4a1.7 1.7 0 1 0 3.4 0a1.7 1.7 0 1 0 -3.4 0M345.0 642.9a1.7 1.7 0 1 0 3.4 0a1.7 1.7 0 1 0 -3.4 0M308.1 651.5a1.7 1.7 0 1 0 3.4 0a1.7 1.7 0 1 0 -3.4 0M384.6 643.8a1.7 1.7 0 1 0 3.4 0a1.7 1.7 0 1 0 -3.4 0M410.8 646.3a1.7 1.7 0 1 0 3.4 0a1.7 1.7 0 1 0 -3.4 0M385.8 653.3a1.7 1.7 0 1 0 3.4 0a1.7 1.7 0 1 0 -3.4 0M368.3 648.8a1.7 1.7 0 1 0 3.4 0a1.7 1.7 0 1 0 -3.4 0M368.3 654.5a1.7 1.7 0 1 0 3.4 0a1.7 1.7 0 1 0 -3.4 0M428.8 667.5a1.7 1.7 0 1 0 3.4 0a1.7 1.7 0 1 0 -3.4 0M399.6 683.8a1.7 1.7 0 1 0 3.4 0a1.7 1.7 0 1 0 -3.4 0M402.8 685.5a1.7 1.7 0 1 0 3.4 0a1.7 1.7 0 1 0 -3.4 0M316.3 673.0a1.7 1.7 0 1 0 3.4 0a1.7 1.7 0 1 0 -3.4 0M320.3 676.0a1.7 1.7 0 1 0 3.4 0a1.7 1.7 0 1 0 -3.4 0M315.3 683.0a1.7 1.7 0 1 0 3.4 0a1.7 1.7 0 1 0 -3.4 0M320.3 681.0a1.7 1.7 0 1 0 3.4 0a1.7 1.7 0 1 0 -3.4 0M316.3 688.0a1.7 1.7 0 1 0 3.4 0a1.7 1.7 0 1 0 -3.4 0M326.3 687.0a1.7 1.7 0 1 0 3.4 0a1.7 1.7 0 1 0 -3.4 0M332.3 684.0a1.7 1.7 0 1 0 3.4 0a1.7 1.7 0 1 0 -3.4 0M338.3 690.0a1.7 1.7 0 1 0 3.4 0a1.7 1.7 0 1 0 -3.4 0M330.3 694.0a1.7 1.7 0 1 0 3.4 0a1.7 1.7 0 1 0 -3.4 0" fill="#fff" stroke="#484848" stroke-width="1.1"/>
<line x1="78.9" y1="574.5" x2="78.9" y2="690" stroke="#b0d4de" stroke-width="1.9" stroke-opacity="0.85"/>
<line x1="333" y1="686" x2="333" y2="725" stroke="#b0d4de" stroke-width="1.9" stroke-opacity="0.85"/>
<line x1="386.3" y1="652.5" x2="386.3" y2="715" stroke="#b0d4de" stroke-width="1.9" stroke-opacity="0.85"/>
<line x1="410" y1="634.5" x2="410" y2="705" stroke="#b0d4de" stroke-width="1.9" stroke-opacity="0.85"/>
<line x1="414.5" y1="672" x2="414.5" y2="710" stroke="#b0d4de" stroke-width="1.9" stroke-opacity="0.85"/>
<circle cx="322.5" cy="643.4" r="1.7" fill="#d86060" stroke="#8a2e2e" stroke-width="0.9"/>
<circle cx="326.2" cy="638.5" r="1.7" fill="#d86060" stroke="#8a2e2e" stroke-width="0.9"/>
<circle cx="319.7" cy="628.5" r="1.7" fill="#d86060" stroke="#8a2e2e" stroke-width="0.9"/>
<circle cx="328.3" cy="642.8" r="1.7" fill="#d86060" stroke="#8a2e2e" stroke-width="0.9"/>
<circle cx="321.9" cy="655.5" r="1.7" fill="#d86060" stroke="#8a2e2e" stroke-width="0.9"/>
<circle cx="320.1" cy="644.7" r="1.7" fill="#d86060" stroke="#8a2e2e" stroke-width="0.9"/>
<circle cx="326.1" cy="641.0" r="1.7" fill="#d86060" stroke="#8a2e2e" stroke-width="0.9"/>
<circle cx="320.1" cy="651.5" r="1.7" fill="#d86060" stroke="#8a2e2e" stroke-width="0.9"/>
<circle cx="327.3" cy="657.5" r="1.7" fill="#d86060" stroke="#8a2e2e" stroke-width="0.9"/>
<circle cx="322.9" cy="643.1" r="1.7" fill="#d86060" stroke="#8a2e2e" stroke-width="0.9"/>
<circle cx="320.8" cy="629.5" r="1.7" fill="#d86060" stroke="#8a2e2e" stroke-width="0.9"/>
<circle cx="322.1" cy="637.1" r="1.7" fill="#d86060" stroke="#8a2e2e" stroke-width="0.9"/>
<circle cx="323.6" cy="659.0" r="1.7" fill="#d86060" stroke="#8a2e2e" stroke-width="0.9"/>
<circle cx="324.7" cy="628.2" r="1.7" fill="#d86060" stroke="#8a2e2e" stroke-width="0.9"/>
<circle cx="327.9" cy="652.7" r="1.7" fill="#d86060" stroke="#8a2e2e" stroke-width="0.9"/>
<circle cx="320.5" cy="633.5" r="1.7" fill="#d86060" stroke="#8a2e2e" stroke-width="0.9"/>
<circle cx="324.2" cy="633.3" r="1.7" fill="#d86060" stroke="#8a2e2e" stroke-width="0.9"/>
<circle cx="323.8" cy="633.4" r="1.7" fill="#d86060" stroke="#8a2e2e" stroke-width="0.9"/>
<circle cx="324.4" cy="629.8" r="1.7" fill="#d86060" stroke="#8a2e2e" stroke-width="0.9"/>
<circle cx="320.5" cy="635.1" r="1.7" fill="#d86060" stroke="#8a2e2e" stroke-width="0.9"/>
<circle cx="325.3" cy="639.4" r="1.7" fill="#d86060" stroke="#8a2e2e" stroke-width="0.9"/>
<circle cx="320.9" cy="639.9" r="1.7" fill="#d86060" stroke="#8a2e2e" stroke-width="0.9"/>
<circle cx="326.0" cy="623.3" r="1.7" fill="#dd2222" stroke="#a01818" stroke-width="0.8"/>
<circle cx="326.6" cy="625.0" r="1.7" fill="#dd2222" stroke="#a01818" stroke-width="0.8"/>
<circle cx="321.5" cy="620.9" r="1.7" fill="#dd2222" stroke="#a01818" stroke-width="0.8"/>
<circle cx="325.6" cy="614.2" r="1.7" fill="#dd2222" stroke="#a01818" stroke-width="0.8"/>
<circle cx="326.6" cy="612.9" r="1.7" fill="#dd2222" stroke="#a01818" stroke-width="0.8"/>
<circle cx="323.6" cy="622.1" r="1.7" fill="#dd2222" stroke="#a01818" stroke-width="0.8"/>
<circle cx="325.7" cy="612.1" r="1.7" fill="#dd2222" stroke="#a01818" stroke-width="0.8"/>
<circle cx="326.9" cy="616.8" r="1.7" fill="#dd2222" stroke="#a01818" stroke-width="0.8"/>
<circle cx="322.2" cy="623.8" r="1.7" fill="#dd2222" stroke="#a01818" stroke-width="0.8"/>
<circle cx="325.9" cy="623.4" r="1.7" fill="#dd2222" stroke="#a01818" stroke-width="0.8"/>
<circle cx="324.2" cy="610.4" r="1.7" fill="#dd2222" stroke="#a01818" stroke-width="0.8"/>
<circle cx="323.1" cy="613.7" r="1.7" fill="#dd2222" stroke="#a01818" stroke-width="0.8"/>
<circle cx="327.2" cy="611.7" r="1.7" fill="#dd2222" stroke="#a01818" stroke-width="0.8"/>
<circle cx="322.6" cy="613.5" r="1.7" fill="#dd2222" stroke="#a01818" stroke-width="0.8"/>
<circle cx="323.4" cy="615.6" r="1.7" fill="#dd2222" stroke="#a01818" stroke-width="0.8"/>
<circle cx="323.1" cy="626.2" r="1.7" fill="#dd2222" stroke="#a01818" stroke-width="0.8"/>
<circle cx="325.6" cy="610.9" r="1.7" fill="#dd2222" stroke="#a01818" stroke-width="0.8"/>
<circle cx="321.9" cy="613.0" r="1.7" fill="#dd2222" stroke="#a01818" stroke-width="0.8"/>
<circle cx="323.3" cy="625.5" r="1.7" fill="#dd2222" stroke="#a01818" stroke-width="0.8"/>
<circle cx="324.0" cy="624.0" r="1.7" fill="#dd2222" stroke="#a01818" stroke-width="0.8"/>
<circle cx="327.3" cy="575.8" r="1.7" fill="#d8b0b0" stroke="#6a4a4a" stroke-width="0.9"/>
<circle cx="327.3" cy="580.8" r="1.7" fill="#d8b0b0" stroke="#6a4a4a" stroke-width="0.9"/>
<circle cx="326.3" cy="596.5" r="1.7" fill="#d01818" stroke="#901010" stroke-width="0.9"/>
<path d="M312.40000000000003 667.6L314.6 664L316.8 667.6Z" fill="none" stroke="#a06060" stroke-width="0.9"/>
<path d="M318.2 667.0L320.4 663.4L322.59999999999997 667.0Z" fill="none" stroke="#a06060" stroke-width="0.9"/>
<path d="M322.0 667.9L324.2 664.3L326.4 667.9Z" fill="none" stroke="#a06060" stroke-width="0.9"/>
<path d="M321 611.5L325 603.8L329 611.5Z" fill="#e01010" stroke="#a01010" stroke-width="0.6"/>
<line x1="74" y1="733.8" x2="440" y2="733.8" stroke="#000" stroke-width="1.4" stroke-dasharray="1.2 1.5" stroke-opacity="0.45"/>
<text x="277" y="611.1" font-size="8.2" font-weight="normal" text-anchor="start" fill="#000">rs10828317</text>
<rect x="62.4" y="535.8" width="383.6" height="236.8" fill="none" stroke="#000" stroke-width="1.6"/>
<line x1="57.9" y1="733.3" x2="62.4" y2="733.3" stroke="#000" stroke-width="1.3"/>
<text x="54.5" y="735.5" font-size="6.3" font-weight="bold" text-anchor="end" fill="#000">0</text>
<line x1="57.9" y1="709.6" x2="62.4" y2="709.6" stroke="#000" stroke-width="1.3"/>
<text x="54.5" y="711.9" font-size="6.3" font-weight="bold" text-anchor="end" fill="#000">1</text>
<line x1="57.9" y1="686" x2="62.4" y2="686" stroke="#000" stroke-width="1.3"/>
<text x="54.5" y="688.2" font-size="6.3" font-weight="bold" text-anchor="end" fill="#000">2</text>
<line x1="57.9" y1="662.3" x2="62.4" y2="662.3" stroke="#000" stroke-width="1.3"/>
<text x="54.5" y="664.5" font-size="6.3" font-weight="bold" text-anchor="end" fill="#000">3</text>
<line x1="57.9" y1="638.7" x2="62.4" y2="638.7" stroke="#000" stroke-width="1.3"/>
<text x="54.5" y="640.9" font-size="6.3" font-weight="bold" text-anchor="end" fill="#000">4</text>
<line x1="57.9" y1="615" x2="62.4" y2="615" stroke="#000" stroke-width="1.3"/>
<text x="54.5" y="617.2" font-size="6.3" font-weight="bold" text-anchor="end" fill="#000">5</text>
<line x1="57.9" y1="591.4" x2="62.4" y2="591.4" stroke="#000" stroke-width="1.3"/>
<text x="54.5" y="593.6" font-size="6.3" font-weight="bold" text-anchor="end" fill="#000">6</text>
<line x1="57.9" y1="567.8" x2="62.4" y2="567.8" stroke="#000" stroke-width="1.3"/>
<text x="54.5" y="570" font-size="6.3" font-weight="bold" text-anchor="end" fill="#000">7</text>
<line x1="57.9" y1="544.1" x2="62.4" y2="544.1" stroke="#000" stroke-width="1.3"/>
<text x="54.5" y="546.3" font-size="6.3" font-weight="bold" text-anchor="end" fill="#000">8</text>
<line x1="446" y1="733.3" x2="450.5" y2="733.3" stroke="#000" stroke-width="1.3"/>
<text x="452.7" y="735.5" font-size="6.3" font-weight="normal" text-anchor="start" fill="#333">0</text>
<line x1="446" y1="705.7" x2="450.5" y2="705.7" stroke="#000" stroke-width="1.3"/>
<text x="452.7" y="707.9" font-size="6.3" font-weight="normal" text-anchor="start" fill="#333">10</text>
<line x1="446" y1="678.1" x2="450.5" y2="678.1" stroke="#000" stroke-width="1.3"/>
<text x="452.7" y="680.3" font-size="6.3" font-weight="normal" text-anchor="start" fill="#333">20</text>
<line x1="446" y1="650.5" x2="450.5" y2="650.5" stroke="#000" stroke-width="1.3"/>
<text x="452.7" y="652.7" font-size="6.3" font-weight="normal" text-anchor="start" fill="#333">30</text>
<line x1="446" y1="622.9" x2="450.5" y2="622.9" stroke="#000" stroke-width="1.3"/>
<text x="452.7" y="625.1" font-size="6.3" font-weight="normal" text-anchor="start" fill="#333">40</text>
<line x1="446" y1="595.3" x2="450.5" y2="595.3" stroke="#000" stroke-width="1.3"/>
<text x="452.7" y="597.5" font-size="6.3" font-weight="normal" text-anchor="start" fill="#333">50</text>
<line x1="92.5" y1="772.6" x2="92.5" y2="776.9" stroke="#000" stroke-width="1.3"/>
<text x="92.5" y="788.2" font-size="6.9" font-weight="bold" text-anchor="middle" fill="#000">21400</text>
<line x1="125" y1="772.6" x2="125" y2="776.9" stroke="#000" stroke-width="1.3"/>
<text x="125" y="788.2" font-size="6.9" font-weight="bold" text-anchor="middle" fill="#000">21600</text>
<line x1="157.5" y1="772.6" x2="157.5" y2="776.9" stroke="#000" stroke-width="1.3"/>
<text x="157.5" y="788.2" font-size="6.9" font-weight="bold" text-anchor="middle" fill="#000">21800</text>
<line x1="190" y1="772.6" x2="190" y2="776.9" stroke="#000" stroke-width="1.3"/>
<text x="190" y="788.2" font-size="6.9" font-weight="bold" text-anchor="middle" fill="#000">22000</text>
<line x1="222.5" y1="772.6" x2="222.5" y2="776.9" stroke="#000" stroke-width="1.3"/>
<text x="222.5" y="788.2" font-size="6.9" font-weight="bold" text-anchor="middle" fill="#000">22200</text>
<line x1="255" y1="772.6" x2="255" y2="776.9" stroke="#000" stroke-width="1.3"/>
<text x="255" y="788.2" font-size="6.9" font-weight="bold" text-anchor="middle" fill="#000">22400</text>
<line x1="287.5" y1="772.6" x2="287.5" y2="776.9" stroke="#000" stroke-width="1.3"/>
<text x="287.5" y="788.2" font-size="6.9" font-weight="bold" text-anchor="middle" fill="#000">22600</text>
<line x1="320" y1="772.6" x2="320" y2="776.9" stroke="#000" stroke-width="1.3"/>
<text x="320" y="788.2" font-size="6.9" font-weight="bold" text-anchor="middle" fill="#000">22800</text>
<line x1="352.5" y1="772.6" x2="352.5" y2="776.9" stroke="#000" stroke-width="1.3"/>
<text x="352.5" y="788.2" font-size="6.9" font-weight="bold" text-anchor="middle" fill="#000">23000</text>
<line x1="385" y1="772.6" x2="385" y2="776.9" stroke="#000" stroke-width="1.3"/>
<text x="385" y="788.2" font-size="6.9" font-weight="bold" text-anchor="middle" fill="#000">23200</text>
<line x1="417.5" y1="772.6" x2="417.5" y2="776.9" stroke="#000" stroke-width="1.3"/>
<text x="417.5" y="788.2" font-size="6.9" font-weight="bold" text-anchor="middle" fill="#000">23400</text>
<text x="35.4" y="636.5" font-size="7" font-weight="bold" text-anchor="middle" transform="rotate(-90 35.4 636.5)" dominant-baseline="central">- log<tspan font-size="4.5" dy="1.2">10</tspan><tspan dy="-1.2">P</tspan></text>
<text x="469.7" y="654.6" font-size="6.5" font-weight="bold" text-anchor="middle" transform="rotate(-90 469.7 654.6)" dominant-baseline="central">Recombination rate (cM/Mb)</text>
<text x="254" y="800.3" font-size="6.5" font-weight="bold" text-anchor="middle" fill="#000">Chromosome 10 (kb)</text>
<defs><linearGradient id="cb425" x1="0" y1="0" x2="0" y2="1"><stop offset="0" stop-color="#ff0000"/><stop offset="0.18" stop-color="#f41010"/><stop offset="0.2" stop-color="#ee2a2a"/><stop offset="0.55" stop-color="#f04848"/><stop offset="0.6" stop-color="#f58a8a"/><stop offset="0.85" stop-color="#f8c4c4"/><stop offset="1" stop-color="#fdecec"/></linearGradient></defs>
<rect x="425.8" y="546.5" width="8" height="59.3" fill="url(#cb425)"/>
<text x="429.8" y="564.9" font-size="6.3" font-weight="bold" text-anchor="middle" fill="#3a0000">0.8</text>
<text x="429.8" y="583.7" font-size="6.3" font-weight="bold" text-anchor="middle" fill="#3a0000">0.5</text>
<text x="428.6" y="616.1" font-size="7.5" text-anchor="middle" fill="#222">r<tspan font-size="4.8" dy="-3.2">2</tspan></text>
<line x1="287" y1="739.5" x2="289.5" y2="739.5" stroke="#3a8a5e" stroke-width="1.0"/>
<text x="289.1" y="745.2" font-size="6.2" font-weight="bold" text-anchor="end" fill="#111" font-style="italic">COMMD3</text>
<line x1="287" y1="746" x2="289.5" y2="746" stroke="#3a8a5e" stroke-width="1.0"/>
<text x="289.1" y="751.2" font-size="6.2" font-weight="bold" text-anchor="end" fill="#111" font-style="italic">BMI1</text>
<line x1="291.9" y1="751.8" x2="304" y2="751.8" stroke="#3a8a5e" stroke-width="1.0"/>
<text x="303.5" y="758.1" font-size="6.2" font-weight="bold" text-anchor="end" fill="#111" font-style="italic">SPAG6</text>
<line x1="322" y1="758.6" x2="351" y2="758.6" stroke="#3a8a5e" stroke-width="1.0"/>
<text x="322" y="764.9" font-size="6.2" font-weight="bold" text-anchor="start" fill="#111" font-style="italic">PIP4K2A</text>
<line x1="382" y1="738.2" x2="402.5" y2="738.2" stroke="#3a8a5e" stroke-width="1.0"/>
<text x="403.8" y="745" font-size="6.2" font-weight="bold" text-anchor="end" fill="#111" font-style="italic">ARMC3</text>
<path d="M318.8 756V769L43 856" fill="none" stroke="#888" stroke-width="0.9"/>
<path d="M358.3 756V768.5L501 855.2" fill="none" stroke="#888" stroke-width="0.9"/>
<line x1="38.8" y1="873.7" x2="500.5" y2="873.7" stroke="#000" stroke-width="2.6" stroke-linecap="round"/>
<line x1="38.8" y1="870.5" x2="38.8" y2="876.9" stroke="#000" stroke-width="1.3"/>
<text x="38.8" y="867.1" font-size="8.3" font-weight="normal" text-anchor="middle" fill="#000">22800000</text>
<line x1="131.1" y1="870.5" x2="131.1" y2="876.9" stroke="#000" stroke-width="1.3"/>
<text x="131.1" y="867.1" font-size="8.3" font-weight="normal" text-anchor="middle" fill="#000">22850000</text>
<line x1="223.5" y1="870.5" x2="223.5" y2="876.9" stroke="#000" stroke-width="1.3"/>
<text x="223.5" y="867.1" font-size="8.3" font-weight="normal" text-anchor="middle" fill="#000">22900000</text>
<line x1="315.8" y1="870.5" x2="315.8" y2="876.9" stroke="#000" stroke-width="1.3"/>
<text x="315.8" y="867.1" font-size="8.3" font-weight="normal" text-anchor="middle" fill="#000">22950000</text>
<line x1="408.2" y1="870.5" x2="408.2" y2="876.9" stroke="#000" stroke-width="1.3"/>
<text x="408.2" y="867.1" font-size="8.3" font-weight="normal" text-anchor="middle" fill="#000">23000000</text>
<line x1="500.5" y1="870.5" x2="500.5" y2="876.9" stroke="#000" stroke-width="1.3"/>
<text x="500.5" y="867.1" font-size="8.3" font-weight="normal" text-anchor="middle" fill="#000">23050000</text>
<circle cx="38.8" cy="873.7" r="1.8" fill="#000"/>
<circle cx="500.5" cy="873.7" r="1.8" fill="#000"/>
<text x="44.5" y="887.6" font-size="8" font-weight="normal" text-anchor="start" fill="#33336e">PIP4K2A</text>
<text x="44.5" y="897.2" font-size="8" font-weight="normal" text-anchor="start" fill="#33336e">PIP4K2A</text>
<line x1="88" y1="885" x2="188" y2="885" stroke="#9090b8" stroke-width="0.7" stroke-dasharray="2 1.6"/>
<line x1="88" y1="894.6" x2="415" y2="894.6" stroke="#9090b8" stroke-width="0.7" stroke-dasharray="2 1.6"/>
<rect x="82.3" y="882.8" width="4.4" height="4.4" fill="#1a1a8a"/>
<rect x="90.8" y="881.7" width="0.9" height="6.6" fill="#6a6aa6"/>
<rect x="94.1" y="881.7" width="0.9" height="6.6" fill="#6a6aa6"/>
<rect x="112.1" y="881.7" width="0.9" height="6.6" fill="#6a6aa6"/>
<rect x="143.2" y="881.7" width="0.9" height="6.6" fill="#6a6aa6"/>
<rect x="153" y="881.7" width="0.9" height="6.6" fill="#6a6aa6"/>
<rect x="187.2" y="881.7" width="0.9" height="6.6" fill="#6a6aa6"/>
<rect x="82.3" y="892.4" width="4.4" height="4.4" fill="#1a1a8a"/>
<rect x="90.8" y="891.3" width="0.9" height="6.6" fill="#6a6aa6"/>
<rect x="94.1" y="891.3" width="0.9" height="6.6" fill="#6a6aa6"/>
<rect x="112.1" y="891.3" width="0.9" height="6.6" fill="#6a6aa6"/>
<rect x="153" y="891.3" width="0.9" height="6.6" fill="#6a6aa6"/>
<rect x="187.2" y="891.3" width="0.9" height="6.6" fill="#6a6aa6"/>
<rect x="218.4" y="891.3" width="0.9" height="6.6" fill="#6a6aa6"/>
<rect x="220.2" y="891.3" width="0.9" height="6.6" fill="#6a6aa6"/>
<rect x="414.4" y="891.3" width="0.9" height="6.6" fill="#6a6aa6"/>
<text x="62" y="912.2" font-size="8" font-weight="normal" text-anchor="start" fill="#000">rs10828317</text>
<line x1="112" y1="906.2" x2="112" y2="912.5" stroke="#000" stroke-width="0.9"/>
<text x="152.5" y="912.2" font-size="8" font-weight="normal" text-anchor="start" fill="#000">rs12360495</text>
<line x1="200" y1="906.2" x2="200" y2="912.5" stroke="#000" stroke-width="0.9"/>
<text x="45" y="920.5" font-size="8" font-weight="normal" text-anchor="start" fill="#000">rs9783154</text>
<line x1="89.5" y1="914.5" x2="89.5" y2="920.8" stroke="#000" stroke-width="0.9"/>
<text x="94.5" y="920.5" font-size="8" font-weight="normal" text-anchor="start" fill="#000">rs11013051</text>
<line x1="143" y1="914.5" x2="143" y2="920.8" stroke="#000" stroke-width="0.9"/>
<text x="100.8" y="928.8" font-size="8" font-weight="normal" text-anchor="start" fill="#000">rs2296624</text>
<line x1="144.5" y1="922.8" x2="144.5" y2="929.1" stroke="#000" stroke-width="0.9"/>
<text x="84.5" y="937" font-size="8" font-weight="normal" text-anchor="start" fill="#000">rs35549346</text>
<line x1="132" y1="931" x2="132" y2="937.3" stroke="#000" stroke-width="0.9"/>
<rect x="38.8" y="944.2" width="37.6" height="15.2" fill="#ffffff"/>
<rect x="76.4" y="944.2" width="4.9" height="15.2" fill="#8cee6a"/>
<rect x="81.3" y="944.2" width="72.9" height="15.2" fill="#1aa64e"/>
<rect x="154.2" y="944.2" width="1.3" height="15.2" fill="#f8f20c"/>
<rect x="155.5" y="944.2" width="19.9" height="15.2" fill="#1aa64e"/>
<rect x="175.4" y="944.2" width="1.1" height="15.2" fill="#8cee6a"/>
<rect x="176.5" y="944.2" width="20" height="15.2" fill="#1aa64e"/>
<rect x="196.5" y="944.2" width="1.2" height="15.2" fill="#f8f20c"/>
<rect x="197.7" y="944.2" width="8.5" height="15.2" fill="#f9bc10"/>
<rect x="206.2" y="944.2" width="1.5" height="15.2" fill="#f8f20c"/>
<rect x="207.7" y="944.2" width="3.1" height="15.2" fill="#d8f438"/>
<rect x="210.8" y="944.2" width="7.7" height="15.2" fill="#f9bc10"/>
<rect x="218.5" y="944.2" width="3" height="15.2" fill="#1aa64e"/>
<rect x="221.5" y="944.2" width="3.1" height="15.2" fill="#f9bc10"/>
<rect x="224.6" y="944.2" width="1.6" height="15.2" fill="#f8f20c"/>
<rect x="226.2" y="944.2" width="2.3" height="15.2" fill="#1aa64e"/>
<rect x="228.5" y="944.2" width="2.3" height="15.2" fill="#f8f20c"/>
<rect x="230.8" y="944.2" width="8.4" height="15.2" fill="#f9bc10"/>
<rect x="239.2" y="944.2" width="2.3" height="15.2" fill="#f8f20c"/>
<rect x="241.5" y="944.2" width="3.5" height="15.2" fill="#1aa64e"/>
<rect x="245" y="944.2" width="4.2" height="15.2" fill="#8cee6a"/>
<rect x="249.2" y="944.2" width="8.5" height="15.2" fill="#f8f20c"/>
<rect x="257.7" y="944.2" width="2.3" height="15.2" fill="#f20d0d"/>
<rect x="260" y="944.2" width="3.5" height="15.2" fill="#f8f20c"/>
<rect x="263.5" y="944.2" width="3.3" height="15.2" fill="#1aa64e"/>
<rect x="266.8" y="944.2" width="2" height="15.2" fill="#f8f20c"/>
<rect x="268.8" y="944.2" width="7.7" height="15.2" fill="#f9bc10"/>
<rect x="276.5" y="944.2" width="2.3" height="15.2" fill="#1aa64e"/>
<rect x="278.8" y="944.2" width="3.9" height="15.2" fill="#f8f20c"/>
<rect x="282.7" y="944.2" width="4.6" height="15.2" fill="#d8f438"/>
<rect x="287.3" y="944.2" width="10.7" height="15.2" fill="#f9bc10"/>
<rect x="298" y="944.2" width="2.7" height="15.2" fill="#1aa64e"/>
<rect x="300.7" y="944.2" width="2" height="15.2" fill="#f8f20c"/>
<rect x="302.7" y="944.2" width="2.3" height="15.2" fill="#f9bc10"/>
<rect x="305" y="944.2" width="1" height="15.2" fill="#1aa64e"/>
<rect x="306" y="944.2" width="5.2" height="15.2" fill="#f8f20c"/>
<rect x="311.2" y="944.2" width="3.8" height="15.2" fill="#8cee6a"/>
<rect x="315" y="944.2" width="3" height="15.2" fill="#f8f20c"/>
<rect x="318" y="944.2" width="7" height="15.2" fill="#8cee6a"/>
<rect x="325" y="944.2" width="1.5" height="15.2" fill="#c88a20"/>
<rect x="326.5" y="944.2" width="4.7" height="15.2" fill="#f9bc10"/>
<rect x="331.2" y="944.2" width="11.8" height="15.2" fill="#8cee6a"/>
<rect x="343" y="944.2" width="4.7" height="15.2" fill="#1aa64e"/>
<rect x="347.7" y="944.2" width="3.8" height="15.2" fill="#f8f20c"/>
<rect x="351.5" y="944.2" width="10" height="15.2" fill="#f9bc10"/>
<rect x="361.5" y="944.2" width="7.7" height="15.2" fill="#1aa64e"/>
<rect x="369.2" y="944.2" width="3.8" height="15.2" fill="#f8f20c"/>
<rect x="373" y="944.2" width="6.2" height="15.2" fill="#f9bc10"/>
<rect x="379.2" y="944.2" width="4.6" height="15.2" fill="#f8f20c"/>
<rect x="383.8" y="944.2" width="3.9" height="15.2" fill="#d8f438"/>
<rect x="387.7" y="944.2" width="5.3" height="15.2" fill="#f9bc10"/>
<rect x="393" y="944.2" width="2" height="15.2" fill="#1aa64e"/>
<rect x="395" y="944.2" width="4.2" height="15.2" fill="#f9bc10"/>
<rect x="399.2" y="944.2" width="4.2" height="15.2" fill="#1aa64e"/>
<rect x="403.4" y="944.2" width="2" height="15.2" fill="#8cee6a"/>
<rect x="405.4" y="944.2" width="10.8" height="15.2" fill="#f20d0d"/>
<rect x="416.2" y="944.2" width="13" height="15.2" fill="#8cee6a"/>
<rect x="429.2" y="944.2" width="3.8" height="15.2" fill="#f9bc10"/>
<rect x="433" y="944.2" width="6.8" height="15.2" fill="#d8f438"/>
<rect x="439.8" y="944.2" width="26.4" height="15.2" fill="#f2f2f2"/>
<rect x="466.2" y="944.2" width="1.5" height="15.2" fill="#f9bc10"/>
<rect x="467.7" y="944.2" width="16.3" height="15.2" fill="#f2f2f2"/>
<rect x="484" y="944.2" width="1" height="15.2" fill="#f8f20c"/>
<rect x="485" y="944.2" width="15.4" height="15.2" fill="#f2f2f2"/>
<rect x="38.8" y="944.2" width="461.6" height="15.2" fill="none" stroke="#999" stroke-width="0.8"/>
<path d="M40.3 980.0v-11.7h0.56v11.7zM40.8 980.0v-5.1h0.45v5.1zM41.3 980.0v-6.8h0.58v6.8zM41.8 980.0v-4.1h0.71v4.1zM42.3 980.0v-10.8h0.72v10.8zM42.8 980.0v-3.3h0.74v3.3zM43.3 980.0v-12.4h0.66v12.4zM44.3 980.0v-13.5h0.53v13.5zM44.8 980.0v-12.5h0.51v12.5zM45.3 980.0v-10.4h0.71v10.4zM45.8 980.0v-10.1h0.67v10.1zM46.3 980.0v-6.1h0.51v6.1zM47.3 980.0v-4.8h0.40v4.8zM47.8 980.0v-7.7h0.64v7.7zM48.8 980.0v-9.1h0.49v9.1zM49.3 980.0v-13.6h0.62v13.6zM49.8 980.0v-4.6h0.74v4.6zM51.3 980.0v-11.2h0.81v11.2zM51.8 980.0v-14.5h0.43v14.5zM52.8 980.0v-9.7h0.36v9.7zM53.8 980.0v-14.5h0.75v14.5zM54.8 980.0v-14.5h0.72v14.5zM55.3 980.0v-14.5h0.54v14.5zM55.8 980.0v-3.8h0.58v3.8zM56.3 980.0v-14.5h0.83v14.5zM56.8 980.0v-4.5h0.61v4.5zM57.3 980.0v-11.2h0.76v11.2zM57.8 980.0v-9.7h0.80v9.7zM58.3 980.0v-8.7h0.80v8.7zM59.8 980.0v-9.6h0.70v9.6zM60.8 980.0v-7.1h0.50v7.1zM61.3 980.0v-13.6h0.63v13.6zM61.8 980.0v-14.1h0.40v14.1zM62.3 980.0v-8.5h0.63v8.5zM63.3 980.0v-14.5h0.39v14.5zM63.8 980.0v-11.2h0.47v11.2zM64.3 980.0v-10.3h0.57v10.3zM65.3 980.0v-9.2h0.74v9.2zM65.8 980.0v-14.5h0.45v14.5zM66.3 980.0v-6.0h0.57v6.0zM66.8 980.0v-4.0h0.70v4.0zM67.3 980.0v-12.8h0.62v12.8zM67.8 980.0v-11.0h0.50v11.0zM68.8 980.0v-14.5h0.78v14.5zM69.3 980.0v-13.6h0.69v13.6zM69.8 980.0v-8.0h0.51v8.0zM70.3 980.0v-8.1h0.83v8.1zM70.8 980.0v-9.3h0.56v9.3zM71.8 980.0v-11.3h0.48v11.3zM72.3 980.0v-4.1h0.46v4.1zM72.8 980.0v-14.3h0.60v14.3zM73.3 980.0v-10.2h0.41v10.2zM73.8 980.0v-10.0h0.78v10.0zM74.3 980.0v-14.3h0.47v14.3zM75.3 980.0v-2.8h0.75v2.8zM75.8 980.0v-9.0h0.42v9.0zM76.8 980.0v-13.3h0.55v13.3zM77.3 980.0v-8.0h0.39v8.0zM78.3 980.0v-5.9h0.84v5.9zM79.3 980.0v-1.8h0.66v1.8zM79.8 980.0v-13.2h0.58v13.2zM80.8 980.0v-13.6h0.76v13.6zM81.3 980.0v-11.7h0.51v11.7zM81.8 980.0v-4.2h0.78v4.2zM82.3 980.0v-14.5h0.60v14.5zM82.8 980.0v-14.5h0.60v14.5zM83.3 980.0v-14.5h0.60v14.5zM83.8 980.0v-14.5h0.60v14.5zM84.3 980.0v-14.5h0.60v14.5zM84.8 980.0v-14.5h0.60v14.5zM85.3 980.0v-14.5h0.60v14.5zM85.8 980.0v-14.5h0.60v14.5zM86.3 980.0v-14.5h0.60v14.5zM86.8 980.0v-14.5h0.60v14.5zM87.8 980.0v-7.2h0.51v7.2zM88.8 980.0v-6.0h0.76v6.0zM91.3 980.0v-11.9h0.81v11.9zM92.8 980.0v-3.4h0.77v3.4zM93.3 980.0v-9.2h0.38v9.2zM93.8 980.0v-9.3h0.84v9.3zM95.8 980.0v-5.9h0.65v5.9zM96.3 980.0v-11.7h0.61v11.7zM97.3 980.0v-3.6h0.59v3.6zM97.8 980.0v-12.3h0.50v12.3zM100.3 980.0v-8.8h0.84v8.8zM100.8 980.0v-7.8h0.60v7.8zM102.3 980.0v-14.5h0.36v14.5zM104.3 980.0v-12.8h0.82v12.8zM105.3 980.0v-14.5h0.83v14.5zM105.8 980.0v-14.1h0.39v14.1zM106.3 980.0v-13.8h0.71v13.8zM108.3 980.0v-11.5h0.85v11.5zM109.8 980.0v-13.2h0.72v13.2zM110.3 980.0v-14.0h0.44v14.0zM110.8 980.0v-3.4h0.68v3.4zM111.3 980.0v-14.5h0.35v14.5zM114.8 980.0v-13.8h0.53v13.8zM116.8 980.0v-14.4h0.39v14.4zM117.3 980.0v-12.6h0.66v12.6zM118.3 980.0v-13.9h0.75v13.9zM118.8 980.0v-5.3h0.64v5.3zM120.3 980.0v-10.8h0.75v10.8zM123.8 980.0v-11.8h0.76v11.8zM125.8 980.0v-10.8h0.53v10.8zM126.3 980.0v-10.7h0.84v10.7zM127.3 980.0v-7.3h0.53v7.3zM128.3 980.0v-5.7h0.63v5.7zM128.8 980.0v-2.6h0.65v2.6zM129.8 980.0v-14.5h0.60v14.5zM130.3 980.0v-14.5h0.60v14.5zM130.8 980.0v-14.5h0.60v14.5zM131.3 980.0v-14.5h0.60v14.5zM131.8 980.0v-14.5h0.60v14.5zM132.3 980.0v-14.5h0.60v14.5zM132.8 980.0v-14.5h0.60v14.5zM133.3 980.0v-14.5h0.60v14.5zM133.8 980.0v-14.5h0.60v14.5zM134.3 980.0v-14.5h0.60v14.5zM138.3 980.0v-8.1h0.61v8.1zM138.8 980.0v-14.5h0.67v14.5zM140.8 980.0v-13.3h0.65v13.3zM141.3 980.0v-8.6h0.43v8.6zM141.8 980.0v-8.6h0.50v8.6zM142.3 980.0v-10.5h0.53v10.5zM144.8 980.0v-4.8h0.65v4.8zM145.3 980.0v-14.5h0.56v14.5zM146.3 980.0v-4.3h0.66v4.3zM147.3 980.0v-14.5h0.84v14.5zM149.3 980.0v-13.2h0.72v13.2zM150.3 980.0v-11.2h0.64v11.2zM151.3 980.0v-9.1h0.51v9.1zM152.3 980.0v-3.4h0.41v3.4zM152.8 980.0v-9.9h0.78v9.9zM153.3 980.0v-4.4h0.68v4.4zM153.8 980.0v-11.5h0.72v11.5zM154.3 980.0v-13.2h0.66v13.2zM156.8 980.0v-10.8h0.74v10.8zM159.3 980.0v-12.3h0.37v12.3zM159.8 980.0v-13.1h0.81v13.1zM160.8 980.0v-7.0h0.79v7.0zM161.8 980.0v-2.6h0.79v2.6zM162.8 980.0v-14.5h0.64v14.5zM164.3 980.0v-11.0h0.44v11.0zM165.3 980.0v-13.8h0.41v13.8zM165.8 980.0v-9.3h0.35v9.3zM166.3 980.0v-14.5h0.78v14.5zM166.8 980.0v-14.2h0.46v14.2zM167.3 980.0v-12.2h0.50v12.2zM167.8 980.0v-4.1h0.44v4.1zM168.3 980.0v-14.5h0.37v14.5zM168.8 980.0v-6.7h0.71v6.7zM169.3 980.0v-9.1h0.72v9.1zM169.8 980.0v-9.6h0.51v9.6zM170.3 980.0v-12.1h0.39v12.1zM171.3 980.0v-13.6h0.42v13.6zM171.8 980.0v-6.3h0.39v6.3zM172.3 980.0v-5.3h0.39v5.3zM173.3 980.0v-10.7h0.60v10.7zM174.3 980.0v-2.9h0.68v2.9zM174.8 980.0v-10.8h0.66v10.8zM175.8 980.0v-9.5h0.51v9.5zM176.8 980.0v-13.4h0.83v13.4zM177.3 980.0v-12.5h0.77v12.5zM178.8 980.0v-4.1h0.75v4.1zM180.3 980.0v-14.5h0.66v14.5zM180.8 980.0v-13.7h0.46v13.7zM181.3 980.0v-14.5h0.38v14.5zM182.3 980.0v-11.5h0.70v11.5zM183.3 980.0v-4.2h0.61v4.2zM183.8 980.0v-9.8h0.41v9.8zM184.3 980.0v-11.5h0.38v11.5zM184.8 980.0v-9.3h0.40v9.3zM186.3 980.0v-13.9h0.44v13.9zM187.3 980.0v-13.3h0.82v13.3zM187.8 980.0v-5.8h0.52v5.8zM189.3 980.0v-14.5h0.72v14.5zM190.8 980.0v-13.1h0.36v13.1zM191.3 980.0v-11.1h0.47v11.1zM191.8 980.0v-8.9h0.58v8.9zM194.3 980.0v-13.9h0.73v13.9zM195.3 980.0v-11.2h0.39v11.2zM195.8 980.0v-12.3h0.82v12.3zM196.8 980.0v-13.4h0.78v13.4zM198.3 980.0v-14.5h0.36v14.5zM199.3 980.0v-14.5h0.66v14.5zM199.8 980.0v-5.8h0.37v5.8zM201.3 980.0v-6.9h0.63v6.9zM201.8 980.0v-11.0h0.52v11.0zM202.3 980.0v-12.8h0.47v12.8zM202.8 980.0v-11.4h0.82v11.4zM203.3 980.0v-8.2h0.49v8.2zM203.8 980.0v-10.6h0.76v10.6zM204.3 980.0v-13.1h0.57v13.1zM205.3 980.0v-11.9h0.44v11.9zM206.3 980.0v-13.7h0.65v13.7zM206.8 980.0v-14.5h0.44v14.5zM207.3 980.0v-4.9h0.69v4.9zM207.8 980.0v-13.2h0.39v13.2zM208.3 980.0v-12.1h0.36v12.1zM208.8 980.0v-14.5h0.71v14.5zM209.3 980.0v-14.5h0.63v14.5zM210.3 980.0v-9.2h0.70v9.2zM211.8 980.0v-9.7h0.51v9.7zM212.3 980.0v-4.8h0.72v4.8zM212.8 980.0v-8.8h0.36v8.8zM214.3 980.0v-14.5h0.85v14.5zM216.3 980.0v-7.7h0.47v7.7zM216.8 980.0v-12.2h0.65v12.2zM217.3 980.0v-13.4h0.47v13.4zM217.8 980.0v-4.8h0.47v4.8zM218.8 980.0v-13.2h0.78v13.2zM219.8 980.0v-14.5h0.39v14.5zM220.3 980.0v-14.5h0.69v14.5zM220.8 980.0v-14.1h0.73v14.1zM221.8 980.0v-12.7h0.68v12.7zM222.8 980.0v-14.5h0.71v14.5zM223.3 980.0v-11.6h0.45v11.6zM224.3 980.0v-14.5h0.52v14.5zM225.8 980.0v-11.7h0.47v11.7zM226.3 980.0v-10.0h0.71v10.0zM226.8 980.0v-5.7h0.67v5.7zM227.3 980.0v-11.0h0.57v11.0zM229.3 980.0v-9.5h0.56v9.5zM230.3 980.0v-3.6h0.46v3.6zM230.8 980.0v-3.0h0.53v3.0zM231.3 980.0v-10.2h0.45v10.2zM231.8 980.0v-10.1h0.50v10.1zM232.3 980.0v-10.6h0.73v10.6zM232.8 980.0v-1.5h0.57v1.5zM234.3 980.0v-14.5h0.69v14.5zM235.8 980.0v-6.4h0.75v6.4zM236.3 980.0v-14.5h0.39v14.5zM237.8 980.0v-14.1h0.62v14.1zM238.3 980.0v-6.2h0.74v6.2zM238.8 980.0v-8.1h0.39v8.1zM239.3 980.0v-8.0h0.37v8.0zM239.8 980.0v-8.7h0.36v8.7zM240.3 980.0v-7.9h0.47v7.9zM240.8 980.0v-8.5h0.38v8.5zM242.3 980.0v-12.5h0.64v12.5zM242.8 980.0v-11.1h0.48v11.1zM243.3 980.0v-10.1h0.37v10.1zM243.8 980.0v-14.5h0.74v14.5zM244.3 980.0v-14.5h0.51v14.5zM245.3 980.0v-14.5h0.58v14.5zM246.3 980.0v-9.4h0.52v9.4zM247.8 980.0v-9.6h0.44v9.6zM248.3 980.0v-5.1h0.39v5.1zM248.8 980.0v-9.9h0.80v9.9zM250.3 980.0v-8.4h0.56v8.4zM250.8 980.0v-1.8h0.49v1.8zM251.8 980.0v-10.7h0.47v10.7zM252.8 980.0v-10.8h0.71v10.8zM253.3 980.0v-5.4h0.79v5.4zM253.8 980.0v-14.5h0.76v14.5zM255.3 980.0v-12.1h0.59v12.1zM256.3 980.0v-14.4h0.50v14.4zM257.3 980.0v-3.3h0.79v3.3zM257.8 980.0v-9.1h0.84v9.1zM258.8 980.0v-11.2h0.59v11.2zM259.8 980.0v-7.7h0.82v7.7zM262.3 980.0v-13.7h0.59v13.7zM262.8 980.0v-8.3h0.85v8.3zM264.3 980.0v-12.2h0.55v12.2zM265.3 980.0v-8.9h0.84v8.9zM265.8 980.0v-2.7h0.76v2.7zM266.3 980.0v-7.8h0.58v7.8zM266.8 980.0v-10.1h0.57v10.1zM267.3 980.0v-12.4h0.69v12.4zM267.8 980.0v-7.1h0.41v7.1zM268.3 980.0v-10.2h0.78v10.2zM268.8 980.0v-13.9h0.43v13.9zM271.3 980.0v-7.9h0.57v7.9zM273.3 980.0v-5.1h0.68v5.1zM273.8 980.0v-11.6h0.60v11.6zM274.3 980.0v-8.8h0.81v8.8zM274.8 980.0v-8.9h0.43v8.9zM275.3 980.0v-5.2h0.67v5.2zM275.8 980.0v-7.2h0.75v7.2zM276.8 980.0v-13.2h0.75v13.2zM278.8 980.0v-8.5h0.48v8.5zM279.3 980.0v-10.9h0.62v10.9zM279.8 980.0v-4.0h0.36v4.0zM280.3 980.0v-5.6h0.66v5.6zM281.3 980.0v-12.3h0.56v12.3zM281.8 980.0v-13.3h0.73v13.3zM282.3 980.0v-8.2h0.69v8.2zM283.3 980.0v-9.3h0.54v9.3zM283.8 980.0v-14.0h0.42v14.0zM284.3 980.0v-14.5h0.44v14.5zM284.8 980.0v-13.7h0.66v13.7zM285.3 980.0v-10.2h0.38v10.2zM286.3 980.0v-10.0h0.81v10.0zM286.8 980.0v-9.4h0.53v9.4zM287.3 980.0v-12.0h0.71v12.0zM287.8 980.0v-0.8h0.55v0.8zM288.3 980.0v-11.8h0.43v11.8zM288.8 980.0v-10.4h0.84v10.4zM289.3 980.0v-7.5h0.52v7.5zM290.3 980.0v-7.2h0.71v7.2zM290.8 980.0v-3.7h0.77v3.7zM291.3 980.0v-8.0h0.62v8.0zM291.8 980.0v-13.5h0.42v13.5zM292.8 980.0v-4.8h0.70v4.8zM293.8 980.0v-2.4h0.45v2.4zM294.8 980.0v-14.5h0.36v14.5zM296.3 980.0v-14.0h0.44v14.0zM299.8 980.0v-2.3h0.44v2.3zM300.8 980.0v-10.6h0.59v10.6zM301.3 980.0v-14.5h0.63v14.5zM302.3 980.0v-14.5h0.59v14.5zM302.8 980.0v-13.8h0.42v13.8zM304.3 980.0v-5.5h0.61v5.5zM304.8 980.0v-0.5h0.76v0.5zM306.8 980.0v-14.5h0.47v14.5zM307.3 980.0v-10.3h0.69v10.3zM307.8 980.0v-3.3h0.82v3.3zM308.3 980.0v-13.3h0.58v13.3zM309.8 980.0v-11.2h0.70v11.2zM310.3 980.0v-1.8h0.85v1.8zM310.8 980.0v-13.9h0.62v13.9zM311.3 980.0v-4.5h0.47v4.5zM312.8 980.0v-10.0h0.83v10.0zM313.3 980.0v-8.3h0.61v8.3zM313.8 980.0v-11.5h0.39v11.5zM314.3 980.0v-4.7h0.37v4.7zM315.3 980.0v-5.7h0.55v5.7zM316.3 980.0v-7.7h0.59v7.7zM317.8 980.0v-12.1h0.53v12.1zM318.8 980.0v-6.8h0.59v6.8zM320.8 980.0v-13.8h0.81v13.8zM321.3 980.0v-6.4h0.46v6.4zM321.8 980.0v-5.4h0.60v5.4zM322.8 980.0v-11.2h0.69v11.2zM324.8 980.0v-3.2h0.50v3.2zM325.3 980.0v-14.5h0.71v14.5zM325.8 980.0v-8.6h0.56v8.6zM327.3 980.0v-12.9h0.56v12.9zM328.3 980.0v-13.5h0.64v13.5zM329.8 980.0v-10.0h0.66v10.0zM331.3 980.0v-10.6h0.60v10.6zM331.8 980.0v-8.4h0.38v8.4zM332.3 980.0v-5.6h0.39v5.6zM332.8 980.0v-14.5h0.55v14.5zM336.3 980.0v-0.6h0.83v0.6zM336.8 980.0v-12.4h0.83v12.4zM337.8 980.0v-8.5h0.65v8.5zM338.8 980.0v-13.9h0.35v13.9zM339.3 980.0v-14.3h0.79v14.3zM340.8 980.0v-9.8h0.59v9.8zM341.3 980.0v-6.8h0.54v6.8zM341.8 980.0v-1.8h0.64v1.8zM342.3 980.0v-11.4h0.38v11.4zM342.8 980.0v-10.2h0.73v10.2zM344.8 980.0v-10.9h0.62v10.9zM346.3 980.0v-12.8h0.71v12.8zM347.8 980.0v-9.6h0.47v9.6zM348.3 980.0v-14.5h0.72v14.5zM349.3 980.0v-13.5h0.36v13.5zM349.8 980.0v-8.3h0.50v8.3zM350.8 980.0v-14.5h0.68v14.5zM351.8 980.0v-14.5h0.63v14.5zM353.3 980.0v-11.9h0.44v11.9zM353.8 980.0v-13.1h0.36v13.1zM354.8 980.0v-14.5h0.50v14.5zM355.8 980.0v-12.8h0.44v12.8zM356.3 980.0v-7.6h0.84v7.6zM357.3 980.0v-14.5h0.82v14.5zM357.8 980.0v-12.0h0.46v12.0zM358.3 980.0v-8.1h0.46v8.1zM359.3 980.0v-8.5h0.42v8.5zM359.8 980.0v-13.6h0.49v13.6zM360.8 980.0v-2.2h0.47v2.2zM361.3 980.0v-8.2h0.55v8.2zM362.8 980.0v-14.5h0.53v14.5zM363.8 980.0v-13.4h0.64v13.4zM364.3 980.0v-6.0h0.39v6.0zM364.8 980.0v-14.3h0.81v14.3zM365.3 980.0v-3.7h0.45v3.7zM366.3 980.0v-9.7h0.39v9.7zM366.8 980.0v-8.7h0.84v8.7zM367.8 980.0v-14.2h0.69v14.2zM368.3 980.0v-13.6h0.37v13.6zM368.8 980.0v-14.1h0.61v14.1zM370.8 980.0v-6.0h0.49v6.0zM371.8 980.0v-13.5h0.74v13.5zM372.3 980.0v-13.2h0.74v13.2zM372.8 980.0v-11.0h0.59v11.0zM373.3 980.0v-6.6h0.64v6.6zM374.3 980.0v-9.7h0.54v9.7zM374.8 980.0v-14.5h0.71v14.5zM375.3 980.0v-10.9h0.52v10.9zM375.8 980.0v-4.7h0.65v4.7zM376.3 980.0v-12.6h0.41v12.6zM376.8 980.0v-10.0h0.67v10.0zM377.3 980.0v-13.7h0.61v13.7zM377.8 980.0v-5.9h0.76v5.9zM378.3 980.0v-11.7h0.50v11.7zM378.8 980.0v-14.5h0.42v14.5zM379.3 980.0v-1.3h0.53v1.3zM379.8 980.0v-2.8h0.69v2.8zM380.8 980.0v-11.8h0.83v11.8zM381.3 980.0v-5.6h0.60v5.6zM381.8 980.0v-11.6h0.77v11.6zM382.8 980.0v-11.3h0.60v11.3zM383.3 980.0v-6.2h0.65v6.2zM383.8 980.0v-12.7h0.39v12.7zM384.3 980.0v-14.4h0.52v14.4zM384.8 980.0v-10.9h0.59v10.9zM385.3 980.0v-14.0h0.84v14.0zM385.8 980.0v-7.9h0.49v7.9zM386.8 980.0v-11.4h0.66v11.4zM387.3 980.0v-10.9h0.62v10.9zM389.3 980.0v-10.8h0.65v10.8zM389.8 980.0v-9.1h0.47v9.1zM390.3 980.0v-12.9h0.48v12.9zM390.8 980.0v-6.6h0.55v6.6zM392.3 980.0v-8.7h0.44v8.7zM393.8 980.0v-10.1h0.55v10.1zM394.3 980.0v-12.5h0.76v12.5zM394.8 980.0v-14.5h0.65v14.5zM395.3 980.0v-12.7h0.42v12.7zM395.8 980.0v-11.6h0.44v11.6zM396.3 980.0v-9.2h0.78v9.2zM396.8 980.0v-10.4h0.66v10.4zM397.3 980.0v-9.1h0.78v9.1zM399.3 980.0v-7.1h0.53v7.1zM399.8 980.0v-10.1h0.66v10.1zM401.3 980.0v-14.2h0.47v14.2zM401.8 980.0v-7.1h0.50v7.1zM402.8 980.0v-14.5h0.59v14.5zM403.3 980.0v-12.0h0.37v12.0zM403.8 980.0v-8.8h0.59v8.8zM404.3 980.0v-12.5h0.67v12.5zM404.8 980.0v-11.0h0.56v11.0zM405.3 980.0v-6.2h0.75v6.2zM405.8 980.0v-7.4h0.51v7.4zM406.8 980.0v-5.6h0.46v5.6zM407.3 980.0v-14.1h0.35v14.1zM407.8 980.0v-13.1h0.39v13.1zM409.3 980.0v-12.8h0.63v12.8zM412.8 980.0v-12.3h0.56v12.3zM414.3 980.0v-11.2h0.84v11.2zM415.3 980.0v-10.5h0.39v10.5zM415.8 980.0v-13.9h0.44v13.9zM417.8 980.0v-3.2h0.56v3.2zM419.8 980.0v-9.9h0.71v9.9zM420.3 980.0v-14.0h0.84v14.0zM420.8 980.0v-11.9h0.37v11.9zM422.8 980.0v-14.5h0.35v14.5zM423.8 980.0v-9.6h0.49v9.6zM424.3 980.0v-14.5h0.76v14.5zM424.8 980.0v-5.8h0.60v5.8zM425.3 980.0v-11.3h0.69v11.3zM426.3 980.0v-7.6h0.44v7.6zM427.8 980.0v-9.9h0.76v9.9zM429.3 980.0v-11.8h0.35v11.8zM429.8 980.0v-14.2h0.81v14.2zM431.3 980.0v-8.9h0.64v8.9zM432.8 980.0v-10.2h0.57v10.2zM435.8 980.0v-3.3h0.36v3.3zM437.3 980.0v-14.5h0.70v14.5zM438.3 980.0v-8.1h0.63v8.1zM438.8 980.0v-11.2h0.68v11.2zM439.8 980.0v-14.5h0.48v14.5zM440.8 980.0v-2.5h0.53v2.5zM442.3 980.0v-5.7h0.67v5.7zM442.8 980.0v-10.9h0.41v10.9zM444.8 980.0v-13.7h0.61v13.7zM445.3 980.0v-12.9h0.46v12.9zM446.8 980.0v-12.8h0.58v12.8zM447.3 980.0v-10.4h0.65v10.4zM447.8 980.0v-5.7h0.73v5.7zM448.3 980.0v-14.5h0.55v14.5zM449.3 980.0v-1.7h0.69v1.7zM449.8 980.0v-11.4h0.70v11.4zM450.8 980.0v-5.8h0.76v5.8zM451.8 980.0v-12.0h0.83v12.0zM452.3 980.0v-10.8h0.74v10.8zM454.3 980.0v-6.9h0.51v6.9zM454.8 980.0v-10.0h0.41v10.0zM457.8 980.0v-7.5h0.46v7.5zM458.3 980.0v-14.5h0.69v14.5zM459.8 980.0v-11.0h0.37v11.0zM460.8 980.0v-4.1h0.82v4.1zM461.3 980.0v-1.6h0.47v1.6zM461.8 980.0v-10.7h0.35v10.7zM462.3 980.0v-12.5h0.68v12.5zM462.8 980.0v-13.1h0.42v13.1zM463.3 980.0v-1.9h0.44v1.9zM464.3 980.0v-14.5h0.72v14.5zM467.8 980.0v-12.7h0.39v12.7zM468.8 980.0v-14.5h0.69v14.5zM470.3 980.0v-10.7h0.58v10.7zM470.8 980.0v-14.2h0.43v14.2zM471.3 980.0v-8.5h0.70v8.5zM471.8 980.0v-8.2h0.64v8.2zM472.3 980.0v-6.1h0.75v6.1zM472.8 980.0v-12.8h0.36v12.8zM473.8 980.0v-11.3h0.44v11.3zM474.3 980.0v-13.7h0.61v13.7zM475.3 980.0v-14.5h0.80v14.5zM475.8 980.0v-14.5h0.49v14.5zM476.8 980.0v-11.0h0.66v11.0zM477.8 980.0v-3.9h0.49v3.9zM478.8 980.0v-10.2h0.68v10.2zM479.3 980.0v-14.5h0.55v14.5zM479.8 980.0v-14.5h0.38v14.5zM480.3 980.0v-12.6h0.68v12.6zM480.8 980.0v-9.9h0.80v9.9zM481.8 980.0v-9.9h0.35v9.9zM482.3 980.0v-8.8h0.53v8.8zM483.3 980.0v-10.1h0.77v10.1zM483.8 980.0v-6.8h0.53v6.8zM485.3 980.0v-10.2h0.65v10.2zM487.3 980.0v-8.6h0.37v8.6zM487.8 980.0v-9.4h0.57v9.4zM489.3 980.0v-14.5h0.70v14.5zM489.8 980.0v-12.7h0.41v12.7zM490.3 980.0v-12.4h0.42v12.4zM491.3 980.0v-12.5h0.51v12.5zM492.3 980.0v-14.4h0.75v14.4zM492.8 980.0v-12.3h0.40v12.3zM493.8 980.0v-14.5h0.41v14.5zM494.3 980.0v-14.5h0.69v14.5zM495.3 980.0v-10.0h0.71v10.0zM495.8 980.0v-13.8h0.65v13.8zM496.3 980.0v-10.9h0.56v10.9zM498.8 980.0v-6.4h0.85v6.4zM499.3 980.0v-12.1h0.77v12.1zM499.8 980.0v-3.0h0.74v3.0z" fill="#000"/>
<polygon points="38.8,980.0 38.8,978.3 39.8,978.0 40.8,977.1 41.8,977.2 42.8,976.4 43.8,977.5 44.8,978.3 45.8,976.7 46.8,977.6 47.8,978.1 48.8,978.4 49.8,978.1 50.8,978.5 51.8,978.4 52.8,977.4 53.8,978.5 54.8,978.3 55.8,976.8 56.8,978.3 57.8,976.7 58.8,978.7 59.8,977.9 60.8,978.4 61.8,977.3 62.8,977.4 63.8,976.7 64.8,977.6 65.8,976.4 66.8,978.6 67.8,977.1 68.8,978.6 69.8,977.8 70.8,976.3 71.8,978.1 72.8,978.6 73.8,976.1 74.8,978.8 75.8,977.1 76.8,978.4 77.8,977.1 78.8,976.5 79.8,978.5 80.8,976.2 81.8,976.9 82.8,978.5 83.8,978.3 84.8,977.7 85.8,976.6 86.8,976.4 87.8,978.3 88.8,976.4 89.8,977.1 90.8,978.7 91.8,977.3 92.8,978.0 93.8,977.2 94.8,976.6 95.8,978.5 96.8,978.6 97.8,978.6 98.8,977.3 99.8,976.7 100.8,978.0 101.8,976.8 102.8,976.4 103.8,977.4 104.8,978.5 105.8,978.8 106.8,978.5 107.8,976.7 108.8,976.5 109.8,978.8 110.8,977.0 111.8,976.2 112.8,978.0 113.8,976.1 114.8,976.6 115.8,978.3 116.8,978.3 117.8,976.4 118.8,978.0 119.8,978.7 120.8,978.8 121.8,976.9 122.8,976.9 123.8,978.3 124.8,976.3 125.8,977.8 126.8,978.1 127.8,978.1 128.8,977.0 129.8,976.7 130.8,976.4 131.8,978.6 132.8,977.0 133.8,977.9 134.8,978.6 135.8,977.0 136.8,978.3 137.8,978.6 138.8,976.1 139.8,978.7 140.8,977.4 141.8,977.7 142.8,978.3 143.8,976.0 144.8,978.6 145.8,978.6 146.8,977.9 147.8,977.2 148.8,977.2 149.8,976.8 150.8,977.2 151.8,977.5 152.8,976.1 153.8,978.5 154.8,977.5 155.8,977.9 156.8,976.1 157.8,977.4 158.8,977.4 159.8,976.6 160.8,976.0 161.8,976.9 162.8,978.7 163.8,978.4 164.8,978.4 165.8,978.7 166.8,978.7 167.8,976.1 168.8,977.7 169.8,976.7 170.8,978.1 171.8,978.2 172.8,976.0 173.8,978.6 174.8,976.4 175.8,978.6 176.8,977.5 177.8,977.6 178.8,977.2 179.8,977.1 180.8,978.4 181.8,976.4 182.8,978.2 183.8,978.1 184.8,978.7 185.8,978.2 186.8,977.2 187.8,977.5 188.8,976.1 189.8,976.5 190.8,977.8 191.8,977.9 192.8,977.4 193.8,978.0 194.8,977.8 195.8,977.0 196.8,978.2 197.8,976.1 198.8,976.3 199.8,976.9 200.8,976.8 201.8,976.0 202.8,977.5 203.8,977.6 204.8,977.0 205.8,976.6 206.8,977.6 207.8,978.2 208.8,976.0 209.8,976.8 210.8,976.9 211.8,978.6 212.8,977.7 213.8,977.1 214.8,976.4 215.8,977.9 216.8,978.6 217.8,976.8 218.8,976.4 219.8,977.3 220.8,976.8 221.8,977.9 222.8,977.9 223.8,978.5 224.8,978.5 225.8,976.6 226.8,976.5 227.8,977.2 228.8,977.3 229.8,977.4 230.8,976.6 231.8,978.6 232.8,978.2 233.8,978.4 234.8,976.1 235.8,977.4 236.8,976.8 237.8,977.9 238.8,976.5 239.8,976.6 240.8,977.7 241.8,976.0 242.8,976.0 243.8,976.7 244.8,977.8 245.8,976.2 246.8,976.1 247.8,977.2 248.8,977.8 249.8,977.0 250.8,977.9 251.8,978.5 252.8,978.0 253.8,977.7 254.8,977.4 255.8,977.3 256.8,976.2 257.8,977.0 258.8,977.5 259.8,977.4 260.8,976.6 261.8,977.0 262.8,977.6 263.8,977.7 264.8,976.7 265.8,977.0 266.8,977.8 267.8,978.4 268.8,978.3 269.8,978.7 270.8,976.8 271.8,976.4 272.8,977.2 273.8,978.7 274.8,977.8 275.8,978.2 276.8,978.5 277.8,977.1 278.8,976.4 279.8,976.4 280.8,976.5 281.8,978.1 282.8,976.7 283.8,978.0 284.8,977.8 285.8,976.6 286.8,978.7 287.8,977.1 288.8,977.9 289.8,977.5 290.8,978.2 291.8,978.2 292.8,976.1 293.8,977.5 294.8,978.2 295.8,977.0 296.8,976.3 297.8,977.4 298.8,977.2 299.8,976.5 300.8,976.3 301.8,977.5 302.8,977.2 303.8,978.4 304.8,978.4 305.8,976.1 306.8,978.1 307.8,977.3 308.8,978.2 309.8,978.5 310.8,978.1 311.8,977.6 312.8,978.1 313.8,976.2 314.8,978.0 315.8,976.2 316.8,977.0 317.8,976.3 318.8,977.5 319.8,978.7 320.8,978.4 321.8,978.6 322.8,978.4 323.8,978.7 324.8,978.1 325.8,977.4 326.8,976.9 327.8,978.3 328.8,977.6 329.8,976.7 330.8,978.5 331.8,976.8 332.8,978.6 333.8,978.8 334.8,976.6 335.8,977.3 336.8,977.1 337.8,978.0 338.8,978.4 339.8,977.2 340.8,977.9 341.8,976.0 342.8,976.6 343.8,976.3 344.8,978.3 345.8,977.8 346.8,977.7 347.8,978.5 348.8,977.5 349.8,977.1 350.8,978.0 351.8,978.3 352.8,978.7 353.8,978.2 354.8,977.4 355.8,976.0 356.8,976.8 357.8,978.1 358.8,978.1 359.8,978.2 360.8,976.3 361.8,978.8 362.8,976.2 363.8,976.6 364.8,978.0 365.8,977.2 366.8,978.5 367.8,976.8 368.8,978.5 369.8,976.1 370.8,977.6 371.8,977.0 372.8,976.1 373.8,976.3 374.8,976.5 375.8,977.1 376.8,977.8 377.8,977.3 378.8,976.7 379.8,977.9 380.8,976.2 381.8,977.1 382.8,976.2 383.8,978.4 384.8,977.4 385.8,977.4 386.8,978.0 387.8,977.2 388.8,977.4 389.8,977.8 390.8,978.1 391.8,977.4 392.8,977.7 393.8,978.1 394.8,978.7 395.8,977.5 396.8,976.9 397.8,978.4 398.8,976.3 399.8,978.4 400.8,978.5 401.8,978.7 402.8,976.5 403.8,978.3 404.8,978.6 405.8,976.9 406.8,978.1 407.8,977.8 408.8,977.2 409.8,978.0 410.8,976.3 411.8,977.6 412.8,977.0 413.8,976.9 414.8,977.3 415.8,976.7 416.8,978.0 417.8,978.3 418.8,977.5 419.8,976.5 420.8,977.5 421.8,977.5 422.8,976.3 423.8,976.4 424.8,976.1 425.8,976.8 426.8,976.9 427.8,977.6 428.8,978.1 429.8,976.4 430.8,977.0 431.8,976.1 432.8,978.1 433.8,976.2 434.8,978.2 435.8,976.7 436.8,977.6 437.8,976.5 438.8,977.1 439.8,978.0 440.8,976.5 441.8,978.3 442.8,976.7 443.8,977.0 444.8,976.7 445.8,976.4 446.8,978.4 447.8,976.4 448.8,976.7 449.8,976.6 450.8,976.1 451.8,977.1 452.8,976.6 453.8,977.4 454.8,976.2 455.8,977.4 456.8,977.3 457.8,978.8 458.8,977.7 459.8,978.5 460.8,978.8 461.8,977.3 462.8,978.6 463.8,978.5 464.8,976.1 465.8,978.2 466.8,977.9 467.8,976.8 468.8,978.7 469.8,976.4 470.8,977.5 471.8,978.6 472.8,978.5 473.8,977.9 474.8,976.9 475.8,977.4 476.8,977.9 477.8,978.6 478.8,976.8 479.8,978.1 480.8,977.5 481.8,977.6 482.8,977.2 483.8,976.2 484.8,976.6 485.8,976.3 486.8,978.0 487.8,977.0 488.8,976.9 489.8,976.7 490.8,977.6 491.8,976.2 492.8,977.5 493.8,976.3 494.8,977.5 495.8,976.8 496.8,978.2 497.8,978.2 498.8,977.3 499.8,977.0 500.4,980.0" fill="#111"/>
<line x1="38.8" y1="979.7" x2="500.4" y2="979.7" stroke="#444" stroke-width="0.8"/>
<text x="3" y="973" font-size="4.3" font-weight="bold" text-anchor="middle" dominant-baseline="central" fill="#222" transform="rotate(-90 3 973)">phastCons</text>
<text x="13" y="968.2" font-size="4" font-weight="bold" text-anchor="middle" dominant-baseline="central" fill="#333" transform="rotate(-90 13 968.2)">0.8</text>
<text x="13" y="978.7" font-size="4" font-weight="bold" text-anchor="middle" dominant-baseline="central" fill="#333" transform="rotate(-90 13 978.7)">0.0</text>
<line x1="17.3" y1="965.5" x2="20.2" y2="965.5" stroke="#333" stroke-width="0.7"/>
<line x1="17.3" y1="968.5" x2="20.2" y2="968.5" stroke="#333" stroke-width="0.7"/>
<line x1="17.3" y1="971.5" x2="20.2" y2="971.5" stroke="#333" stroke-width="0.7"/>
<line x1="17.3" y1="974.5" x2="20.2" y2="974.5" stroke="#333" stroke-width="0.7"/>
<line x1="17.3" y1="977.5" x2="20.2" y2="977.5" stroke="#333" stroke-width="0.7"/>
<line x1="17.3" y1="980.5" x2="20.2" y2="980.5" stroke="#333" stroke-width="0.7"/>
<line x1="20.2" y1="965.5" x2="20.2" y2="980.5" stroke="#333" stroke-width="0.7"/>
</svg></body></html>
